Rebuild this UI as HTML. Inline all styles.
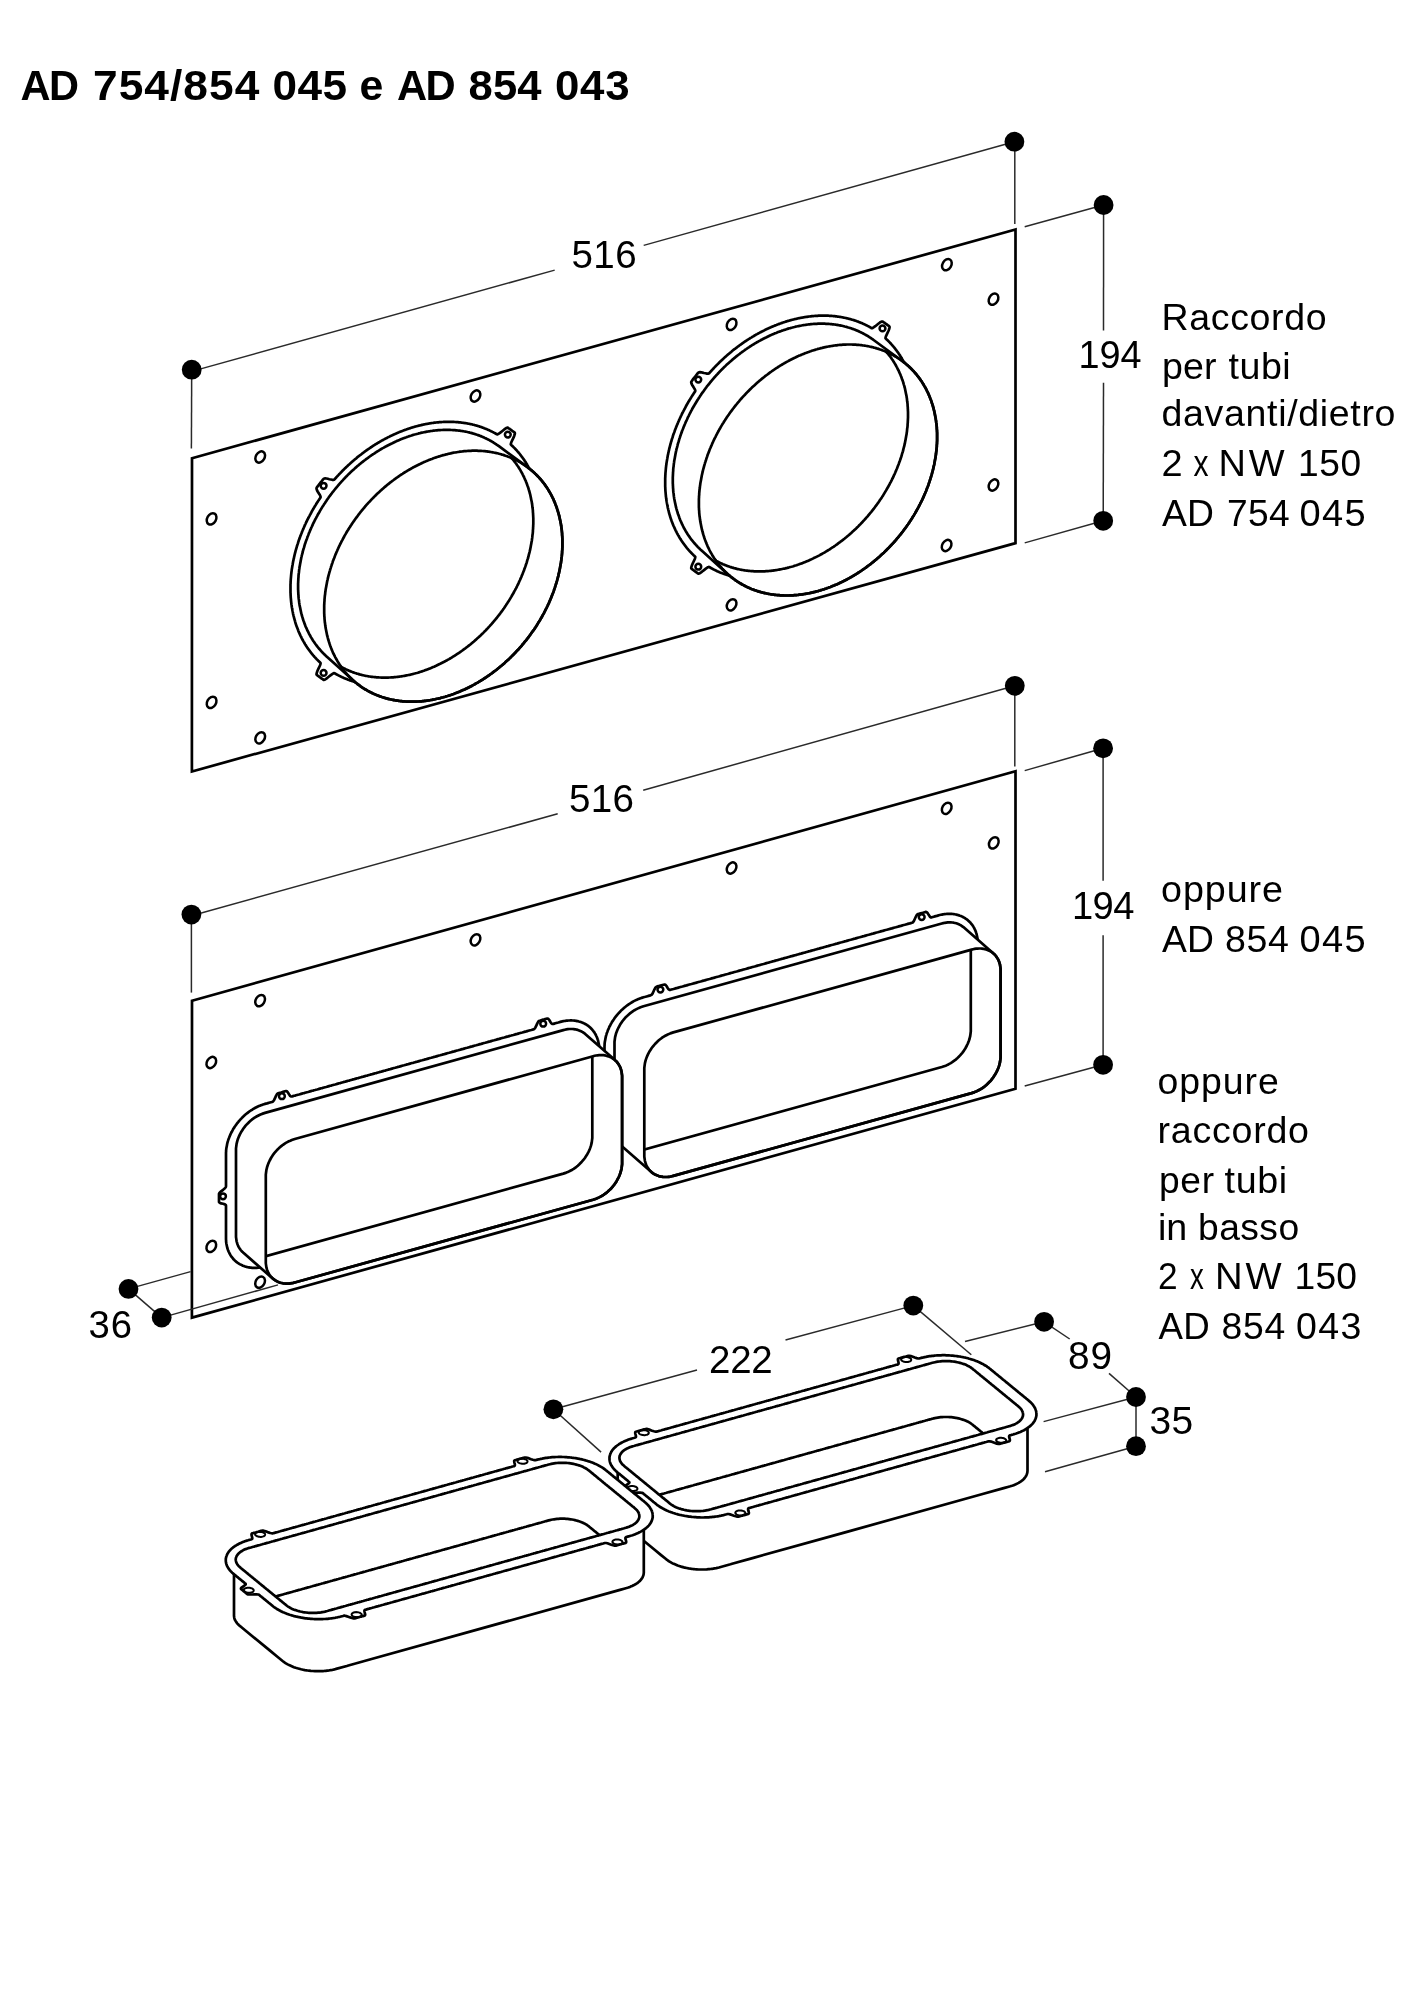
<!DOCTYPE html>
<html><head><meta charset="utf-8"><style>
html,body{margin:0;padding:0;background:#fff;}
svg{display:block;will-change:transform;}
.t{font-family:"Liberation Sans",sans-serif;fill:#000;}
</style></head><body>
<svg width="1424" height="2000" viewBox="0 0 1424 2000">
<rect width="1424" height="2000" fill="#fff"/>
<path d="M192.0,458.2 L1015.5,229.5 L1015.5,543.1 L191.9,771.5Z" fill="#fff" stroke="#000" stroke-width="2.7" stroke-linecap="round" stroke-linejoin="miter"/>
<ellipse cx="260.2" cy="457.0" rx="6.0" ry="4.4" transform="rotate(-60 260.2 457.0)" fill="none" stroke="#000" stroke-width="2.5"/>
<ellipse cx="211.6" cy="518.9" rx="6.0" ry="4.4" transform="rotate(-60 211.6 518.9)" fill="none" stroke="#000" stroke-width="2.5"/>
<ellipse cx="211.6" cy="702.4" rx="6.0" ry="4.4" transform="rotate(-60 211.6 702.4)" fill="none" stroke="#000" stroke-width="2.5"/>
<ellipse cx="260.2" cy="737.8" rx="6.0" ry="4.4" transform="rotate(-60 260.2 737.8)" fill="none" stroke="#000" stroke-width="2.5"/>
<ellipse cx="475.5" cy="396.0" rx="6.0" ry="4.4" transform="rotate(-60 475.5 396.0)" fill="none" stroke="#000" stroke-width="2.5"/>
<ellipse cx="731.6" cy="324.4" rx="6.0" ry="4.4" transform="rotate(-60 731.6 324.4)" fill="none" stroke="#000" stroke-width="2.5"/>
<ellipse cx="946.9" cy="264.7" rx="6.0" ry="4.4" transform="rotate(-60 946.9 264.7)" fill="none" stroke="#000" stroke-width="2.5"/>
<ellipse cx="993.5" cy="299.2" rx="6.0" ry="4.4" transform="rotate(-60 993.5 299.2)" fill="none" stroke="#000" stroke-width="2.5"/>
<ellipse cx="993.5" cy="485.0" rx="6.0" ry="4.4" transform="rotate(-60 993.5 485.0)" fill="none" stroke="#000" stroke-width="2.5"/>
<ellipse cx="946.6" cy="545.5" rx="6.0" ry="4.4" transform="rotate(-60 946.6 545.5)" fill="none" stroke="#000" stroke-width="2.5"/>
<ellipse cx="731.6" cy="604.8" rx="6.0" ry="4.4" transform="rotate(-60 731.6 604.8)" fill="none" stroke="#000" stroke-width="2.5"/>
<ellipse cx="475.5" cy="675.0" rx="6.0" ry="4.4" transform="rotate(-60 475.5 675.0)" fill="none" stroke="#000" stroke-width="2.5"/>
<path d="M540.9,519.0 L540.9,519.5 L540.9,520.1 L540.9,520.7 L540.9,521.3 L540.9,521.8 L540.9,522.4 L540.9,523.0 L540.9,523.6 L540.8,524.1 L540.8,524.7 L540.8,525.3 L540.8,525.9 L540.7,526.4 L540.7,527.0 L540.7,527.6 L540.6,528.2 L540.6,528.8 L540.5,529.4 L540.5,529.9 L540.4,530.5 L540.4,531.1 L540.3,531.7 L540.3,532.3 L540.2,532.9 L540.2,533.4 L540.1,534.0 L540.0,534.6 L540.0,535.2 L539.9,535.8 L539.8,536.4 L539.7,537.0 L539.7,537.5 L539.6,538.1 L539.5,538.7 L539.4,539.3 L539.3,539.9 L539.2,540.5 L539.1,541.1 L539.0,541.7 L538.9,542.3 L538.8,542.8 L538.7,543.4 L538.6,544.0 L538.5,544.6 L538.4,545.2 L538.3,545.8 L538.2,546.4 L538.0,547.0 L537.9,547.6 L537.8,548.2 L537.7,548.8 L537.5,549.3 L537.4,549.9 L537.3,550.5 L537.1,551.1 L537.0,551.7 L536.9,552.3 L536.7,552.9 L536.6,553.5 L536.4,554.1 L536.3,554.7 L536.1,555.3 L536.0,555.9 L535.8,556.4 L535.7,557.0 L535.5,557.6 L535.3,558.2 L535.2,558.8 L535.0,559.4 L534.8,560.0 L534.6,560.6 L534.5,561.2 L534.3,561.8 L534.1,562.4 L533.9,563.0 L533.7,563.5 L533.5,564.1 L533.3,564.7 L533.2,565.3 L533.0,565.9 L532.8,566.5 L532.6,567.1 L532.4,567.7 L532.1,568.3 L531.9,568.9 L531.7,569.4 L531.5,570.0 L531.3,570.6 L531.1,571.2 L530.9,571.8 L530.6,572.4 L530.4,573.0 L530.2,573.5 L530.0,574.1 L529.7,574.7 L529.5,575.3 L529.3,575.9 L529.0,576.5 L528.8,577.1 L528.5,577.6 L528.3,578.2 L528.0,578.8 L527.8,579.4 L527.5,580.0 L527.3,580.5 L527.0,581.1 L526.8,581.7 L526.5,582.3 L526.3,582.9 L526.0,583.4 L525.7,584.0 L525.5,584.6 L525.2,585.2 L524.9,585.7 L524.6,586.3 L524.4,586.9 L524.1,587.5 L523.8,588.0 L523.5,588.6 L523.2,589.2 L522.9,589.7 L522.6,590.3 L522.3,590.9 L522.0,591.4 L521.7,592.0 L521.4,592.6 L521.1,593.1 L520.8,593.7 L520.5,594.3 L520.2,594.8 L519.9,595.4 L519.6,596.0 L519.3,596.5 L519.0,597.1 L518.7,597.6 L518.3,598.2 L518.0,598.8 L517.7,599.3 L517.4,599.9 L517.0,600.4 L516.7,601.0 L516.4,601.5 L516.0,602.1 L515.7,602.6 L515.3,603.2 L515.0,603.7 L514.7,604.3 L514.3,604.8 L514.0,605.4 L513.6,605.9 L513.3,606.5 L512.9,607.0 L512.6,607.5 L512.2,608.1 L511.8,608.6 L511.5,609.2 L511.1,609.7 L510.8,610.3 L510.9,611.1 L511.3,612.1 L512.0,613.2 L512.8,614.5 L513.6,615.8 L514.3,617.0 L514.7,618.1 L514.9,619.1 L514.7,619.8 L514.3,620.3 L513.9,620.9 L513.5,621.5 L513.0,622.0 L512.6,622.6 L512.2,623.1 L511.8,623.7 L511.3,624.3 L510.9,624.8 L510.5,625.4 L510.0,625.9 L509.6,626.5 L509.2,627.0 L508.7,627.6 L508.3,628.1 L507.8,628.6 L507.2,629.0 L506.2,629.1 L505.0,629.0 L503.6,628.7 L502.1,628.3 L500.6,628.0 L499.2,627.7 L498.1,627.6 L497.3,627.8 L496.8,628.2 L496.4,628.7 L496.0,629.2 L495.5,629.6 L495.1,630.1 L494.7,630.6 L494.2,631.1 L493.8,631.6 L493.3,632.0 L492.9,632.5 L492.5,633.0 L492.0,633.5 L491.6,633.9 L491.1,634.4 L490.7,634.9 L490.2,635.3 L489.8,635.8 L489.3,636.3 L488.9,636.7 L488.4,637.2 L487.9,637.6 L487.5,638.1 L487.0,638.6 L486.6,639.0 L486.1,639.5 L485.6,639.9 L485.2,640.4 L484.7,640.8 L484.2,641.2 L483.8,641.7 L483.3,642.1 L482.8,642.6 L482.3,643.0 L481.9,643.4 L481.4,643.9 L480.9,644.3 L480.4,644.7 L479.9,645.2 L479.5,645.6 L479.0,646.0 L478.5,646.4 L478.0,646.9 L477.5,647.3 L477.0,647.7 L476.5,648.1 L476.0,648.5 L475.5,648.9 L475.0,649.3 L474.6,649.7 L474.1,650.2 L473.6,650.6 L473.1,651.0 L472.6,651.4 L472.1,651.8 L471.6,652.1 L471.1,652.5 L470.5,652.9 L470.0,653.3 L469.5,653.7 L469.0,654.1 L468.5,654.5 L468.0,654.9 L467.5,655.2 L467.0,655.6 L466.5,656.0 L466.0,656.4 L465.4,656.7 L464.9,657.1 L464.4,657.5 L463.9,657.8 L463.4,658.2 L462.8,658.6 L462.3,658.9 L461.8,659.3 L461.3,659.6 L460.8,660.0 L460.2,660.3 L459.7,660.7 L459.2,661.0 L458.7,661.4 L458.1,661.7 L457.6,662.1 L457.1,662.4 L456.5,662.7 L456.0,663.1 L455.5,663.4 L454.9,663.7 L454.4,664.0 L453.9,664.4 L453.3,664.7 L452.8,665.0 L452.3,665.3 L451.7,665.6 L451.2,666.0 L450.6,666.3 L450.1,666.6 L449.6,666.9 L449.0,667.2 L448.5,667.5 L447.9,667.8 L447.4,668.1 L446.8,668.4 L446.3,668.7 L445.8,669.0 L445.2,669.2 L444.7,669.5 L444.1,669.8 L443.6,670.1 L443.0,670.4 L442.5,670.6 L441.9,670.9 L441.4,671.2 L440.8,671.5 L440.3,671.7 L439.7,672.0 L439.2,672.2 L438.6,672.5 L438.1,672.8 L437.5,673.0 L437.0,673.3 L436.4,673.5 L435.8,673.8 L435.3,674.0 L434.7,674.3 L434.2,674.5 L433.6,674.7 L433.1,675.0 L432.5,675.2 L432.0,675.4 L431.4,675.7 L430.8,675.9 L430.3,676.1 L429.7,676.3 L429.2,676.5 L428.6,676.8 L428.0,677.0 L427.5,677.2 L426.9,677.4 L426.4,677.6 L425.8,677.8 L425.2,678.0 L424.7,678.2 L424.1,678.4 L423.6,678.6 L423.0,678.8 L422.4,679.0 L421.9,679.1 L421.3,679.3 L420.8,679.5 L420.2,679.7 L419.6,679.9 L419.1,680.0 L418.5,680.2 L417.9,680.4 L417.4,680.5 L416.8,680.7 L416.3,680.9 L415.7,681.0 L415.1,681.2 L414.6,681.3 L414.0,681.5 L413.5,681.6 L412.9,681.8 L412.3,681.9 L411.8,682.0 L411.2,682.2 L410.6,682.3 L410.1,682.4 L409.5,682.6 L409.0,682.7 L408.4,682.8 L407.8,683.0 L407.3,683.1 L406.7,683.2 L406.2,683.3 L405.6,683.4 L405.0,683.5 L404.5,683.6 L403.9,683.7 L403.4,683.8 L402.8,683.9 L402.2,684.0 L401.7,684.1 L401.1,684.2 L400.6,684.3 L400.0,684.4 L399.4,684.5 L398.9,684.5 L398.3,684.6 L397.8,684.7 L397.2,684.8 L396.7,684.8 L396.1,684.9 L395.6,685.0 L395.0,685.0 L394.4,685.1 L393.9,685.1 L393.3,685.2 L392.8,685.2 L392.2,685.3 L391.7,685.3 L391.1,685.4 L390.6,685.4 L390.0,685.4 L389.5,685.5 L388.9,685.5 L388.4,685.5 L387.8,685.6 L387.3,685.6 L386.7,685.6 L386.2,685.6 L385.6,685.6 L385.1,685.7 L384.6,685.7 L384.0,685.7 L383.5,685.7 L382.9,685.7 L382.4,685.7 L381.8,685.7 L381.3,685.7 L380.8,685.7 L380.2,685.7 L379.7,685.6 L379.1,685.6 L378.6,685.6 L378.1,685.6 L377.5,685.6 L377.0,685.5 L376.5,685.5 L375.9,685.5 L375.4,685.4 L374.9,685.4 L374.3,685.4 L373.8,685.3 L373.3,685.3 L372.7,685.2 L372.2,685.2 L371.7,685.1 L371.2,685.1 L370.6,685.0 L370.1,684.9 L369.6,684.9 L369.1,684.8 L368.6,684.7 L368.0,684.7 L367.5,684.6 L367.0,684.5 L366.5,684.4 L366.0,684.4 L365.4,684.3 L364.9,684.2 L364.4,684.1 L363.9,684.0 L363.4,683.9 L362.9,683.8 L362.4,683.7 L361.9,683.6 L361.4,683.5 L360.9,683.4 L360.3,683.3 L359.8,683.2 L359.3,683.1 L358.8,682.9 L358.3,682.8 L357.8,682.7 L357.3,682.6 L356.8,682.4 L356.4,682.3 L355.9,682.2 L355.4,682.0 L354.9,681.9 L354.4,681.7 L353.9,681.6 L353.4,681.5 L352.9,681.3 L352.4,681.2 L351.9,681.0 L351.5,680.8 L351.0,680.7 L350.5,680.5 L350.0,680.4 L349.5,680.2 L349.1,680.0 L348.6,679.8 L348.1,679.7 L347.6,679.5 L347.2,679.3 L346.7,679.1 L346.2,678.9 L345.8,678.8 L345.3,678.6 L344.8,678.4 L344.4,678.2 L343.9,678.0 L343.5,677.8 L343.0,677.6 L342.5,677.4 L342.1,677.2 L341.6,676.9 L341.2,676.7 L340.7,676.5 L340.3,676.3 L339.8,676.1 L339.4,675.9 L338.9,675.6 L338.5,675.4 L338.1,675.2 L337.6,674.9 L337.2,674.7 L336.7,674.5 L336.3,674.2 L335.9,674.0 L335.4,673.7 L335.0,673.5 L334.6,673.2 L334.1,673.1 L333.3,673.4 L332.2,674.1 L330.8,675.1 L329.3,676.3 L327.8,677.5 L326.4,678.6 L325.2,679.4 L324.2,679.8 L323.6,679.8 L323.1,679.5 L322.7,679.2 L322.2,678.9 L321.8,678.6 L321.4,678.3 L320.9,678.0 L320.5,677.7 L320.1,677.4 L319.6,677.1 L319.2,676.7 L318.8,676.4 L318.4,676.1 L317.9,675.8 L317.5,675.4 L317.1,675.1 L316.7,674.8 L316.5,674.2 L316.7,673.1 L317.1,671.8 L317.8,670.1 L318.6,668.4 L319.4,666.7 L320.1,665.2 L320.5,663.9 L320.6,663.1 L320.3,662.7 L319.9,662.3 L319.6,662.0 L319.2,661.7 L318.8,661.3 L318.5,661.0 L318.1,660.6 L317.8,660.3 L317.4,659.9 L317.1,659.6 L316.7,659.2 L316.4,658.9 L316.1,658.5 L315.7,658.2 L315.4,657.8 L315.0,657.4 L314.7,657.1 L314.4,656.7 L314.0,656.3 L313.7,655.9 L313.4,655.6 L313.1,655.2 L312.7,654.8 L312.4,654.4 L312.1,654.1 L311.8,653.7 L311.5,653.3 L311.2,652.9 L310.9,652.5 L310.6,652.1 L310.3,651.7 L310.0,651.3 L309.7,650.9 L309.4,650.5 L309.1,650.1 L308.8,649.7 L308.5,649.3 L308.2,648.9 L307.9,648.5 L307.6,648.1 L307.3,647.6 L307.0,647.2 L306.8,646.8 L306.5,646.4 L306.2,646.0 L305.9,645.5 L305.7,645.1 L305.4,644.7 L305.1,644.3 L304.9,643.8 L304.6,643.4 L304.4,643.0 L304.1,642.5 L303.9,642.1 L303.6,641.6 L303.4,641.2 L303.1,640.8 L302.9,640.3 L302.6,639.9 L302.4,639.4 L302.1,639.0 L301.9,638.5 L301.7,638.0 L301.4,637.6 L301.2,637.1 L301.0,636.7 L300.8,636.2 L300.5,635.8 L300.3,635.3 L300.1,634.8 L299.9,634.4 L299.7,633.9 L299.5,633.4 L299.3,632.9 L299.0,632.5 L298.8,632.0 L298.6,631.5 L298.4,631.0 L298.2,630.6 L298.1,630.1 L297.9,629.6 L297.7,629.1 L297.5,628.6 L297.3,628.1 L297.1,627.6 L296.9,627.1 L296.8,626.7 L296.6,626.2 L296.4,625.7 L296.2,625.2 L296.1,624.7 L295.9,624.2 L295.7,623.7 L295.6,623.2 L295.4,622.7 L295.3,622.2 L295.1,621.6 L295.0,621.1 L294.8,620.6 L294.7,620.1 L294.5,619.6 L294.4,619.1 L294.3,618.6 L294.1,618.1 L294.0,617.5 L293.9,617.0 L293.7,616.5 L293.6,616.0 L293.5,615.5 L293.4,614.9 L293.2,614.4 L293.1,613.9 L293.0,613.4 L292.9,612.8 L292.8,612.3 L292.7,611.8 L292.6,611.2 L292.5,610.7 L292.4,610.2 L292.3,609.6 L292.2,609.1 L292.1,608.6 L292.0,608.0 L291.9,607.5 L291.8,606.9 L291.7,606.4 L291.7,605.8 L291.6,605.3 L291.5,604.8 L291.4,604.2 L291.4,603.7 L291.3,603.1 L291.2,602.6 L291.2,602.0 L291.1,601.5 L291.1,600.9 L291.0,600.4 L291.0,599.8 L290.9,599.2 L290.9,598.7 L290.8,598.1 L290.8,597.6 L290.7,597.0 L290.7,596.5 L290.7,595.9 L290.6,595.3 L290.6,594.8 L290.6,594.2 L290.6,593.6 L290.5,593.1 L290.5,592.5 L290.5,591.9 L290.5,591.4 L290.5,590.8 L290.5,590.2 L290.5,589.7 L290.5,589.1 L290.5,588.5 L290.5,588.0 L290.5,587.4 L290.5,586.8 L290.5,586.2 L290.5,585.7 L290.5,585.1 L290.5,584.5 L290.5,583.9 L290.6,583.4 L290.6,582.8 L290.6,582.2 L290.6,581.6 L290.7,581.1 L290.7,580.5 L290.7,579.9 L290.8,579.3 L290.8,578.7 L290.9,578.1 L290.9,577.6 L291.0,577.0 L291.0,576.4 L291.1,575.8 L291.1,575.2 L291.2,574.6 L291.2,574.1 L291.3,573.5 L291.4,572.9 L291.4,572.3 L291.5,571.7 L291.6,571.1 L291.7,570.5 L291.7,570.0 L291.8,569.4 L291.9,568.8 L292.0,568.2 L292.1,567.6 L292.2,567.0 L292.3,566.4 L292.4,565.8 L292.5,565.2 L292.6,564.7 L292.7,564.1 L292.8,563.5 L292.9,562.9 L293.0,562.3 L293.1,561.7 L293.2,561.1 L293.4,560.5 L293.5,559.9 L293.6,559.3 L293.7,558.7 L293.9,558.2 L294.0,557.6 L294.1,557.0 L294.3,556.4 L294.4,555.8 L294.5,555.2 L294.7,554.6 L294.8,554.0 L295.0,553.4 L295.1,552.8 L295.3,552.2 L295.4,551.6 L295.6,551.1 L295.7,550.5 L295.9,549.9 L296.1,549.3 L296.2,548.7 L296.4,548.1 L296.6,547.5 L296.8,546.9 L296.9,546.3 L297.1,545.7 L297.3,545.1 L297.5,544.5 L297.7,544.0 L297.9,543.4 L298.1,542.8 L298.2,542.2 L298.4,541.6 L298.6,541.0 L298.8,540.4 L299.0,539.8 L299.3,539.2 L299.5,538.6 L299.7,538.1 L299.9,537.5 L300.1,536.9 L300.3,536.3 L300.5,535.7 L300.8,535.1 L301.0,534.5 L301.2,534.0 L301.4,533.4 L301.7,532.8 L301.9,532.2 L302.1,531.6 L302.4,531.0 L302.6,530.4 L302.9,529.9 L303.1,529.3 L303.4,528.7 L303.6,528.1 L303.9,527.5 L304.1,527.0 L304.4,526.4 L304.6,525.8 L304.9,525.2 L305.1,524.6 L305.4,524.1 L305.7,523.5 L305.9,522.9 L306.2,522.3 L306.5,521.8 L306.8,521.2 L307.0,520.6 L307.3,520.0 L307.6,519.5 L307.9,518.9 L308.2,518.3 L308.5,517.8 L308.8,517.2 L309.1,516.6 L309.4,516.1 L309.7,515.5 L310.0,514.9 L310.3,514.4 L310.6,513.8 L310.9,513.2 L311.2,512.7 L311.5,512.1 L311.8,511.5 L312.1,511.0 L312.4,510.4 L312.7,509.9 L313.1,509.3 L313.4,508.7 L313.7,508.2 L314.0,507.6 L314.4,507.1 L314.7,506.5 L315.0,506.0 L315.4,505.4 L315.7,504.9 L316.1,504.3 L316.4,503.8 L316.7,503.2 L317.1,502.7 L317.4,502.1 L317.8,501.6 L318.1,501.0 L318.5,500.5 L318.8,500.0 L319.2,499.4 L319.6,498.9 L319.9,498.3 L320.3,497.8 L320.6,497.2 L320.5,496.4 L320.1,495.4 L319.4,494.3 L318.6,493.0 L317.8,491.7 L317.1,490.5 L316.7,489.4 L316.5,488.4 L316.7,487.7 L317.1,487.2 L317.5,486.6 L317.9,486.0 L318.4,485.5 L318.8,484.9 L319.2,484.4 L319.6,483.8 L320.1,483.2 L320.5,482.7 L320.9,482.1 L321.4,481.6 L321.8,481.0 L322.2,480.5 L322.7,479.9 L323.1,479.4 L323.6,478.9 L324.2,478.5 L325.2,478.4 L326.4,478.5 L327.8,478.8 L329.3,479.2 L330.8,479.5 L332.2,479.8 L333.3,479.9 L334.1,479.7 L334.6,479.3 L335.0,478.8 L335.4,478.3 L335.9,477.9 L336.3,477.4 L336.7,476.9 L337.2,476.4 L337.6,475.9 L338.1,475.5 L338.5,475.0 L338.9,474.5 L339.4,474.0 L339.8,473.6 L340.3,473.1 L340.7,472.6 L341.2,472.2 L341.6,471.7 L342.1,471.2 L342.5,470.8 L343.0,470.3 L343.5,469.9 L343.9,469.4 L344.4,468.9 L344.8,468.5 L345.3,468.0 L345.8,467.6 L346.2,467.1 L346.7,466.7 L347.2,466.3 L347.6,465.8 L348.1,465.4 L348.6,464.9 L349.1,464.5 L349.5,464.1 L350.0,463.6 L350.5,463.2 L351.0,462.8 L351.5,462.3 L351.9,461.9 L352.4,461.5 L352.9,461.1 L353.4,460.6 L353.9,460.2 L354.4,459.8 L354.9,459.4 L355.4,459.0 L355.9,458.6 L356.4,458.2 L356.8,457.8 L357.3,457.3 L357.8,456.9 L358.3,456.5 L358.8,456.1 L359.3,455.7 L359.8,455.4 L360.3,455.0 L360.9,454.6 L361.4,454.2 L361.9,453.8 L362.4,453.4 L362.9,453.0 L363.4,452.6 L363.9,452.3 L364.4,451.9 L364.9,451.5 L365.4,451.1 L366.0,450.8 L366.5,450.4 L367.0,450.0 L367.5,449.7 L368.0,449.3 L368.6,448.9 L369.1,448.6 L369.6,448.2 L370.1,447.9 L370.6,447.5 L371.2,447.2 L371.7,446.8 L372.2,446.5 L372.7,446.1 L373.3,445.8 L373.8,445.4 L374.3,445.1 L374.9,444.8 L375.4,444.4 L375.9,444.1 L376.5,443.8 L377.0,443.5 L377.5,443.1 L378.1,442.8 L378.6,442.5 L379.1,442.2 L379.7,441.9 L380.2,441.5 L380.8,441.2 L381.3,440.9 L381.8,440.6 L382.4,440.3 L382.9,440.0 L383.5,439.7 L384.0,439.4 L384.6,439.1 L385.1,438.8 L385.6,438.5 L386.2,438.3 L386.7,438.0 L387.3,437.7 L387.8,437.4 L388.4,437.1 L388.9,436.9 L389.5,436.6 L390.0,436.3 L390.6,436.0 L391.1,435.8 L391.7,435.5 L392.2,435.3 L392.8,435.0 L393.3,434.7 L393.9,434.5 L394.4,434.2 L395.0,434.0 L395.6,433.7 L396.1,433.5 L396.7,433.2 L397.2,433.0 L397.8,432.8 L398.3,432.5 L398.9,432.3 L399.4,432.1 L400.0,431.8 L400.6,431.6 L401.1,431.4 L401.7,431.2 L402.2,431.0 L402.8,430.7 L403.4,430.5 L403.9,430.3 L404.5,430.1 L405.0,429.9 L405.6,429.7 L406.2,429.5 L406.7,429.3 L407.3,429.1 L407.8,428.9 L408.4,428.7 L409.0,428.5 L409.5,428.4 L410.1,428.2 L410.6,428.0 L411.2,427.8 L411.8,427.6 L412.3,427.5 L412.9,427.3 L413.5,427.1 L414.0,427.0 L414.6,426.8 L415.1,426.6 L415.7,426.5 L416.3,426.3 L416.8,426.2 L417.4,426.0 L417.9,425.9 L418.5,425.7 L419.1,425.6 L419.6,425.5 L420.2,425.3 L420.8,425.2 L421.3,425.1 L421.9,424.9 L422.4,424.8 L423.0,424.7 L423.6,424.5 L424.1,424.4 L424.7,424.3 L425.2,424.2 L425.8,424.1 L426.4,424.0 L426.9,423.9 L427.5,423.8 L428.0,423.7 L428.6,423.6 L429.2,423.5 L429.7,423.4 L430.3,423.3 L430.8,423.2 L431.4,423.1 L432.0,423.0 L432.5,423.0 L433.1,422.9 L433.6,422.8 L434.2,422.7 L434.7,422.7 L435.3,422.6 L435.8,422.5 L436.4,422.5 L437.0,422.4 L437.5,422.4 L438.1,422.3 L438.6,422.3 L439.2,422.2 L439.7,422.2 L440.3,422.1 L440.8,422.1 L441.4,422.1 L441.9,422.0 L442.5,422.0 L443.0,422.0 L443.6,421.9 L444.1,421.9 L444.7,421.9 L445.2,421.9 L445.8,421.9 L446.3,421.8 L446.8,421.8 L447.4,421.8 L447.9,421.8 L448.5,421.8 L449.0,421.8 L449.6,421.8 L450.1,421.8 L450.6,421.8 L451.2,421.8 L451.7,421.9 L452.3,421.9 L452.8,421.9 L453.3,421.9 L453.9,421.9 L454.4,422.0 L454.9,422.0 L455.5,422.0 L456.0,422.1 L456.5,422.1 L457.1,422.1 L457.6,422.2 L458.1,422.2 L458.7,422.3 L459.2,422.3 L459.7,422.4 L460.2,422.4 L460.8,422.5 L461.3,422.6 L461.8,422.6 L462.3,422.7 L462.8,422.8 L463.4,422.8 L463.9,422.9 L464.4,423.0 L464.9,423.1 L465.4,423.1 L466.0,423.2 L466.5,423.3 L467.0,423.4 L467.5,423.5 L468.0,423.6 L468.5,423.7 L469.0,423.8 L469.5,423.9 L470.0,424.0 L470.5,424.1 L471.1,424.2 L471.6,424.3 L472.1,424.4 L472.6,424.6 L473.1,424.7 L473.6,424.8 L474.1,424.9 L474.6,425.1 L475.0,425.2 L475.5,425.3 L476.0,425.5 L476.5,425.6 L477.0,425.8 L477.5,425.9 L478.0,426.0 L478.5,426.2 L479.0,426.3 L479.5,426.5 L479.9,426.7 L480.4,426.8 L480.9,427.0 L481.4,427.1 L481.9,427.3 L482.3,427.5 L482.8,427.7 L483.3,427.8 L483.8,428.0 L484.2,428.2 L484.7,428.4 L485.2,428.6 L485.6,428.7 L486.1,428.9 L486.6,429.1 L487.0,429.3 L487.5,429.5 L487.9,429.7 L488.4,429.9 L488.9,430.1 L489.3,430.3 L489.8,430.6 L490.2,430.8 L490.7,431.0 L491.1,431.2 L491.6,431.4 L492.0,431.6 L492.5,431.9 L492.9,432.1 L493.3,432.3 L493.8,432.6 L494.2,432.8 L494.7,433.0 L495.1,433.3 L495.5,433.5 L496.0,433.8 L496.4,434.0 L496.8,434.3 L497.3,434.4 L498.1,434.1 L499.2,433.4 L500.6,432.4 L502.1,431.2 L503.6,430.0 L505.0,428.9 L506.2,428.1 L507.2,427.7 L507.8,427.7 L508.3,428.0 L508.7,428.3 L509.2,428.6 L509.6,428.9 L510.0,429.2 L510.5,429.5 L510.9,429.8 L511.3,430.1 L511.8,430.4 L512.2,430.8 L512.6,431.1 L513.0,431.4 L513.5,431.7 L513.9,432.1 L514.3,432.4 L514.7,432.7 L514.9,433.3 L514.7,434.4 L514.3,435.7 L513.6,437.4 L512.8,439.1 L512.0,440.8 L511.3,442.3 L510.9,443.6 L510.8,444.4 L511.1,444.8 L511.5,445.2 L511.8,445.5 L512.2,445.8 L512.6,446.2 L512.9,446.5 L513.3,446.9 L513.6,447.2 L514.0,447.6 L514.3,447.9 L514.7,448.3 L515.0,448.6 L515.3,449.0 L515.7,449.3 L516.0,449.7 L516.4,450.1 L516.7,450.4 L517.0,450.8 L517.4,451.2 L517.7,451.6 L518.0,451.9 L518.3,452.3 L518.7,452.7 L519.0,453.1 L519.3,453.4 L519.6,453.8 L519.9,454.2 L520.2,454.6 L520.5,455.0 L520.8,455.4 L521.1,455.8 L521.4,456.2 L521.7,456.6 L522.0,457.0 L522.3,457.4 L522.6,457.8 L522.9,458.2 L523.2,458.6 L523.5,459.0 L523.8,459.4 L524.1,459.9 L524.4,460.3 L524.6,460.7 L524.9,461.1 L525.2,461.5 L525.5,462.0 L525.7,462.4 L526.0,462.8 L526.3,463.2 L526.5,463.7 L526.8,464.1 L527.0,464.5 L527.3,465.0 L527.5,465.4 L527.8,465.9 L528.0,466.3 L528.3,466.7 L528.5,467.2 L528.8,467.6 L529.0,468.1 L529.3,468.5 L529.5,469.0 L529.7,469.5 L530.0,469.9 L530.2,470.4 L530.4,470.8 L530.6,471.3 L530.9,471.7 L531.1,472.2 L531.3,472.7 L531.5,473.1 L531.7,473.6 L531.9,474.1 L532.1,474.6 L532.4,475.0 L532.6,475.5 L532.8,476.0 L533.0,476.5 L533.2,476.9 L533.3,477.4 L533.5,477.9 L533.7,478.4 L533.9,478.9 L534.1,479.4 L534.3,479.9 L534.5,480.4 L534.6,480.8 L534.8,481.3 L535.0,481.8 L535.2,482.3 L535.3,482.8 L535.5,483.3 L535.7,483.8 L535.8,484.3 L536.0,484.8 L536.1,485.3 L536.3,485.9 L536.4,486.4 L536.6,486.9 L536.7,487.4 L536.9,487.9 L537.0,488.4 L537.1,488.9 L537.3,489.4 L537.4,490.0 L537.5,490.5 L537.7,491.0 L537.8,491.5 L537.9,492.0 L538.0,492.6 L538.2,493.1 L538.3,493.6 L538.4,494.1 L538.5,494.7 L538.6,495.2 L538.7,495.7 L538.8,496.3 L538.9,496.8 L539.0,497.3 L539.1,497.9 L539.2,498.4 L539.3,498.9 L539.4,499.5 L539.5,500.0 L539.6,500.6 L539.7,501.1 L539.7,501.7 L539.8,502.2 L539.9,502.7 L540.0,503.3 L540.0,503.8 L540.1,504.4 L540.2,504.9 L540.2,505.5 L540.3,506.0 L540.3,506.6 L540.4,507.1 L540.4,507.7 L540.5,508.3 L540.5,508.8 L540.6,509.4 L540.6,509.9 L540.7,510.5 L540.7,511.0 L540.7,511.6 L540.8,512.2 L540.8,512.7 L540.8,513.3 L540.8,513.9 L540.9,514.4 L540.9,515.0 L540.9,515.6 L540.9,516.1 L540.9,516.7 L540.9,517.3 L540.9,517.8 L540.9,518.4Z" fill="#fff" stroke="#000" stroke-width="2.7" stroke-linejoin="round" stroke-linecap="round" />
<circle cx="323.6" cy="485.8" r="2.9" fill="none" stroke="#000" stroke-width="2.5"/>
<circle cx="507.8" cy="434.6" r="2.9" fill="none" stroke="#000" stroke-width="2.5"/>
<circle cx="323.6" cy="672.9" r="2.9" fill="none" stroke="#000" stroke-width="2.5"/>
<circle cx="507.8" cy="621.7" r="2.9" fill="none" stroke="#000" stroke-width="2.5"/>
<path d="M298.1,586.4 L298.1,585.4 L298.1,584.3 L298.1,583.3 L298.2,582.2 L298.2,581.2 L298.3,580.1 L298.3,579.1 L298.4,578.0 L298.5,576.9 L298.5,575.9 L298.6,574.8 L298.7,573.7 L298.9,572.7 L299.0,571.6 L299.1,570.5 L299.2,569.5 L299.4,568.4 L299.5,567.3 L299.7,566.2 L299.9,565.2 L300.1,564.1 L300.3,563.0 L300.5,561.9 L300.7,560.8 L300.9,559.8 L301.1,558.7 L301.3,557.6 L301.6,556.5 L301.8,555.4 L302.1,554.4 L302.4,553.3 L302.7,552.2 L302.9,551.1 L303.2,550.0 L303.5,549.0 L303.9,547.9 L304.2,546.8 L304.5,545.7 L304.8,544.6 L305.2,543.6 L305.5,542.5 L305.9,541.4 L306.3,540.3 L306.7,539.3 L307.1,538.2 L307.4,537.1 L307.9,536.0 L308.3,535.0 L308.7,533.9 L309.1,532.8 L309.6,531.8 L310.0,530.7 L310.5,529.7 L310.9,528.6 L311.4,527.5 L311.9,526.5 L312.4,525.4 L312.8,524.4 L313.3,523.3 L313.9,522.3 L314.4,521.2 L314.9,520.2 L315.4,519.2 L316.0,518.1 L316.5,517.1 L317.1,516.1 L317.6,515.0 L318.2,514.0 L318.8,513.0 L319.4,512.0 L320.0,510.9 L320.6,509.9 L321.2,508.9 L321.8,507.9 L322.4,506.9 L323.0,505.9 L323.7,504.9 L324.3,503.9 L325.0,502.9 L325.6,502.0 L326.3,501.0 L326.9,500.0 L327.6,499.0 L328.3,498.1 L329.0,497.1 L329.7,496.1 L330.4,495.2 L331.1,494.2 L331.8,493.3 L332.5,492.3 L333.3,491.4 L334.0,490.5 L334.8,489.5 L335.5,488.6 L336.3,487.7 L337.0,486.8 L337.8,485.9 L338.5,485.0 L339.3,484.1 L340.1,483.2 L340.9,482.3 L341.7,481.4 L342.5,480.6 L343.3,479.7 L344.1,478.8 L344.9,478.0 L345.7,477.1 L346.6,476.3 L347.4,475.4 L348.2,474.6 L349.1,473.8 L349.9,472.9 L350.8,472.1 L351.6,471.3 L352.5,470.5 L353.4,469.7 L354.3,468.9 L355.1,468.1 L356.0,467.4 L356.9,466.6 L357.8,465.8 L358.7,465.1 L359.6,464.3 L360.5,463.6 L361.4,462.8 L362.3,462.1 L363.2,461.4 L364.1,460.7 L365.1,460.0 L366.0,459.2 L366.9,458.6 L367.9,457.9 L368.8,457.2 L369.8,456.5 L370.7,455.8 L371.6,455.2 L372.6,454.5 L373.6,453.9 L374.5,453.3 L375.5,452.6 L376.4,452.0 L377.4,451.4 L378.4,450.8 L379.4,450.2 L380.3,449.6 L381.3,449.0 L382.3,448.4 L383.3,447.9 L384.3,447.3 L385.3,446.8 L386.3,446.2 L387.2,445.7 L388.2,445.2 L389.2,444.7 L390.2,444.2 L391.2,443.7 L392.3,443.2 L393.3,442.7 L394.3,442.2 L395.3,441.7 L396.3,441.3 L397.3,440.8 L398.3,440.4 L399.3,440.0 L400.4,439.5 L401.4,439.1 L402.4,438.7 L403.4,438.3 L404.4,437.9 L405.4,437.6 L406.5,437.2 L407.5,436.8 L408.5,436.5 L409.5,436.1 L410.6,435.8 L411.6,435.5 L412.6,435.1 L413.6,434.8 L414.7,434.5 L415.7,434.3 L416.7,434.0 L417.8,433.7 L418.8,433.4 L419.8,433.2 L420.8,432.9 L421.9,432.7 L422.9,432.5 L423.9,432.3 L424.9,432.1 L425.9,431.9 L427.0,431.7 L428.0,431.5 L429.0,431.3 L430.0,431.2 L431.1,431.0 L432.1,430.9 L433.1,430.7 L434.1,430.6 L435.1,430.5 L436.1,430.4 L437.1,430.3 L438.1,430.2 L439.1,430.1 L440.1,430.1 L441.2,430.0 L442.2,430.0 L443.2,429.9 L444.1,429.9 L445.1,429.9 L446.1,429.9 L447.1,429.9 L448.1,429.9 L449.1,429.9 L450.1,429.9 L451.1,430.0 L452.0,430.0 L453.0,430.1 L454.0,430.1 L455.0,430.2 L455.9,430.3 L456.9,430.4 L457.8,430.5 L458.8,430.6 L459.8,430.7 L460.7,430.8 L461.6,431.0 L462.6,431.1 L463.5,431.3 L464.5,431.5 L465.4,431.6 L466.3,431.8 L467.3,432.0 L468.2,432.2 L469.1,432.4 L470.0,432.7 L470.9,432.9 L471.8,433.1 L472.7,433.4 L473.6,433.7 L474.5,433.9 L475.4,434.2 L476.3,434.5 L477.1,434.8 L478.0,435.1 L478.9,435.4 L479.8,435.7 L480.6,436.1 L481.5,436.4 L482.3,436.8 L483.2,437.1 L484.0,437.5 L484.8,437.9 L485.7,438.3 L486.5,438.7 L487.3,439.1 L488.1,439.5 L488.9,439.9 L489.7,440.3 L490.5,440.8 L491.3,441.2 L492.1,441.7 L492.9,442.1 L493.6,442.6 L494.4,443.1 L495.1,443.6 L495.9,444.1 L496.6,444.6 L497.4,445.1 L498.1,445.6 L498.9,446.2 L527.5,467.2 L528.3,467.8 L529.0,468.3 L529.7,468.9 L530.4,469.4 L531.1,470.0 L531.8,470.6 L532.5,471.2 L533.2,471.8 L533.9,472.4 L534.6,473.0 L535.2,473.7 L535.9,474.3 L536.5,475.0 L537.2,475.6 L537.8,476.3 L538.4,476.9 L539.1,477.6 L539.7,478.3 L540.3,479.0 L540.9,479.7 L541.5,480.4 L542.1,481.1 L542.6,481.8 L543.2,482.5 L543.8,483.3 L544.3,484.0 L544.9,484.7 L545.4,485.5 L545.9,486.3 L546.5,487.0 L547.0,487.8 L547.5,488.6 L548.0,489.4 L548.5,490.2 L549.0,491.0 L549.4,491.8 L549.9,492.6 L550.4,493.4 L550.8,494.2 L551.3,495.1 L551.7,495.9 L552.1,496.7 L552.5,497.6 L553.0,498.4 L553.4,499.3 L553.8,500.2 L554.1,501.1 L554.5,501.9 L554.9,502.8 L555.2,503.7 L555.6,504.6 L555.9,505.5 L556.3,506.4 L556.6,507.3 L556.9,508.2 L557.2,509.2 L557.5,510.1 L557.8,511.0 L558.1,512.0 L558.4,512.9 L558.6,513.9 L558.9,514.8 L559.1,515.8 L559.4,516.7 L559.6,517.7 L559.8,518.7 L560.0,519.6 L560.2,520.6 L560.4,521.6 L560.6,522.6 L560.8,523.6 L561.0,524.6 L561.1,525.6 L561.3,526.6 L561.4,527.6 L561.5,528.6 L561.7,529.6 L561.8,530.6 L561.9,531.7 L562.0,532.7 L562.1,533.7 L562.1,534.8 L562.2,535.8 L562.3,536.8 L562.3,537.9 L562.4,538.9 L562.4,540.0 L562.4,541.0 L562.4,542.1 L562.4,543.1 L562.4,544.2 L562.4,545.2 L562.4,546.3 L562.4,547.4 L562.3,548.4 L562.3,549.5 L562.2,550.6 L562.1,551.6 L562.1,552.7 L562.0,553.8 L561.9,554.9 L561.8,556.0 L561.7,557.0 L561.5,558.1 L561.4,559.2 L561.3,560.3 L561.1,561.4 L561.0,562.5 L560.8,563.6 L560.6,564.6 L560.4,565.7 L560.2,566.8 L560.0,567.9 L559.8,569.0 L559.6,570.1 L559.4,571.2 L559.1,572.3 L558.9,573.4 L558.6,574.5 L558.4,575.6 L558.1,576.7 L557.8,577.8 L557.5,578.9 L557.2,580.0 L556.9,581.1 L556.6,582.1 L556.3,583.2 L555.9,584.3 L555.6,585.4 L555.2,586.5 L554.9,587.6 L554.5,588.7 L554.1,589.8 L553.8,590.9 L553.4,592.0 L553.0,593.0 L552.5,594.1 L552.1,595.2 L551.7,596.3 L551.3,597.4 L550.8,598.5 L550.4,599.5 L549.9,600.6 L549.4,601.7 L549.0,602.8 L548.5,603.8 L548.0,604.9 L547.5,606.0 L547.0,607.0 L546.5,608.1 L545.9,609.1 L545.4,610.2 L544.9,611.2 L544.3,612.3 L543.8,613.3 L543.2,614.4 L542.6,615.4 L542.1,616.5 L541.5,617.5 L540.9,618.5 L540.3,619.6 L539.7,620.6 L539.1,621.6 L538.4,622.6 L537.8,623.6 L537.2,624.7 L536.5,625.7 L535.9,626.7 L535.2,627.7 L534.6,628.7 L533.9,629.7 L533.2,630.7 L532.5,631.6 L531.8,632.6 L531.1,633.6 L530.4,634.6 L529.7,635.5 L529.0,636.5 L528.3,637.5 L527.5,638.4 L526.8,639.4 L526.1,640.3 L525.3,641.2 L524.5,642.2 L523.8,643.1 L523.0,644.0 L522.2,644.9 L521.5,645.9 L520.7,646.8 L519.9,647.7 L519.1,648.6 L518.3,649.5 L517.5,650.3 L516.6,651.2 L515.8,652.1 L515.0,653.0 L514.2,653.8 L513.3,654.7 L512.5,655.5 L511.6,656.4 L510.8,657.2 L509.9,658.1 L509.1,658.9 L508.2,659.7 L507.3,660.5 L506.4,661.3 L505.5,662.1 L504.7,662.9 L503.8,663.7 L502.9,664.5 L502.0,665.3 L501.1,666.0 L500.1,666.8 L499.2,667.6 L498.3,668.3 L497.4,669.0 L496.5,669.8 L495.5,670.5 L494.6,671.2 L493.6,671.9 L492.7,672.6 L491.8,673.3 L490.8,674.0 L489.8,674.7 L488.9,675.4 L487.9,676.0 L487.0,676.7 L486.0,677.4 L485.0,678.0 L484.0,678.6 L483.1,679.3 L482.1,679.9 L481.1,680.5 L480.1,681.1 L479.1,681.7 L478.1,682.3 L477.1,682.9 L476.1,683.4 L475.1,684.0 L474.1,684.6 L473.1,685.1 L472.1,685.7 L471.1,686.2 L470.1,686.7 L469.1,687.2 L468.1,687.7 L467.1,688.2 L466.0,688.7 L465.0,689.2 L464.0,689.7 L463.0,690.1 L461.9,690.6 L460.9,691.0 L459.9,691.5 L458.8,691.9 L457.8,692.3 L456.8,692.7 L455.8,693.1 L454.7,693.5 L453.7,693.9 L452.6,694.3 L451.6,694.7 L450.6,695.0 L449.5,695.4 L448.5,695.7 L447.5,696.0 L446.4,696.3 L445.4,696.7 L444.3,697.0 L443.3,697.3 L442.3,697.5 L441.2,697.8 L440.2,698.1 L439.1,698.3 L438.1,698.6 L437.1,698.8 L436.0,699.0 L435.0,699.3 L434.0,699.5 L432.9,699.7 L431.9,699.9 L430.8,700.0 L429.8,700.2 L428.8,700.4 L427.8,700.5 L426.7,700.7 L425.7,700.8 L424.7,700.9 L423.6,701.1 L422.6,701.2 L421.6,701.3 L420.6,701.3 L419.6,701.4 L418.5,701.5 L417.5,701.5 L416.5,701.6 L415.5,701.6 L414.5,701.7 L413.5,701.7 L412.5,701.7 L411.5,701.7 L410.5,701.7 L409.5,701.7 L408.5,701.6 L407.5,701.6 L406.5,701.6 L405.5,701.5 L404.5,701.4 L403.5,701.4 L402.6,701.3 L401.6,701.2 L400.6,701.1 L399.6,701.0 L398.7,700.8 L397.7,700.7 L396.8,700.6 L395.8,700.4 L394.8,700.2 L393.9,700.1 L393.0,699.9 L392.0,699.7 L391.1,699.5 L390.1,699.3 L389.2,699.1 L388.3,698.9 L387.4,698.6 L386.5,698.4 L385.5,698.1 L384.6,697.9 L383.7,697.6 L382.8,697.3 L381.9,697.0 L381.1,696.7 L380.2,696.4 L379.3,696.1 L378.4,695.7 L377.5,695.4 L376.7,695.1 L375.8,694.7 L375.0,694.3 L374.1,694.0 L373.3,693.6 L372.4,693.2 L371.6,692.8 L370.8,692.4 L370.0,692.0 L369.1,691.5 L368.3,691.1 L367.5,690.7 L366.7,690.2 L365.9,689.7 L365.1,689.3 L364.4,688.8 L363.6,688.3 L362.8,687.8 L362.1,687.3 L361.3,686.8 L360.5,686.3 L359.8,685.7 L359.1,685.2 L358.3,684.6 L357.6,684.1 L356.9,683.5 L356.2,683.0 L355.5,682.4 L354.8,681.8 L354.1,681.2 L353.4,680.6 L326.9,656.8 L326.3,656.2 L325.6,655.6 L325.0,655.0 L324.3,654.3 L323.7,653.7 L323.0,653.1 L322.4,652.4 L321.8,651.7 L321.2,651.1 L320.6,650.4 L320.0,649.7 L319.4,649.0 L318.8,648.3 L318.2,647.6 L317.6,646.9 L317.1,646.2 L316.5,645.5 L316.0,644.8 L315.4,644.0 L314.9,643.3 L314.4,642.5 L313.9,641.8 L313.3,641.0 L312.8,640.2 L312.4,639.5 L311.9,638.7 L311.4,637.9 L310.9,637.1 L310.5,636.3 L310.0,635.5 L309.6,634.7 L309.1,633.9 L308.7,633.0 L308.3,632.2 L307.9,631.3 L307.4,630.5 L307.1,629.7 L306.7,628.8 L306.3,627.9 L305.9,627.1 L305.5,626.2 L305.2,625.3 L304.8,624.4 L304.5,623.5 L304.2,622.6 L303.9,621.7 L303.5,620.8 L303.2,619.9 L302.9,619.0 L302.7,618.1 L302.4,617.2 L302.1,616.2 L301.8,615.3 L301.6,614.3 L301.3,613.4 L301.1,612.5 L300.9,611.5 L300.7,610.5 L300.5,609.6 L300.3,608.6 L300.1,607.6 L299.9,606.7 L299.7,605.7 L299.5,604.7 L299.4,603.7 L299.2,602.7 L299.1,601.7 L299.0,600.7 L298.9,599.7 L298.7,598.7 L298.6,597.7 L298.5,596.7 L298.5,595.7 L298.4,594.7 L298.3,593.6 L298.3,592.6 L298.2,591.6 L298.2,590.6 L298.1,589.5 L298.1,588.5 L298.1,587.4Z" fill="#fff" stroke="#000" stroke-width="2.7" stroke-linejoin="round" stroke-linecap="round" />
<clipPath id="c1"><path d="M562.4,543.1 L562.4,544.2 L562.4,545.2 L562.4,546.3 L562.4,547.4 L562.3,548.4 L562.3,549.5 L562.2,550.6 L562.1,551.6 L562.1,552.7 L562.0,553.8 L561.9,554.9 L561.8,556.0 L561.7,557.0 L561.5,558.1 L561.4,559.2 L561.3,560.3 L561.1,561.4 L561.0,562.5 L560.8,563.6 L560.6,564.6 L560.4,565.7 L560.2,566.8 L560.0,567.9 L559.8,569.0 L559.6,570.1 L559.4,571.2 L559.1,572.3 L558.9,573.4 L558.6,574.5 L558.4,575.6 L558.1,576.7 L557.8,577.8 L557.5,578.9 L557.2,580.0 L556.9,581.1 L556.6,582.1 L556.3,583.2 L555.9,584.3 L555.6,585.4 L555.2,586.5 L554.9,587.6 L554.5,588.7 L554.1,589.8 L553.8,590.9 L553.4,592.0 L553.0,593.0 L552.5,594.1 L552.1,595.2 L551.7,596.3 L551.3,597.4 L550.8,598.5 L550.4,599.5 L549.9,600.6 L549.4,601.7 L549.0,602.8 L548.5,603.8 L548.0,604.9 L547.5,606.0 L547.0,607.0 L546.5,608.1 L545.9,609.1 L545.4,610.2 L544.9,611.2 L544.3,612.3 L543.8,613.3 L543.2,614.4 L542.6,615.4 L542.1,616.5 L541.5,617.5 L540.9,618.5 L540.3,619.6 L539.7,620.6 L539.1,621.6 L538.4,622.6 L537.8,623.6 L537.2,624.7 L536.5,625.7 L535.9,626.7 L535.2,627.7 L534.6,628.7 L533.9,629.7 L533.2,630.7 L532.5,631.6 L531.8,632.6 L531.1,633.6 L530.4,634.6 L529.7,635.5 L529.0,636.5 L528.3,637.5 L527.5,638.4 L526.8,639.4 L526.1,640.3 L525.3,641.2 L524.5,642.2 L523.8,643.1 L523.0,644.0 L522.2,644.9 L521.5,645.9 L520.7,646.8 L519.9,647.7 L519.1,648.6 L518.3,649.5 L517.5,650.3 L516.6,651.2 L515.8,652.1 L515.0,653.0 L514.2,653.8 L513.3,654.7 L512.5,655.5 L511.6,656.4 L510.8,657.2 L509.9,658.1 L509.1,658.9 L508.2,659.7 L507.3,660.5 L506.4,661.3 L505.5,662.1 L504.7,662.9 L503.8,663.7 L502.9,664.5 L502.0,665.3 L501.1,666.0 L500.1,666.8 L499.2,667.6 L498.3,668.3 L497.4,669.0 L496.5,669.8 L495.5,670.5 L494.6,671.2 L493.6,671.9 L492.7,672.6 L491.8,673.3 L490.8,674.0 L489.8,674.7 L488.9,675.4 L487.9,676.0 L487.0,676.7 L486.0,677.4 L485.0,678.0 L484.0,678.6 L483.1,679.3 L482.1,679.9 L481.1,680.5 L480.1,681.1 L479.1,681.7 L478.1,682.3 L477.1,682.9 L476.1,683.4 L475.1,684.0 L474.1,684.6 L473.1,685.1 L472.1,685.7 L471.1,686.2 L470.1,686.7 L469.1,687.2 L468.1,687.7 L467.1,688.2 L466.0,688.7 L465.0,689.2 L464.0,689.7 L463.0,690.1 L461.9,690.6 L460.9,691.0 L459.9,691.5 L458.8,691.9 L457.8,692.3 L456.8,692.7 L455.8,693.1 L454.7,693.5 L453.7,693.9 L452.6,694.3 L451.6,694.7 L450.6,695.0 L449.5,695.4 L448.5,695.7 L447.5,696.0 L446.4,696.3 L445.4,696.7 L444.3,697.0 L443.3,697.3 L442.3,697.5 L441.2,697.8 L440.2,698.1 L439.1,698.3 L438.1,698.6 L437.1,698.8 L436.0,699.0 L435.0,699.3 L434.0,699.5 L432.9,699.7 L431.9,699.9 L430.8,700.0 L429.8,700.2 L428.8,700.4 L427.8,700.5 L426.7,700.7 L425.7,700.8 L424.7,700.9 L423.6,701.1 L422.6,701.2 L421.6,701.3 L420.6,701.3 L419.5,701.4 L418.5,701.5 L417.5,701.5 L416.5,701.6 L415.5,701.6 L414.5,701.7 L413.5,701.7 L412.5,701.7 L411.5,701.7 L410.5,701.7 L409.5,701.7 L408.5,701.6 L407.5,701.6 L406.5,701.6 L405.5,701.5 L404.5,701.4 L403.5,701.4 L402.6,701.3 L401.6,701.2 L400.6,701.1 L399.6,701.0 L398.7,700.8 L397.7,700.7 L396.8,700.6 L395.8,700.4 L394.8,700.2 L393.9,700.1 L393.0,699.9 L392.0,699.7 L391.1,699.5 L390.1,699.3 L389.2,699.1 L388.3,698.9 L387.4,698.6 L386.5,698.4 L385.5,698.1 L384.6,697.8 L383.7,697.6 L382.8,697.3 L381.9,697.0 L381.1,696.7 L380.2,696.4 L379.3,696.1 L378.4,695.7 L377.5,695.4 L376.7,695.1 L375.8,694.7 L375.0,694.3 L374.1,694.0 L373.3,693.6 L372.4,693.2 L371.6,692.8 L370.8,692.4 L370.0,692.0 L369.1,691.5 L368.3,691.1 L367.5,690.7 L366.7,690.2 L365.9,689.7 L365.1,689.3 L364.4,688.8 L363.6,688.3 L362.8,687.8 L362.1,687.3 L361.3,686.8 L360.5,686.3 L359.8,685.7 L359.1,685.2 L358.3,684.6 L357.6,684.1 L356.9,683.5 L356.2,683.0 L355.5,682.4 L354.8,681.8 L354.1,681.2 L353.4,680.6 L352.7,680.0 L352.0,679.4 L351.4,678.7 L350.7,678.1 L350.1,677.4 L349.4,676.8 L348.8,676.1 L348.2,675.5 L347.5,674.8 L346.9,674.1 L346.3,673.4 L345.7,672.7 L345.1,672.0 L344.5,671.3 L344.0,670.6 L343.4,669.9 L342.8,669.1 L342.3,668.4 L341.7,667.7 L341.2,666.9 L340.7,666.1 L340.1,665.4 L339.6,664.6 L339.1,663.8 L338.6,663.0 L338.1,662.2 L337.6,661.4 L337.2,660.6 L336.7,659.8 L336.2,659.0 L335.8,658.2 L335.3,657.3 L334.9,656.5 L334.5,655.7 L334.1,654.8 L333.6,654.0 L333.2,653.1 L332.8,652.2 L332.5,651.3 L332.1,650.5 L331.7,649.6 L331.4,648.7 L331.0,647.8 L330.7,646.9 L330.3,646.0 L330.0,645.1 L329.7,644.2 L329.4,643.2 L329.1,642.3 L328.8,641.4 L328.5,640.4 L328.2,639.5 L328.0,638.5 L327.7,637.6 L327.5,636.6 L327.2,635.7 L327.0,634.7 L326.8,633.7 L326.6,632.8 L326.4,631.8 L326.2,630.8 L326.0,629.8 L325.8,628.8 L325.6,627.8 L325.5,626.8 L325.3,625.8 L325.2,624.8 L325.1,623.8 L324.9,622.8 L324.8,621.8 L324.7,620.7 L324.6,619.7 L324.5,618.7 L324.5,617.6 L324.4,616.6 L324.3,615.6 L324.3,614.5 L324.2,613.5 L324.2,612.4 L324.2,611.4 L324.2,610.3 L324.2,609.3 L324.2,608.2 L324.2,607.2 L324.2,606.1 L324.2,605.0 L324.3,604.0 L324.3,602.9 L324.4,601.8 L324.5,600.8 L324.5,599.7 L324.6,598.6 L324.7,597.5 L324.8,596.4 L324.9,595.4 L325.1,594.3 L325.2,593.2 L325.3,592.1 L325.5,591.0 L325.6,589.9 L325.8,588.8 L326.0,587.8 L326.2,586.7 L326.4,585.6 L326.6,584.5 L326.8,583.4 L327.0,582.3 L327.2,581.2 L327.5,580.1 L327.7,579.0 L328.0,577.9 L328.2,576.8 L328.5,575.7 L328.8,574.6 L329.1,573.5 L329.4,572.4 L329.7,571.3 L330.0,570.3 L330.3,569.2 L330.7,568.1 L331.0,567.0 L331.4,565.9 L331.7,564.8 L332.1,563.7 L332.5,562.6 L332.8,561.5 L333.2,560.4 L333.6,559.4 L334.1,558.3 L334.5,557.2 L334.9,556.1 L335.3,555.0 L335.8,553.9 L336.2,552.9 L336.7,551.8 L337.2,550.7 L337.6,549.6 L338.1,548.6 L338.6,547.5 L339.1,546.4 L339.6,545.4 L340.1,544.3 L340.7,543.3 L341.2,542.2 L341.7,541.2 L342.3,540.1 L342.8,539.1 L343.4,538.0 L344.0,537.0 L344.5,535.9 L345.1,534.9 L345.7,533.9 L346.3,532.8 L346.9,531.8 L347.5,530.8 L348.2,529.8 L348.8,528.8 L349.4,527.7 L350.1,526.7 L350.7,525.7 L351.4,524.7 L352.0,523.7 L352.7,522.7 L353.4,521.7 L354.1,520.8 L354.8,519.8 L355.5,518.8 L356.2,517.8 L356.9,516.9 L357.6,515.9 L358.3,514.9 L359.1,514.0 L359.8,513.0 L360.5,512.1 L361.3,511.2 L362.1,510.2 L362.8,509.3 L363.6,508.4 L364.4,507.5 L365.1,506.5 L365.9,505.6 L366.7,504.7 L367.5,503.8 L368.3,502.9 L369.1,502.1 L370.0,501.2 L370.8,500.3 L371.6,499.4 L372.4,498.6 L373.3,497.7 L374.1,496.9 L375.0,496.0 L375.8,495.2 L376.7,494.3 L377.5,493.5 L378.4,492.7 L379.3,491.9 L380.2,491.1 L381.1,490.3 L381.9,489.5 L382.8,488.7 L383.7,487.9 L384.6,487.1 L385.5,486.4 L386.5,485.6 L387.4,484.8 L388.3,484.1 L389.2,483.4 L390.1,482.6 L391.1,481.9 L392.0,481.2 L393.0,480.5 L393.9,479.8 L394.8,479.1 L395.8,478.4 L396.8,477.7 L397.7,477.0 L398.7,476.4 L399.6,475.7 L400.6,475.0 L401.6,474.4 L402.6,473.8 L403.5,473.1 L404.5,472.5 L405.5,471.9 L406.5,471.3 L407.5,470.7 L408.5,470.1 L409.5,469.5 L410.5,469.0 L411.5,468.4 L412.5,467.8 L413.5,467.3 L414.5,466.7 L415.5,466.2 L416.5,465.7 L417.5,465.2 L418.5,464.7 L419.5,464.2 L420.6,463.7 L421.6,463.2 L422.6,462.7 L423.6,462.3 L424.7,461.8 L425.7,461.4 L426.7,460.9 L427.8,460.5 L428.8,460.1 L429.8,459.7 L430.8,459.3 L431.9,458.9 L432.9,458.5 L434.0,458.1 L435.0,457.7 L436.0,457.4 L437.1,457.0 L438.1,456.7 L439.1,456.4 L440.2,456.1 L441.2,455.7 L442.3,455.4 L443.3,455.1 L444.3,454.9 L445.4,454.6 L446.4,454.3 L447.5,454.1 L448.5,453.8 L449.5,453.6 L450.6,453.4 L451.6,453.1 L452.6,452.9 L453.7,452.7 L454.7,452.5 L455.8,452.4 L456.8,452.2 L457.8,452.0 L458.8,451.9 L459.9,451.7 L460.9,451.6 L461.9,451.5 L463.0,451.3 L464.0,451.2 L465.0,451.1 L466.0,451.1 L467.1,451.0 L468.1,450.9 L469.1,450.9 L470.1,450.8 L471.1,450.8 L472.1,450.7 L473.1,450.7 L474.1,450.7 L475.1,450.7 L476.1,450.7 L477.1,450.7 L478.1,450.8 L479.1,450.8 L480.1,450.8 L481.1,450.9 L482.1,451.0 L483.1,451.0 L484.0,451.1 L485.0,451.2 L486.0,451.3 L487.0,451.4 L487.9,451.6 L488.9,451.7 L489.8,451.8 L490.8,452.0 L491.8,452.2 L492.7,452.3 L493.6,452.5 L494.6,452.7 L495.5,452.9 L496.5,453.1 L497.4,453.3 L498.3,453.5 L499.2,453.8 L500.1,454.0 L501.1,454.3 L502.0,454.6 L502.9,454.8 L503.8,455.1 L504.7,455.4 L505.5,455.7 L506.4,456.0 L507.3,456.3 L508.2,456.7 L509.1,457.0 L509.9,457.3 L510.8,457.7 L511.6,458.1 L512.5,458.4 L513.3,458.8 L514.2,459.2 L515.0,459.6 L515.8,460.0 L516.6,460.4 L517.5,460.9 L518.3,461.3 L519.1,461.7 L519.9,462.2 L520.7,462.7 L521.5,463.1 L522.2,463.6 L523.0,464.1 L523.8,464.6 L524.5,465.1 L525.3,465.6 L526.1,466.1 L526.8,466.7 L527.5,467.2 L528.3,467.8 L529.0,468.3 L529.7,468.9 L530.4,469.4 L531.1,470.0 L531.8,470.6 L532.5,471.2 L533.2,471.8 L533.9,472.4 L534.6,473.0 L535.2,473.7 L535.9,474.3 L536.5,475.0 L537.2,475.6 L537.8,476.3 L538.4,476.9 L539.1,477.6 L539.7,478.3 L540.3,479.0 L540.9,479.7 L541.5,480.4 L542.1,481.1 L542.6,481.8 L543.2,482.5 L543.8,483.3 L544.3,484.0 L544.9,484.7 L545.4,485.5 L545.9,486.3 L546.5,487.0 L547.0,487.8 L547.5,488.6 L548.0,489.4 L548.5,490.2 L549.0,491.0 L549.4,491.8 L549.9,492.6 L550.4,493.4 L550.8,494.2 L551.3,495.1 L551.7,495.9 L552.1,496.7 L552.5,497.6 L553.0,498.4 L553.4,499.3 L553.8,500.2 L554.1,501.1 L554.5,501.9 L554.9,502.8 L555.2,503.7 L555.6,504.6 L555.9,505.5 L556.3,506.4 L556.6,507.3 L556.9,508.2 L557.2,509.2 L557.5,510.1 L557.8,511.0 L558.1,512.0 L558.4,512.9 L558.6,513.9 L558.9,514.8 L559.1,515.8 L559.4,516.7 L559.6,517.7 L559.8,518.7 L560.0,519.6 L560.2,520.6 L560.4,521.6 L560.6,522.6 L560.8,523.6 L561.0,524.6 L561.1,525.6 L561.3,526.6 L561.4,527.6 L561.5,528.6 L561.7,529.6 L561.8,530.6 L561.9,531.7 L562.0,532.7 L562.1,533.7 L562.1,534.8 L562.2,535.8 L562.3,536.8 L562.3,537.9 L562.4,538.9 L562.4,540.0 L562.4,541.0 L562.4,542.1Z"/></clipPath>
<g clip-path="url(#c1)">
<path d="M533.3,521.1 L533.3,522.1 L533.3,523.2 L533.3,524.2 L533.2,525.3 L533.2,526.3 L533.1,527.4 L533.1,528.4 L533.0,529.5 L532.9,530.6 L532.9,531.6 L532.8,532.7 L532.7,533.8 L532.5,534.8 L532.4,535.9 L532.3,537.0 L532.2,538.0 L532.0,539.1 L531.9,540.2 L531.7,541.3 L531.5,542.3 L531.3,543.4 L531.1,544.5 L530.9,545.6 L530.7,546.7 L530.5,547.7 L530.3,548.8 L530.1,549.9 L529.8,551.0 L529.6,552.1 L529.3,553.1 L529.0,554.2 L528.7,555.3 L528.5,556.4 L528.2,557.5 L527.9,558.5 L527.5,559.6 L527.2,560.7 L526.9,561.8 L526.6,562.9 L526.2,563.9 L525.9,565.0 L525.5,566.1 L525.1,567.2 L524.7,568.2 L524.3,569.3 L524.0,570.4 L523.5,571.5 L523.1,572.5 L522.7,573.6 L522.3,574.7 L521.8,575.7 L521.4,576.8 L520.9,577.8 L520.5,578.9 L520.0,580.0 L519.5,581.0 L519.0,582.1 L518.6,583.1 L518.1,584.2 L517.5,585.2 L517.0,586.3 L516.5,587.3 L516.0,588.3 L515.4,589.4 L514.9,590.4 L514.3,591.4 L513.8,592.5 L513.2,593.5 L512.6,594.5 L512.0,595.5 L511.4,596.6 L510.8,597.6 L510.2,598.6 L509.6,599.6 L509.0,600.6 L508.4,601.6 L507.7,602.6 L507.1,603.6 L506.4,604.6 L505.8,605.5 L505.1,606.5 L504.5,607.5 L503.8,608.5 L503.1,609.4 L502.4,610.4 L501.7,611.4 L501.0,612.3 L500.3,613.3 L499.6,614.2 L498.9,615.2 L498.1,616.1 L497.4,617.0 L496.7,618.0 L495.9,618.9 L495.1,619.8 L494.4,620.7 L493.6,621.6 L492.9,622.5 L492.1,623.4 L491.3,624.3 L490.5,625.2 L489.7,626.1 L488.9,626.9 L488.1,627.8 L487.3,628.7 L486.5,629.5 L485.7,630.4 L484.8,631.2 L484.0,632.1 L483.2,632.9 L482.3,633.7 L481.5,634.6 L480.6,635.4 L479.7,636.2 L478.9,637.0 L478.0,637.8 L477.1,638.6 L476.3,639.4 L475.4,640.1 L474.5,640.9 L473.6,641.7 L472.7,642.4 L471.8,643.2 L470.9,643.9 L470.0,644.7 L469.1,645.4 L468.2,646.1 L467.3,646.8 L466.3,647.5 L465.4,648.3 L464.5,648.9 L463.5,649.6 L462.6,650.3 L461.6,651.0 L460.7,651.7 L459.8,652.3 L458.8,653.0 L457.8,653.6 L456.9,654.2 L455.9,654.9 L455.0,655.5 L454.0,656.1 L453.0,656.7 L452.0,657.3 L451.1,657.9 L450.1,658.5 L449.1,659.1 L448.1,659.6 L447.1,660.2 L446.1,660.7 L445.1,661.3 L444.2,661.8 L443.2,662.3 L442.2,662.8 L441.2,663.3 L440.2,663.8 L439.1,664.3 L438.1,664.8 L437.1,665.3 L436.1,665.8 L435.1,666.2 L434.1,666.7 L433.1,667.1 L432.1,667.5 L431.0,668.0 L430.0,668.4 L429.0,668.8 L428.0,669.2 L427.0,669.6 L425.9,669.9 L424.9,670.3 L423.9,670.7 L422.9,671.0 L421.9,671.4 L420.8,671.7 L419.8,672.0 L418.8,672.4 L417.8,672.7 L416.7,673.0 L415.7,673.2 L414.7,673.5 L413.6,673.8 L412.6,674.1 L411.6,674.3 L410.6,674.6 L409.5,674.8 L408.5,675.0 L407.5,675.2 L406.5,675.4 L405.5,675.6 L404.4,675.8 L403.4,676.0 L402.4,676.2 L401.4,676.3 L400.4,676.5 L399.3,676.6 L398.3,676.8 L397.3,676.9 L396.3,677.0 L395.3,677.1 L394.3,677.2 L393.3,677.3 L392.3,677.4 L391.2,677.4 L390.2,677.5 L389.2,677.5 L388.2,677.6 L387.2,677.6 L386.3,677.6 L385.3,677.6 L384.3,677.6 L383.3,677.6 L382.3,677.6 L381.3,677.6 L380.3,677.5 L379.4,677.5 L378.4,677.4 L377.4,677.4 L376.4,677.3 L375.5,677.2 L374.5,677.1 L373.6,677.0 L372.6,676.9 L371.6,676.8 L370.7,676.7 L369.8,676.5 L368.8,676.4 L367.9,676.2 L366.9,676.0 L366.0,675.9 L365.1,675.7 L364.1,675.5 L363.2,675.3 L362.3,675.1 L361.4,674.8 L360.5,674.6 L359.6,674.4 L358.7,674.1 L357.8,673.8 L356.9,673.6 L356.0,673.3 L355.1,673.0 L354.3,672.7 L353.4,672.4 L352.5,672.1 L351.7,671.8 L350.8,671.4 L349.9,671.1 L349.1,670.7 L348.2,670.4 L347.4,670.0 L346.6,669.6 L345.7,669.2 L344.9,668.8 L344.1,668.4 L343.3,668.0 L342.5,667.6 L341.7,667.2 L340.9,666.7 L340.1,666.3 L339.3,665.8 L338.5,665.4 L337.8,664.9 L337.0,664.4 L336.3,663.9 L335.5,663.4 L334.7,662.9 L334.0,662.4 L333.3,661.9 L332.5,661.3 L331.8,660.8 L331.1,660.3 L330.4,659.7 L329.7,659.1 L329.0,658.6 L328.3,658.0 L327.6,657.4 L326.9,656.8 L326.3,656.2 L325.6,655.6 L325.0,655.0 L324.3,654.3 L323.7,653.7 L323.0,653.1 L322.4,652.4 L321.8,651.7 L321.2,651.1 L320.6,650.4 L320.0,649.7 L319.4,649.0 L318.8,648.3 L318.2,647.6 L317.6,646.9 L317.1,646.2 L316.5,645.5 L316.0,644.8 L315.4,644.0 L314.9,643.3 L314.4,642.5 L313.9,641.8 L313.3,641.0 L312.8,640.2 L312.4,639.5 L311.9,638.7 L311.4,637.9 L310.9,637.1 L310.5,636.3 L310.0,635.5 L309.6,634.7 L309.1,633.9 L308.7,633.0 L308.3,632.2 L307.9,631.3 L307.4,630.5 L307.1,629.7 L306.7,628.8 L306.3,627.9 L305.9,627.1 L305.5,626.2 L305.2,625.3 L304.8,624.4 L304.5,623.5 L304.2,622.6 L303.9,621.7 L303.5,620.8 L303.2,619.9 L302.9,619.0 L302.7,618.1 L302.4,617.2 L302.1,616.2 L301.8,615.3 L301.6,614.3 L301.3,613.4 L301.1,612.5 L300.9,611.5 L300.7,610.5 L300.5,609.6 L300.3,608.6 L300.1,607.6 L299.9,606.7 L299.7,605.7 L299.5,604.7 L299.4,603.7 L299.2,602.7 L299.1,601.7 L299.0,600.7 L298.9,599.7 L298.7,598.7 L298.6,597.7 L298.5,596.7 L298.5,595.7 L298.4,594.7 L298.3,593.6 L298.3,592.6 L298.2,591.6 L298.2,590.6 L298.1,589.5 L298.1,588.5 L298.1,587.4 L298.1,586.4 L298.1,585.4 L298.1,584.3 L298.1,583.3 L298.2,582.2 L298.2,581.2 L298.3,580.1 L298.3,579.1 L298.4,578.0 L298.5,576.9 L298.5,575.9 L298.6,574.8 L298.7,573.7 L298.9,572.7 L299.0,571.6 L299.1,570.5 L299.2,569.5 L299.4,568.4 L299.5,567.3 L299.7,566.2 L299.9,565.2 L300.1,564.1 L300.3,563.0 L300.5,561.9 L300.7,560.8 L300.9,559.8 L301.1,558.7 L301.3,557.6 L301.6,556.5 L301.8,555.4 L302.1,554.4 L302.4,553.3 L302.7,552.2 L302.9,551.1 L303.2,550.0 L303.5,549.0 L303.9,547.9 L304.2,546.8 L304.5,545.7 L304.8,544.6 L305.2,543.6 L305.5,542.5 L305.9,541.4 L306.3,540.3 L306.7,539.3 L307.1,538.2 L307.4,537.1 L307.9,536.0 L308.3,535.0 L308.7,533.9 L309.1,532.8 L309.6,531.8 L310.0,530.7 L310.5,529.7 L310.9,528.6 L311.4,527.5 L311.9,526.5 L312.4,525.4 L312.8,524.4 L313.3,523.3 L313.9,522.3 L314.4,521.2 L314.9,520.2 L315.4,519.2 L316.0,518.1 L316.5,517.1 L317.1,516.1 L317.6,515.0 L318.2,514.0 L318.8,513.0 L319.4,512.0 L320.0,510.9 L320.6,509.9 L321.2,508.9 L321.8,507.9 L322.4,506.9 L323.0,505.9 L323.7,504.9 L324.3,503.9 L325.0,502.9 L325.6,502.0 L326.3,501.0 L326.9,500.0 L327.6,499.0 L328.3,498.1 L329.0,497.1 L329.7,496.1 L330.4,495.2 L331.1,494.2 L331.8,493.3 L332.5,492.3 L333.3,491.4 L334.0,490.5 L334.7,489.5 L335.5,488.6 L336.3,487.7 L337.0,486.8 L337.8,485.9 L338.5,485.0 L339.3,484.1 L340.1,483.2 L340.9,482.3 L341.7,481.4 L342.5,480.6 L343.3,479.7 L344.1,478.8 L344.9,478.0 L345.7,477.1 L346.6,476.3 L347.4,475.4 L348.2,474.6 L349.1,473.8 L349.9,472.9 L350.8,472.1 L351.7,471.3 L352.5,470.5 L353.4,469.7 L354.3,468.9 L355.1,468.1 L356.0,467.4 L356.9,466.6 L357.8,465.8 L358.7,465.1 L359.6,464.3 L360.5,463.6 L361.4,462.8 L362.3,462.1 L363.2,461.4 L364.1,460.7 L365.1,460.0 L366.0,459.2 L366.9,458.6 L367.9,457.9 L368.8,457.2 L369.8,456.5 L370.7,455.8 L371.6,455.2 L372.6,454.5 L373.6,453.9 L374.5,453.3 L375.5,452.6 L376.4,452.0 L377.4,451.4 L378.4,450.8 L379.4,450.2 L380.3,449.6 L381.3,449.0 L382.3,448.4 L383.3,447.9 L384.3,447.3 L385.3,446.8 L386.3,446.2 L387.2,445.7 L388.2,445.2 L389.2,444.7 L390.2,444.2 L391.2,443.7 L392.3,443.2 L393.3,442.7 L394.3,442.2 L395.3,441.7 L396.3,441.3 L397.3,440.8 L398.3,440.4 L399.3,440.0 L400.4,439.5 L401.4,439.1 L402.4,438.7 L403.4,438.3 L404.4,437.9 L405.5,437.6 L406.5,437.2 L407.5,436.8 L408.5,436.5 L409.5,436.1 L410.6,435.8 L411.6,435.5 L412.6,435.1 L413.6,434.8 L414.7,434.5 L415.7,434.2 L416.7,434.0 L417.8,433.7 L418.8,433.4 L419.8,433.2 L420.8,432.9 L421.9,432.7 L422.9,432.5 L423.9,432.3 L424.9,432.1 L425.9,431.9 L427.0,431.7 L428.0,431.5 L429.0,431.3 L430.0,431.2 L431.0,431.0 L432.1,430.9 L433.1,430.7 L434.1,430.6 L435.1,430.5 L436.1,430.4 L437.1,430.3 L438.1,430.2 L439.1,430.1 L440.2,430.1 L441.2,430.0 L442.2,430.0 L443.2,429.9 L444.2,429.9 L445.1,429.9 L446.1,429.9 L447.1,429.9 L448.1,429.9 L449.1,429.9 L450.1,429.9 L451.1,430.0 L452.0,430.0 L453.0,430.1 L454.0,430.1 L455.0,430.2 L455.9,430.3 L456.9,430.4 L457.8,430.5 L458.8,430.6 L459.8,430.7 L460.7,430.8 L461.6,431.0 L462.6,431.1 L463.5,431.3 L464.5,431.5 L465.4,431.6 L466.3,431.8 L467.3,432.0 L468.2,432.2 L469.1,432.4 L470.0,432.7 L470.9,432.9 L471.8,433.1 L472.7,433.4 L473.6,433.7 L474.5,433.9 L475.4,434.2 L476.3,434.5 L477.1,434.8 L478.0,435.1 L478.9,435.4 L479.7,435.7 L480.6,436.1 L481.5,436.4 L482.3,436.8 L483.2,437.1 L484.0,437.5 L484.8,437.9 L485.7,438.3 L486.5,438.7 L487.3,439.1 L488.1,439.5 L488.9,439.9 L489.7,440.3 L490.5,440.8 L491.3,441.2 L492.1,441.7 L492.9,442.1 L493.6,442.6 L494.4,443.1 L495.1,443.6 L495.9,444.1 L496.7,444.6 L497.4,445.1 L498.1,445.6 L498.9,446.2 L499.6,446.7 L500.3,447.2 L501.0,447.8 L501.7,448.4 L502.4,448.9 L503.1,449.5 L503.8,450.1 L504.5,450.7 L505.1,451.3 L505.8,451.9 L506.4,452.5 L507.1,453.2 L507.7,453.8 L508.4,454.4 L509.0,455.1 L509.6,455.8 L510.2,456.4 L510.8,457.1 L511.4,457.8 L512.0,458.5 L512.6,459.2 L513.2,459.9 L513.8,460.6 L514.3,461.3 L514.9,462.0 L515.4,462.7 L516.0,463.5 L516.5,464.2 L517.0,465.0 L517.5,465.7 L518.1,466.5 L518.6,467.3 L519.0,468.0 L519.5,468.8 L520.0,469.6 L520.5,470.4 L520.9,471.2 L521.4,472.0 L521.8,472.8 L522.3,473.6 L522.7,474.5 L523.1,475.3 L523.5,476.2 L524.0,477.0 L524.3,477.8 L524.7,478.7 L525.1,479.6 L525.5,480.4 L525.9,481.3 L526.2,482.2 L526.6,483.1 L526.9,484.0 L527.2,484.9 L527.5,485.8 L527.9,486.7 L528.2,487.6 L528.5,488.5 L528.7,489.4 L529.0,490.3 L529.3,491.3 L529.6,492.2 L529.8,493.2 L530.1,494.1 L530.3,495.0 L530.5,496.0 L530.7,497.0 L530.9,497.9 L531.1,498.9 L531.3,499.9 L531.5,500.8 L531.7,501.8 L531.9,502.8 L532.0,503.8 L532.2,504.8 L532.3,505.8 L532.4,506.8 L532.5,507.8 L532.7,508.8 L532.8,509.8 L532.9,510.8 L532.9,511.8 L533.0,512.8 L533.1,513.9 L533.1,514.9 L533.2,515.9 L533.2,516.9 L533.3,518.0 L533.3,519.0 L533.3,520.1Z" fill="none" stroke="#000" stroke-width="2.7" stroke-linejoin="round" stroke-linecap="round" />
</g>
<path d="M562.4,543.1 L562.4,544.2 L562.4,545.2 L562.4,546.3 L562.4,547.4 L562.3,548.4 L562.3,549.5 L562.2,550.6 L562.1,551.6 L562.1,552.7 L562.0,553.8 L561.9,554.9 L561.8,556.0 L561.7,557.0 L561.5,558.1 L561.4,559.2 L561.3,560.3 L561.1,561.4 L561.0,562.5 L560.8,563.6 L560.6,564.6 L560.4,565.7 L560.2,566.8 L560.0,567.9 L559.8,569.0 L559.6,570.1 L559.4,571.2 L559.1,572.3 L558.9,573.4 L558.6,574.5 L558.4,575.6 L558.1,576.7 L557.8,577.8 L557.5,578.9 L557.2,580.0 L556.9,581.1 L556.6,582.1 L556.3,583.2 L555.9,584.3 L555.6,585.4 L555.2,586.5 L554.9,587.6 L554.5,588.7 L554.1,589.8 L553.8,590.9 L553.4,592.0 L553.0,593.0 L552.5,594.1 L552.1,595.2 L551.7,596.3 L551.3,597.4 L550.8,598.5 L550.4,599.5 L549.9,600.6 L549.4,601.7 L549.0,602.8 L548.5,603.8 L548.0,604.9 L547.5,606.0 L547.0,607.0 L546.5,608.1 L545.9,609.1 L545.4,610.2 L544.9,611.2 L544.3,612.3 L543.8,613.3 L543.2,614.4 L542.6,615.4 L542.1,616.5 L541.5,617.5 L540.9,618.5 L540.3,619.6 L539.7,620.6 L539.1,621.6 L538.4,622.6 L537.8,623.6 L537.2,624.7 L536.5,625.7 L535.9,626.7 L535.2,627.7 L534.6,628.7 L533.9,629.7 L533.2,630.7 L532.5,631.6 L531.8,632.6 L531.1,633.6 L530.4,634.6 L529.7,635.5 L529.0,636.5 L528.3,637.5 L527.5,638.4 L526.8,639.4 L526.1,640.3 L525.3,641.2 L524.5,642.2 L523.8,643.1 L523.0,644.0 L522.2,644.9 L521.5,645.9 L520.7,646.8 L519.9,647.7 L519.1,648.6 L518.3,649.5 L517.5,650.3 L516.6,651.2 L515.8,652.1 L515.0,653.0 L514.2,653.8 L513.3,654.7 L512.5,655.5 L511.6,656.4 L510.8,657.2 L509.9,658.1 L509.1,658.9 L508.2,659.7 L507.3,660.5 L506.4,661.3 L505.5,662.1 L504.7,662.9 L503.8,663.7 L502.9,664.5 L502.0,665.3 L501.1,666.0 L500.1,666.8 L499.2,667.6 L498.3,668.3 L497.4,669.0 L496.5,669.8 L495.5,670.5 L494.6,671.2 L493.6,671.9 L492.7,672.6 L491.8,673.3 L490.8,674.0 L489.8,674.7 L488.9,675.4 L487.9,676.0 L487.0,676.7 L486.0,677.4 L485.0,678.0 L484.0,678.6 L483.1,679.3 L482.1,679.9 L481.1,680.5 L480.1,681.1 L479.1,681.7 L478.1,682.3 L477.1,682.9 L476.1,683.4 L475.1,684.0 L474.1,684.6 L473.1,685.1 L472.1,685.7 L471.1,686.2 L470.1,686.7 L469.1,687.2 L468.1,687.7 L467.1,688.2 L466.0,688.7 L465.0,689.2 L464.0,689.7 L463.0,690.1 L461.9,690.6 L460.9,691.0 L459.9,691.5 L458.8,691.9 L457.8,692.3 L456.8,692.7 L455.8,693.1 L454.7,693.5 L453.7,693.9 L452.6,694.3 L451.6,694.7 L450.6,695.0 L449.5,695.4 L448.5,695.7 L447.5,696.0 L446.4,696.3 L445.4,696.7 L444.3,697.0 L443.3,697.3 L442.3,697.5 L441.2,697.8 L440.2,698.1 L439.1,698.3 L438.1,698.6 L437.1,698.8 L436.0,699.0 L435.0,699.3 L434.0,699.5 L432.9,699.7 L431.9,699.9 L430.8,700.0 L429.8,700.2 L428.8,700.4 L427.8,700.5 L426.7,700.7 L425.7,700.8 L424.7,700.9 L423.6,701.1 L422.6,701.2 L421.6,701.3 L420.6,701.3 L419.5,701.4 L418.5,701.5 L417.5,701.5 L416.5,701.6 L415.5,701.6 L414.5,701.7 L413.5,701.7 L412.5,701.7 L411.5,701.7 L410.5,701.7 L409.5,701.7 L408.5,701.6 L407.5,701.6 L406.5,701.6 L405.5,701.5 L404.5,701.4 L403.5,701.4 L402.6,701.3 L401.6,701.2 L400.6,701.1 L399.6,701.0 L398.7,700.8 L397.7,700.7 L396.8,700.6 L395.8,700.4 L394.8,700.2 L393.9,700.1 L393.0,699.9 L392.0,699.7 L391.1,699.5 L390.1,699.3 L389.2,699.1 L388.3,698.9 L387.4,698.6 L386.5,698.4 L385.5,698.1 L384.6,697.8 L383.7,697.6 L382.8,697.3 L381.9,697.0 L381.1,696.7 L380.2,696.4 L379.3,696.1 L378.4,695.7 L377.5,695.4 L376.7,695.1 L375.8,694.7 L375.0,694.3 L374.1,694.0 L373.3,693.6 L372.4,693.2 L371.6,692.8 L370.8,692.4 L370.0,692.0 L369.1,691.5 L368.3,691.1 L367.5,690.7 L366.7,690.2 L365.9,689.7 L365.1,689.3 L364.4,688.8 L363.6,688.3 L362.8,687.8 L362.1,687.3 L361.3,686.8 L360.5,686.3 L359.8,685.7 L359.1,685.2 L358.3,684.6 L357.6,684.1 L356.9,683.5 L356.2,683.0 L355.5,682.4 L354.8,681.8 L354.1,681.2 L353.4,680.6 L352.7,680.0 L352.0,679.4 L351.4,678.7 L350.7,678.1 L350.1,677.4 L349.4,676.8 L348.8,676.1 L348.2,675.5 L347.5,674.8 L346.9,674.1 L346.3,673.4 L345.7,672.7 L345.1,672.0 L344.5,671.3 L344.0,670.6 L343.4,669.9 L342.8,669.1 L342.3,668.4 L341.7,667.7 L341.2,666.9 L340.7,666.1 L340.1,665.4 L339.6,664.6 L339.1,663.8 L338.6,663.0 L338.1,662.2 L337.6,661.4 L337.2,660.6 L336.7,659.8 L336.2,659.0 L335.8,658.2 L335.3,657.3 L334.9,656.5 L334.5,655.7 L334.1,654.8 L333.6,654.0 L333.2,653.1 L332.8,652.2 L332.5,651.3 L332.1,650.5 L331.7,649.6 L331.4,648.7 L331.0,647.8 L330.7,646.9 L330.3,646.0 L330.0,645.1 L329.7,644.2 L329.4,643.2 L329.1,642.3 L328.8,641.4 L328.5,640.4 L328.2,639.5 L328.0,638.5 L327.7,637.6 L327.5,636.6 L327.2,635.7 L327.0,634.7 L326.8,633.7 L326.6,632.8 L326.4,631.8 L326.2,630.8 L326.0,629.8 L325.8,628.8 L325.6,627.8 L325.5,626.8 L325.3,625.8 L325.2,624.8 L325.1,623.8 L324.9,622.8 L324.8,621.8 L324.7,620.7 L324.6,619.7 L324.5,618.7 L324.5,617.6 L324.4,616.6 L324.3,615.6 L324.3,614.5 L324.2,613.5 L324.2,612.4 L324.2,611.4 L324.2,610.3 L324.2,609.3 L324.2,608.2 L324.2,607.2 L324.2,606.1 L324.2,605.0 L324.3,604.0 L324.3,602.9 L324.4,601.8 L324.5,600.8 L324.5,599.7 L324.6,598.6 L324.7,597.5 L324.8,596.4 L324.9,595.4 L325.1,594.3 L325.2,593.2 L325.3,592.1 L325.5,591.0 L325.6,589.9 L325.8,588.8 L326.0,587.8 L326.2,586.7 L326.4,585.6 L326.6,584.5 L326.8,583.4 L327.0,582.3 L327.2,581.2 L327.5,580.1 L327.7,579.0 L328.0,577.9 L328.2,576.8 L328.5,575.7 L328.8,574.6 L329.1,573.5 L329.4,572.4 L329.7,571.3 L330.0,570.3 L330.3,569.2 L330.7,568.1 L331.0,567.0 L331.4,565.9 L331.7,564.8 L332.1,563.7 L332.5,562.6 L332.8,561.5 L333.2,560.4 L333.6,559.4 L334.1,558.3 L334.5,557.2 L334.9,556.1 L335.3,555.0 L335.8,553.9 L336.2,552.9 L336.7,551.8 L337.2,550.7 L337.6,549.6 L338.1,548.6 L338.6,547.5 L339.1,546.4 L339.6,545.4 L340.1,544.3 L340.7,543.3 L341.2,542.2 L341.7,541.2 L342.3,540.1 L342.8,539.1 L343.4,538.0 L344.0,537.0 L344.5,535.9 L345.1,534.9 L345.7,533.9 L346.3,532.8 L346.9,531.8 L347.5,530.8 L348.2,529.8 L348.8,528.8 L349.4,527.7 L350.1,526.7 L350.7,525.7 L351.4,524.7 L352.0,523.7 L352.7,522.7 L353.4,521.7 L354.1,520.8 L354.8,519.8 L355.5,518.8 L356.2,517.8 L356.9,516.9 L357.6,515.9 L358.3,514.9 L359.1,514.0 L359.8,513.0 L360.5,512.1 L361.3,511.2 L362.1,510.2 L362.8,509.3 L363.6,508.4 L364.4,507.5 L365.1,506.5 L365.9,505.6 L366.7,504.7 L367.5,503.8 L368.3,502.9 L369.1,502.1 L370.0,501.2 L370.8,500.3 L371.6,499.4 L372.4,498.6 L373.3,497.7 L374.1,496.9 L375.0,496.0 L375.8,495.2 L376.7,494.3 L377.5,493.5 L378.4,492.7 L379.3,491.9 L380.2,491.1 L381.1,490.3 L381.9,489.5 L382.8,488.7 L383.7,487.9 L384.6,487.1 L385.5,486.4 L386.5,485.6 L387.4,484.8 L388.3,484.1 L389.2,483.4 L390.1,482.6 L391.1,481.9 L392.0,481.2 L393.0,480.5 L393.9,479.8 L394.8,479.1 L395.8,478.4 L396.8,477.7 L397.7,477.0 L398.7,476.4 L399.6,475.7 L400.6,475.0 L401.6,474.4 L402.6,473.8 L403.5,473.1 L404.5,472.5 L405.5,471.9 L406.5,471.3 L407.5,470.7 L408.5,470.1 L409.5,469.5 L410.5,469.0 L411.5,468.4 L412.5,467.8 L413.5,467.3 L414.5,466.7 L415.5,466.2 L416.5,465.7 L417.5,465.2 L418.5,464.7 L419.5,464.2 L420.6,463.7 L421.6,463.2 L422.6,462.7 L423.6,462.3 L424.7,461.8 L425.7,461.4 L426.7,460.9 L427.8,460.5 L428.8,460.1 L429.8,459.7 L430.8,459.3 L431.9,458.9 L432.9,458.5 L434.0,458.1 L435.0,457.7 L436.0,457.4 L437.1,457.0 L438.1,456.7 L439.1,456.4 L440.2,456.1 L441.2,455.7 L442.3,455.4 L443.3,455.1 L444.3,454.9 L445.4,454.6 L446.4,454.3 L447.5,454.1 L448.5,453.8 L449.5,453.6 L450.6,453.4 L451.6,453.1 L452.6,452.9 L453.7,452.7 L454.7,452.5 L455.8,452.4 L456.8,452.2 L457.8,452.0 L458.8,451.9 L459.9,451.7 L460.9,451.6 L461.9,451.5 L463.0,451.3 L464.0,451.2 L465.0,451.1 L466.0,451.1 L467.1,451.0 L468.1,450.9 L469.1,450.9 L470.1,450.8 L471.1,450.8 L472.1,450.7 L473.1,450.7 L474.1,450.7 L475.1,450.7 L476.1,450.7 L477.1,450.7 L478.1,450.8 L479.1,450.8 L480.1,450.8 L481.1,450.9 L482.1,451.0 L483.1,451.0 L484.0,451.1 L485.0,451.2 L486.0,451.3 L487.0,451.4 L487.9,451.6 L488.9,451.7 L489.8,451.8 L490.8,452.0 L491.8,452.2 L492.7,452.3 L493.6,452.5 L494.6,452.7 L495.5,452.9 L496.5,453.1 L497.4,453.3 L498.3,453.5 L499.2,453.8 L500.1,454.0 L501.1,454.3 L502.0,454.6 L502.9,454.8 L503.8,455.1 L504.7,455.4 L505.5,455.7 L506.4,456.0 L507.3,456.3 L508.2,456.7 L509.1,457.0 L509.9,457.3 L510.8,457.7 L511.6,458.1 L512.5,458.4 L513.3,458.8 L514.2,459.2 L515.0,459.6 L515.8,460.0 L516.6,460.4 L517.5,460.9 L518.3,461.3 L519.1,461.7 L519.9,462.2 L520.7,462.7 L521.5,463.1 L522.2,463.6 L523.0,464.1 L523.8,464.6 L524.5,465.1 L525.3,465.6 L526.1,466.1 L526.8,466.7 L527.5,467.2 L528.3,467.8 L529.0,468.3 L529.7,468.9 L530.4,469.4 L531.1,470.0 L531.8,470.6 L532.5,471.2 L533.2,471.8 L533.9,472.4 L534.6,473.0 L535.2,473.7 L535.9,474.3 L536.5,475.0 L537.2,475.6 L537.8,476.3 L538.4,476.9 L539.1,477.6 L539.7,478.3 L540.3,479.0 L540.9,479.7 L541.5,480.4 L542.1,481.1 L542.6,481.8 L543.2,482.5 L543.8,483.3 L544.3,484.0 L544.9,484.7 L545.4,485.5 L545.9,486.3 L546.5,487.0 L547.0,487.8 L547.5,488.6 L548.0,489.4 L548.5,490.2 L549.0,491.0 L549.4,491.8 L549.9,492.6 L550.4,493.4 L550.8,494.2 L551.3,495.1 L551.7,495.9 L552.1,496.7 L552.5,497.6 L553.0,498.4 L553.4,499.3 L553.8,500.2 L554.1,501.1 L554.5,501.9 L554.9,502.8 L555.2,503.7 L555.6,504.6 L555.9,505.5 L556.3,506.4 L556.6,507.3 L556.9,508.2 L557.2,509.2 L557.5,510.1 L557.8,511.0 L558.1,512.0 L558.4,512.9 L558.6,513.9 L558.9,514.8 L559.1,515.8 L559.4,516.7 L559.6,517.7 L559.8,518.7 L560.0,519.6 L560.2,520.6 L560.4,521.6 L560.6,522.6 L560.8,523.6 L561.0,524.6 L561.1,525.6 L561.3,526.6 L561.4,527.6 L561.5,528.6 L561.7,529.6 L561.8,530.6 L561.9,531.7 L562.0,532.7 L562.1,533.7 L562.1,534.8 L562.2,535.8 L562.3,536.8 L562.3,537.9 L562.4,538.9 L562.4,540.0 L562.4,541.0 L562.4,542.1Z" fill="none" stroke="#000" stroke-width="2.7" stroke-linejoin="round" stroke-linecap="round" />
<path d="M915.6,412.8 L915.6,413.3 L915.6,413.9 L915.6,414.5 L915.6,415.1 L915.6,415.6 L915.6,416.2 L915.6,416.8 L915.6,417.4 L915.5,417.9 L915.5,418.5 L915.5,419.1 L915.5,419.7 L915.4,420.2 L915.4,420.8 L915.4,421.4 L915.3,422.0 L915.3,422.6 L915.2,423.2 L915.2,423.7 L915.1,424.3 L915.1,424.9 L915.0,425.5 L915.0,426.1 L914.9,426.7 L914.9,427.2 L914.8,427.8 L914.7,428.4 L914.7,429.0 L914.6,429.6 L914.5,430.2 L914.4,430.8 L914.4,431.3 L914.3,431.9 L914.2,432.5 L914.1,433.1 L914.0,433.7 L913.9,434.3 L913.8,434.9 L913.7,435.5 L913.6,436.1 L913.5,436.6 L913.4,437.2 L913.3,437.8 L913.2,438.4 L913.1,439.0 L913.0,439.6 L912.9,440.2 L912.7,440.8 L912.6,441.4 L912.5,442.0 L912.4,442.6 L912.2,443.1 L912.1,443.7 L912.0,444.3 L911.8,444.9 L911.7,445.5 L911.6,446.1 L911.4,446.7 L911.3,447.3 L911.1,447.9 L911.0,448.5 L910.8,449.1 L910.7,449.7 L910.5,450.2 L910.4,450.8 L910.2,451.4 L910.0,452.0 L909.9,452.6 L909.7,453.2 L909.5,453.8 L909.3,454.4 L909.2,455.0 L909.0,455.6 L908.8,456.2 L908.6,456.8 L908.4,457.3 L908.2,457.9 L908.0,458.5 L907.9,459.1 L907.7,459.7 L907.5,460.3 L907.3,460.9 L907.1,461.5 L906.8,462.1 L906.6,462.7 L906.4,463.2 L906.2,463.8 L906.0,464.4 L905.8,465.0 L905.6,465.6 L905.3,466.2 L905.1,466.8 L904.9,467.3 L904.7,467.9 L904.4,468.5 L904.2,469.1 L904.0,469.7 L903.7,470.3 L903.5,470.9 L903.2,471.4 L903.0,472.0 L902.7,472.6 L902.5,473.2 L902.2,473.8 L902.0,474.3 L901.7,474.9 L901.5,475.5 L901.2,476.1 L901.0,476.7 L900.7,477.2 L900.4,477.8 L900.2,478.4 L899.9,479.0 L899.6,479.5 L899.3,480.1 L899.1,480.7 L898.8,481.3 L898.5,481.8 L898.2,482.4 L897.9,483.0 L897.6,483.5 L897.3,484.1 L897.0,484.7 L896.7,485.2 L896.4,485.8 L896.1,486.4 L895.8,486.9 L895.5,487.5 L895.2,488.1 L894.9,488.6 L894.6,489.2 L894.3,489.8 L894.0,490.3 L893.7,490.9 L893.4,491.4 L893.0,492.0 L892.7,492.6 L892.4,493.1 L892.1,493.7 L891.7,494.2 L891.4,494.8 L891.1,495.3 L890.7,495.9 L890.4,496.4 L890.0,497.0 L889.7,497.5 L889.4,498.1 L889.0,498.6 L888.7,499.2 L888.3,499.7 L888.0,500.3 L887.6,500.8 L887.3,501.3 L886.9,501.9 L886.5,502.4 L886.2,503.0 L885.8,503.5 L885.5,504.1 L885.6,504.9 L886.0,505.9 L886.7,507.0 L887.5,508.3 L888.3,509.6 L889.0,510.8 L889.4,511.9 L889.6,512.9 L889.4,513.6 L889.0,514.1 L888.6,514.7 L888.2,515.3 L887.7,515.8 L887.3,516.4 L886.9,516.9 L886.5,517.5 L886.0,518.1 L885.6,518.6 L885.2,519.2 L884.7,519.7 L884.3,520.3 L883.9,520.8 L883.4,521.4 L883.0,521.9 L882.5,522.4 L881.9,522.8 L880.9,522.9 L879.7,522.8 L878.3,522.5 L876.8,522.1 L875.3,521.8 L873.9,521.5 L872.8,521.4 L872.0,521.6 L871.5,522.0 L871.1,522.5 L870.7,523.0 L870.2,523.4 L869.8,523.9 L869.4,524.4 L868.9,524.9 L868.5,525.4 L868.0,525.8 L867.6,526.3 L867.2,526.8 L866.7,527.3 L866.3,527.7 L865.8,528.2 L865.4,528.7 L864.9,529.1 L864.5,529.6 L864.0,530.1 L863.6,530.5 L863.1,531.0 L862.6,531.4 L862.2,531.9 L861.7,532.4 L861.3,532.8 L860.8,533.3 L860.3,533.7 L859.9,534.2 L859.4,534.6 L858.9,535.0 L858.5,535.5 L858.0,535.9 L857.5,536.4 L857.0,536.8 L856.6,537.2 L856.1,537.7 L855.6,538.1 L855.1,538.5 L854.6,539.0 L854.2,539.4 L853.7,539.8 L853.2,540.2 L852.7,540.7 L852.2,541.1 L851.7,541.5 L851.2,541.9 L850.7,542.3 L850.2,542.7 L849.7,543.1 L849.3,543.5 L848.8,544.0 L848.3,544.4 L847.8,544.8 L847.3,545.2 L846.8,545.6 L846.3,545.9 L845.8,546.3 L845.2,546.7 L844.7,547.1 L844.2,547.5 L843.7,547.9 L843.2,548.3 L842.7,548.7 L842.2,549.0 L841.7,549.4 L841.2,549.8 L840.7,550.2 L840.1,550.5 L839.6,550.9 L839.1,551.3 L838.6,551.6 L838.1,552.0 L837.5,552.4 L837.0,552.7 L836.5,553.1 L836.0,553.4 L835.5,553.8 L834.9,554.1 L834.4,554.5 L833.9,554.8 L833.4,555.2 L832.8,555.5 L832.3,555.9 L831.8,556.2 L831.2,556.5 L830.7,556.9 L830.2,557.2 L829.6,557.5 L829.1,557.8 L828.6,558.2 L828.0,558.5 L827.5,558.8 L827.0,559.1 L826.4,559.4 L825.9,559.8 L825.3,560.1 L824.8,560.4 L824.3,560.7 L823.7,561.0 L823.2,561.3 L822.6,561.6 L822.1,561.9 L821.5,562.2 L821.0,562.5 L820.5,562.8 L819.9,563.0 L819.4,563.3 L818.8,563.6 L818.3,563.9 L817.7,564.2 L817.2,564.4 L816.6,564.7 L816.1,565.0 L815.5,565.3 L815.0,565.5 L814.4,565.8 L813.9,566.0 L813.3,566.3 L812.8,566.6 L812.2,566.8 L811.7,567.1 L811.1,567.3 L810.5,567.6 L810.0,567.8 L809.4,568.1 L808.9,568.3 L808.3,568.5 L807.8,568.8 L807.2,569.0 L806.7,569.2 L806.1,569.5 L805.5,569.7 L805.0,569.9 L804.4,570.1 L803.9,570.3 L803.3,570.6 L802.7,570.8 L802.2,571.0 L801.6,571.2 L801.1,571.4 L800.5,571.6 L799.9,571.8 L799.4,572.0 L798.8,572.2 L798.3,572.4 L797.7,572.6 L797.1,572.8 L796.6,572.9 L796.0,573.1 L795.5,573.3 L794.9,573.5 L794.3,573.7 L793.8,573.8 L793.2,574.0 L792.6,574.2 L792.1,574.3 L791.5,574.5 L791.0,574.7 L790.4,574.8 L789.8,575.0 L789.3,575.1 L788.7,575.3 L788.2,575.4 L787.6,575.6 L787.0,575.7 L786.5,575.8 L785.9,576.0 L785.3,576.1 L784.8,576.2 L784.2,576.4 L783.7,576.5 L783.1,576.6 L782.5,576.8 L782.0,576.9 L781.4,577.0 L780.9,577.1 L780.3,577.2 L779.7,577.3 L779.2,577.4 L778.6,577.5 L778.1,577.6 L777.5,577.7 L776.9,577.8 L776.4,577.9 L775.8,578.0 L775.3,578.1 L774.7,578.2 L774.1,578.3 L773.6,578.3 L773.0,578.4 L772.5,578.5 L771.9,578.6 L771.4,578.6 L770.8,578.7 L770.3,578.8 L769.7,578.8 L769.1,578.9 L768.6,578.9 L768.0,579.0 L767.5,579.0 L766.9,579.1 L766.4,579.1 L765.8,579.2 L765.3,579.2 L764.7,579.2 L764.2,579.3 L763.6,579.3 L763.1,579.3 L762.5,579.4 L762.0,579.4 L761.4,579.4 L760.9,579.4 L760.3,579.4 L759.8,579.5 L759.3,579.5 L758.7,579.5 L758.2,579.5 L757.6,579.5 L757.1,579.5 L756.5,579.5 L756.0,579.5 L755.5,579.5 L754.9,579.5 L754.4,579.4 L753.8,579.4 L753.3,579.4 L752.8,579.4 L752.2,579.4 L751.7,579.3 L751.2,579.3 L750.6,579.3 L750.1,579.2 L749.6,579.2 L749.0,579.2 L748.5,579.1 L748.0,579.1 L747.4,579.0 L746.9,579.0 L746.4,578.9 L745.9,578.9 L745.3,578.8 L744.8,578.7 L744.3,578.7 L743.8,578.6 L743.3,578.5 L742.7,578.5 L742.2,578.4 L741.7,578.3 L741.2,578.2 L740.7,578.2 L740.1,578.1 L739.6,578.0 L739.1,577.9 L738.6,577.8 L738.1,577.7 L737.6,577.6 L737.1,577.5 L736.6,577.4 L736.1,577.3 L735.6,577.2 L735.0,577.1 L734.5,577.0 L734.0,576.9 L733.5,576.7 L733.0,576.6 L732.5,576.5 L732.0,576.4 L731.5,576.2 L731.1,576.1 L730.6,576.0 L730.1,575.8 L729.6,575.7 L729.1,575.5 L728.6,575.4 L728.1,575.3 L727.6,575.1 L727.1,575.0 L726.6,574.8 L726.2,574.6 L725.7,574.5 L725.2,574.3 L724.7,574.2 L724.2,574.0 L723.8,573.8 L723.3,573.6 L722.8,573.5 L722.3,573.3 L721.9,573.1 L721.4,572.9 L720.9,572.7 L720.5,572.6 L720.0,572.4 L719.5,572.2 L719.1,572.0 L718.6,571.8 L718.2,571.6 L717.7,571.4 L717.2,571.2 L716.8,571.0 L716.3,570.7 L715.9,570.5 L715.4,570.3 L715.0,570.1 L714.5,569.9 L714.1,569.7 L713.6,569.4 L713.2,569.2 L712.8,569.0 L712.3,568.7 L711.9,568.5 L711.4,568.3 L711.0,568.0 L710.6,567.8 L710.1,567.5 L709.7,567.3 L709.3,567.0 L708.8,566.9 L708.0,567.2 L706.9,567.9 L705.5,568.9 L704.0,570.1 L702.5,571.3 L701.1,572.4 L699.9,573.2 L698.9,573.6 L698.3,573.6 L697.8,573.3 L697.4,573.0 L696.9,572.7 L696.5,572.4 L696.1,572.1 L695.6,571.8 L695.2,571.5 L694.8,571.2 L694.3,570.9 L693.9,570.5 L693.5,570.2 L693.1,569.9 L692.6,569.6 L692.2,569.2 L691.8,568.9 L691.4,568.6 L691.2,568.0 L691.4,566.9 L691.8,565.6 L692.5,563.9 L693.3,562.2 L694.1,560.5 L694.8,559.0 L695.2,557.7 L695.3,556.9 L695.0,556.5 L694.6,556.1 L694.3,555.8 L693.9,555.5 L693.5,555.1 L693.2,554.8 L692.8,554.4 L692.5,554.1 L692.1,553.7 L691.8,553.4 L691.4,553.0 L691.1,552.7 L690.8,552.3 L690.4,552.0 L690.1,551.6 L689.7,551.2 L689.4,550.9 L689.1,550.5 L688.7,550.1 L688.4,549.7 L688.1,549.4 L687.8,549.0 L687.4,548.6 L687.1,548.2 L686.8,547.9 L686.5,547.5 L686.2,547.1 L685.9,546.7 L685.6,546.3 L685.3,545.9 L685.0,545.5 L684.7,545.1 L684.4,544.7 L684.1,544.3 L683.8,543.9 L683.5,543.5 L683.2,543.1 L682.9,542.7 L682.6,542.3 L682.3,541.9 L682.0,541.4 L681.7,541.0 L681.5,540.6 L681.2,540.2 L680.9,539.8 L680.6,539.3 L680.4,538.9 L680.1,538.5 L679.8,538.1 L679.6,537.6 L679.3,537.2 L679.1,536.8 L678.8,536.3 L678.6,535.9 L678.3,535.4 L678.1,535.0 L677.8,534.6 L677.6,534.1 L677.3,533.7 L677.1,533.2 L676.8,532.8 L676.6,532.3 L676.4,531.8 L676.1,531.4 L675.9,530.9 L675.7,530.5 L675.5,530.0 L675.2,529.6 L675.0,529.1 L674.8,528.6 L674.6,528.2 L674.4,527.7 L674.2,527.2 L674.0,526.7 L673.7,526.3 L673.5,525.8 L673.3,525.3 L673.1,524.8 L672.9,524.4 L672.8,523.9 L672.6,523.4 L672.4,522.9 L672.2,522.4 L672.0,521.9 L671.8,521.4 L671.6,520.9 L671.5,520.5 L671.3,520.0 L671.1,519.5 L670.9,519.0 L670.8,518.5 L670.6,518.0 L670.4,517.5 L670.3,517.0 L670.1,516.5 L670.0,516.0 L669.8,515.4 L669.7,514.9 L669.5,514.4 L669.4,513.9 L669.2,513.4 L669.1,512.9 L669.0,512.4 L668.8,511.9 L668.7,511.3 L668.6,510.8 L668.4,510.3 L668.3,509.8 L668.2,509.3 L668.1,508.7 L667.9,508.2 L667.8,507.7 L667.7,507.2 L667.6,506.6 L667.5,506.1 L667.4,505.6 L667.3,505.0 L667.2,504.5 L667.1,504.0 L667.0,503.4 L666.9,502.9 L666.8,502.4 L666.7,501.8 L666.6,501.3 L666.5,500.7 L666.4,500.2 L666.4,499.6 L666.3,499.1 L666.2,498.6 L666.1,498.0 L666.1,497.5 L666.0,496.9 L665.9,496.4 L665.9,495.8 L665.8,495.3 L665.8,494.7 L665.7,494.2 L665.7,493.6 L665.6,493.0 L665.6,492.5 L665.5,491.9 L665.5,491.4 L665.4,490.8 L665.4,490.3 L665.4,489.7 L665.3,489.1 L665.3,488.6 L665.3,488.0 L665.3,487.4 L665.2,486.9 L665.2,486.3 L665.2,485.7 L665.2,485.2 L665.2,484.6 L665.2,484.0 L665.2,483.5 L665.2,482.9 L665.2,482.3 L665.2,481.8 L665.2,481.2 L665.2,480.6 L665.2,480.0 L665.2,479.5 L665.2,478.9 L665.2,478.3 L665.2,477.7 L665.3,477.2 L665.3,476.6 L665.3,476.0 L665.3,475.4 L665.4,474.9 L665.4,474.3 L665.4,473.7 L665.5,473.1 L665.5,472.5 L665.6,471.9 L665.6,471.4 L665.7,470.8 L665.7,470.2 L665.8,469.6 L665.8,469.0 L665.9,468.4 L665.9,467.9 L666.0,467.3 L666.1,466.7 L666.1,466.1 L666.2,465.5 L666.3,464.9 L666.4,464.3 L666.4,463.8 L666.5,463.2 L666.6,462.6 L666.7,462.0 L666.8,461.4 L666.9,460.8 L667.0,460.2 L667.1,459.6 L667.2,459.0 L667.3,458.5 L667.4,457.9 L667.5,457.3 L667.6,456.7 L667.7,456.1 L667.8,455.5 L667.9,454.9 L668.1,454.3 L668.2,453.7 L668.3,453.1 L668.4,452.5 L668.6,452.0 L668.7,451.4 L668.8,450.8 L669.0,450.2 L669.1,449.6 L669.2,449.0 L669.4,448.4 L669.5,447.8 L669.7,447.2 L669.8,446.6 L670.0,446.0 L670.1,445.4 L670.3,444.9 L670.4,444.3 L670.6,443.7 L670.8,443.1 L670.9,442.5 L671.1,441.9 L671.3,441.3 L671.5,440.7 L671.6,440.1 L671.8,439.5 L672.0,438.9 L672.2,438.3 L672.4,437.8 L672.6,437.2 L672.8,436.6 L672.9,436.0 L673.1,435.4 L673.3,434.8 L673.5,434.2 L673.7,433.6 L674.0,433.0 L674.2,432.4 L674.4,431.9 L674.6,431.3 L674.8,430.7 L675.0,430.1 L675.2,429.5 L675.5,428.9 L675.7,428.3 L675.9,427.8 L676.1,427.2 L676.4,426.6 L676.6,426.0 L676.8,425.4 L677.1,424.8 L677.3,424.2 L677.6,423.7 L677.8,423.1 L678.1,422.5 L678.3,421.9 L678.6,421.3 L678.8,420.8 L679.1,420.2 L679.3,419.6 L679.6,419.0 L679.8,418.4 L680.1,417.9 L680.4,417.3 L680.6,416.7 L680.9,416.1 L681.2,415.6 L681.5,415.0 L681.7,414.4 L682.0,413.8 L682.3,413.3 L682.6,412.7 L682.9,412.1 L683.2,411.6 L683.5,411.0 L683.8,410.4 L684.1,409.9 L684.4,409.3 L684.7,408.7 L685.0,408.2 L685.3,407.6 L685.6,407.0 L685.9,406.5 L686.2,405.9 L686.5,405.3 L686.8,404.8 L687.1,404.2 L687.4,403.7 L687.8,403.1 L688.1,402.5 L688.4,402.0 L688.7,401.4 L689.1,400.9 L689.4,400.3 L689.7,399.8 L690.1,399.2 L690.4,398.7 L690.8,398.1 L691.1,397.6 L691.4,397.0 L691.8,396.5 L692.1,395.9 L692.5,395.4 L692.8,394.8 L693.2,394.3 L693.5,393.8 L693.9,393.2 L694.3,392.7 L694.6,392.1 L695.0,391.6 L695.3,391.0 L695.2,390.2 L694.8,389.2 L694.1,388.1 L693.3,386.8 L692.5,385.5 L691.8,384.3 L691.4,383.2 L691.2,382.2 L691.4,381.5 L691.8,381.0 L692.2,380.4 L692.6,379.8 L693.1,379.3 L693.5,378.7 L693.9,378.2 L694.3,377.6 L694.8,377.0 L695.2,376.5 L695.6,375.9 L696.1,375.4 L696.5,374.8 L696.9,374.3 L697.4,373.7 L697.8,373.2 L698.3,372.7 L698.9,372.3 L699.9,372.2 L701.1,372.3 L702.5,372.6 L704.0,373.0 L705.5,373.3 L706.9,373.6 L708.0,373.7 L708.8,373.5 L709.3,373.1 L709.7,372.6 L710.1,372.1 L710.6,371.7 L711.0,371.2 L711.4,370.7 L711.9,370.2 L712.3,369.7 L712.8,369.3 L713.2,368.8 L713.6,368.3 L714.1,367.8 L714.5,367.4 L715.0,366.9 L715.4,366.4 L715.9,366.0 L716.3,365.5 L716.8,365.0 L717.2,364.6 L717.7,364.1 L718.2,363.7 L718.6,363.2 L719.1,362.7 L719.5,362.3 L720.0,361.8 L720.5,361.4 L720.9,360.9 L721.4,360.5 L721.9,360.1 L722.3,359.6 L722.8,359.2 L723.3,358.7 L723.8,358.3 L724.2,357.9 L724.7,357.4 L725.2,357.0 L725.7,356.6 L726.2,356.1 L726.6,355.7 L727.1,355.3 L727.6,354.9 L728.1,354.4 L728.6,354.0 L729.1,353.6 L729.6,353.2 L730.1,352.8 L730.6,352.4 L731.1,352.0 L731.5,351.6 L732.0,351.1 L732.5,350.7 L733.0,350.3 L733.5,349.9 L734.0,349.5 L734.5,349.2 L735.0,348.8 L735.6,348.4 L736.1,348.0 L736.6,347.6 L737.1,347.2 L737.6,346.8 L738.1,346.4 L738.6,346.1 L739.1,345.7 L739.6,345.3 L740.1,344.9 L740.7,344.6 L741.2,344.2 L741.7,343.8 L742.2,343.5 L742.7,343.1 L743.3,342.7 L743.8,342.4 L744.3,342.0 L744.8,341.7 L745.3,341.3 L745.9,341.0 L746.4,340.6 L746.9,340.3 L747.4,339.9 L748.0,339.6 L748.5,339.2 L749.0,338.9 L749.6,338.6 L750.1,338.2 L750.6,337.9 L751.2,337.6 L751.7,337.3 L752.2,336.9 L752.8,336.6 L753.3,336.3 L753.8,336.0 L754.4,335.7 L754.9,335.3 L755.5,335.0 L756.0,334.7 L756.5,334.4 L757.1,334.1 L757.6,333.8 L758.2,333.5 L758.7,333.2 L759.3,332.9 L759.8,332.6 L760.3,332.3 L760.9,332.1 L761.4,331.8 L762.0,331.5 L762.5,331.2 L763.1,330.9 L763.6,330.7 L764.2,330.4 L764.7,330.1 L765.3,329.8 L765.8,329.6 L766.4,329.3 L766.9,329.1 L767.5,328.8 L768.0,328.5 L768.6,328.3 L769.1,328.0 L769.7,327.8 L770.3,327.5 L770.8,327.3 L771.4,327.0 L771.9,326.8 L772.5,326.6 L773.0,326.3 L773.6,326.1 L774.1,325.9 L774.7,325.6 L775.3,325.4 L775.8,325.2 L776.4,325.0 L776.9,324.8 L777.5,324.5 L778.1,324.3 L778.6,324.1 L779.2,323.9 L779.7,323.7 L780.3,323.5 L780.9,323.3 L781.4,323.1 L782.0,322.9 L782.5,322.7 L783.1,322.5 L783.7,322.3 L784.2,322.2 L784.8,322.0 L785.3,321.8 L785.9,321.6 L786.5,321.4 L787.0,321.3 L787.6,321.1 L788.2,320.9 L788.7,320.8 L789.3,320.6 L789.8,320.4 L790.4,320.3 L791.0,320.1 L791.5,320.0 L792.1,319.8 L792.6,319.7 L793.2,319.5 L793.8,319.4 L794.3,319.3 L794.9,319.1 L795.5,319.0 L796.0,318.9 L796.6,318.7 L797.1,318.6 L797.7,318.5 L798.3,318.3 L798.8,318.2 L799.4,318.1 L799.9,318.0 L800.5,317.9 L801.1,317.8 L801.6,317.7 L802.2,317.6 L802.7,317.5 L803.3,317.4 L803.9,317.3 L804.4,317.2 L805.0,317.1 L805.5,317.0 L806.1,316.9 L806.7,316.8 L807.2,316.8 L807.8,316.7 L808.3,316.6 L808.9,316.5 L809.4,316.5 L810.0,316.4 L810.5,316.3 L811.1,316.3 L811.7,316.2 L812.2,316.2 L812.8,316.1 L813.3,316.1 L813.9,316.0 L814.4,316.0 L815.0,315.9 L815.5,315.9 L816.1,315.9 L816.6,315.8 L817.2,315.8 L817.7,315.8 L818.3,315.7 L818.8,315.7 L819.4,315.7 L819.9,315.7 L820.5,315.7 L821.0,315.6 L821.5,315.6 L822.1,315.6 L822.6,315.6 L823.2,315.6 L823.7,315.6 L824.3,315.6 L824.8,315.6 L825.3,315.6 L825.9,315.6 L826.4,315.7 L827.0,315.7 L827.5,315.7 L828.0,315.7 L828.6,315.7 L829.1,315.8 L829.6,315.8 L830.2,315.8 L830.7,315.9 L831.2,315.9 L831.8,315.9 L832.3,316.0 L832.8,316.0 L833.4,316.1 L833.9,316.1 L834.4,316.2 L834.9,316.2 L835.5,316.3 L836.0,316.4 L836.5,316.4 L837.0,316.5 L837.5,316.6 L838.1,316.6 L838.6,316.7 L839.1,316.8 L839.6,316.9 L840.1,316.9 L840.7,317.0 L841.2,317.1 L841.7,317.2 L842.2,317.3 L842.7,317.4 L843.2,317.5 L843.7,317.6 L844.2,317.7 L844.7,317.8 L845.2,317.9 L845.8,318.0 L846.3,318.1 L846.8,318.2 L847.3,318.4 L847.8,318.5 L848.3,318.6 L848.8,318.7 L849.3,318.9 L849.7,319.0 L850.2,319.1 L850.7,319.3 L851.2,319.4 L851.7,319.6 L852.2,319.7 L852.7,319.8 L853.2,320.0 L853.7,320.1 L854.2,320.3 L854.6,320.5 L855.1,320.6 L855.6,320.8 L856.1,320.9 L856.6,321.1 L857.0,321.3 L857.5,321.5 L858.0,321.6 L858.5,321.8 L858.9,322.0 L859.4,322.2 L859.9,322.4 L860.3,322.5 L860.8,322.7 L861.3,322.9 L861.7,323.1 L862.2,323.3 L862.6,323.5 L863.1,323.7 L863.6,323.9 L864.0,324.1 L864.5,324.4 L864.9,324.6 L865.4,324.8 L865.8,325.0 L866.3,325.2 L866.7,325.4 L867.2,325.7 L867.6,325.9 L868.0,326.1 L868.5,326.4 L868.9,326.6 L869.4,326.8 L869.8,327.1 L870.2,327.3 L870.7,327.6 L871.1,327.8 L871.5,328.1 L872.0,328.2 L872.8,327.9 L873.9,327.2 L875.3,326.2 L876.8,325.0 L878.3,323.8 L879.7,322.7 L880.9,321.9 L881.9,321.5 L882.5,321.5 L883.0,321.8 L883.4,322.1 L883.9,322.4 L884.3,322.7 L884.7,323.0 L885.2,323.3 L885.6,323.6 L886.0,323.9 L886.5,324.2 L886.9,324.6 L887.3,324.9 L887.7,325.2 L888.2,325.5 L888.6,325.9 L889.0,326.2 L889.4,326.5 L889.6,327.1 L889.4,328.2 L889.0,329.5 L888.3,331.2 L887.5,332.9 L886.7,334.6 L886.0,336.1 L885.6,337.4 L885.5,338.2 L885.8,338.6 L886.2,339.0 L886.5,339.3 L886.9,339.6 L887.3,340.0 L887.6,340.3 L888.0,340.7 L888.3,341.0 L888.7,341.4 L889.0,341.7 L889.4,342.1 L889.7,342.4 L890.0,342.8 L890.4,343.1 L890.7,343.5 L891.1,343.9 L891.4,344.2 L891.7,344.6 L892.1,345.0 L892.4,345.4 L892.7,345.7 L893.0,346.1 L893.4,346.5 L893.7,346.9 L894.0,347.2 L894.3,347.6 L894.6,348.0 L894.9,348.4 L895.2,348.8 L895.5,349.2 L895.8,349.6 L896.1,350.0 L896.4,350.4 L896.7,350.8 L897.0,351.2 L897.3,351.6 L897.6,352.0 L897.9,352.4 L898.2,352.8 L898.5,353.2 L898.8,353.7 L899.1,354.1 L899.3,354.5 L899.6,354.9 L899.9,355.3 L900.2,355.8 L900.4,356.2 L900.7,356.6 L901.0,357.0 L901.2,357.5 L901.5,357.9 L901.7,358.3 L902.0,358.8 L902.2,359.2 L902.5,359.7 L902.7,360.1 L903.0,360.5 L903.2,361.0 L903.5,361.4 L903.7,361.9 L904.0,362.3 L904.2,362.8 L904.4,363.3 L904.7,363.7 L904.9,364.2 L905.1,364.6 L905.3,365.1 L905.6,365.5 L905.8,366.0 L906.0,366.5 L906.2,366.9 L906.4,367.4 L906.6,367.9 L906.8,368.4 L907.1,368.8 L907.3,369.3 L907.5,369.8 L907.7,370.3 L907.9,370.7 L908.0,371.2 L908.2,371.7 L908.4,372.2 L908.6,372.7 L908.8,373.2 L909.0,373.7 L909.2,374.2 L909.3,374.6 L909.5,375.1 L909.7,375.6 L909.9,376.1 L910.0,376.6 L910.2,377.1 L910.4,377.6 L910.5,378.1 L910.7,378.6 L910.8,379.1 L911.0,379.7 L911.1,380.2 L911.3,380.7 L911.4,381.2 L911.6,381.7 L911.7,382.2 L911.8,382.7 L912.0,383.2 L912.1,383.8 L912.2,384.3 L912.4,384.8 L912.5,385.3 L912.6,385.8 L912.7,386.4 L912.9,386.9 L913.0,387.4 L913.1,387.9 L913.2,388.5 L913.3,389.0 L913.4,389.5 L913.5,390.1 L913.6,390.6 L913.7,391.1 L913.8,391.7 L913.9,392.2 L914.0,392.7 L914.1,393.3 L914.2,393.8 L914.3,394.4 L914.4,394.9 L914.4,395.5 L914.5,396.0 L914.6,396.5 L914.7,397.1 L914.7,397.6 L914.8,398.2 L914.9,398.7 L914.9,399.3 L915.0,399.8 L915.0,400.4 L915.1,400.9 L915.1,401.5 L915.2,402.1 L915.2,402.6 L915.3,403.2 L915.3,403.7 L915.4,404.3 L915.4,404.8 L915.4,405.4 L915.5,406.0 L915.5,406.5 L915.5,407.1 L915.5,407.7 L915.6,408.2 L915.6,408.8 L915.6,409.4 L915.6,409.9 L915.6,410.5 L915.6,411.1 L915.6,411.6 L915.6,412.2Z" fill="#fff" stroke="#000" stroke-width="2.7" stroke-linejoin="round" stroke-linecap="round" />
<circle cx="698.3" cy="379.6" r="2.9" fill="none" stroke="#000" stroke-width="2.5"/>
<circle cx="882.5" cy="328.4" r="2.9" fill="none" stroke="#000" stroke-width="2.5"/>
<circle cx="698.3" cy="566.7" r="2.9" fill="none" stroke="#000" stroke-width="2.5"/>
<circle cx="882.5" cy="515.5" r="2.9" fill="none" stroke="#000" stroke-width="2.5"/>
<path d="M672.8,480.2 L672.8,479.2 L672.8,478.1 L672.8,477.1 L672.9,476.0 L672.9,475.0 L673.0,473.9 L673.0,472.9 L673.1,471.8 L673.2,470.7 L673.2,469.7 L673.3,468.6 L673.4,467.5 L673.6,466.5 L673.7,465.4 L673.8,464.3 L673.9,463.3 L674.1,462.2 L674.2,461.1 L674.4,460.0 L674.6,459.0 L674.8,457.9 L675.0,456.8 L675.2,455.7 L675.4,454.6 L675.6,453.6 L675.8,452.5 L676.0,451.4 L676.3,450.3 L676.5,449.2 L676.8,448.2 L677.1,447.1 L677.4,446.0 L677.6,444.9 L677.9,443.8 L678.2,442.8 L678.6,441.7 L678.9,440.6 L679.2,439.5 L679.5,438.4 L679.9,437.4 L680.2,436.3 L680.6,435.2 L681.0,434.1 L681.4,433.1 L681.8,432.0 L682.1,430.9 L682.6,429.8 L683.0,428.8 L683.4,427.7 L683.8,426.6 L684.3,425.6 L684.7,424.5 L685.2,423.5 L685.6,422.4 L686.1,421.3 L686.6,420.3 L687.1,419.2 L687.5,418.2 L688.0,417.1 L688.6,416.1 L689.1,415.0 L689.6,414.0 L690.1,413.0 L690.7,411.9 L691.2,410.9 L691.8,409.9 L692.3,408.8 L692.9,407.8 L693.5,406.8 L694.1,405.8 L694.7,404.7 L695.3,403.7 L695.9,402.7 L696.5,401.7 L697.1,400.7 L697.7,399.7 L698.4,398.7 L699.0,397.7 L699.7,396.7 L700.3,395.8 L701.0,394.8 L701.6,393.8 L702.3,392.8 L703.0,391.9 L703.7,390.9 L704.4,389.9 L705.1,389.0 L705.8,388.0 L706.5,387.1 L707.2,386.1 L708.0,385.2 L708.7,384.3 L709.5,383.3 L710.2,382.4 L711.0,381.5 L711.7,380.6 L712.5,379.7 L713.2,378.8 L714.0,377.9 L714.8,377.0 L715.6,376.1 L716.4,375.2 L717.2,374.4 L718.0,373.5 L718.8,372.6 L719.6,371.8 L720.4,370.9 L721.3,370.1 L722.1,369.2 L722.9,368.4 L723.8,367.6 L724.6,366.7 L725.5,365.9 L726.3,365.1 L727.2,364.3 L728.1,363.5 L729.0,362.7 L729.8,361.9 L730.7,361.2 L731.6,360.4 L732.5,359.6 L733.4,358.9 L734.3,358.1 L735.2,357.4 L736.1,356.6 L737.0,355.9 L737.9,355.2 L738.8,354.5 L739.8,353.8 L740.7,353.0 L741.6,352.4 L742.6,351.7 L743.5,351.0 L744.5,350.3 L745.4,349.6 L746.3,349.0 L747.3,348.3 L748.3,347.7 L749.2,347.1 L750.2,346.4 L751.1,345.8 L752.1,345.2 L753.1,344.6 L754.1,344.0 L755.0,343.4 L756.0,342.8 L757.0,342.2 L758.0,341.7 L759.0,341.1 L760.0,340.6 L761.0,340.0 L762.0,339.5 L762.9,339.0 L763.9,338.5 L764.9,338.0 L766.0,337.5 L767.0,337.0 L768.0,336.5 L769.0,336.0 L770.0,335.5 L771.0,335.1 L772.0,334.6 L773.0,334.2 L774.0,333.8 L775.0,333.3 L776.1,332.9 L777.1,332.5 L778.1,332.1 L779.1,331.7 L780.1,331.4 L781.2,331.0 L782.2,330.6 L783.2,330.3 L784.2,329.9 L785.3,329.6 L786.3,329.3 L787.3,328.9 L788.3,328.6 L789.4,328.3 L790.4,328.1 L791.4,327.8 L792.5,327.5 L793.5,327.2 L794.5,327.0 L795.5,326.7 L796.6,326.5 L797.6,326.3 L798.6,326.1 L799.6,325.9 L800.6,325.7 L801.7,325.5 L802.7,325.3 L803.7,325.1 L804.7,325.0 L805.8,324.8 L806.8,324.7 L807.8,324.5 L808.8,324.4 L809.8,324.3 L810.8,324.2 L811.8,324.1 L812.8,324.0 L813.8,323.9 L814.8,323.9 L815.9,323.8 L816.9,323.8 L817.9,323.7 L818.8,323.7 L819.8,323.7 L820.8,323.7 L821.8,323.7 L822.8,323.7 L823.8,323.7 L824.8,323.7 L825.8,323.8 L826.7,323.8 L827.7,323.9 L828.7,323.9 L829.7,324.0 L830.6,324.1 L831.6,324.2 L832.5,324.3 L833.5,324.4 L834.5,324.5 L835.4,324.6 L836.3,324.8 L837.3,324.9 L838.2,325.1 L839.2,325.3 L840.1,325.4 L841.0,325.6 L842.0,325.8 L842.9,326.0 L843.8,326.2 L844.7,326.5 L845.6,326.7 L846.5,326.9 L847.4,327.2 L848.3,327.5 L849.2,327.7 L850.1,328.0 L851.0,328.3 L851.8,328.6 L852.7,328.9 L853.6,329.2 L854.5,329.5 L855.3,329.9 L856.2,330.2 L857.0,330.6 L857.9,330.9 L858.7,331.3 L859.5,331.7 L860.4,332.1 L861.2,332.5 L862.0,332.9 L862.8,333.3 L863.6,333.7 L864.4,334.1 L865.2,334.6 L866.0,335.0 L866.8,335.5 L867.6,335.9 L868.3,336.4 L869.1,336.9 L869.8,337.4 L870.6,337.9 L871.3,338.4 L872.1,338.9 L872.8,339.4 L873.6,340.0 L902.2,361.0 L903.0,361.6 L903.7,362.1 L904.4,362.7 L905.1,363.2 L905.8,363.8 L906.5,364.4 L907.2,365.0 L907.9,365.6 L908.6,366.2 L909.3,366.8 L909.9,367.5 L910.6,368.1 L911.2,368.8 L911.9,369.4 L912.5,370.1 L913.1,370.7 L913.8,371.4 L914.4,372.1 L915.0,372.8 L915.6,373.5 L916.2,374.2 L916.8,374.9 L917.3,375.6 L917.9,376.3 L918.5,377.1 L919.0,377.8 L919.6,378.5 L920.1,379.3 L920.6,380.1 L921.2,380.8 L921.7,381.6 L922.2,382.4 L922.7,383.2 L923.2,384.0 L923.7,384.8 L924.1,385.6 L924.6,386.4 L925.1,387.2 L925.5,388.0 L926.0,388.9 L926.4,389.7 L926.8,390.5 L927.2,391.4 L927.7,392.2 L928.1,393.1 L928.5,394.0 L928.8,394.9 L929.2,395.7 L929.6,396.6 L929.9,397.5 L930.3,398.4 L930.6,399.3 L931.0,400.2 L931.3,401.1 L931.6,402.0 L931.9,403.0 L932.2,403.9 L932.5,404.8 L932.8,405.8 L933.1,406.7 L933.3,407.7 L933.6,408.6 L933.8,409.6 L934.1,410.5 L934.3,411.5 L934.5,412.5 L934.7,413.4 L934.9,414.4 L935.1,415.4 L935.3,416.4 L935.5,417.4 L935.7,418.4 L935.8,419.4 L936.0,420.4 L936.1,421.4 L936.2,422.4 L936.4,423.4 L936.5,424.4 L936.6,425.5 L936.7,426.5 L936.8,427.5 L936.8,428.6 L936.9,429.6 L937.0,430.6 L937.0,431.7 L937.1,432.7 L937.1,433.8 L937.1,434.8 L937.1,435.9 L937.1,436.9 L937.1,438.0 L937.1,439.0 L937.1,440.1 L937.1,441.2 L937.0,442.2 L937.0,443.3 L936.9,444.4 L936.8,445.4 L936.8,446.5 L936.7,447.6 L936.6,448.7 L936.5,449.8 L936.4,450.8 L936.2,451.9 L936.1,453.0 L936.0,454.1 L935.8,455.2 L935.7,456.3 L935.5,457.4 L935.3,458.4 L935.1,459.5 L934.9,460.6 L934.7,461.7 L934.5,462.8 L934.3,463.9 L934.1,465.0 L933.8,466.1 L933.6,467.2 L933.3,468.3 L933.1,469.4 L932.8,470.5 L932.5,471.6 L932.2,472.7 L931.9,473.8 L931.6,474.9 L931.3,475.9 L931.0,477.0 L930.6,478.1 L930.3,479.2 L929.9,480.3 L929.6,481.4 L929.2,482.5 L928.8,483.6 L928.5,484.7 L928.1,485.8 L927.7,486.8 L927.2,487.9 L926.8,489.0 L926.4,490.1 L926.0,491.2 L925.5,492.3 L925.1,493.3 L924.6,494.4 L924.1,495.5 L923.7,496.6 L923.2,497.6 L922.7,498.7 L922.2,499.8 L921.7,500.8 L921.2,501.9 L920.6,502.9 L920.1,504.0 L919.6,505.0 L919.0,506.1 L918.5,507.1 L917.9,508.2 L917.3,509.2 L916.8,510.3 L916.2,511.3 L915.6,512.3 L915.0,513.4 L914.4,514.4 L913.8,515.4 L913.1,516.4 L912.5,517.4 L911.9,518.5 L911.2,519.5 L910.6,520.5 L909.9,521.5 L909.3,522.5 L908.6,523.5 L907.9,524.5 L907.2,525.4 L906.5,526.4 L905.8,527.4 L905.1,528.4 L904.4,529.3 L903.7,530.3 L903.0,531.3 L902.2,532.2 L901.5,533.2 L900.8,534.1 L900.0,535.0 L899.2,536.0 L898.5,536.9 L897.7,537.8 L896.9,538.7 L896.2,539.7 L895.4,540.6 L894.6,541.5 L893.8,542.4 L893.0,543.3 L892.2,544.1 L891.3,545.0 L890.5,545.9 L889.7,546.8 L888.9,547.6 L888.0,548.5 L887.2,549.3 L886.3,550.2 L885.5,551.0 L884.6,551.9 L883.8,552.7 L882.9,553.5 L882.0,554.3 L881.1,555.1 L880.2,555.9 L879.4,556.7 L878.5,557.5 L877.6,558.3 L876.7,559.1 L875.8,559.8 L874.8,560.6 L873.9,561.4 L873.0,562.1 L872.1,562.8 L871.2,563.6 L870.2,564.3 L869.3,565.0 L868.3,565.7 L867.4,566.4 L866.5,567.1 L865.5,567.8 L864.5,568.5 L863.6,569.2 L862.6,569.8 L861.7,570.5 L860.7,571.2 L859.7,571.8 L858.7,572.4 L857.8,573.1 L856.8,573.7 L855.8,574.3 L854.8,574.9 L853.8,575.5 L852.8,576.1 L851.8,576.7 L850.8,577.2 L849.8,577.8 L848.8,578.4 L847.8,578.9 L846.8,579.5 L845.8,580.0 L844.8,580.5 L843.8,581.0 L842.8,581.5 L841.8,582.0 L840.7,582.5 L839.7,583.0 L838.7,583.5 L837.7,583.9 L836.6,584.4 L835.6,584.8 L834.6,585.3 L833.5,585.7 L832.5,586.1 L831.5,586.5 L830.5,586.9 L829.4,587.3 L828.4,587.7 L827.3,588.1 L826.3,588.5 L825.3,588.8 L824.2,589.2 L823.2,589.5 L822.2,589.8 L821.1,590.1 L820.1,590.5 L819.0,590.8 L818.0,591.1 L817.0,591.3 L815.9,591.6 L814.9,591.9 L813.8,592.1 L812.8,592.4 L811.8,592.6 L810.7,592.8 L809.7,593.1 L808.7,593.3 L807.6,593.5 L806.6,593.7 L805.5,593.8 L804.5,594.0 L803.5,594.2 L802.5,594.3 L801.4,594.5 L800.4,594.6 L799.4,594.7 L798.3,594.9 L797.3,595.0 L796.3,595.1 L795.3,595.1 L794.2,595.2 L793.2,595.3 L792.2,595.3 L791.2,595.4 L790.2,595.4 L789.2,595.5 L788.2,595.5 L787.2,595.5 L786.2,595.5 L785.2,595.5 L784.2,595.5 L783.2,595.4 L782.2,595.4 L781.2,595.4 L780.2,595.3 L779.2,595.2 L778.2,595.2 L777.3,595.1 L776.3,595.0 L775.3,594.9 L774.3,594.8 L773.4,594.6 L772.4,594.5 L771.5,594.4 L770.5,594.2 L769.5,594.0 L768.6,593.9 L767.7,593.7 L766.7,593.5 L765.8,593.3 L764.8,593.1 L763.9,592.9 L763.0,592.7 L762.1,592.4 L761.2,592.2 L760.2,591.9 L759.3,591.7 L758.4,591.4 L757.5,591.1 L756.6,590.8 L755.8,590.5 L754.9,590.2 L754.0,589.9 L753.1,589.5 L752.2,589.2 L751.4,588.9 L750.5,588.5 L749.7,588.1 L748.8,587.8 L748.0,587.4 L747.1,587.0 L746.3,586.6 L745.5,586.2 L744.7,585.8 L743.8,585.3 L743.0,584.9 L742.2,584.5 L741.4,584.0 L740.6,583.5 L739.8,583.1 L739.1,582.6 L738.3,582.1 L737.5,581.6 L736.8,581.1 L736.0,580.6 L735.2,580.1 L734.5,579.5 L733.8,579.0 L733.0,578.4 L732.3,577.9 L731.6,577.3 L730.9,576.8 L730.2,576.2 L729.5,575.6 L728.8,575.0 L728.1,574.4 L701.6,550.6 L701.0,550.0 L700.3,549.4 L699.7,548.8 L699.0,548.1 L698.4,547.5 L697.7,546.9 L697.1,546.2 L696.5,545.5 L695.9,544.9 L695.3,544.2 L694.7,543.5 L694.1,542.8 L693.5,542.1 L692.9,541.4 L692.3,540.7 L691.8,540.0 L691.2,539.3 L690.7,538.6 L690.1,537.8 L689.6,537.1 L689.1,536.3 L688.6,535.6 L688.0,534.8 L687.5,534.0 L687.1,533.3 L686.6,532.5 L686.1,531.7 L685.6,530.9 L685.2,530.1 L684.7,529.3 L684.3,528.5 L683.8,527.7 L683.4,526.8 L683.0,526.0 L682.6,525.1 L682.1,524.3 L681.8,523.5 L681.4,522.6 L681.0,521.7 L680.6,520.9 L680.2,520.0 L679.9,519.1 L679.5,518.2 L679.2,517.3 L678.9,516.4 L678.6,515.5 L678.2,514.6 L677.9,513.7 L677.6,512.8 L677.4,511.9 L677.1,511.0 L676.8,510.0 L676.5,509.1 L676.3,508.1 L676.0,507.2 L675.8,506.3 L675.6,505.3 L675.4,504.3 L675.2,503.4 L675.0,502.4 L674.8,501.4 L674.6,500.5 L674.4,499.5 L674.2,498.5 L674.1,497.5 L673.9,496.5 L673.8,495.5 L673.7,494.5 L673.6,493.5 L673.4,492.5 L673.3,491.5 L673.2,490.5 L673.2,489.5 L673.1,488.5 L673.0,487.4 L673.0,486.4 L672.9,485.4 L672.9,484.4 L672.8,483.3 L672.8,482.3 L672.8,481.2Z" fill="#fff" stroke="#000" stroke-width="2.7" stroke-linejoin="round" stroke-linecap="round" />
<clipPath id="c2"><path d="M937.1,436.9 L937.1,438.0 L937.1,439.0 L937.1,440.1 L937.1,441.2 L937.0,442.2 L937.0,443.3 L936.9,444.4 L936.8,445.4 L936.8,446.5 L936.7,447.6 L936.6,448.7 L936.5,449.8 L936.4,450.8 L936.2,451.9 L936.1,453.0 L936.0,454.1 L935.8,455.2 L935.7,456.3 L935.5,457.4 L935.3,458.4 L935.1,459.5 L934.9,460.6 L934.7,461.7 L934.5,462.8 L934.3,463.9 L934.1,465.0 L933.8,466.1 L933.6,467.2 L933.3,468.3 L933.1,469.4 L932.8,470.5 L932.5,471.6 L932.2,472.7 L931.9,473.8 L931.6,474.9 L931.3,475.9 L931.0,477.0 L930.6,478.1 L930.3,479.2 L929.9,480.3 L929.6,481.4 L929.2,482.5 L928.8,483.6 L928.5,484.7 L928.1,485.8 L927.7,486.8 L927.2,487.9 L926.8,489.0 L926.4,490.1 L926.0,491.2 L925.5,492.3 L925.1,493.3 L924.6,494.4 L924.1,495.5 L923.7,496.6 L923.2,497.6 L922.7,498.7 L922.2,499.8 L921.7,500.8 L921.2,501.9 L920.6,502.9 L920.1,504.0 L919.6,505.0 L919.0,506.1 L918.5,507.1 L917.9,508.2 L917.3,509.2 L916.8,510.3 L916.2,511.3 L915.6,512.3 L915.0,513.4 L914.4,514.4 L913.8,515.4 L913.1,516.4 L912.5,517.4 L911.9,518.5 L911.2,519.5 L910.6,520.5 L909.9,521.5 L909.3,522.5 L908.6,523.5 L907.9,524.5 L907.2,525.4 L906.5,526.4 L905.8,527.4 L905.1,528.4 L904.4,529.3 L903.7,530.3 L903.0,531.3 L902.2,532.2 L901.5,533.2 L900.8,534.1 L900.0,535.0 L899.2,536.0 L898.5,536.9 L897.7,537.8 L896.9,538.7 L896.2,539.7 L895.4,540.6 L894.6,541.5 L893.8,542.4 L893.0,543.3 L892.2,544.1 L891.3,545.0 L890.5,545.9 L889.7,546.8 L888.9,547.6 L888.0,548.5 L887.2,549.3 L886.3,550.2 L885.5,551.0 L884.6,551.9 L883.8,552.7 L882.9,553.5 L882.0,554.3 L881.1,555.1 L880.2,555.9 L879.4,556.7 L878.5,557.5 L877.6,558.3 L876.7,559.1 L875.8,559.8 L874.8,560.6 L873.9,561.4 L873.0,562.1 L872.1,562.8 L871.2,563.6 L870.2,564.3 L869.3,565.0 L868.3,565.7 L867.4,566.4 L866.5,567.1 L865.5,567.8 L864.5,568.5 L863.6,569.2 L862.6,569.8 L861.7,570.5 L860.7,571.2 L859.7,571.8 L858.7,572.4 L857.8,573.1 L856.8,573.7 L855.8,574.3 L854.8,574.9 L853.8,575.5 L852.8,576.1 L851.8,576.7 L850.8,577.2 L849.8,577.8 L848.8,578.4 L847.8,578.9 L846.8,579.5 L845.8,580.0 L844.8,580.5 L843.8,581.0 L842.8,581.5 L841.8,582.0 L840.7,582.5 L839.7,583.0 L838.7,583.5 L837.7,583.9 L836.6,584.4 L835.6,584.8 L834.6,585.3 L833.5,585.7 L832.5,586.1 L831.5,586.5 L830.5,586.9 L829.4,587.3 L828.4,587.7 L827.3,588.1 L826.3,588.5 L825.3,588.8 L824.2,589.2 L823.2,589.5 L822.2,589.8 L821.1,590.1 L820.1,590.5 L819.0,590.8 L818.0,591.1 L817.0,591.3 L815.9,591.6 L814.9,591.9 L813.8,592.1 L812.8,592.4 L811.8,592.6 L810.7,592.8 L809.7,593.1 L808.7,593.3 L807.6,593.5 L806.6,593.7 L805.5,593.8 L804.5,594.0 L803.5,594.2 L802.5,594.3 L801.4,594.5 L800.4,594.6 L799.4,594.7 L798.3,594.9 L797.3,595.0 L796.3,595.1 L795.3,595.1 L794.2,595.2 L793.2,595.3 L792.2,595.3 L791.2,595.4 L790.2,595.4 L789.2,595.5 L788.2,595.5 L787.2,595.5 L786.2,595.5 L785.2,595.5 L784.2,595.5 L783.2,595.4 L782.2,595.4 L781.2,595.4 L780.2,595.3 L779.2,595.2 L778.2,595.2 L777.3,595.1 L776.3,595.0 L775.3,594.9 L774.3,594.8 L773.4,594.6 L772.4,594.5 L771.5,594.4 L770.5,594.2 L769.5,594.0 L768.6,593.9 L767.7,593.7 L766.7,593.5 L765.8,593.3 L764.8,593.1 L763.9,592.9 L763.0,592.7 L762.1,592.4 L761.2,592.2 L760.2,591.9 L759.3,591.6 L758.4,591.4 L757.5,591.1 L756.6,590.8 L755.8,590.5 L754.9,590.2 L754.0,589.9 L753.1,589.5 L752.2,589.2 L751.4,588.9 L750.5,588.5 L749.7,588.1 L748.8,587.8 L748.0,587.4 L747.1,587.0 L746.3,586.6 L745.5,586.2 L744.7,585.8 L743.8,585.3 L743.0,584.9 L742.2,584.5 L741.4,584.0 L740.6,583.5 L739.8,583.1 L739.1,582.6 L738.3,582.1 L737.5,581.6 L736.8,581.1 L736.0,580.6 L735.2,580.1 L734.5,579.5 L733.8,579.0 L733.0,578.4 L732.3,577.9 L731.6,577.3 L730.9,576.8 L730.2,576.2 L729.5,575.6 L728.8,575.0 L728.1,574.4 L727.4,573.8 L726.7,573.2 L726.1,572.5 L725.4,571.9 L724.8,571.2 L724.1,570.6 L723.5,569.9 L722.9,569.3 L722.2,568.6 L721.6,567.9 L721.0,567.2 L720.4,566.5 L719.8,565.8 L719.2,565.1 L718.7,564.4 L718.1,563.7 L717.5,562.9 L717.0,562.2 L716.4,561.5 L715.9,560.7 L715.4,559.9 L714.8,559.2 L714.3,558.4 L713.8,557.6 L713.3,556.8 L712.8,556.0 L712.3,555.2 L711.9,554.4 L711.4,553.6 L710.9,552.8 L710.5,552.0 L710.0,551.1 L709.6,550.3 L709.2,549.5 L708.8,548.6 L708.3,547.8 L707.9,546.9 L707.5,546.0 L707.2,545.1 L706.8,544.3 L706.4,543.4 L706.1,542.5 L705.7,541.6 L705.4,540.7 L705.0,539.8 L704.7,538.9 L704.4,538.0 L704.1,537.0 L703.8,536.1 L703.5,535.2 L703.2,534.2 L702.9,533.3 L702.7,532.3 L702.4,531.4 L702.2,530.4 L701.9,529.5 L701.7,528.5 L701.5,527.5 L701.3,526.6 L701.1,525.6 L700.9,524.6 L700.7,523.6 L700.5,522.6 L700.3,521.6 L700.2,520.6 L700.0,519.6 L699.9,518.6 L699.8,517.6 L699.6,516.6 L699.5,515.6 L699.4,514.5 L699.3,513.5 L699.2,512.5 L699.2,511.4 L699.1,510.4 L699.0,509.4 L699.0,508.3 L698.9,507.3 L698.9,506.2 L698.9,505.2 L698.9,504.1 L698.9,503.1 L698.9,502.0 L698.9,501.0 L698.9,499.9 L698.9,498.8 L699.0,497.8 L699.0,496.7 L699.1,495.6 L699.2,494.6 L699.2,493.5 L699.3,492.4 L699.4,491.3 L699.5,490.2 L699.6,489.2 L699.8,488.1 L699.9,487.0 L700.0,485.9 L700.2,484.8 L700.3,483.7 L700.5,482.6 L700.7,481.6 L700.9,480.5 L701.1,479.4 L701.3,478.3 L701.5,477.2 L701.7,476.1 L701.9,475.0 L702.2,473.9 L702.4,472.8 L702.7,471.7 L702.9,470.6 L703.2,469.5 L703.5,468.4 L703.8,467.3 L704.1,466.2 L704.4,465.1 L704.7,464.1 L705.0,463.0 L705.4,461.9 L705.7,460.8 L706.1,459.7 L706.4,458.6 L706.8,457.5 L707.2,456.4 L707.5,455.3 L707.9,454.2 L708.3,453.2 L708.8,452.1 L709.2,451.0 L709.6,449.9 L710.0,448.8 L710.5,447.7 L710.9,446.7 L711.4,445.6 L711.9,444.5 L712.3,443.4 L712.8,442.4 L713.3,441.3 L713.8,440.2 L714.3,439.2 L714.8,438.1 L715.4,437.1 L715.9,436.0 L716.4,435.0 L717.0,433.9 L717.5,432.9 L718.1,431.8 L718.7,430.8 L719.2,429.7 L719.8,428.7 L720.4,427.7 L721.0,426.6 L721.6,425.6 L722.2,424.6 L722.9,423.6 L723.5,422.6 L724.1,421.5 L724.8,420.5 L725.4,419.5 L726.1,418.5 L726.7,417.5 L727.4,416.5 L728.1,415.5 L728.8,414.6 L729.5,413.6 L730.2,412.6 L730.9,411.6 L731.6,410.7 L732.3,409.7 L733.0,408.7 L733.8,407.8 L734.5,406.8 L735.2,405.9 L736.0,405.0 L736.8,404.0 L737.5,403.1 L738.3,402.2 L739.1,401.3 L739.8,400.3 L740.6,399.4 L741.4,398.5 L742.2,397.6 L743.0,396.7 L743.8,395.9 L744.7,395.0 L745.5,394.1 L746.3,393.2 L747.1,392.4 L748.0,391.5 L748.8,390.7 L749.7,389.8 L750.5,389.0 L751.4,388.1 L752.2,387.3 L753.1,386.5 L754.0,385.7 L754.9,384.9 L755.8,384.1 L756.6,383.3 L757.5,382.5 L758.4,381.7 L759.3,380.9 L760.2,380.2 L761.2,379.4 L762.1,378.6 L763.0,377.9 L763.9,377.2 L764.8,376.4 L765.8,375.7 L766.7,375.0 L767.7,374.3 L768.6,373.6 L769.5,372.9 L770.5,372.2 L771.5,371.5 L772.4,370.8 L773.4,370.2 L774.3,369.5 L775.3,368.8 L776.3,368.2 L777.3,367.6 L778.2,366.9 L779.2,366.3 L780.2,365.7 L781.2,365.1 L782.2,364.5 L783.2,363.9 L784.2,363.3 L785.2,362.8 L786.2,362.2 L787.2,361.6 L788.2,361.1 L789.2,360.5 L790.2,360.0 L791.2,359.5 L792.2,359.0 L793.2,358.5 L794.2,358.0 L795.3,357.5 L796.3,357.0 L797.3,356.5 L798.3,356.1 L799.4,355.6 L800.4,355.2 L801.4,354.7 L802.5,354.3 L803.5,353.9 L804.5,353.5 L805.5,353.1 L806.6,352.7 L807.6,352.3 L808.7,351.9 L809.7,351.5 L810.7,351.2 L811.8,350.8 L812.8,350.5 L813.8,350.2 L814.9,349.9 L815.9,349.5 L817.0,349.2 L818.0,348.9 L819.0,348.7 L820.1,348.4 L821.1,348.1 L822.2,347.9 L823.2,347.6 L824.2,347.4 L825.3,347.2 L826.3,346.9 L827.3,346.7 L828.4,346.5 L829.4,346.3 L830.5,346.2 L831.5,346.0 L832.5,345.8 L833.5,345.7 L834.6,345.5 L835.6,345.4 L836.6,345.3 L837.7,345.1 L838.7,345.0 L839.7,344.9 L840.7,344.9 L841.8,344.8 L842.8,344.7 L843.8,344.7 L844.8,344.6 L845.8,344.6 L846.8,344.5 L847.8,344.5 L848.8,344.5 L849.8,344.5 L850.8,344.5 L851.8,344.5 L852.8,344.6 L853.8,344.6 L854.8,344.6 L855.8,344.7 L856.8,344.8 L857.8,344.8 L858.7,344.9 L859.7,345.0 L860.7,345.1 L861.7,345.2 L862.6,345.4 L863.6,345.5 L864.5,345.6 L865.5,345.8 L866.5,346.0 L867.4,346.1 L868.3,346.3 L869.3,346.5 L870.2,346.7 L871.2,346.9 L872.1,347.1 L873.0,347.3 L873.9,347.6 L874.8,347.8 L875.8,348.1 L876.7,348.4 L877.6,348.6 L878.5,348.9 L879.4,349.2 L880.2,349.5 L881.1,349.8 L882.0,350.1 L882.9,350.5 L883.8,350.8 L884.6,351.1 L885.5,351.5 L886.3,351.9 L887.2,352.2 L888.0,352.6 L888.9,353.0 L889.7,353.4 L890.5,353.8 L891.3,354.2 L892.2,354.7 L893.0,355.1 L893.8,355.5 L894.6,356.0 L895.4,356.5 L896.2,356.9 L896.9,357.4 L897.7,357.9 L898.5,358.4 L899.2,358.9 L900.0,359.4 L900.8,359.9 L901.5,360.5 L902.2,361.0 L903.0,361.6 L903.7,362.1 L904.4,362.7 L905.1,363.2 L905.8,363.8 L906.5,364.4 L907.2,365.0 L907.9,365.6 L908.6,366.2 L909.3,366.8 L909.9,367.5 L910.6,368.1 L911.2,368.8 L911.9,369.4 L912.5,370.1 L913.1,370.7 L913.8,371.4 L914.4,372.1 L915.0,372.8 L915.6,373.5 L916.2,374.2 L916.8,374.9 L917.3,375.6 L917.9,376.3 L918.5,377.1 L919.0,377.8 L919.6,378.5 L920.1,379.3 L920.6,380.1 L921.2,380.8 L921.7,381.6 L922.2,382.4 L922.7,383.2 L923.2,384.0 L923.7,384.8 L924.1,385.6 L924.6,386.4 L925.1,387.2 L925.5,388.0 L926.0,388.9 L926.4,389.7 L926.8,390.5 L927.2,391.4 L927.7,392.2 L928.1,393.1 L928.5,394.0 L928.8,394.9 L929.2,395.7 L929.6,396.6 L929.9,397.5 L930.3,398.4 L930.6,399.3 L931.0,400.2 L931.3,401.1 L931.6,402.0 L931.9,403.0 L932.2,403.9 L932.5,404.8 L932.8,405.8 L933.1,406.7 L933.3,407.7 L933.6,408.6 L933.8,409.6 L934.1,410.5 L934.3,411.5 L934.5,412.5 L934.7,413.4 L934.9,414.4 L935.1,415.4 L935.3,416.4 L935.5,417.4 L935.7,418.4 L935.8,419.4 L936.0,420.4 L936.1,421.4 L936.2,422.4 L936.4,423.4 L936.5,424.4 L936.6,425.5 L936.7,426.5 L936.8,427.5 L936.8,428.6 L936.9,429.6 L937.0,430.6 L937.0,431.7 L937.1,432.7 L937.1,433.8 L937.1,434.8 L937.1,435.9Z"/></clipPath>
<g clip-path="url(#c2)">
<path d="M908.0,414.9 L908.0,415.9 L908.0,417.0 L908.0,418.0 L907.9,419.1 L907.9,420.1 L907.8,421.2 L907.8,422.2 L907.7,423.3 L907.6,424.4 L907.6,425.4 L907.5,426.5 L907.4,427.6 L907.2,428.6 L907.1,429.7 L907.0,430.8 L906.9,431.8 L906.7,432.9 L906.6,434.0 L906.4,435.1 L906.2,436.1 L906.0,437.2 L905.8,438.3 L905.6,439.4 L905.4,440.5 L905.2,441.5 L905.0,442.6 L904.8,443.7 L904.5,444.8 L904.3,445.9 L904.0,446.9 L903.7,448.0 L903.4,449.1 L903.2,450.2 L902.9,451.3 L902.6,452.3 L902.2,453.4 L901.9,454.5 L901.6,455.6 L901.3,456.7 L900.9,457.7 L900.6,458.8 L900.2,459.9 L899.8,461.0 L899.4,462.0 L899.0,463.1 L898.7,464.2 L898.2,465.3 L897.8,466.3 L897.4,467.4 L897.0,468.5 L896.5,469.5 L896.1,470.6 L895.6,471.6 L895.2,472.7 L894.7,473.8 L894.2,474.8 L893.7,475.9 L893.3,476.9 L892.8,478.0 L892.2,479.0 L891.7,480.1 L891.2,481.1 L890.7,482.1 L890.1,483.2 L889.6,484.2 L889.0,485.2 L888.5,486.3 L887.9,487.3 L887.3,488.3 L886.7,489.3 L886.1,490.4 L885.5,491.4 L884.9,492.4 L884.3,493.4 L883.7,494.4 L883.1,495.4 L882.4,496.4 L881.8,497.4 L881.1,498.4 L880.5,499.3 L879.8,500.3 L879.2,501.3 L878.5,502.3 L877.8,503.2 L877.1,504.2 L876.4,505.2 L875.7,506.1 L875.0,507.1 L874.3,508.0 L873.6,509.0 L872.8,509.9 L872.1,510.8 L871.4,511.8 L870.6,512.7 L869.8,513.6 L869.1,514.5 L868.3,515.4 L867.6,516.3 L866.8,517.2 L866.0,518.1 L865.2,519.0 L864.4,519.9 L863.6,520.7 L862.8,521.6 L862.0,522.5 L861.2,523.3 L860.4,524.2 L859.5,525.0 L858.7,525.9 L857.9,526.7 L857.0,527.5 L856.2,528.4 L855.3,529.2 L854.4,530.0 L853.6,530.8 L852.7,531.6 L851.8,532.4 L851.0,533.2 L850.1,533.9 L849.2,534.7 L848.3,535.5 L847.4,536.2 L846.5,537.0 L845.6,537.7 L844.7,538.5 L843.8,539.2 L842.9,539.9 L842.0,540.6 L841.0,541.3 L840.1,542.1 L839.2,542.7 L838.2,543.4 L837.3,544.1 L836.3,544.8 L835.4,545.5 L834.5,546.1 L833.5,546.8 L832.5,547.4 L831.6,548.0 L830.6,548.7 L829.7,549.3 L828.7,549.9 L827.7,550.5 L826.7,551.1 L825.8,551.7 L824.8,552.3 L823.8,552.9 L822.8,553.4 L821.8,554.0 L820.8,554.5 L819.8,555.1 L818.9,555.6 L817.9,556.1 L816.9,556.6 L815.9,557.1 L814.9,557.6 L813.8,558.1 L812.8,558.6 L811.8,559.1 L810.8,559.6 L809.8,560.0 L808.8,560.5 L807.8,560.9 L806.8,561.3 L805.7,561.8 L804.7,562.2 L803.7,562.6 L802.7,563.0 L801.7,563.4 L800.6,563.7 L799.6,564.1 L798.6,564.5 L797.6,564.8 L796.6,565.2 L795.5,565.5 L794.5,565.8 L793.5,566.2 L792.5,566.5 L791.4,566.8 L790.4,567.0 L789.4,567.3 L788.3,567.6 L787.3,567.9 L786.3,568.1 L785.3,568.4 L784.2,568.6 L783.2,568.8 L782.2,569.0 L781.2,569.2 L780.2,569.4 L779.1,569.6 L778.1,569.8 L777.1,570.0 L776.1,570.1 L775.1,570.3 L774.0,570.4 L773.0,570.6 L772.0,570.7 L771.0,570.8 L770.0,570.9 L769.0,571.0 L768.0,571.1 L767.0,571.2 L765.9,571.2 L764.9,571.3 L763.9,571.3 L762.9,571.4 L761.9,571.4 L761.0,571.4 L760.0,571.4 L759.0,571.4 L758.0,571.4 L757.0,571.4 L756.0,571.4 L755.0,571.3 L754.1,571.3 L753.1,571.2 L752.1,571.2 L751.1,571.1 L750.2,571.0 L749.2,570.9 L748.3,570.8 L747.3,570.7 L746.3,570.6 L745.4,570.5 L744.5,570.3 L743.5,570.2 L742.6,570.0 L741.6,569.8 L740.7,569.7 L739.8,569.5 L738.8,569.3 L737.9,569.1 L737.0,568.9 L736.1,568.6 L735.2,568.4 L734.3,568.2 L733.4,567.9 L732.5,567.6 L731.6,567.4 L730.7,567.1 L729.8,566.8 L729.0,566.5 L728.1,566.2 L727.2,565.9 L726.4,565.6 L725.5,565.2 L724.6,564.9 L723.8,564.5 L722.9,564.2 L722.1,563.8 L721.3,563.4 L720.4,563.0 L719.6,562.6 L718.8,562.2 L718.0,561.8 L717.2,561.4 L716.4,561.0 L715.6,560.5 L714.8,560.1 L714.0,559.6 L713.2,559.2 L712.5,558.7 L711.7,558.2 L711.0,557.7 L710.2,557.2 L709.4,556.7 L708.7,556.2 L708.0,555.7 L707.2,555.1 L706.5,554.6 L705.8,554.1 L705.1,553.5 L704.4,552.9 L703.7,552.4 L703.0,551.8 L702.3,551.2 L701.6,550.6 L701.0,550.0 L700.3,549.4 L699.7,548.8 L699.0,548.1 L698.4,547.5 L697.7,546.9 L697.1,546.2 L696.5,545.5 L695.9,544.9 L695.3,544.2 L694.7,543.5 L694.1,542.8 L693.5,542.1 L692.9,541.4 L692.3,540.7 L691.8,540.0 L691.2,539.3 L690.7,538.6 L690.1,537.8 L689.6,537.1 L689.1,536.3 L688.6,535.6 L688.0,534.8 L687.5,534.0 L687.1,533.3 L686.6,532.5 L686.1,531.7 L685.6,530.9 L685.2,530.1 L684.7,529.3 L684.3,528.5 L683.8,527.7 L683.4,526.8 L683.0,526.0 L682.6,525.1 L682.1,524.3 L681.8,523.5 L681.4,522.6 L681.0,521.7 L680.6,520.9 L680.2,520.0 L679.9,519.1 L679.5,518.2 L679.2,517.3 L678.9,516.4 L678.6,515.5 L678.2,514.6 L677.9,513.7 L677.6,512.8 L677.4,511.9 L677.1,511.0 L676.8,510.0 L676.5,509.1 L676.3,508.1 L676.0,507.2 L675.8,506.3 L675.6,505.3 L675.4,504.3 L675.2,503.4 L675.0,502.4 L674.8,501.4 L674.6,500.5 L674.4,499.5 L674.2,498.5 L674.1,497.5 L673.9,496.5 L673.8,495.5 L673.7,494.5 L673.6,493.5 L673.4,492.5 L673.3,491.5 L673.2,490.5 L673.2,489.5 L673.1,488.5 L673.0,487.4 L673.0,486.4 L672.9,485.4 L672.9,484.4 L672.8,483.3 L672.8,482.3 L672.8,481.2 L672.8,480.2 L672.8,479.2 L672.8,478.1 L672.8,477.1 L672.9,476.0 L672.9,475.0 L673.0,473.9 L673.0,472.9 L673.1,471.8 L673.2,470.7 L673.2,469.7 L673.3,468.6 L673.4,467.5 L673.6,466.5 L673.7,465.4 L673.8,464.3 L673.9,463.3 L674.1,462.2 L674.2,461.1 L674.4,460.0 L674.6,459.0 L674.8,457.9 L675.0,456.8 L675.2,455.7 L675.4,454.6 L675.6,453.6 L675.8,452.5 L676.0,451.4 L676.3,450.3 L676.5,449.2 L676.8,448.2 L677.1,447.1 L677.4,446.0 L677.6,444.9 L677.9,443.8 L678.2,442.8 L678.6,441.7 L678.9,440.6 L679.2,439.5 L679.5,438.4 L679.9,437.4 L680.2,436.3 L680.6,435.2 L681.0,434.1 L681.4,433.1 L681.8,432.0 L682.1,430.9 L682.6,429.8 L683.0,428.8 L683.4,427.7 L683.8,426.6 L684.3,425.6 L684.7,424.5 L685.2,423.5 L685.6,422.4 L686.1,421.3 L686.6,420.3 L687.1,419.2 L687.5,418.2 L688.0,417.1 L688.6,416.1 L689.1,415.0 L689.6,414.0 L690.1,413.0 L690.7,411.9 L691.2,410.9 L691.8,409.9 L692.3,408.8 L692.9,407.8 L693.5,406.8 L694.1,405.8 L694.7,404.7 L695.3,403.7 L695.9,402.7 L696.5,401.7 L697.1,400.7 L697.7,399.7 L698.4,398.7 L699.0,397.7 L699.7,396.7 L700.3,395.8 L701.0,394.8 L701.6,393.8 L702.3,392.8 L703.0,391.9 L703.7,390.9 L704.4,389.9 L705.1,389.0 L705.8,388.0 L706.5,387.1 L707.2,386.1 L708.0,385.2 L708.7,384.3 L709.4,383.3 L710.2,382.4 L711.0,381.5 L711.7,380.6 L712.5,379.7 L713.2,378.8 L714.0,377.9 L714.8,377.0 L715.6,376.1 L716.4,375.2 L717.2,374.4 L718.0,373.5 L718.8,372.6 L719.6,371.8 L720.4,370.9 L721.3,370.1 L722.1,369.2 L722.9,368.4 L723.8,367.6 L724.6,366.7 L725.5,365.9 L726.4,365.1 L727.2,364.3 L728.1,363.5 L729.0,362.7 L729.8,361.9 L730.7,361.2 L731.6,360.4 L732.5,359.6 L733.4,358.9 L734.3,358.1 L735.2,357.4 L736.1,356.6 L737.0,355.9 L737.9,355.2 L738.8,354.5 L739.8,353.8 L740.7,353.0 L741.6,352.4 L742.6,351.7 L743.5,351.0 L744.5,350.3 L745.4,349.6 L746.3,349.0 L747.3,348.3 L748.3,347.7 L749.2,347.1 L750.2,346.4 L751.1,345.8 L752.1,345.2 L753.1,344.6 L754.1,344.0 L755.0,343.4 L756.0,342.8 L757.0,342.2 L758.0,341.7 L759.0,341.1 L760.0,340.6 L761.0,340.0 L761.9,339.5 L762.9,339.0 L763.9,338.5 L764.9,338.0 L765.9,337.5 L767.0,337.0 L768.0,336.5 L769.0,336.0 L770.0,335.5 L771.0,335.1 L772.0,334.6 L773.0,334.2 L774.0,333.8 L775.1,333.3 L776.1,332.9 L777.1,332.5 L778.1,332.1 L779.1,331.7 L780.2,331.4 L781.2,331.0 L782.2,330.6 L783.2,330.3 L784.2,329.9 L785.3,329.6 L786.3,329.3 L787.3,328.9 L788.3,328.6 L789.4,328.3 L790.4,328.1 L791.4,327.8 L792.5,327.5 L793.5,327.2 L794.5,327.0 L795.5,326.7 L796.6,326.5 L797.6,326.3 L798.6,326.1 L799.6,325.9 L800.6,325.7 L801.7,325.5 L802.7,325.3 L803.7,325.1 L804.7,325.0 L805.7,324.8 L806.8,324.7 L807.8,324.5 L808.8,324.4 L809.8,324.3 L810.8,324.2 L811.8,324.1 L812.8,324.0 L813.8,323.9 L814.9,323.9 L815.9,323.8 L816.9,323.8 L817.9,323.7 L818.9,323.7 L819.8,323.7 L820.8,323.7 L821.8,323.7 L822.8,323.7 L823.8,323.7 L824.8,323.7 L825.8,323.8 L826.7,323.8 L827.7,323.9 L828.7,323.9 L829.7,324.0 L830.6,324.1 L831.6,324.2 L832.5,324.3 L833.5,324.4 L834.5,324.5 L835.4,324.6 L836.3,324.8 L837.3,324.9 L838.2,325.1 L839.2,325.3 L840.1,325.4 L841.0,325.6 L842.0,325.8 L842.9,326.0 L843.8,326.2 L844.7,326.5 L845.6,326.7 L846.5,326.9 L847.4,327.2 L848.3,327.5 L849.2,327.7 L850.1,328.0 L851.0,328.3 L851.8,328.6 L852.7,328.9 L853.6,329.2 L854.4,329.5 L855.3,329.9 L856.2,330.2 L857.0,330.6 L857.9,330.9 L858.7,331.3 L859.5,331.7 L860.4,332.1 L861.2,332.5 L862.0,332.9 L862.8,333.3 L863.6,333.7 L864.4,334.1 L865.2,334.6 L866.0,335.0 L866.8,335.5 L867.6,335.9 L868.3,336.4 L869.1,336.9 L869.8,337.4 L870.6,337.9 L871.4,338.4 L872.1,338.9 L872.8,339.4 L873.6,340.0 L874.3,340.5 L875.0,341.0 L875.7,341.6 L876.4,342.2 L877.1,342.7 L877.8,343.3 L878.5,343.9 L879.2,344.5 L879.8,345.1 L880.5,345.7 L881.1,346.3 L881.8,347.0 L882.4,347.6 L883.1,348.2 L883.7,348.9 L884.3,349.6 L884.9,350.2 L885.5,350.9 L886.1,351.6 L886.7,352.3 L887.3,353.0 L887.9,353.7 L888.5,354.4 L889.0,355.1 L889.6,355.8 L890.1,356.5 L890.7,357.3 L891.2,358.0 L891.7,358.8 L892.2,359.5 L892.8,360.3 L893.3,361.1 L893.7,361.8 L894.2,362.6 L894.7,363.4 L895.2,364.2 L895.6,365.0 L896.1,365.8 L896.5,366.6 L897.0,367.4 L897.4,368.3 L897.8,369.1 L898.2,370.0 L898.7,370.8 L899.0,371.6 L899.4,372.5 L899.8,373.4 L900.2,374.2 L900.6,375.1 L900.9,376.0 L901.3,376.9 L901.6,377.8 L901.9,378.7 L902.2,379.6 L902.6,380.5 L902.9,381.4 L903.2,382.3 L903.4,383.2 L903.7,384.1 L904.0,385.1 L904.3,386.0 L904.5,387.0 L904.8,387.9 L905.0,388.8 L905.2,389.8 L905.4,390.8 L905.6,391.7 L905.8,392.7 L906.0,393.7 L906.2,394.6 L906.4,395.6 L906.6,396.6 L906.7,397.6 L906.9,398.6 L907.0,399.6 L907.1,400.6 L907.2,401.6 L907.4,402.6 L907.5,403.6 L907.6,404.6 L907.6,405.6 L907.7,406.6 L907.8,407.7 L907.8,408.7 L907.9,409.7 L907.9,410.7 L908.0,411.8 L908.0,412.8 L908.0,413.9Z" fill="none" stroke="#000" stroke-width="2.7" stroke-linejoin="round" stroke-linecap="round" />
</g>
<path d="M937.1,436.9 L937.1,438.0 L937.1,439.0 L937.1,440.1 L937.1,441.2 L937.0,442.2 L937.0,443.3 L936.9,444.4 L936.8,445.4 L936.8,446.5 L936.7,447.6 L936.6,448.7 L936.5,449.8 L936.4,450.8 L936.2,451.9 L936.1,453.0 L936.0,454.1 L935.8,455.2 L935.7,456.3 L935.5,457.4 L935.3,458.4 L935.1,459.5 L934.9,460.6 L934.7,461.7 L934.5,462.8 L934.3,463.9 L934.1,465.0 L933.8,466.1 L933.6,467.2 L933.3,468.3 L933.1,469.4 L932.8,470.5 L932.5,471.6 L932.2,472.7 L931.9,473.8 L931.6,474.9 L931.3,475.9 L931.0,477.0 L930.6,478.1 L930.3,479.2 L929.9,480.3 L929.6,481.4 L929.2,482.5 L928.8,483.6 L928.5,484.7 L928.1,485.8 L927.7,486.8 L927.2,487.9 L926.8,489.0 L926.4,490.1 L926.0,491.2 L925.5,492.3 L925.1,493.3 L924.6,494.4 L924.1,495.5 L923.7,496.6 L923.2,497.6 L922.7,498.7 L922.2,499.8 L921.7,500.8 L921.2,501.9 L920.6,502.9 L920.1,504.0 L919.6,505.0 L919.0,506.1 L918.5,507.1 L917.9,508.2 L917.3,509.2 L916.8,510.3 L916.2,511.3 L915.6,512.3 L915.0,513.4 L914.4,514.4 L913.8,515.4 L913.1,516.4 L912.5,517.4 L911.9,518.5 L911.2,519.5 L910.6,520.5 L909.9,521.5 L909.3,522.5 L908.6,523.5 L907.9,524.5 L907.2,525.4 L906.5,526.4 L905.8,527.4 L905.1,528.4 L904.4,529.3 L903.7,530.3 L903.0,531.3 L902.2,532.2 L901.5,533.2 L900.8,534.1 L900.0,535.0 L899.2,536.0 L898.5,536.9 L897.7,537.8 L896.9,538.7 L896.2,539.7 L895.4,540.6 L894.6,541.5 L893.8,542.4 L893.0,543.3 L892.2,544.1 L891.3,545.0 L890.5,545.9 L889.7,546.8 L888.9,547.6 L888.0,548.5 L887.2,549.3 L886.3,550.2 L885.5,551.0 L884.6,551.9 L883.8,552.7 L882.9,553.5 L882.0,554.3 L881.1,555.1 L880.2,555.9 L879.4,556.7 L878.5,557.5 L877.6,558.3 L876.7,559.1 L875.8,559.8 L874.8,560.6 L873.9,561.4 L873.0,562.1 L872.1,562.8 L871.2,563.6 L870.2,564.3 L869.3,565.0 L868.3,565.7 L867.4,566.4 L866.5,567.1 L865.5,567.8 L864.5,568.5 L863.6,569.2 L862.6,569.8 L861.7,570.5 L860.7,571.2 L859.7,571.8 L858.7,572.4 L857.8,573.1 L856.8,573.7 L855.8,574.3 L854.8,574.9 L853.8,575.5 L852.8,576.1 L851.8,576.7 L850.8,577.2 L849.8,577.8 L848.8,578.4 L847.8,578.9 L846.8,579.5 L845.8,580.0 L844.8,580.5 L843.8,581.0 L842.8,581.5 L841.8,582.0 L840.7,582.5 L839.7,583.0 L838.7,583.5 L837.7,583.9 L836.6,584.4 L835.6,584.8 L834.6,585.3 L833.5,585.7 L832.5,586.1 L831.5,586.5 L830.5,586.9 L829.4,587.3 L828.4,587.7 L827.3,588.1 L826.3,588.5 L825.3,588.8 L824.2,589.2 L823.2,589.5 L822.2,589.8 L821.1,590.1 L820.1,590.5 L819.0,590.8 L818.0,591.1 L817.0,591.3 L815.9,591.6 L814.9,591.9 L813.8,592.1 L812.8,592.4 L811.8,592.6 L810.7,592.8 L809.7,593.1 L808.7,593.3 L807.6,593.5 L806.6,593.7 L805.5,593.8 L804.5,594.0 L803.5,594.2 L802.5,594.3 L801.4,594.5 L800.4,594.6 L799.4,594.7 L798.3,594.9 L797.3,595.0 L796.3,595.1 L795.3,595.1 L794.2,595.2 L793.2,595.3 L792.2,595.3 L791.2,595.4 L790.2,595.4 L789.2,595.5 L788.2,595.5 L787.2,595.5 L786.2,595.5 L785.2,595.5 L784.2,595.5 L783.2,595.4 L782.2,595.4 L781.2,595.4 L780.2,595.3 L779.2,595.2 L778.2,595.2 L777.3,595.1 L776.3,595.0 L775.3,594.9 L774.3,594.8 L773.4,594.6 L772.4,594.5 L771.5,594.4 L770.5,594.2 L769.5,594.0 L768.6,593.9 L767.7,593.7 L766.7,593.5 L765.8,593.3 L764.8,593.1 L763.9,592.9 L763.0,592.7 L762.1,592.4 L761.2,592.2 L760.2,591.9 L759.3,591.6 L758.4,591.4 L757.5,591.1 L756.6,590.8 L755.8,590.5 L754.9,590.2 L754.0,589.9 L753.1,589.5 L752.2,589.2 L751.4,588.9 L750.5,588.5 L749.7,588.1 L748.8,587.8 L748.0,587.4 L747.1,587.0 L746.3,586.6 L745.5,586.2 L744.7,585.8 L743.8,585.3 L743.0,584.9 L742.2,584.5 L741.4,584.0 L740.6,583.5 L739.8,583.1 L739.1,582.6 L738.3,582.1 L737.5,581.6 L736.8,581.1 L736.0,580.6 L735.2,580.1 L734.5,579.5 L733.8,579.0 L733.0,578.4 L732.3,577.9 L731.6,577.3 L730.9,576.8 L730.2,576.2 L729.5,575.6 L728.8,575.0 L728.1,574.4 L727.4,573.8 L726.7,573.2 L726.1,572.5 L725.4,571.9 L724.8,571.2 L724.1,570.6 L723.5,569.9 L722.9,569.3 L722.2,568.6 L721.6,567.9 L721.0,567.2 L720.4,566.5 L719.8,565.8 L719.2,565.1 L718.7,564.4 L718.1,563.7 L717.5,562.9 L717.0,562.2 L716.4,561.5 L715.9,560.7 L715.4,559.9 L714.8,559.2 L714.3,558.4 L713.8,557.6 L713.3,556.8 L712.8,556.0 L712.3,555.2 L711.9,554.4 L711.4,553.6 L710.9,552.8 L710.5,552.0 L710.0,551.1 L709.6,550.3 L709.2,549.5 L708.8,548.6 L708.3,547.8 L707.9,546.9 L707.5,546.0 L707.2,545.1 L706.8,544.3 L706.4,543.4 L706.1,542.5 L705.7,541.6 L705.4,540.7 L705.0,539.8 L704.7,538.9 L704.4,538.0 L704.1,537.0 L703.8,536.1 L703.5,535.2 L703.2,534.2 L702.9,533.3 L702.7,532.3 L702.4,531.4 L702.2,530.4 L701.9,529.5 L701.7,528.5 L701.5,527.5 L701.3,526.6 L701.1,525.6 L700.9,524.6 L700.7,523.6 L700.5,522.6 L700.3,521.6 L700.2,520.6 L700.0,519.6 L699.9,518.6 L699.8,517.6 L699.6,516.6 L699.5,515.6 L699.4,514.5 L699.3,513.5 L699.2,512.5 L699.2,511.4 L699.1,510.4 L699.0,509.4 L699.0,508.3 L698.9,507.3 L698.9,506.2 L698.9,505.2 L698.9,504.1 L698.9,503.1 L698.9,502.0 L698.9,501.0 L698.9,499.9 L698.9,498.8 L699.0,497.8 L699.0,496.7 L699.1,495.6 L699.2,494.6 L699.2,493.5 L699.3,492.4 L699.4,491.3 L699.5,490.2 L699.6,489.2 L699.8,488.1 L699.9,487.0 L700.0,485.9 L700.2,484.8 L700.3,483.7 L700.5,482.6 L700.7,481.6 L700.9,480.5 L701.1,479.4 L701.3,478.3 L701.5,477.2 L701.7,476.1 L701.9,475.0 L702.2,473.9 L702.4,472.8 L702.7,471.7 L702.9,470.6 L703.2,469.5 L703.5,468.4 L703.8,467.3 L704.1,466.2 L704.4,465.1 L704.7,464.1 L705.0,463.0 L705.4,461.9 L705.7,460.8 L706.1,459.7 L706.4,458.6 L706.8,457.5 L707.2,456.4 L707.5,455.3 L707.9,454.2 L708.3,453.2 L708.8,452.1 L709.2,451.0 L709.6,449.9 L710.0,448.8 L710.5,447.7 L710.9,446.7 L711.4,445.6 L711.9,444.5 L712.3,443.4 L712.8,442.4 L713.3,441.3 L713.8,440.2 L714.3,439.2 L714.8,438.1 L715.4,437.1 L715.9,436.0 L716.4,435.0 L717.0,433.9 L717.5,432.9 L718.1,431.8 L718.7,430.8 L719.2,429.7 L719.8,428.7 L720.4,427.7 L721.0,426.6 L721.6,425.6 L722.2,424.6 L722.9,423.6 L723.5,422.6 L724.1,421.5 L724.8,420.5 L725.4,419.5 L726.1,418.5 L726.7,417.5 L727.4,416.5 L728.1,415.5 L728.8,414.6 L729.5,413.6 L730.2,412.6 L730.9,411.6 L731.6,410.7 L732.3,409.7 L733.0,408.7 L733.8,407.8 L734.5,406.8 L735.2,405.9 L736.0,405.0 L736.8,404.0 L737.5,403.1 L738.3,402.2 L739.1,401.3 L739.8,400.3 L740.6,399.4 L741.4,398.5 L742.2,397.6 L743.0,396.7 L743.8,395.9 L744.7,395.0 L745.5,394.1 L746.3,393.2 L747.1,392.4 L748.0,391.5 L748.8,390.7 L749.7,389.8 L750.5,389.0 L751.4,388.1 L752.2,387.3 L753.1,386.5 L754.0,385.7 L754.9,384.9 L755.8,384.1 L756.6,383.3 L757.5,382.5 L758.4,381.7 L759.3,380.9 L760.2,380.2 L761.2,379.4 L762.1,378.6 L763.0,377.9 L763.9,377.2 L764.8,376.4 L765.8,375.7 L766.7,375.0 L767.7,374.3 L768.6,373.6 L769.5,372.9 L770.5,372.2 L771.5,371.5 L772.4,370.8 L773.4,370.2 L774.3,369.5 L775.3,368.8 L776.3,368.2 L777.3,367.6 L778.2,366.9 L779.2,366.3 L780.2,365.7 L781.2,365.1 L782.2,364.5 L783.2,363.9 L784.2,363.3 L785.2,362.8 L786.2,362.2 L787.2,361.6 L788.2,361.1 L789.2,360.5 L790.2,360.0 L791.2,359.5 L792.2,359.0 L793.2,358.5 L794.2,358.0 L795.3,357.5 L796.3,357.0 L797.3,356.5 L798.3,356.1 L799.4,355.6 L800.4,355.2 L801.4,354.7 L802.5,354.3 L803.5,353.9 L804.5,353.5 L805.5,353.1 L806.6,352.7 L807.6,352.3 L808.7,351.9 L809.7,351.5 L810.7,351.2 L811.8,350.8 L812.8,350.5 L813.8,350.2 L814.9,349.9 L815.9,349.5 L817.0,349.2 L818.0,348.9 L819.0,348.7 L820.1,348.4 L821.1,348.1 L822.2,347.9 L823.2,347.6 L824.2,347.4 L825.3,347.2 L826.3,346.9 L827.3,346.7 L828.4,346.5 L829.4,346.3 L830.5,346.2 L831.5,346.0 L832.5,345.8 L833.5,345.7 L834.6,345.5 L835.6,345.4 L836.6,345.3 L837.7,345.1 L838.7,345.0 L839.7,344.9 L840.7,344.9 L841.8,344.8 L842.8,344.7 L843.8,344.7 L844.8,344.6 L845.8,344.6 L846.8,344.5 L847.8,344.5 L848.8,344.5 L849.8,344.5 L850.8,344.5 L851.8,344.5 L852.8,344.6 L853.8,344.6 L854.8,344.6 L855.8,344.7 L856.8,344.8 L857.8,344.8 L858.7,344.9 L859.7,345.0 L860.7,345.1 L861.7,345.2 L862.6,345.4 L863.6,345.5 L864.5,345.6 L865.5,345.8 L866.5,346.0 L867.4,346.1 L868.3,346.3 L869.3,346.5 L870.2,346.7 L871.2,346.9 L872.1,347.1 L873.0,347.3 L873.9,347.6 L874.8,347.8 L875.8,348.1 L876.7,348.4 L877.6,348.6 L878.5,348.9 L879.4,349.2 L880.2,349.5 L881.1,349.8 L882.0,350.1 L882.9,350.5 L883.8,350.8 L884.6,351.1 L885.5,351.5 L886.3,351.9 L887.2,352.2 L888.0,352.6 L888.9,353.0 L889.7,353.4 L890.5,353.8 L891.3,354.2 L892.2,354.7 L893.0,355.1 L893.8,355.5 L894.6,356.0 L895.4,356.5 L896.2,356.9 L896.9,357.4 L897.7,357.9 L898.5,358.4 L899.2,358.9 L900.0,359.4 L900.8,359.9 L901.5,360.5 L902.2,361.0 L903.0,361.6 L903.7,362.1 L904.4,362.7 L905.1,363.2 L905.8,363.8 L906.5,364.4 L907.2,365.0 L907.9,365.6 L908.6,366.2 L909.3,366.8 L909.9,367.5 L910.6,368.1 L911.2,368.8 L911.9,369.4 L912.5,370.1 L913.1,370.7 L913.8,371.4 L914.4,372.1 L915.0,372.8 L915.6,373.5 L916.2,374.2 L916.8,374.9 L917.3,375.6 L917.9,376.3 L918.5,377.1 L919.0,377.8 L919.6,378.5 L920.1,379.3 L920.6,380.1 L921.2,380.8 L921.7,381.6 L922.2,382.4 L922.7,383.2 L923.2,384.0 L923.7,384.8 L924.1,385.6 L924.6,386.4 L925.1,387.2 L925.5,388.0 L926.0,388.9 L926.4,389.7 L926.8,390.5 L927.2,391.4 L927.7,392.2 L928.1,393.1 L928.5,394.0 L928.8,394.9 L929.2,395.7 L929.6,396.6 L929.9,397.5 L930.3,398.4 L930.6,399.3 L931.0,400.2 L931.3,401.1 L931.6,402.0 L931.9,403.0 L932.2,403.9 L932.5,404.8 L932.8,405.8 L933.1,406.7 L933.3,407.7 L933.6,408.6 L933.8,409.6 L934.1,410.5 L934.3,411.5 L934.5,412.5 L934.7,413.4 L934.9,414.4 L935.1,415.4 L935.3,416.4 L935.5,417.4 L935.7,418.4 L935.8,419.4 L936.0,420.4 L936.1,421.4 L936.2,422.4 L936.4,423.4 L936.5,424.4 L936.6,425.5 L936.7,426.5 L936.8,427.5 L936.8,428.6 L936.9,429.6 L937.0,430.6 L937.0,431.7 L937.1,432.7 L937.1,433.8 L937.1,434.8 L937.1,435.9Z" fill="none" stroke="#000" stroke-width="2.7" stroke-linejoin="round" stroke-linecap="round" />
<path d="M192.0,1000.7 L1015.5,771.2 L1015.5,1088.8 L191.9,1317.6Z" fill="#fff" stroke="#000" stroke-width="2.7" stroke-linecap="round" stroke-linejoin="miter"/>
<ellipse cx="260.1" cy="1000.6" rx="6.0" ry="4.4" transform="rotate(-60 260.1 1000.6)" fill="none" stroke="#000" stroke-width="2.5"/>
<ellipse cx="211.3" cy="1062.5" rx="6.0" ry="4.4" transform="rotate(-60 211.3 1062.5)" fill="none" stroke="#000" stroke-width="2.5"/>
<ellipse cx="211.3" cy="1246.4" rx="6.0" ry="4.4" transform="rotate(-60 211.3 1246.4)" fill="none" stroke="#000" stroke-width="2.5"/>
<ellipse cx="260.1" cy="1282.2" rx="6.0" ry="4.4" transform="rotate(-60 260.1 1282.2)" fill="none" stroke="#000" stroke-width="2.5"/>
<ellipse cx="475.5" cy="939.8" rx="6.0" ry="4.4" transform="rotate(-60 475.5 939.8)" fill="none" stroke="#000" stroke-width="2.5"/>
<ellipse cx="731.6" cy="868.0" rx="6.0" ry="4.4" transform="rotate(-60 731.6 868.0)" fill="none" stroke="#000" stroke-width="2.5"/>
<ellipse cx="946.7" cy="808.3" rx="6.0" ry="4.4" transform="rotate(-60 946.7 808.3)" fill="none" stroke="#000" stroke-width="2.5"/>
<ellipse cx="993.8" cy="842.9" rx="6.0" ry="4.4" transform="rotate(-60 993.8 842.9)" fill="none" stroke="#000" stroke-width="2.5"/>
<clipPath id="fc"><path clip-rule="evenodd" d="M0,0 H1424 V2000 H0 Z M612,1120 L665,1120 L665,1185 L612,1185 Z"/></clipPath><g clip-path="url(#fc)">
<path d="M604.5,1047.1 L604.5,1046.1 L604.6,1045.1 L604.6,1044.0 L604.7,1043.0 L604.8,1042.0 L605.0,1040.9 L605.2,1039.9 L605.4,1038.8 L605.6,1037.7 L605.8,1036.7 L606.1,1035.6 L606.4,1034.6 L606.7,1033.5 L607.1,1032.4 L607.5,1031.4 L607.9,1030.3 L608.3,1029.3 L608.8,1028.3 L609.2,1027.2 L609.7,1026.2 L610.3,1025.2 L610.8,1024.2 L611.4,1023.1 L611.9,1022.1 L612.6,1021.2 L613.2,1020.2 L613.9,1019.2 L614.5,1018.3 L615.2,1017.3 L615.9,1016.4 L616.7,1015.5 L617.4,1014.6 L618.2,1013.7 L619.0,1012.8 L619.8,1012.0 L620.6,1011.1 L621.4,1010.3 L622.3,1009.5 L623.1,1008.7 L624.0,1007.9 L624.9,1007.2 L625.8,1006.5 L626.7,1005.8 L627.6,1005.1 L628.6,1004.4 L629.5,1003.8 L630.5,1003.2 L631.4,1002.6 L632.4,1002.0 L633.4,1001.4 L634.4,1000.9 L635.4,1000.4 L636.4,999.9 L637.4,999.5 L638.4,999.1 L639.4,998.7 L640.4,998.3 L641.5,997.9 L642.5,997.6 L643.5,997.3 L644.5,997.0 L645.5,996.8 L646.5,996.5 L647.5,996.2 L648.5,995.9 L649.5,995.6 L650.5,995.4 L651.5,994.9 L652.5,993.6 L653.5,991.5 L654.5,989.3 L655.5,987.5 L656.5,986.7 L657.5,986.4 L658.5,986.1 L659.5,985.9 L660.5,985.6 L661.5,985.3 L662.5,985.0 L663.5,984.7 L664.5,984.5 L665.5,984.8 L666.5,986.0 L667.5,987.7 L668.5,989.2 L669.5,989.9 L670.5,989.8 L671.5,989.5 L672.5,989.2 L673.5,989.0 L674.5,988.7 L675.5,988.4 L676.5,988.1 L677.5,987.9 L678.5,987.6 L679.5,987.3 L680.5,987.0 L681.5,986.7 L682.5,986.5 L683.5,986.2 L684.5,985.9 L685.5,985.6 L686.5,985.4 L687.5,985.1 L688.5,984.8 L689.5,984.5 L690.5,984.2 L691.5,984.0 L692.5,983.7 L693.6,983.4 L694.6,983.1 L695.6,982.9 L696.6,982.6 L697.6,982.3 L698.6,982.0 L699.6,981.7 L700.6,981.5 L701.6,981.2 L702.6,980.9 L703.6,980.6 L704.6,980.4 L705.6,980.1 L706.6,979.8 L707.6,979.5 L708.6,979.2 L709.6,979.0 L710.6,978.7 L711.6,978.4 L712.6,978.1 L713.6,977.9 L714.6,977.6 L715.6,977.3 L716.6,977.0 L717.6,976.7 L718.6,976.5 L719.6,976.2 L720.6,975.9 L721.6,975.6 L722.6,975.3 L723.6,975.1 L724.6,974.8 L725.6,974.5 L726.6,974.2 L727.6,974.0 L728.6,973.7 L729.6,973.4 L730.6,973.1 L731.6,972.8 L732.6,972.6 L733.6,972.3 L734.6,972.0 L735.6,971.7 L736.6,971.5 L737.6,971.2 L738.6,970.9 L739.6,970.6 L740.6,970.3 L741.6,970.1 L742.6,969.8 L743.6,969.5 L744.6,969.2 L745.6,969.0 L746.6,968.7 L747.6,968.4 L748.6,968.1 L749.6,967.8 L750.6,967.6 L751.6,967.3 L752.6,967.0 L753.6,966.7 L754.6,966.5 L755.6,966.2 L756.6,965.9 L757.6,965.6 L758.6,965.3 L759.6,965.1 L760.6,964.8 L761.6,964.5 L762.6,964.2 L763.6,964.0 L764.6,963.7 L765.6,963.4 L766.6,963.1 L767.6,962.8 L768.6,962.6 L769.6,962.3 L770.6,962.0 L771.6,961.7 L772.6,961.4 L773.6,961.2 L774.6,960.9 L775.6,960.6 L776.6,960.3 L777.6,960.1 L778.6,959.8 L779.6,959.5 L780.6,959.2 L781.6,958.9 L782.6,958.7 L783.6,958.4 L784.6,958.1 L785.6,957.8 L786.6,957.6 L787.6,957.3 L788.6,957.0 L789.6,956.7 L790.6,956.4 L791.7,956.2 L792.7,955.9 L793.7,955.6 L794.7,955.3 L795.7,955.1 L796.7,954.8 L797.7,954.5 L798.7,954.2 L799.7,953.9 L800.7,953.7 L801.7,953.4 L802.7,953.1 L803.7,952.8 L804.7,952.6 L805.7,952.3 L806.7,952.0 L807.7,951.7 L808.7,951.4 L809.7,951.2 L810.7,950.9 L811.7,950.6 L812.7,950.3 L813.7,950.1 L814.7,949.8 L815.7,949.5 L816.7,949.2 L817.7,948.9 L818.7,948.7 L819.7,948.4 L820.7,948.1 L821.7,947.8 L822.7,947.6 L823.7,947.3 L824.7,947.0 L825.7,946.7 L826.7,946.4 L827.7,946.2 L828.7,945.9 L829.7,945.6 L830.7,945.3 L831.7,945.0 L832.7,944.8 L833.7,944.5 L834.7,944.2 L835.7,943.9 L836.7,943.7 L837.7,943.4 L838.7,943.1 L839.7,942.8 L840.7,942.5 L841.7,942.3 L842.7,942.0 L843.7,941.7 L844.7,941.4 L845.7,941.2 L846.7,940.9 L847.7,940.6 L848.7,940.3 L849.7,940.0 L850.7,939.8 L851.7,939.5 L852.7,939.2 L853.7,938.9 L854.7,938.7 L855.7,938.4 L856.7,938.1 L857.7,937.8 L858.7,937.5 L859.7,937.3 L860.7,937.0 L861.7,936.7 L862.7,936.4 L863.7,936.2 L864.7,935.9 L865.7,935.6 L866.7,935.3 L867.7,935.0 L868.7,934.8 L869.7,934.5 L870.7,934.2 L871.7,933.9 L872.7,933.7 L873.7,933.4 L874.7,933.1 L875.7,932.8 L876.7,932.5 L877.7,932.3 L878.7,932.0 L879.7,931.7 L880.7,931.4 L881.7,931.1 L882.7,930.9 L883.7,930.6 L884.7,930.3 L885.7,930.0 L886.7,929.8 L887.7,929.5 L888.7,929.2 L889.8,928.9 L890.8,928.6 L891.8,928.4 L892.8,928.1 L893.8,927.8 L894.8,927.5 L895.8,927.3 L896.8,927.0 L897.8,926.7 L898.8,926.4 L899.8,926.1 L900.8,925.9 L901.8,925.6 L902.8,925.3 L903.8,925.0 L904.8,924.8 L905.8,924.5 L906.8,924.2 L907.8,923.9 L908.8,923.6 L909.8,923.4 L910.8,923.1 L911.8,922.8 L912.8,922.4 L913.8,921.1 L914.8,919.0 L915.8,916.8 L916.8,915.0 L917.8,914.1 L918.8,913.9 L919.8,913.6 L920.8,913.3 L921.8,913.0 L922.8,912.8 L923.8,912.5 L924.8,912.2 L925.8,911.9 L926.8,912.2 L927.8,913.4 L928.8,915.1 L929.8,916.6 L930.8,917.4 L931.8,917.3 L932.8,917.0 L933.8,916.7 L934.8,916.4 L935.8,916.1 L936.8,915.9 L937.8,915.6 L938.8,915.3 L939.8,915.0 L940.8,914.8 L941.9,914.6 L942.9,914.4 L943.9,914.2 L944.9,914.1 L945.9,914.0 L946.9,913.9 L947.9,913.9 L948.9,913.8 L949.9,913.8 L950.9,913.9 L951.8,913.9 L952.8,914.0 L953.7,914.1 L954.7,914.3 L955.6,914.5 L956.5,914.6 L957.4,914.9 L958.3,915.1 L959.2,915.4 L960.0,915.7 L960.9,916.0 L961.7,916.4 L962.5,916.8 L963.3,917.2 L964.1,917.6 L964.9,918.1 L965.6,918.6 L966.4,919.1 L967.1,919.6 L967.8,920.2 L968.4,920.8 L969.1,921.3 L969.7,922.0 L970.4,922.6 L970.9,923.3 L971.5,924.0 L972.0,924.7 L972.6,925.4 L973.1,926.2 L973.5,926.9 L974.0,927.7 L974.4,928.5 L974.8,929.4 L975.2,930.2 L975.6,931.1 L975.9,932.0 L976.2,932.9 L976.5,933.7 L976.7,934.7 L976.9,935.6 L977.1,936.6 L977.3,937.5 L977.5,938.5 L977.6,939.5 L977.7,940.5 L977.7,941.4 L977.8,942.5 L977.8,943.5 L977.8,944.5 L977.8,945.5 L977.8,946.5 L977.8,947.5 L977.8,948.5 L977.8,949.5 L977.8,950.5 L977.8,951.5 L977.8,952.5 L977.8,953.5 L977.8,954.5 L977.8,955.5 L977.8,956.6 L977.8,957.6 L977.8,958.6 L977.8,959.6 L977.8,960.6 L977.8,961.6 L977.8,962.6 L977.8,963.6 L977.8,964.6 L977.8,965.6 L977.8,966.6 L977.8,967.6 L977.8,968.6 L977.8,969.6 L977.8,970.6 L977.8,971.6 L977.8,972.6 L977.8,973.7 L977.8,974.7 L977.8,975.7 L977.9,976.6 L978.9,977.4 L980.7,977.9 L982.7,978.3 L984.2,978.9 L984.8,979.8 L984.8,980.8 L984.8,981.8 L984.8,982.8 L984.8,983.8 L984.8,984.8 L984.8,985.8 L984.8,986.8 L984.8,987.8 L984.2,989.0 L982.7,990.4 L980.7,992.0 L978.9,993.5 L977.9,994.7 L977.8,995.8 L977.8,996.8 L977.8,997.8 L977.8,998.8 L977.8,999.8 L977.8,1000.8 L977.8,1001.8 L977.8,1002.8 L977.8,1003.8 L977.8,1004.8 L977.8,1005.8 L977.8,1006.8 L977.8,1007.9 L977.8,1008.9 L977.8,1009.9 L977.8,1010.9 L977.8,1011.9 L977.8,1012.9 L977.8,1013.9 L977.8,1014.9 L977.8,1015.9 L977.8,1016.9 L977.8,1017.9 L977.8,1018.9 L977.8,1019.9 L977.8,1020.9 L977.8,1021.9 L977.8,1022.9 L977.8,1024.0 L977.8,1025.0 L977.8,1026.0 L977.8,1027.0 L977.8,1028.0 L977.8,1029.0 L977.7,1030.0 L977.7,1031.1 L977.6,1032.1 L977.5,1033.2 L977.3,1034.2 L977.1,1035.3 L976.9,1036.3 L976.7,1037.4 L976.5,1038.4 L976.2,1039.5 L975.9,1040.6 L975.6,1041.6 L975.2,1042.7 L974.8,1043.7 L974.4,1044.8 L974.0,1045.8 L973.5,1046.9 L973.1,1047.9 L972.6,1048.9 L972.0,1049.9 L971.5,1051.0 L970.9,1052.0 L970.4,1053.0 L969.7,1053.9 L969.1,1054.9 L968.4,1055.9 L967.8,1056.9 L967.1,1057.8 L966.4,1058.7 L965.6,1059.6 L964.9,1060.5 L964.1,1061.4 L963.3,1062.3 L962.5,1063.1 L961.7,1064.0 L960.9,1064.8 L960.0,1065.6 L959.2,1066.4 L958.3,1067.2 L957.4,1067.9 L956.5,1068.6 L955.6,1069.3 L954.7,1070.0 L953.7,1070.7 L952.8,1071.3 L951.8,1071.9 L950.9,1072.5 L949.9,1073.1 L948.9,1073.7 L947.9,1074.2 L946.9,1074.7 L945.9,1075.2 L944.9,1075.6 L943.9,1076.0 L942.9,1076.5 L941.9,1076.8 L940.8,1077.2 L939.8,1077.5 L938.8,1077.8 L937.8,1078.1 L936.8,1078.4 L935.8,1078.6 L934.8,1078.9 L933.8,1079.2 L932.8,1079.5 L931.8,1079.8 L930.8,1080.2 L929.8,1081.5 L928.8,1083.6 L927.8,1085.8 L926.8,1087.6 L925.8,1088.4 L924.8,1088.7 L923.8,1089.0 L922.8,1089.3 L921.8,1089.5 L920.8,1089.8 L919.8,1090.1 L918.8,1090.4 L917.8,1090.6 L916.8,1090.4 L915.8,1089.1 L914.8,1087.5 L913.8,1085.9 L912.8,1085.2 L911.8,1085.3 L910.8,1085.6 L909.8,1085.9 L908.8,1086.1 L907.8,1086.4 L906.8,1086.7 L905.8,1087.0 L904.8,1087.3 L903.8,1087.5 L902.8,1087.8 L901.8,1088.1 L900.8,1088.4 L899.8,1088.6 L898.8,1088.9 L897.8,1089.2 L896.8,1089.5 L895.8,1089.8 L894.8,1090.0 L893.8,1090.3 L892.8,1090.6 L891.8,1090.9 L890.8,1091.1 L889.8,1091.4 L888.7,1091.7 L887.7,1092.0 L886.7,1092.3 L885.7,1092.5 L884.7,1092.8 L883.7,1093.1 L882.7,1093.4 L881.7,1093.6 L880.7,1093.9 L879.7,1094.2 L878.7,1094.5 L877.7,1094.8 L876.7,1095.0 L875.7,1095.3 L874.7,1095.6 L873.7,1095.9 L872.7,1096.2 L871.7,1096.4 L870.7,1096.7 L869.7,1097.0 L868.7,1097.3 L867.7,1097.5 L866.7,1097.8 L865.7,1098.1 L864.7,1098.4 L863.7,1098.7 L862.7,1098.9 L861.7,1099.2 L860.7,1099.5 L859.7,1099.8 L858.7,1100.0 L857.7,1100.3 L856.7,1100.6 L855.7,1100.9 L854.7,1101.2 L853.7,1101.4 L852.7,1101.7 L851.7,1102.0 L850.7,1102.3 L849.7,1102.5 L848.7,1102.8 L847.7,1103.1 L846.7,1103.4 L845.7,1103.7 L844.7,1103.9 L843.7,1104.2 L842.7,1104.5 L841.7,1104.8 L840.7,1105.0 L839.7,1105.3 L838.7,1105.6 L837.7,1105.9 L836.7,1106.2 L835.7,1106.4 L834.7,1106.7 L833.7,1107.0 L832.7,1107.3 L831.7,1107.5 L830.7,1107.8 L829.7,1108.1 L828.7,1108.4 L827.7,1108.7 L826.7,1108.9 L825.7,1109.2 L824.7,1109.5 L823.7,1109.8 L822.7,1110.1 L821.7,1110.3 L820.7,1110.6 L819.7,1110.9 L818.7,1111.2 L817.7,1111.4 L816.7,1111.7 L815.7,1112.0 L814.7,1112.3 L813.7,1112.6 L812.7,1112.8 L811.7,1113.1 L810.7,1113.4 L809.7,1113.7 L808.7,1113.9 L807.7,1114.2 L806.7,1114.5 L805.7,1114.8 L804.7,1115.1 L803.7,1115.3 L802.7,1115.6 L801.7,1115.9 L800.7,1116.2 L799.7,1116.4 L798.7,1116.7 L797.7,1117.0 L796.7,1117.3 L795.7,1117.6 L794.7,1117.8 L793.7,1118.1 L792.7,1118.4 L791.7,1118.7 L790.6,1118.9 L789.6,1119.2 L788.6,1119.5 L787.6,1119.8 L786.6,1120.1 L785.6,1120.3 L784.6,1120.6 L783.6,1120.9 L782.6,1121.2 L781.6,1121.4 L780.6,1121.7 L779.6,1122.0 L778.6,1122.3 L777.6,1122.6 L776.6,1122.8 L775.6,1123.1 L774.6,1123.4 L773.6,1123.7 L772.6,1123.9 L771.6,1124.2 L770.6,1124.5 L769.6,1124.8 L768.6,1125.1 L767.6,1125.3 L766.6,1125.6 L765.6,1125.9 L764.6,1126.2 L763.6,1126.5 L762.6,1126.7 L761.6,1127.0 L760.6,1127.3 L759.6,1127.6 L758.6,1127.8 L757.6,1128.1 L756.6,1128.4 L755.6,1128.7 L754.6,1129.0 L753.6,1129.2 L752.6,1129.5 L751.6,1129.8 L750.6,1130.1 L749.6,1130.3 L748.6,1130.6 L747.6,1130.9 L746.6,1131.2 L745.6,1131.5 L744.6,1131.7 L743.6,1132.0 L742.6,1132.3 L741.6,1132.6 L740.6,1132.8 L739.6,1133.1 L738.6,1133.4 L737.6,1133.7 L736.6,1134.0 L735.6,1134.2 L734.6,1134.5 L733.6,1134.8 L732.6,1135.1 L731.6,1135.3 L730.6,1135.6 L729.6,1135.9 L728.6,1136.2 L727.6,1136.5 L726.6,1136.7 L725.6,1137.0 L724.6,1137.3 L723.6,1137.6 L722.6,1137.8 L721.6,1138.1 L720.6,1138.4 L719.6,1138.7 L718.6,1139.0 L717.6,1139.2 L716.6,1139.5 L715.6,1139.8 L714.6,1140.1 L713.6,1140.4 L712.6,1140.6 L711.6,1140.9 L710.6,1141.2 L709.6,1141.5 L708.6,1141.7 L707.6,1142.0 L706.6,1142.3 L705.6,1142.6 L704.6,1142.9 L703.6,1143.1 L702.6,1143.4 L701.6,1143.7 L700.6,1144.0 L699.6,1144.2 L698.6,1144.5 L697.6,1144.8 L696.6,1145.1 L695.6,1145.4 L694.6,1145.6 L693.6,1145.9 L692.5,1146.2 L691.5,1146.5 L690.5,1146.7 L689.5,1147.0 L688.5,1147.3 L687.5,1147.6 L686.5,1147.9 L685.5,1148.1 L684.5,1148.4 L683.5,1148.7 L682.5,1149.0 L681.5,1149.2 L680.5,1149.5 L679.5,1149.8 L678.5,1150.1 L677.5,1150.4 L676.5,1150.6 L675.5,1150.9 L674.5,1151.2 L673.5,1151.5 L672.5,1151.7 L671.5,1152.0 L670.5,1152.3 L669.5,1152.7 L668.5,1154.1 L667.5,1156.1 L666.5,1158.4 L665.5,1160.1 L664.5,1161.0 L663.5,1161.2 L662.5,1161.5 L661.5,1161.8 L660.5,1162.1 L659.5,1162.4 L658.5,1162.6 L657.5,1162.9 L656.5,1163.2 L655.5,1162.9 L654.5,1161.7 L653.5,1160.0 L652.5,1158.5 L651.5,1157.7 L650.5,1157.9 L649.5,1158.1 L648.5,1158.4 L647.5,1158.7 L646.5,1159.0 L645.5,1159.3 L644.5,1159.5 L643.5,1159.8 L642.5,1160.1 L641.5,1160.3 L640.4,1160.5 L639.4,1160.7 L638.4,1160.9 L637.4,1161.0 L636.4,1161.1 L635.4,1161.2 L634.4,1161.2 L633.4,1161.3 L632.4,1161.3 L631.4,1161.2 L630.5,1161.2 L629.5,1161.1 L628.6,1161.0 L627.6,1160.8 L626.7,1160.7 L625.8,1160.5 L624.9,1160.2 L624.0,1160.0 L623.1,1159.7 L622.3,1159.4 L621.4,1159.1 L620.6,1158.7 L619.8,1158.3 L619.0,1157.9 L618.2,1157.5 L617.4,1157.0 L616.7,1156.5 L615.9,1156.0 L615.2,1155.5 L614.5,1155.0 L613.9,1154.4 L613.2,1153.8 L612.6,1153.1 L611.9,1152.5 L611.4,1151.8 L610.8,1151.1 L610.3,1150.4 L609.7,1149.7 L609.2,1148.9 L608.8,1148.2 L608.3,1147.4 L607.9,1146.6 L607.5,1145.7 L607.1,1144.9 L606.7,1144.0 L606.4,1143.2 L606.1,1142.3 L605.8,1141.4 L605.6,1140.4 L605.4,1139.5 L605.2,1138.6 L605.0,1137.6 L604.8,1136.6 L604.7,1135.7 L604.6,1134.7 L604.6,1133.7 L604.5,1132.7 L604.5,1131.6 L604.5,1130.6 L604.5,1129.6 L604.5,1128.6 L604.5,1127.6 L604.5,1126.6 L604.5,1125.6 L604.5,1124.6 L604.5,1123.6 L604.5,1122.6 L604.5,1121.6 L604.5,1120.6 L604.5,1119.6 L604.5,1118.6 L604.5,1117.6 L604.5,1116.6 L604.5,1115.5 L604.5,1114.5 L604.5,1113.5 L604.5,1112.5 L604.5,1111.5 L604.5,1110.5 L604.5,1109.5 L604.5,1108.5 L604.5,1107.5 L604.5,1106.5 L604.5,1105.5 L604.5,1104.5 L604.5,1103.5 L604.5,1102.5 L604.5,1101.5 L604.5,1100.5 L604.5,1099.4 L604.4,1098.5 L603.4,1097.8 L601.6,1097.2 L599.6,1096.8 L598.1,1096.2 L597.5,1095.4 L597.5,1094.4 L597.5,1093.3 L597.5,1092.3 L597.5,1091.3 L597.5,1090.3 L597.5,1089.3 L597.5,1088.3 L597.5,1087.3 L598.1,1086.1 L599.6,1084.7 L601.6,1083.2 L603.4,1081.7 L604.4,1080.4 L604.5,1079.3 L604.5,1078.3 L604.5,1077.3 L604.5,1076.3 L604.5,1075.3 L604.5,1074.3 L604.5,1073.3 L604.5,1072.3 L604.5,1071.3 L604.5,1070.3 L604.5,1069.3 L604.5,1068.3 L604.5,1067.3 L604.5,1066.3 L604.5,1065.2 L604.5,1064.2 L604.5,1063.2 L604.5,1062.2 L604.5,1061.2 L604.5,1060.2 L604.5,1059.2 L604.5,1058.2 L604.5,1057.2 L604.5,1056.2 L604.5,1055.2 L604.5,1054.2 L604.5,1053.2 L604.5,1052.2 L604.5,1051.2 L604.5,1050.2 L604.5,1049.2 L604.5,1048.1Z" fill="#fff" stroke="#000" stroke-width="2.7" stroke-linejoin="round" stroke-linecap="round" />
</g>
<circle cx="660.4" cy="989.6" r="2.9" fill="none" stroke="#000" stroke-width="2.5"/>
<circle cx="921.7" cy="917.1" r="2.9" fill="none" stroke="#000" stroke-width="2.5"/>
<circle cx="601.5" cy="1089.7" r="2.9" fill="none" stroke="#000" stroke-width="2.5"/>
<circle cx="980.8" cy="984.4" r="2.9" fill="none" stroke="#000" stroke-width="2.5"/>
<circle cx="660.4" cy="1158.1" r="2.9" fill="none" stroke="#000" stroke-width="2.5"/>
<circle cx="921.7" cy="1085.6" r="2.9" fill="none" stroke="#000" stroke-width="2.5"/>
<path d="M614.5,1043.4 L614.5,1041.8 L614.7,1040.3 L614.9,1038.7 L615.1,1037.2 L615.5,1035.6 L615.9,1034.0 L616.4,1032.4 L617.0,1030.9 L617.7,1029.3 L618.4,1027.8 L619.2,1026.3 L620.0,1024.8 L621.0,1023.3 L621.9,1021.9 L623.0,1020.5 L624.1,1019.1 L625.2,1017.8 L626.5,1016.6 L627.7,1015.4 L629.0,1014.2 L630.3,1013.1 L631.7,1012.1 L633.1,1011.1 L634.5,1010.2 L636.0,1009.4 L637.5,1008.6 L639.0,1007.9 L640.5,1007.3 L642.0,1006.8 L643.5,1006.3 L941.8,923.5 L943.3,923.1 L944.8,922.8 L946.3,922.6 L947.8,922.4 L949.3,922.4 L950.8,922.4 L952.2,922.5 L953.6,922.7 L955.0,923.0 L956.3,923.3 L957.6,923.8 L958.8,924.3 L960.0,924.9 L961.2,925.5 L962.3,926.3 L963.4,927.1 L993.2,953.2 L994.1,954.1 L995.1,955.0 L995.9,956.0 L996.7,957.1 L997.4,958.3 L998.1,959.4 L998.7,960.7 L999.2,962.0 L999.6,963.3 L1000.0,964.7 L1000.2,966.1 L1000.4,967.6 L1000.6,969.0 L1000.6,970.5 L1000.6,1056.0 L1000.6,1057.6 L1000.4,1059.1 L1000.2,1060.7 L1000.0,1062.2 L999.6,1063.8 L999.2,1065.4 L998.7,1067.0 L998.1,1068.5 L997.4,1070.1 L996.7,1071.6 L995.9,1073.1 L995.1,1074.6 L994.1,1076.1 L993.2,1077.5 L992.1,1078.9 L991.0,1080.3 L989.9,1081.6 L988.6,1082.8 L987.4,1084.0 L986.1,1085.2 L984.8,1086.3 L983.4,1087.3 L982.0,1088.3 L980.6,1089.2 L979.1,1090.0 L977.6,1090.8 L976.1,1091.5 L974.6,1092.1 L973.1,1092.6 L971.6,1093.1 L673.3,1175.9 L671.8,1176.3 L670.3,1176.6 L668.8,1176.8 L667.3,1177.0 L665.8,1177.0 L664.3,1177.0 L662.9,1176.9 L661.5,1176.7 L660.1,1176.4 L658.8,1176.1 L657.5,1175.6 L656.3,1175.1 L655.0,1174.5 L653.9,1173.9 L652.8,1173.1 L651.7,1172.3 L621.9,1146.2 L621.0,1145.3 L620.0,1144.4 L619.2,1143.4 L618.4,1142.3 L617.7,1141.2 L617.0,1140.0 L616.4,1138.7 L615.9,1137.4 L615.5,1136.1 L615.1,1134.7 L614.9,1133.3 L614.7,1131.8 L614.5,1130.4 L614.5,1128.9Z" fill="#fff" stroke="#000" stroke-width="2.7" stroke-linejoin="round" stroke-linecap="round" />
<clipPath id="c3"><path d="M644.3,1069.5 L644.3,1068.0 L644.5,1066.4 L644.7,1064.9 L644.9,1063.3 L645.3,1061.7 L645.7,1060.1 L646.2,1058.6 L646.8,1057.0 L647.5,1055.4 L648.2,1053.9 L649.0,1052.4 L649.8,1050.9 L650.8,1049.4 L651.7,1048.0 L652.8,1046.6 L653.9,1045.3 L655.0,1044.0 L656.3,1042.7 L657.5,1041.5 L658.8,1040.3 L660.1,1039.3 L661.5,1038.2 L662.9,1037.2 L664.3,1036.3 L665.8,1035.5 L667.3,1034.7 L668.8,1034.1 L670.3,1033.4 L671.8,1032.9 L673.3,1032.4 L971.6,949.6 L973.1,949.2 L974.6,948.9 L976.1,948.7 L977.6,948.6 L979.1,948.5 L980.6,948.5 L982.0,948.6 L983.4,948.8 L984.8,949.1 L986.1,949.5 L987.4,949.9 L988.6,950.4 L989.9,951.0 L991.0,951.7 L992.1,952.4 L993.2,953.2 L994.1,954.1 L995.1,955.0 L995.9,956.0 L996.7,957.1 L997.4,958.3 L998.1,959.4 L998.7,960.7 L999.2,962.0 L999.6,963.3 L1000.0,964.7 L1000.2,966.1 L1000.4,967.6 L1000.6,969.0 L1000.6,970.5 L1000.6,1056.0 L1000.6,1057.6 L1000.4,1059.1 L1000.2,1060.7 L1000.0,1062.2 L999.6,1063.8 L999.2,1065.4 L998.7,1067.0 L998.1,1068.5 L997.4,1070.1 L996.7,1071.6 L995.9,1073.1 L995.1,1074.6 L994.1,1076.1 L993.2,1077.5 L992.1,1078.9 L991.0,1080.3 L989.9,1081.6 L988.6,1082.8 L987.4,1084.0 L986.1,1085.2 L984.8,1086.3 L983.4,1087.3 L982.0,1088.3 L980.6,1089.2 L979.1,1090.0 L977.6,1090.8 L976.1,1091.5 L974.6,1092.1 L973.1,1092.6 L971.6,1093.1 L673.3,1175.9 L671.8,1176.3 L670.3,1176.6 L668.8,1176.8 L667.3,1177.0 L665.8,1177.0 L664.3,1177.0 L662.9,1176.9 L661.5,1176.7 L660.1,1176.4 L658.8,1176.1 L657.5,1175.6 L656.3,1175.1 L655.0,1174.5 L653.9,1173.9 L652.8,1173.1 L651.7,1172.3 L650.8,1171.4 L649.8,1170.5 L649.0,1169.5 L648.2,1168.4 L647.5,1167.3 L646.8,1166.1 L646.2,1164.8 L645.7,1163.6 L645.3,1162.2 L644.9,1160.8 L644.7,1159.4 L644.5,1158.0 L644.3,1156.5 L644.3,1155.0Z"/></clipPath>
<g clip-path="url(#c3)">
<path d="M614.5,1043.4 L614.5,1041.8 L614.7,1040.3 L614.9,1038.7 L615.1,1037.2 L615.5,1035.6 L615.9,1034.0 L616.4,1032.4 L617.0,1030.9 L617.7,1029.3 L618.4,1027.8 L619.2,1026.3 L620.0,1024.8 L621.0,1023.3 L621.9,1021.9 L623.0,1020.5 L624.1,1019.1 L625.2,1017.8 L626.5,1016.6 L627.7,1015.4 L629.0,1014.2 L630.3,1013.1 L631.7,1012.1 L633.1,1011.1 L634.5,1010.2 L636.0,1009.4 L637.5,1008.6 L639.0,1007.9 L640.5,1007.3 L642.0,1006.8 L643.5,1006.3 L941.8,923.5 L943.3,923.1 L944.8,922.8 L946.3,922.6 L947.8,922.4 L949.3,922.4 L950.8,922.4 L952.2,922.5 L953.6,922.7 L955.0,923.0 L956.3,923.3 L957.6,923.8 L958.8,924.3 L960.1,924.9 L961.2,925.5 L962.3,926.3 L963.4,927.1 L964.3,928.0 L965.3,928.9 L966.1,929.9 L966.9,931.0 L967.6,932.1 L968.3,933.3 L968.9,934.6 L969.4,935.9 L969.8,937.2 L970.2,938.6 L970.4,940.0 L970.6,941.4 L970.8,942.9 L970.8,944.4 L970.8,1029.9 L970.8,1031.4 L970.6,1033.0 L970.4,1034.6 L970.2,1036.1 L969.8,1037.7 L969.4,1039.3 L968.9,1040.8 L968.3,1042.4 L967.6,1044.0 L966.9,1045.5 L966.1,1047.0 L965.3,1048.5 L964.3,1050.0 L963.4,1051.4 L962.3,1052.8 L961.2,1054.1 L960.1,1055.4 L958.8,1056.7 L957.6,1057.9 L956.3,1059.1 L955.0,1060.2 L953.6,1061.2 L952.2,1062.2 L950.8,1063.1 L949.3,1063.9 L947.8,1064.7 L946.3,1065.4 L944.8,1066.0 L943.3,1066.5 L941.8,1067.0 L643.5,1149.8 L642.0,1150.2 L640.5,1150.5 L639.0,1150.7 L637.5,1150.9 L636.0,1150.9 L634.5,1150.9 L633.1,1150.8 L631.7,1150.6 L630.3,1150.3 L629.0,1150.0 L627.7,1149.5 L626.5,1149.0 L625.2,1148.4 L624.1,1147.7 L623.0,1147.0 L621.9,1146.2 L621.0,1145.3 L620.0,1144.4 L619.2,1143.4 L618.4,1142.3 L617.7,1141.2 L617.0,1140.0 L616.4,1138.7 L615.9,1137.4 L615.5,1136.1 L615.1,1134.7 L614.9,1133.3 L614.7,1131.9 L614.5,1130.4 L614.5,1128.9Z" fill="none" stroke="#000" stroke-width="2.7" stroke-linejoin="round" stroke-linecap="round" />
</g>
<path d="M644.3,1069.5 L644.3,1068.0 L644.5,1066.4 L644.7,1064.9 L644.9,1063.3 L645.3,1061.7 L645.7,1060.1 L646.2,1058.6 L646.8,1057.0 L647.5,1055.4 L648.2,1053.9 L649.0,1052.4 L649.8,1050.9 L650.8,1049.4 L651.7,1048.0 L652.8,1046.6 L653.9,1045.3 L655.0,1044.0 L656.3,1042.7 L657.5,1041.5 L658.8,1040.3 L660.1,1039.3 L661.5,1038.2 L662.9,1037.2 L664.3,1036.3 L665.8,1035.5 L667.3,1034.7 L668.8,1034.1 L670.3,1033.4 L671.8,1032.9 L673.3,1032.4 L971.6,949.6 L973.1,949.2 L974.6,948.9 L976.1,948.7 L977.6,948.6 L979.1,948.5 L980.6,948.5 L982.0,948.6 L983.4,948.8 L984.8,949.1 L986.1,949.5 L987.4,949.9 L988.6,950.4 L989.9,951.0 L991.0,951.7 L992.1,952.4 L993.2,953.2 L994.1,954.1 L995.1,955.0 L995.9,956.0 L996.7,957.1 L997.4,958.3 L998.1,959.4 L998.7,960.7 L999.2,962.0 L999.6,963.3 L1000.0,964.7 L1000.2,966.1 L1000.4,967.6 L1000.6,969.0 L1000.6,970.5 L1000.6,1056.0 L1000.6,1057.6 L1000.4,1059.1 L1000.2,1060.7 L1000.0,1062.2 L999.6,1063.8 L999.2,1065.4 L998.7,1067.0 L998.1,1068.5 L997.4,1070.1 L996.7,1071.6 L995.9,1073.1 L995.1,1074.6 L994.1,1076.1 L993.2,1077.5 L992.1,1078.9 L991.0,1080.3 L989.9,1081.6 L988.6,1082.8 L987.4,1084.0 L986.1,1085.2 L984.8,1086.3 L983.4,1087.3 L982.0,1088.3 L980.6,1089.2 L979.1,1090.0 L977.6,1090.8 L976.1,1091.5 L974.6,1092.1 L973.1,1092.6 L971.6,1093.1 L673.3,1175.9 L671.8,1176.3 L670.3,1176.6 L668.8,1176.8 L667.3,1177.0 L665.8,1177.0 L664.3,1177.0 L662.9,1176.9 L661.5,1176.7 L660.1,1176.4 L658.8,1176.1 L657.5,1175.6 L656.3,1175.1 L655.0,1174.5 L653.9,1173.9 L652.8,1173.1 L651.7,1172.3 L650.8,1171.4 L649.8,1170.5 L649.0,1169.5 L648.2,1168.4 L647.5,1167.3 L646.8,1166.1 L646.2,1164.8 L645.7,1163.6 L645.3,1162.2 L644.9,1160.8 L644.7,1159.4 L644.5,1158.0 L644.3,1156.5 L644.3,1155.0Z" fill="none" stroke="#000" stroke-width="2.7" stroke-linejoin="round" stroke-linecap="round" />
<path d="M226.0,1153.7 L226.0,1152.7 L226.1,1151.7 L226.1,1150.6 L226.2,1149.6 L226.3,1148.6 L226.5,1147.5 L226.7,1146.5 L226.9,1145.4 L227.1,1144.3 L227.3,1143.3 L227.6,1142.2 L227.9,1141.2 L228.2,1140.1 L228.6,1139.0 L229.0,1138.0 L229.4,1136.9 L229.8,1135.9 L230.3,1134.9 L230.7,1133.8 L231.2,1132.8 L231.8,1131.8 L232.3,1130.8 L232.9,1129.7 L233.4,1128.7 L234.1,1127.8 L234.7,1126.8 L235.4,1125.8 L236.0,1124.9 L236.7,1123.9 L237.4,1123.0 L238.2,1122.1 L238.9,1121.2 L239.7,1120.3 L240.5,1119.4 L241.3,1118.6 L242.1,1117.7 L242.9,1116.9 L243.8,1116.1 L244.6,1115.3 L245.5,1114.5 L246.4,1113.8 L247.3,1113.1 L248.2,1112.4 L249.1,1111.7 L250.1,1111.0 L251.0,1110.4 L252.0,1109.8 L252.9,1109.2 L253.9,1108.6 L254.9,1108.0 L255.9,1107.5 L256.9,1107.0 L257.9,1106.5 L258.9,1106.1 L259.9,1105.7 L260.9,1105.3 L261.9,1104.9 L263.0,1104.5 L264.0,1104.2 L265.0,1103.9 L266.0,1103.6 L267.0,1103.4 L268.0,1103.1 L269.0,1102.8 L270.0,1102.5 L271.0,1102.2 L272.0,1102.0 L273.0,1101.5 L274.0,1100.2 L275.0,1098.1 L276.0,1095.9 L277.0,1094.1 L278.0,1093.3 L279.0,1093.0 L280.0,1092.7 L281.0,1092.5 L282.0,1092.2 L283.0,1091.9 L284.0,1091.6 L285.0,1091.3 L286.0,1091.1 L287.0,1091.4 L288.0,1092.6 L289.0,1094.3 L290.0,1095.8 L291.0,1096.5 L292.0,1096.4 L293.0,1096.1 L294.0,1095.8 L295.0,1095.6 L296.0,1095.3 L297.0,1095.0 L298.0,1094.7 L299.0,1094.5 L300.0,1094.2 L301.0,1093.9 L302.0,1093.6 L303.0,1093.3 L304.0,1093.1 L305.0,1092.8 L306.0,1092.5 L307.0,1092.2 L308.0,1092.0 L309.0,1091.7 L310.0,1091.4 L311.0,1091.1 L312.0,1090.8 L313.0,1090.6 L314.0,1090.3 L315.1,1090.0 L316.1,1089.7 L317.1,1089.5 L318.1,1089.2 L319.1,1088.9 L320.1,1088.6 L321.1,1088.3 L322.1,1088.1 L323.1,1087.8 L324.1,1087.5 L325.1,1087.2 L326.1,1087.0 L327.1,1086.7 L328.1,1086.4 L329.1,1086.1 L330.1,1085.8 L331.1,1085.6 L332.1,1085.3 L333.1,1085.0 L334.1,1084.7 L335.1,1084.5 L336.1,1084.2 L337.1,1083.9 L338.1,1083.6 L339.1,1083.3 L340.1,1083.1 L341.1,1082.8 L342.1,1082.5 L343.1,1082.2 L344.1,1081.9 L345.1,1081.7 L346.1,1081.4 L347.1,1081.1 L348.1,1080.8 L349.1,1080.6 L350.1,1080.3 L351.1,1080.0 L352.1,1079.7 L353.1,1079.4 L354.1,1079.2 L355.1,1078.9 L356.1,1078.6 L357.1,1078.3 L358.1,1078.1 L359.1,1077.8 L360.1,1077.5 L361.1,1077.2 L362.1,1076.9 L363.1,1076.7 L364.1,1076.4 L365.1,1076.1 L366.1,1075.8 L367.1,1075.6 L368.1,1075.3 L369.1,1075.0 L370.1,1074.7 L371.1,1074.4 L372.1,1074.2 L373.1,1073.9 L374.1,1073.6 L375.1,1073.3 L376.1,1073.1 L377.1,1072.8 L378.1,1072.5 L379.1,1072.2 L380.1,1071.9 L381.1,1071.7 L382.1,1071.4 L383.1,1071.1 L384.1,1070.8 L385.1,1070.6 L386.1,1070.3 L387.1,1070.0 L388.1,1069.7 L389.1,1069.4 L390.1,1069.2 L391.1,1068.9 L392.1,1068.6 L393.1,1068.3 L394.1,1068.0 L395.1,1067.8 L396.1,1067.5 L397.1,1067.2 L398.1,1066.9 L399.1,1066.7 L400.1,1066.4 L401.1,1066.1 L402.1,1065.8 L403.1,1065.5 L404.1,1065.3 L405.1,1065.0 L406.1,1064.7 L407.1,1064.4 L408.1,1064.2 L409.1,1063.9 L410.1,1063.6 L411.1,1063.3 L412.1,1063.0 L413.2,1062.8 L414.2,1062.5 L415.2,1062.2 L416.2,1061.9 L417.2,1061.7 L418.2,1061.4 L419.2,1061.1 L420.2,1060.8 L421.2,1060.5 L422.2,1060.3 L423.2,1060.0 L424.2,1059.7 L425.2,1059.4 L426.2,1059.2 L427.2,1058.9 L428.2,1058.6 L429.2,1058.3 L430.2,1058.0 L431.2,1057.8 L432.2,1057.5 L433.2,1057.2 L434.2,1056.9 L435.2,1056.7 L436.2,1056.4 L437.2,1056.1 L438.2,1055.8 L439.2,1055.5 L440.2,1055.3 L441.2,1055.0 L442.2,1054.7 L443.2,1054.4 L444.2,1054.2 L445.2,1053.9 L446.2,1053.6 L447.2,1053.3 L448.2,1053.0 L449.2,1052.8 L450.2,1052.5 L451.2,1052.2 L452.2,1051.9 L453.2,1051.6 L454.2,1051.4 L455.2,1051.1 L456.2,1050.8 L457.2,1050.5 L458.2,1050.3 L459.2,1050.0 L460.2,1049.7 L461.2,1049.4 L462.2,1049.1 L463.2,1048.9 L464.2,1048.6 L465.2,1048.3 L466.2,1048.0 L467.2,1047.8 L468.2,1047.5 L469.2,1047.2 L470.2,1046.9 L471.2,1046.6 L472.2,1046.4 L473.2,1046.1 L474.2,1045.8 L475.2,1045.5 L476.2,1045.3 L477.2,1045.0 L478.2,1044.7 L479.2,1044.4 L480.2,1044.1 L481.2,1043.9 L482.2,1043.6 L483.2,1043.3 L484.2,1043.0 L485.2,1042.8 L486.2,1042.5 L487.2,1042.2 L488.2,1041.9 L489.2,1041.6 L490.2,1041.4 L491.2,1041.1 L492.2,1040.8 L493.2,1040.5 L494.2,1040.3 L495.2,1040.0 L496.2,1039.7 L497.2,1039.4 L498.2,1039.1 L499.2,1038.9 L500.2,1038.6 L501.2,1038.3 L502.2,1038.0 L503.2,1037.7 L504.2,1037.5 L505.2,1037.2 L506.2,1036.9 L507.2,1036.6 L508.2,1036.4 L509.2,1036.1 L510.2,1035.8 L511.3,1035.5 L512.3,1035.2 L513.3,1035.0 L514.3,1034.7 L515.3,1034.4 L516.3,1034.1 L517.3,1033.9 L518.3,1033.6 L519.3,1033.3 L520.3,1033.0 L521.3,1032.7 L522.3,1032.5 L523.3,1032.2 L524.3,1031.9 L525.3,1031.6 L526.3,1031.4 L527.3,1031.1 L528.3,1030.8 L529.3,1030.5 L530.3,1030.2 L531.3,1030.0 L532.3,1029.7 L533.3,1029.4 L534.3,1029.0 L535.3,1027.7 L536.3,1025.6 L537.3,1023.4 L538.3,1021.6 L539.3,1020.7 L540.3,1020.5 L541.3,1020.2 L542.3,1019.9 L543.3,1019.6 L544.3,1019.4 L545.3,1019.1 L546.3,1018.8 L547.3,1018.5 L548.3,1018.8 L549.3,1020.0 L550.3,1021.7 L551.3,1023.2 L552.3,1024.0 L553.3,1023.9 L554.3,1023.6 L555.3,1023.3 L556.3,1023.0 L557.3,1022.7 L558.3,1022.5 L559.3,1022.2 L560.3,1021.9 L561.3,1021.6 L562.3,1021.4 L563.4,1021.2 L564.4,1021.0 L565.4,1020.8 L566.4,1020.7 L567.4,1020.6 L568.4,1020.5 L569.4,1020.5 L570.4,1020.4 L571.4,1020.4 L572.4,1020.5 L573.3,1020.5 L574.3,1020.6 L575.2,1020.7 L576.2,1020.9 L577.1,1021.1 L578.0,1021.2 L578.9,1021.5 L579.8,1021.7 L580.7,1022.0 L581.5,1022.3 L582.4,1022.6 L583.2,1023.0 L584.0,1023.4 L584.8,1023.8 L585.6,1024.2 L586.4,1024.7 L587.1,1025.2 L587.9,1025.7 L588.6,1026.2 L589.3,1026.8 L589.9,1027.4 L590.6,1027.9 L591.2,1028.6 L591.9,1029.2 L592.4,1029.9 L593.0,1030.6 L593.5,1031.3 L594.1,1032.0 L594.6,1032.8 L595.0,1033.5 L595.5,1034.3 L595.9,1035.1 L596.3,1036.0 L596.7,1036.8 L597.1,1037.7 L597.4,1038.6 L597.7,1039.5 L598.0,1040.3 L598.2,1041.3 L598.4,1042.2 L598.6,1043.2 L598.8,1044.1 L599.0,1045.1 L599.1,1046.1 L599.2,1047.1 L599.2,1048.0 L599.3,1049.1 L599.3,1050.1 L599.3,1051.1 L599.3,1052.1 L599.3,1053.1 L599.3,1054.1 L599.3,1055.1 L599.3,1056.1 L599.3,1057.1 L599.3,1058.1 L599.3,1059.1 L599.3,1060.1 L599.3,1061.1 L599.3,1062.1 L599.3,1063.2 L599.3,1064.2 L599.3,1065.2 L599.3,1066.2 L599.3,1067.2 L599.3,1068.2 L599.3,1069.2 L599.3,1070.2 L599.3,1071.2 L599.3,1072.2 L599.3,1073.2 L599.3,1074.2 L599.3,1075.2 L599.3,1076.2 L599.3,1077.2 L599.3,1078.2 L599.3,1079.2 L599.3,1080.3 L599.3,1081.3 L599.3,1082.3 L599.4,1083.2 L600.4,1084.0 L602.2,1084.5 L604.2,1084.9 L605.7,1085.5 L606.3,1086.4 L606.3,1087.4 L606.3,1088.4 L606.3,1089.4 L606.3,1090.4 L606.3,1091.4 L606.3,1092.4 L606.3,1093.4 L606.3,1094.4 L605.7,1095.6 L604.2,1097.0 L602.2,1098.6 L600.4,1100.1 L599.4,1101.3 L599.3,1102.4 L599.3,1103.4 L599.3,1104.4 L599.3,1105.4 L599.3,1106.4 L599.3,1107.4 L599.3,1108.4 L599.3,1109.4 L599.3,1110.4 L599.3,1111.4 L599.3,1112.4 L599.3,1113.4 L599.3,1114.5 L599.3,1115.5 L599.3,1116.5 L599.3,1117.5 L599.3,1118.5 L599.3,1119.5 L599.3,1120.5 L599.3,1121.5 L599.3,1122.5 L599.3,1123.5 L599.3,1124.5 L599.3,1125.5 L599.3,1126.5 L599.3,1127.5 L599.3,1128.5 L599.3,1129.5 L599.3,1130.6 L599.3,1131.6 L599.3,1132.6 L599.3,1133.6 L599.3,1134.6 L599.3,1135.6 L599.2,1136.6 L599.2,1137.7 L599.1,1138.7 L599.0,1139.8 L598.8,1140.8 L598.6,1141.9 L598.4,1142.9 L598.2,1144.0 L598.0,1145.0 L597.7,1146.1 L597.4,1147.2 L597.1,1148.2 L596.7,1149.3 L596.3,1150.3 L595.9,1151.4 L595.5,1152.4 L595.0,1153.5 L594.6,1154.5 L594.1,1155.5 L593.5,1156.5 L593.0,1157.6 L592.4,1158.6 L591.9,1159.6 L591.2,1160.5 L590.6,1161.5 L589.9,1162.5 L589.3,1163.5 L588.6,1164.4 L587.9,1165.3 L587.1,1166.2 L586.4,1167.1 L585.6,1168.0 L584.8,1168.9 L584.0,1169.7 L583.2,1170.6 L582.4,1171.4 L581.5,1172.2 L580.7,1173.0 L579.8,1173.8 L578.9,1174.5 L578.0,1175.2 L577.1,1175.9 L576.2,1176.6 L575.2,1177.3 L574.3,1177.9 L573.3,1178.5 L572.4,1179.1 L571.4,1179.7 L570.4,1180.3 L569.4,1180.8 L568.4,1181.3 L567.4,1181.8 L566.4,1182.2 L565.4,1182.6 L564.4,1183.1 L563.4,1183.4 L562.3,1183.8 L561.3,1184.1 L560.3,1184.4 L559.3,1184.7 L558.3,1185.0 L557.3,1185.2 L556.3,1185.5 L555.3,1185.8 L554.3,1186.1 L553.3,1186.4 L552.3,1186.8 L551.3,1188.1 L550.3,1190.2 L549.3,1192.4 L548.3,1194.2 L547.3,1195.0 L546.3,1195.3 L545.3,1195.6 L544.3,1195.9 L543.3,1196.1 L542.3,1196.4 L541.3,1196.7 L540.3,1197.0 L539.3,1197.2 L538.3,1197.0 L537.3,1195.7 L536.3,1194.1 L535.3,1192.5 L534.3,1191.8 L533.3,1191.9 L532.3,1192.2 L531.3,1192.5 L530.3,1192.7 L529.3,1193.0 L528.3,1193.3 L527.3,1193.6 L526.3,1193.9 L525.3,1194.1 L524.3,1194.4 L523.3,1194.7 L522.3,1195.0 L521.3,1195.2 L520.3,1195.5 L519.3,1195.8 L518.3,1196.1 L517.3,1196.4 L516.3,1196.6 L515.3,1196.9 L514.3,1197.2 L513.3,1197.5 L512.3,1197.7 L511.3,1198.0 L510.2,1198.3 L509.2,1198.6 L508.2,1198.9 L507.2,1199.1 L506.2,1199.4 L505.2,1199.7 L504.2,1200.0 L503.2,1200.2 L502.2,1200.5 L501.2,1200.8 L500.2,1201.1 L499.2,1201.4 L498.2,1201.6 L497.2,1201.9 L496.2,1202.2 L495.2,1202.5 L494.2,1202.8 L493.2,1203.0 L492.2,1203.3 L491.2,1203.6 L490.2,1203.9 L489.2,1204.1 L488.2,1204.4 L487.2,1204.7 L486.2,1205.0 L485.2,1205.3 L484.2,1205.5 L483.2,1205.8 L482.2,1206.1 L481.2,1206.4 L480.2,1206.6 L479.2,1206.9 L478.2,1207.2 L477.2,1207.5 L476.2,1207.8 L475.2,1208.0 L474.2,1208.3 L473.2,1208.6 L472.2,1208.9 L471.2,1209.1 L470.2,1209.4 L469.2,1209.7 L468.2,1210.0 L467.2,1210.3 L466.2,1210.5 L465.2,1210.8 L464.2,1211.1 L463.2,1211.4 L462.2,1211.6 L461.2,1211.9 L460.2,1212.2 L459.2,1212.5 L458.2,1212.8 L457.2,1213.0 L456.2,1213.3 L455.2,1213.6 L454.2,1213.9 L453.2,1214.1 L452.2,1214.4 L451.2,1214.7 L450.2,1215.0 L449.2,1215.3 L448.2,1215.5 L447.2,1215.8 L446.2,1216.1 L445.2,1216.4 L444.2,1216.7 L443.2,1216.9 L442.2,1217.2 L441.2,1217.5 L440.2,1217.8 L439.2,1218.0 L438.2,1218.3 L437.2,1218.6 L436.2,1218.9 L435.2,1219.2 L434.2,1219.4 L433.2,1219.7 L432.2,1220.0 L431.2,1220.3 L430.2,1220.5 L429.2,1220.8 L428.2,1221.1 L427.2,1221.4 L426.2,1221.7 L425.2,1221.9 L424.2,1222.2 L423.2,1222.5 L422.2,1222.8 L421.2,1223.0 L420.2,1223.3 L419.2,1223.6 L418.2,1223.9 L417.2,1224.2 L416.2,1224.4 L415.2,1224.7 L414.2,1225.0 L413.2,1225.3 L412.1,1225.5 L411.1,1225.8 L410.1,1226.1 L409.1,1226.4 L408.1,1226.7 L407.1,1226.9 L406.1,1227.2 L405.1,1227.5 L404.1,1227.8 L403.1,1228.0 L402.1,1228.3 L401.1,1228.6 L400.1,1228.9 L399.1,1229.2 L398.1,1229.4 L397.1,1229.7 L396.1,1230.0 L395.1,1230.3 L394.1,1230.5 L393.1,1230.8 L392.1,1231.1 L391.1,1231.4 L390.1,1231.7 L389.1,1231.9 L388.1,1232.2 L387.1,1232.5 L386.1,1232.8 L385.1,1233.1 L384.1,1233.3 L383.1,1233.6 L382.1,1233.9 L381.1,1234.2 L380.1,1234.4 L379.1,1234.7 L378.1,1235.0 L377.1,1235.3 L376.1,1235.6 L375.1,1235.8 L374.1,1236.1 L373.1,1236.4 L372.1,1236.7 L371.1,1236.9 L370.1,1237.2 L369.1,1237.5 L368.1,1237.8 L367.1,1238.1 L366.1,1238.3 L365.1,1238.6 L364.1,1238.9 L363.1,1239.2 L362.1,1239.4 L361.1,1239.7 L360.1,1240.0 L359.1,1240.3 L358.1,1240.6 L357.1,1240.8 L356.1,1241.1 L355.1,1241.4 L354.1,1241.7 L353.1,1241.9 L352.1,1242.2 L351.1,1242.5 L350.1,1242.8 L349.1,1243.1 L348.1,1243.3 L347.1,1243.6 L346.1,1243.9 L345.1,1244.2 L344.1,1244.4 L343.1,1244.7 L342.1,1245.0 L341.1,1245.3 L340.1,1245.6 L339.1,1245.8 L338.1,1246.1 L337.1,1246.4 L336.1,1246.7 L335.1,1247.0 L334.1,1247.2 L333.1,1247.5 L332.1,1247.8 L331.1,1248.1 L330.1,1248.3 L329.1,1248.6 L328.1,1248.9 L327.1,1249.2 L326.1,1249.5 L325.1,1249.7 L324.1,1250.0 L323.1,1250.3 L322.1,1250.6 L321.1,1250.8 L320.1,1251.1 L319.1,1251.4 L318.1,1251.7 L317.1,1252.0 L316.1,1252.2 L315.1,1252.5 L314.0,1252.8 L313.0,1253.1 L312.0,1253.3 L311.0,1253.6 L310.0,1253.9 L309.0,1254.2 L308.0,1254.5 L307.0,1254.7 L306.0,1255.0 L305.0,1255.3 L304.0,1255.6 L303.0,1255.8 L302.0,1256.1 L301.0,1256.4 L300.0,1256.7 L299.0,1257.0 L298.0,1257.2 L297.0,1257.5 L296.0,1257.8 L295.0,1258.1 L294.0,1258.3 L293.0,1258.6 L292.0,1258.9 L291.0,1259.3 L290.0,1260.7 L289.0,1262.7 L288.0,1265.0 L287.0,1266.7 L286.0,1267.6 L285.0,1267.8 L284.0,1268.1 L283.0,1268.4 L282.0,1268.7 L281.0,1269.0 L280.0,1269.2 L279.0,1269.5 L278.0,1269.8 L277.0,1269.5 L276.0,1268.3 L275.0,1266.6 L274.0,1265.1 L273.0,1264.3 L272.0,1264.5 L271.0,1264.7 L270.0,1265.0 L269.0,1265.3 L268.0,1265.6 L267.0,1265.9 L266.0,1266.1 L265.0,1266.4 L264.0,1266.7 L263.0,1266.9 L261.9,1267.1 L260.9,1267.3 L259.9,1267.5 L258.9,1267.6 L257.9,1267.7 L256.9,1267.8 L255.9,1267.8 L254.9,1267.9 L253.9,1267.9 L252.9,1267.8 L252.0,1267.8 L251.0,1267.7 L250.1,1267.6 L249.1,1267.4 L248.2,1267.3 L247.3,1267.1 L246.4,1266.8 L245.5,1266.6 L244.6,1266.3 L243.8,1266.0 L242.9,1265.7 L242.1,1265.3 L241.3,1264.9 L240.5,1264.5 L239.7,1264.1 L238.9,1263.6 L238.2,1263.1 L237.4,1262.6 L236.7,1262.1 L236.0,1261.6 L235.4,1261.0 L234.7,1260.4 L234.1,1259.7 L233.4,1259.1 L232.9,1258.4 L232.3,1257.7 L231.8,1257.0 L231.2,1256.3 L230.7,1255.5 L230.3,1254.8 L229.8,1254.0 L229.4,1253.2 L229.0,1252.3 L228.6,1251.5 L228.2,1250.6 L227.9,1249.8 L227.6,1248.9 L227.3,1248.0 L227.1,1247.0 L226.9,1246.1 L226.7,1245.2 L226.5,1244.2 L226.3,1243.2 L226.2,1242.3 L226.1,1241.3 L226.1,1240.3 L226.0,1239.3 L226.0,1238.2 L226.0,1237.2 L226.0,1236.2 L226.0,1235.2 L226.0,1234.2 L226.0,1233.2 L226.0,1232.2 L226.0,1231.2 L226.0,1230.2 L226.0,1229.2 L226.0,1228.2 L226.0,1227.2 L226.0,1226.2 L226.0,1225.2 L226.0,1224.2 L226.0,1223.2 L226.0,1222.1 L226.0,1221.1 L226.0,1220.1 L226.0,1219.1 L226.0,1218.1 L226.0,1217.1 L226.0,1216.1 L226.0,1215.1 L226.0,1214.1 L226.0,1213.1 L226.0,1212.1 L226.0,1211.1 L226.0,1210.1 L226.0,1209.1 L226.0,1208.1 L226.0,1207.1 L226.0,1206.0 L225.9,1205.1 L224.9,1204.4 L223.1,1203.8 L221.1,1203.4 L219.6,1202.8 L219.0,1202.0 L219.0,1201.0 L219.0,1199.9 L219.0,1198.9 L219.0,1197.9 L219.0,1196.9 L219.0,1195.9 L219.0,1194.9 L219.0,1193.9 L219.6,1192.7 L221.1,1191.3 L223.1,1189.8 L224.9,1188.3 L225.9,1187.0 L226.0,1185.9 L226.0,1184.9 L226.0,1183.9 L226.0,1182.9 L226.0,1181.9 L226.0,1180.9 L226.0,1179.9 L226.0,1178.9 L226.0,1177.9 L226.0,1176.9 L226.0,1175.9 L226.0,1174.9 L226.0,1173.9 L226.0,1172.9 L226.0,1171.8 L226.0,1170.8 L226.0,1169.8 L226.0,1168.8 L226.0,1167.8 L226.0,1166.8 L226.0,1165.8 L226.0,1164.8 L226.0,1163.8 L226.0,1162.8 L226.0,1161.8 L226.0,1160.8 L226.0,1159.8 L226.0,1158.8 L226.0,1157.8 L226.0,1156.8 L226.0,1155.8 L226.0,1154.7Z" fill="#fff" stroke="#000" stroke-width="2.7" stroke-linejoin="round" stroke-linecap="round" />
<circle cx="281.9" cy="1096.2" r="2.9" fill="none" stroke="#000" stroke-width="2.5"/>
<circle cx="543.2" cy="1023.7" r="2.9" fill="none" stroke="#000" stroke-width="2.5"/>
<circle cx="223.0" cy="1196.3" r="2.9" fill="none" stroke="#000" stroke-width="2.5"/>
<circle cx="602.3" cy="1091.0" r="2.9" fill="none" stroke="#000" stroke-width="2.5"/>
<circle cx="281.9" cy="1264.7" r="2.9" fill="none" stroke="#000" stroke-width="2.5"/>
<circle cx="543.2" cy="1192.2" r="2.9" fill="none" stroke="#000" stroke-width="2.5"/>
<path d="M236.0,1150.0 L236.0,1148.4 L236.2,1146.9 L236.4,1145.3 L236.6,1143.8 L237.0,1142.2 L237.4,1140.6 L237.9,1139.0 L238.5,1137.5 L239.2,1135.9 L239.9,1134.4 L240.7,1132.9 L241.5,1131.4 L242.5,1129.9 L243.4,1128.5 L244.5,1127.1 L245.6,1125.7 L246.8,1124.4 L248.0,1123.2 L249.2,1122.0 L250.5,1120.8 L251.8,1119.7 L253.2,1118.7 L254.6,1117.7 L256.0,1116.8 L257.5,1116.0 L259.0,1115.2 L260.5,1114.5 L262.0,1113.9 L263.5,1113.4 L265.0,1112.9 L563.3,1030.1 L564.8,1029.7 L566.3,1029.4 L567.8,1029.2 L569.3,1029.0 L570.8,1029.0 L572.3,1029.0 L573.7,1029.1 L575.1,1029.3 L576.5,1029.6 L577.8,1029.9 L579.1,1030.4 L580.3,1030.9 L581.5,1031.5 L582.7,1032.1 L583.8,1032.9 L584.9,1033.7 L614.7,1059.8 L615.6,1060.7 L616.6,1061.6 L617.4,1062.6 L618.2,1063.7 L618.9,1064.9 L619.6,1066.0 L620.2,1067.3 L620.7,1068.6 L621.1,1069.9 L621.5,1071.3 L621.7,1072.7 L621.9,1074.2 L622.1,1075.6 L622.1,1077.1 L622.1,1162.6 L622.1,1164.2 L621.9,1165.7 L621.7,1167.3 L621.5,1168.8 L621.1,1170.4 L620.7,1172.0 L620.2,1173.6 L619.6,1175.1 L618.9,1176.7 L618.2,1178.2 L617.4,1179.7 L616.6,1181.2 L615.6,1182.7 L614.7,1184.1 L613.6,1185.5 L612.5,1186.9 L611.4,1188.2 L610.1,1189.4 L608.9,1190.6 L607.6,1191.8 L606.3,1192.9 L604.9,1193.9 L603.5,1194.9 L602.1,1195.8 L600.6,1196.6 L599.1,1197.4 L597.6,1198.1 L596.1,1198.7 L594.6,1199.2 L593.1,1199.7 L294.8,1282.5 L293.3,1282.9 L291.8,1283.2 L290.3,1283.4 L288.8,1283.6 L287.3,1283.6 L285.8,1283.6 L284.4,1283.5 L283.0,1283.3 L281.6,1283.0 L280.3,1282.7 L279.0,1282.2 L277.8,1281.7 L276.6,1281.1 L275.4,1280.5 L274.3,1279.7 L273.2,1278.9 L243.4,1252.8 L242.5,1251.9 L241.5,1251.0 L240.7,1250.0 L239.9,1248.9 L239.2,1247.8 L238.5,1246.6 L237.9,1245.3 L237.4,1244.0 L237.0,1242.7 L236.6,1241.3 L236.4,1239.9 L236.2,1238.4 L236.0,1237.0 L236.0,1235.5Z" fill="#fff" stroke="#000" stroke-width="2.7" stroke-linejoin="round" stroke-linecap="round" />
<clipPath id="c4"><path d="M265.8,1176.1 L265.8,1174.6 L266.0,1173.0 L266.2,1171.5 L266.4,1169.9 L266.8,1168.3 L267.2,1166.7 L267.7,1165.2 L268.3,1163.6 L269.0,1162.0 L269.7,1160.5 L270.5,1159.0 L271.3,1157.5 L272.3,1156.0 L273.2,1154.6 L274.3,1153.2 L275.4,1151.9 L276.5,1150.6 L277.8,1149.3 L279.0,1148.1 L280.3,1146.9 L281.6,1145.9 L283.0,1144.8 L284.4,1143.8 L285.8,1142.9 L287.3,1142.1 L288.8,1141.3 L290.3,1140.7 L291.8,1140.0 L293.3,1139.5 L294.8,1139.0 L593.1,1056.2 L594.6,1055.8 L596.1,1055.5 L597.6,1055.3 L599.1,1055.2 L600.6,1055.1 L602.1,1055.1 L603.5,1055.2 L604.9,1055.4 L606.3,1055.7 L607.6,1056.1 L608.9,1056.5 L610.1,1057.0 L611.4,1057.6 L612.5,1058.3 L613.6,1059.0 L614.7,1059.8 L615.6,1060.7 L616.6,1061.6 L617.4,1062.6 L618.2,1063.7 L618.9,1064.9 L619.6,1066.0 L620.2,1067.3 L620.7,1068.6 L621.1,1069.9 L621.5,1071.3 L621.7,1072.7 L621.9,1074.2 L622.1,1075.6 L622.1,1077.1 L622.1,1162.6 L622.1,1164.2 L621.9,1165.7 L621.7,1167.3 L621.5,1168.8 L621.1,1170.4 L620.7,1172.0 L620.2,1173.6 L619.6,1175.1 L618.9,1176.7 L618.2,1178.2 L617.4,1179.7 L616.6,1181.2 L615.6,1182.7 L614.7,1184.1 L613.6,1185.5 L612.5,1186.9 L611.4,1188.2 L610.1,1189.4 L608.9,1190.6 L607.6,1191.8 L606.3,1192.9 L604.9,1193.9 L603.5,1194.9 L602.1,1195.8 L600.6,1196.6 L599.1,1197.4 L597.6,1198.1 L596.1,1198.7 L594.6,1199.2 L593.1,1199.7 L294.8,1282.5 L293.3,1282.9 L291.8,1283.2 L290.3,1283.4 L288.8,1283.6 L287.3,1283.6 L285.8,1283.6 L284.4,1283.5 L283.0,1283.3 L281.6,1283.0 L280.3,1282.7 L279.0,1282.2 L277.8,1281.7 L276.5,1281.1 L275.4,1280.5 L274.3,1279.7 L273.2,1278.9 L272.3,1278.0 L271.3,1277.1 L270.5,1276.1 L269.7,1275.0 L269.0,1273.9 L268.3,1272.7 L267.7,1271.4 L267.2,1270.2 L266.8,1268.8 L266.4,1267.4 L266.2,1266.0 L266.0,1264.6 L265.8,1263.1 L265.8,1261.6Z"/></clipPath>
<g clip-path="url(#c4)">
<path d="M236.0,1150.0 L236.0,1148.4 L236.2,1146.9 L236.4,1145.3 L236.6,1143.8 L237.0,1142.2 L237.4,1140.6 L237.9,1139.0 L238.5,1137.5 L239.2,1135.9 L239.9,1134.4 L240.7,1132.9 L241.5,1131.4 L242.5,1129.9 L243.4,1128.5 L244.5,1127.1 L245.6,1125.7 L246.7,1124.4 L248.0,1123.2 L249.2,1122.0 L250.5,1120.8 L251.8,1119.7 L253.2,1118.7 L254.6,1117.7 L256.0,1116.8 L257.5,1116.0 L259.0,1115.2 L260.5,1114.5 L262.0,1113.9 L263.5,1113.4 L265.0,1112.9 L563.3,1030.1 L564.8,1029.7 L566.3,1029.4 L567.8,1029.2 L569.3,1029.0 L570.8,1029.0 L572.3,1029.0 L573.7,1029.1 L575.1,1029.3 L576.5,1029.6 L577.8,1029.9 L579.1,1030.4 L580.3,1030.9 L581.6,1031.5 L582.7,1032.1 L583.8,1032.9 L584.9,1033.7 L585.8,1034.6 L586.8,1035.5 L587.6,1036.5 L588.4,1037.6 L589.1,1038.7 L589.8,1039.9 L590.4,1041.2 L590.9,1042.5 L591.3,1043.8 L591.7,1045.2 L591.9,1046.6 L592.1,1048.0 L592.3,1049.5 L592.3,1051.0 L592.3,1136.5 L592.3,1138.0 L592.1,1139.6 L591.9,1141.2 L591.7,1142.7 L591.3,1144.3 L590.9,1145.9 L590.4,1147.4 L589.8,1149.0 L589.1,1150.6 L588.4,1152.1 L587.6,1153.6 L586.8,1155.1 L585.8,1156.6 L584.9,1158.0 L583.8,1159.4 L582.7,1160.7 L581.6,1162.0 L580.3,1163.3 L579.1,1164.5 L577.8,1165.7 L576.5,1166.8 L575.1,1167.8 L573.7,1168.8 L572.3,1169.7 L570.8,1170.5 L569.3,1171.3 L567.8,1172.0 L566.3,1172.6 L564.8,1173.1 L563.3,1173.6 L265.0,1256.4 L263.5,1256.8 L262.0,1257.1 L260.5,1257.3 L259.0,1257.5 L257.5,1257.5 L256.0,1257.5 L254.6,1257.4 L253.2,1257.2 L251.8,1256.9 L250.5,1256.6 L249.2,1256.1 L248.0,1255.6 L246.7,1255.0 L245.6,1254.3 L244.5,1253.6 L243.4,1252.8 L242.5,1251.9 L241.5,1251.0 L240.7,1250.0 L239.9,1248.9 L239.2,1247.8 L238.5,1246.6 L237.9,1245.3 L237.4,1244.0 L237.0,1242.7 L236.6,1241.3 L236.4,1239.9 L236.2,1238.5 L236.0,1237.0 L236.0,1235.5Z" fill="none" stroke="#000" stroke-width="2.7" stroke-linejoin="round" stroke-linecap="round" />
</g>
<path d="M265.8,1176.1 L265.8,1174.6 L266.0,1173.0 L266.2,1171.5 L266.4,1169.9 L266.8,1168.3 L267.2,1166.7 L267.7,1165.2 L268.3,1163.6 L269.0,1162.0 L269.7,1160.5 L270.5,1159.0 L271.3,1157.5 L272.3,1156.0 L273.2,1154.6 L274.3,1153.2 L275.4,1151.9 L276.5,1150.6 L277.8,1149.3 L279.0,1148.1 L280.3,1146.9 L281.6,1145.9 L283.0,1144.8 L284.4,1143.8 L285.8,1142.9 L287.3,1142.1 L288.8,1141.3 L290.3,1140.7 L291.8,1140.0 L293.3,1139.5 L294.8,1139.0 L593.1,1056.2 L594.6,1055.8 L596.1,1055.5 L597.6,1055.3 L599.1,1055.2 L600.6,1055.1 L602.1,1055.1 L603.5,1055.2 L604.9,1055.4 L606.3,1055.7 L607.6,1056.1 L608.9,1056.5 L610.1,1057.0 L611.4,1057.6 L612.5,1058.3 L613.6,1059.0 L614.7,1059.8 L615.6,1060.7 L616.6,1061.6 L617.4,1062.6 L618.2,1063.7 L618.9,1064.9 L619.6,1066.0 L620.2,1067.3 L620.7,1068.6 L621.1,1069.9 L621.5,1071.3 L621.7,1072.7 L621.9,1074.2 L622.1,1075.6 L622.1,1077.1 L622.1,1162.6 L622.1,1164.2 L621.9,1165.7 L621.7,1167.3 L621.5,1168.8 L621.1,1170.4 L620.7,1172.0 L620.2,1173.6 L619.6,1175.1 L618.9,1176.7 L618.2,1178.2 L617.4,1179.7 L616.6,1181.2 L615.6,1182.7 L614.7,1184.1 L613.6,1185.5 L612.5,1186.9 L611.4,1188.2 L610.1,1189.4 L608.9,1190.6 L607.6,1191.8 L606.3,1192.9 L604.9,1193.9 L603.5,1194.9 L602.1,1195.8 L600.6,1196.6 L599.1,1197.4 L597.6,1198.1 L596.1,1198.7 L594.6,1199.2 L593.1,1199.7 L294.8,1282.5 L293.3,1282.9 L291.8,1283.2 L290.3,1283.4 L288.8,1283.6 L287.3,1283.6 L285.8,1283.6 L284.4,1283.5 L283.0,1283.3 L281.6,1283.0 L280.3,1282.7 L279.0,1282.2 L277.8,1281.7 L276.5,1281.1 L275.4,1280.5 L274.3,1279.7 L273.2,1278.9 L272.3,1278.0 L271.3,1277.1 L270.5,1276.1 L269.7,1275.0 L269.0,1273.9 L268.3,1272.7 L267.7,1271.4 L267.2,1270.2 L266.8,1268.8 L266.4,1267.4 L266.2,1266.0 L266.0,1264.6 L265.8,1263.1 L265.8,1261.6Z" fill="none" stroke="#000" stroke-width="2.7" stroke-linejoin="round" stroke-linecap="round" />
<path d="M617.7,1457.8 L617.8,1457.3 L617.8,1456.8 L617.9,1456.3 L618.0,1455.8 L618.1,1455.3 L618.3,1454.8 L618.7,1453.8 L618.9,1453.3 L619.2,1452.8 L619.8,1451.9 L620.5,1451.0 L621.2,1450.1 L622.1,1449.2 L622.6,1448.8 L623.1,1448.4 L624.2,1447.5 L625.4,1446.8 L626.6,1446.0 L628.0,1445.3 L629.4,1444.6 L630.9,1444.0 L631.6,1443.7 L632.4,1443.4 L634.0,1442.9 L635.7,1442.4 L637.4,1441.9 L643.9,1440.1 L781.4,1401.8 L895.9,1369.9 L916.4,1364.2 L918.0,1363.7 L925.4,1361.7 L926.2,1361.4 L927.1,1361.2 L928.0,1361.0 L928.9,1360.8 L930.8,1360.5 L931.7,1360.3 L932.6,1360.1 L933.6,1360.0 L934.6,1359.9 L935.5,1359.8 L936.5,1359.7 L938.5,1359.5 L939.5,1359.5 L940.5,1359.4 L941.5,1359.4 L942.5,1359.4 L944.5,1359.4 L945.5,1359.4 L946.5,1359.5 L948.6,1359.6 L950.6,1359.7 L952.6,1359.9 L953.6,1360.1 L954.6,1360.2 L955.6,1360.4 L956.6,1360.5 L958.5,1360.9 L960.4,1361.3 L962.3,1361.8 L964.1,1362.3 L965.9,1362.8 L967.6,1363.4 L969.2,1364.1 L970.0,1364.4 L970.8,1364.8 L971.6,1365.1 L972.4,1365.5 L973.1,1365.9 L973.8,1366.2 L975.2,1367.0 L976.5,1367.8 L977.1,1368.3 L977.7,1368.7 L978.9,1369.6 L980.9,1371.3 L986.1,1375.5 L1014.7,1399.0 L1020.9,1404.1 L1021.4,1404.5 L1022.5,1405.4 L1023.4,1406.3 L1024.3,1407.3 L1025.0,1408.2 L1025.4,1408.7 L1025.7,1409.2 L1026.0,1409.7 L1026.3,1410.2 L1026.5,1410.7 L1026.7,1411.2 L1026.9,1411.7 L1027.1,1412.2 L1027.3,1413.2 L1027.4,1414.2 L1027.5,1414.7 L1027.5,1415.2 L1027.5,1471.1 L1027.4,1471.6 L1027.4,1472.1 L1027.3,1472.6 L1027.2,1473.1 L1027.1,1473.6 L1026.9,1474.1 L1026.5,1475.1 L1026.0,1476.1 L1025.4,1477.0 L1024.7,1477.9 L1024.0,1478.8 L1023.5,1479.3 L1023.1,1479.7 L1022.6,1480.1 L1022.1,1480.5 L1021.0,1481.4 L1019.8,1482.1 L1018.6,1482.9 L1017.2,1483.6 L1015.8,1484.3 L1014.3,1484.9 L1013.6,1485.2 L1012.8,1485.5 L1012.0,1485.8 L1011.2,1486.0 L1010.3,1486.3 L1009.5,1486.5 L1007.8,1487.0 L1004.6,1487.9 L981.7,1494.3 L844.2,1532.6 L752.5,1558.1 L732.1,1563.8 L730.5,1564.3 L719.8,1567.2 L719.0,1567.5 L718.1,1567.7 L717.2,1567.9 L716.3,1568.1 L714.4,1568.4 L713.5,1568.6 L712.6,1568.8 L711.6,1568.9 L710.6,1569.0 L709.7,1569.1 L708.7,1569.2 L706.7,1569.4 L704.7,1569.5 L703.7,1569.5 L702.7,1569.5 L700.7,1569.5 L699.7,1569.5 L698.6,1569.5 L696.6,1569.3 L694.6,1569.2 L693.6,1569.1 L692.6,1569.0 L691.6,1568.8 L690.6,1568.7 L688.6,1568.4 L686.7,1568.0 L684.8,1567.6 L683.9,1567.4 L682.9,1567.1 L681.1,1566.6 L680.2,1566.3 L679.3,1566.1 L678.5,1565.8 L677.6,1565.5 L676.0,1564.8 L674.4,1564.1 L672.8,1563.4 L671.4,1562.7 L670.0,1561.9 L669.3,1561.5 L668.7,1561.1 L668.1,1560.6 L667.5,1560.2 L666.3,1559.3 L661.1,1555.1 L653.4,1548.7 L630.0,1529.5 L624.3,1524.8 L623.8,1524.4 L622.7,1523.5 L621.8,1522.6 L620.9,1521.6 L620.2,1520.7 L619.8,1520.2 L619.5,1519.7 L618.9,1518.7 L618.7,1518.2 L618.5,1517.7 L618.3,1517.2 L618.1,1516.7 L617.9,1515.7 L617.8,1514.7 L617.7,1514.2 L617.7,1513.7Z" fill="#fff" stroke="#000" stroke-width="2.7" stroke-linejoin="round" stroke-linecap="round" />
<path d="M617.3,1472.2 L616.6,1471.6 L615.9,1471.0 L615.3,1470.4 L614.7,1469.8 L614.1,1469.2 L613.6,1468.6 L613.1,1468.0 L612.6,1467.4 L612.2,1466.7 L611.8,1466.1 L611.4,1465.4 L611.0,1464.8 L610.7,1464.1 L610.4,1463.5 L610.2,1462.8 L610.0,1462.2 L609.8,1461.5 L609.7,1460.9 L609.6,1460.2 L609.5,1459.6 L609.5,1458.9 L609.5,1458.2 L609.5,1457.6 L609.5,1456.9 L609.7,1456.3 L609.8,1455.6 L610.0,1455.0 L610.2,1454.4 L610.4,1453.7 L610.7,1453.1 L611.0,1452.5 L611.3,1451.8 L611.7,1451.2 L612.1,1450.6 L612.5,1450.0 L613.0,1449.4 L613.5,1448.8 L614.0,1448.3 L614.6,1447.7 L615.2,1447.1 L615.8,1446.6 L616.5,1446.0 L617.2,1445.5 L617.9,1445.0 L618.6,1444.5 L619.4,1443.9 L620.2,1443.5 L621.0,1443.0 L621.9,1442.5 L622.7,1442.1 L623.7,1441.6 L624.6,1441.2 L625.5,1440.8 L626.5,1440.4 L627.5,1440.0 L628.5,1439.6 L629.6,1439.2 L630.6,1438.9 L631.7,1438.6 L632.8,1438.2 L633.7,1438.0 L634.5,1437.8 L635.3,1437.5 L635.9,1437.1 L636.0,1436.3 L635.7,1435.2 L635.4,1434.0 L635.2,1433.0 L635.3,1432.1 L635.8,1431.7 L636.6,1431.5 L637.5,1431.2 L638.3,1431.0 L639.1,1430.8 L639.9,1430.6 L640.7,1430.3 L641.6,1430.1 L642.4,1429.9 L643.2,1429.6 L644.0,1429.4 L644.8,1429.2 L645.6,1429.0 L646.7,1428.9 L648.3,1429.3 L650.1,1429.9 L652.1,1430.7 L654.0,1431.3 L655.5,1431.6 L656.6,1431.6 L657.4,1431.4 L658.2,1431.2 L659.0,1430.9 L659.8,1430.7 L660.7,1430.5 L661.5,1430.3 L662.3,1430.0 L663.1,1429.8 L663.9,1429.6 L664.8,1429.3 L665.6,1429.1 L666.4,1428.9 L667.2,1428.7 L668.0,1428.4 L668.8,1428.2 L669.7,1428.0 L670.5,1427.7 L671.3,1427.5 L672.1,1427.3 L672.9,1427.1 L673.8,1426.8 L674.6,1426.6 L675.4,1426.4 L676.2,1426.1 L677.0,1425.9 L677.8,1425.7 L678.7,1425.5 L679.5,1425.2 L680.3,1425.0 L681.1,1424.8 L681.9,1424.6 L682.8,1424.3 L683.6,1424.1 L684.4,1423.9 L685.2,1423.6 L686.0,1423.4 L686.8,1423.2 L687.7,1423.0 L688.5,1422.7 L689.3,1422.5 L690.1,1422.3 L690.9,1422.0 L691.8,1421.8 L692.6,1421.6 L693.4,1421.4 L694.2,1421.1 L695.0,1420.9 L695.8,1420.7 L696.7,1420.4 L697.5,1420.2 L698.3,1420.0 L699.1,1419.8 L699.9,1419.5 L700.8,1419.3 L701.6,1419.1 L702.4,1418.9 L703.2,1418.6 L704.0,1418.4 L704.8,1418.2 L705.7,1417.9 L706.5,1417.7 L707.3,1417.5 L708.1,1417.3 L708.9,1417.0 L709.8,1416.8 L710.6,1416.6 L711.4,1416.3 L712.2,1416.1 L713.0,1415.9 L713.8,1415.7 L714.7,1415.4 L715.5,1415.2 L716.3,1415.0 L717.1,1414.7 L717.9,1414.5 L718.8,1414.3 L719.6,1414.1 L720.4,1413.8 L721.2,1413.6 L722.0,1413.4 L722.9,1413.2 L723.7,1412.9 L724.5,1412.7 L725.3,1412.5 L726.1,1412.2 L726.9,1412.0 L727.8,1411.8 L728.6,1411.6 L729.4,1411.3 L730.2,1411.1 L731.0,1410.9 L731.9,1410.6 L732.7,1410.4 L733.5,1410.2 L734.3,1410.0 L735.1,1409.7 L735.9,1409.5 L736.8,1409.3 L737.6,1409.0 L738.4,1408.8 L739.2,1408.6 L740.0,1408.4 L740.9,1408.1 L741.7,1407.9 L742.5,1407.7 L743.3,1407.5 L744.1,1407.2 L744.9,1407.0 L745.8,1406.8 L746.6,1406.5 L747.4,1406.3 L748.2,1406.1 L749.0,1405.9 L749.9,1405.6 L750.7,1405.4 L751.5,1405.2 L752.3,1404.9 L753.1,1404.7 L753.9,1404.5 L754.8,1404.3 L755.6,1404.0 L756.4,1403.8 L757.2,1403.6 L758.0,1403.3 L758.9,1403.1 L759.7,1402.9 L760.5,1402.7 L761.3,1402.4 L762.1,1402.2 L762.9,1402.0 L763.8,1401.8 L764.6,1401.5 L765.4,1401.3 L766.2,1401.1 L767.0,1400.8 L767.9,1400.6 L768.7,1400.4 L769.5,1400.2 L770.3,1399.9 L771.1,1399.7 L771.9,1399.5 L772.8,1399.2 L773.6,1399.0 L774.4,1398.8 L775.2,1398.6 L776.0,1398.3 L776.9,1398.1 L777.7,1397.9 L778.5,1397.6 L779.3,1397.4 L780.1,1397.2 L781.0,1397.0 L781.8,1396.7 L782.6,1396.5 L783.4,1396.3 L784.2,1396.1 L785.0,1395.8 L785.9,1395.6 L786.7,1395.4 L787.5,1395.1 L788.3,1394.9 L789.1,1394.7 L790.0,1394.5 L790.8,1394.2 L791.6,1394.0 L792.4,1393.8 L793.2,1393.5 L794.0,1393.3 L794.9,1393.1 L795.7,1392.9 L796.5,1392.6 L797.3,1392.4 L798.1,1392.2 L799.0,1391.9 L799.8,1391.7 L800.6,1391.5 L801.4,1391.3 L802.2,1391.0 L803.0,1390.8 L803.9,1390.6 L804.7,1390.4 L805.5,1390.1 L806.3,1389.9 L807.1,1389.7 L808.0,1389.4 L808.8,1389.2 L809.6,1389.0 L810.4,1388.8 L811.2,1388.5 L812.0,1388.3 L812.9,1388.1 L813.7,1387.8 L814.5,1387.6 L815.3,1387.4 L816.1,1387.2 L817.0,1386.9 L817.8,1386.7 L818.6,1386.5 L819.4,1386.2 L820.2,1386.0 L821.0,1385.8 L821.9,1385.6 L822.7,1385.3 L823.5,1385.1 L824.3,1384.9 L825.1,1384.7 L826.0,1384.4 L826.8,1384.2 L827.6,1384.0 L828.4,1383.7 L829.2,1383.5 L830.0,1383.3 L830.9,1383.1 L831.7,1382.8 L832.5,1382.6 L833.3,1382.4 L834.1,1382.1 L835.0,1381.9 L835.8,1381.7 L836.6,1381.5 L837.4,1381.2 L838.2,1381.0 L839.1,1380.8 L839.9,1380.6 L840.7,1380.3 L841.5,1380.1 L842.3,1379.9 L843.1,1379.6 L844.0,1379.4 L844.8,1379.2 L845.6,1379.0 L846.4,1378.7 L847.2,1378.5 L848.1,1378.3 L848.9,1378.0 L849.7,1377.8 L850.5,1377.6 L851.3,1377.4 L852.1,1377.1 L853.0,1376.9 L853.8,1376.7 L854.6,1376.4 L855.4,1376.2 L856.2,1376.0 L857.1,1375.8 L857.9,1375.5 L858.7,1375.3 L859.5,1375.1 L860.3,1374.9 L861.1,1374.6 L862.0,1374.4 L862.8,1374.2 L863.6,1373.9 L864.4,1373.7 L865.2,1373.5 L866.1,1373.3 L866.9,1373.0 L867.7,1372.8 L868.5,1372.6 L869.3,1372.3 L870.1,1372.1 L871.0,1371.9 L871.8,1371.7 L872.6,1371.4 L873.4,1371.2 L874.2,1371.0 L875.1,1370.7 L875.9,1370.5 L876.7,1370.3 L877.5,1370.1 L878.3,1369.8 L879.1,1369.6 L880.0,1369.4 L880.8,1369.2 L881.6,1368.9 L882.4,1368.7 L883.2,1368.5 L884.1,1368.2 L884.9,1368.0 L885.7,1367.8 L886.5,1367.6 L887.3,1367.3 L888.1,1367.1 L889.0,1366.9 L889.8,1366.6 L890.6,1366.4 L891.4,1366.2 L892.2,1366.0 L893.1,1365.7 L893.9,1365.5 L894.7,1365.3 L895.5,1365.0 L896.3,1364.8 L897.2,1364.6 L898.0,1364.4 L898.5,1363.9 L898.6,1363.1 L898.4,1362.0 L898.1,1360.9 L897.9,1359.8 L897.9,1359.0 L898.5,1358.5 L899.3,1358.3 L900.1,1358.1 L901.0,1357.8 L901.8,1357.6 L902.6,1357.4 L903.4,1357.1 L904.2,1356.9 L905.1,1356.7 L905.9,1356.5 L906.7,1356.2 L907.5,1356.0 L908.3,1355.8 L909.4,1355.8 L910.9,1356.1 L912.8,1356.7 L914.8,1357.5 L916.6,1358.1 L918.2,1358.5 L919.2,1358.4 L920.1,1358.2 L921.2,1357.9 L922.3,1357.6 L923.5,1357.4 L924.7,1357.1 L925.9,1356.9 L927.1,1356.6 L928.3,1356.4 L929.5,1356.2 L930.7,1356.1 L932.0,1355.9 L933.3,1355.8 L934.5,1355.6 L935.8,1355.5 L937.1,1355.4 L938.4,1355.4 L939.7,1355.3 L941.0,1355.3 L942.3,1355.2 L943.6,1355.2 L944.9,1355.2 L946.3,1355.3 L947.6,1355.3 L948.9,1355.4 L950.2,1355.5 L951.5,1355.6 L952.8,1355.7 L954.2,1355.8 L955.5,1356.0 L956.8,1356.1 L958.0,1356.3 L959.3,1356.5 L960.6,1356.7 L961.9,1357.0 L963.1,1357.2 L964.4,1357.5 L965.6,1357.7 L966.8,1358.0 L968.0,1358.3 L969.2,1358.7 L970.4,1359.0 L971.5,1359.4 L972.7,1359.7 L973.8,1360.1 L974.9,1360.5 L976.0,1360.9 L977.1,1361.3 L978.1,1361.8 L979.2,1362.2 L980.2,1362.7 L981.2,1363.2 L982.1,1363.7 L983.0,1364.1 L983.9,1364.7 L984.8,1365.2 L985.7,1365.7 L986.5,1366.2 L987.3,1366.8 L988.1,1367.3 L988.9,1367.9 L989.6,1368.5 L990.1,1368.9 L990.6,1369.3 L991.1,1369.8 L991.7,1370.2 L992.2,1370.6 L992.7,1371.0 L993.2,1371.5 L993.8,1371.9 L994.3,1372.3 L994.8,1372.8 L995.3,1373.2 L995.8,1373.6 L996.4,1374.0 L996.9,1374.5 L997.4,1374.9 L997.9,1375.3 L998.4,1375.7 L999.0,1376.2 L999.5,1376.6 L1000.0,1377.0 L1000.5,1377.4 L1001.0,1377.9 L1001.6,1378.3 L1002.1,1378.7 L1002.6,1379.2 L1003.1,1379.6 L1003.6,1380.0 L1004.2,1380.4 L1004.7,1380.9 L1005.2,1381.3 L1005.7,1381.7 L1006.2,1382.1 L1006.8,1382.6 L1007.3,1383.0 L1007.8,1383.4 L1008.3,1383.8 L1008.8,1384.3 L1009.4,1384.7 L1009.9,1385.1 L1010.4,1385.6 L1010.9,1386.0 L1011.4,1386.4 L1012.0,1386.8 L1012.5,1387.3 L1013.0,1387.7 L1013.5,1388.1 L1014.0,1388.5 L1014.6,1389.0 L1015.1,1389.4 L1015.6,1389.8 L1016.1,1390.2 L1016.6,1390.7 L1017.2,1391.1 L1017.7,1391.5 L1018.2,1392.0 L1018.7,1392.4 L1019.2,1392.8 L1019.8,1393.2 L1020.3,1393.7 L1020.8,1394.1 L1021.3,1394.5 L1021.8,1394.9 L1022.4,1395.4 L1022.9,1395.8 L1023.4,1396.2 L1023.9,1396.6 L1024.4,1397.1 L1025.0,1397.5 L1025.5,1397.9 L1026.0,1398.4 L1026.5,1398.8 L1027.1,1399.2 L1027.6,1399.6 L1028.1,1400.1 L1028.6,1400.5 L1029.3,1401.1 L1030.0,1401.7 L1030.6,1402.3 L1031.2,1402.9 L1031.8,1403.5 L1032.3,1404.1 L1032.8,1404.7 L1033.3,1405.3 L1033.7,1406.0 L1034.1,1406.6 L1034.5,1407.3 L1034.9,1407.9 L1035.2,1408.6 L1035.5,1409.2 L1035.7,1409.9 L1035.9,1410.5 L1036.1,1411.2 L1036.2,1411.8 L1036.3,1412.5 L1036.4,1413.1 L1036.4,1413.8 L1036.4,1414.5 L1036.4,1415.1 L1036.4,1415.8 L1036.2,1416.4 L1036.1,1417.1 L1035.9,1417.7 L1035.7,1418.3 L1035.5,1419.0 L1035.2,1419.6 L1034.9,1420.2 L1034.6,1420.9 L1034.2,1421.5 L1033.8,1422.1 L1033.4,1422.7 L1032.9,1423.3 L1032.4,1423.9 L1031.9,1424.4 L1031.3,1425.0 L1030.7,1425.6 L1030.1,1426.1 L1029.4,1426.7 L1028.7,1427.2 L1028.0,1427.7 L1027.3,1428.2 L1026.5,1428.8 L1025.7,1429.2 L1024.9,1429.7 L1024.0,1430.2 L1023.2,1430.6 L1022.2,1431.1 L1021.3,1431.5 L1020.4,1431.9 L1019.4,1432.3 L1018.4,1432.7 L1017.4,1433.1 L1016.3,1433.5 L1015.3,1433.8 L1014.2,1434.1 L1013.1,1434.5 L1012.2,1434.7 L1011.4,1434.9 L1010.6,1435.2 L1009.8,1435.4 L1009.2,1435.8 L1009.1,1436.6 L1009.3,1437.7 L1009.7,1438.9 L1009.9,1440.0 L1009.8,1440.8 L1009.3,1441.2 L1008.4,1441.5 L1007.6,1441.7 L1006.8,1441.9 L1006.0,1442.1 L1005.2,1442.4 L1004.3,1442.6 L1003.5,1442.8 L1002.7,1443.1 L1001.9,1443.3 L1001.1,1443.5 L1000.3,1443.7 L999.4,1444.0 L998.4,1444.0 L996.8,1443.6 L995.0,1443.0 L993.0,1442.3 L991.1,1441.6 L989.6,1441.3 L988.5,1441.3 L987.7,1441.5 L986.9,1441.8 L986.1,1442.0 L985.2,1442.2 L984.4,1442.4 L983.6,1442.7 L982.8,1442.9 L982.0,1443.1 L981.1,1443.4 L980.3,1443.6 L979.5,1443.8 L978.7,1444.0 L977.9,1444.3 L977.1,1444.5 L976.2,1444.7 L975.4,1445.0 L974.6,1445.2 L973.8,1445.4 L973.0,1445.6 L972.1,1445.9 L971.3,1446.1 L970.5,1446.3 L969.7,1446.6 L968.9,1446.8 L968.1,1447.0 L967.2,1447.2 L966.4,1447.5 L965.6,1447.7 L964.8,1447.9 L964.0,1448.1 L963.1,1448.4 L962.3,1448.6 L961.5,1448.8 L960.7,1449.1 L959.9,1449.3 L959.1,1449.5 L958.2,1449.7 L957.4,1450.0 L956.6,1450.2 L955.8,1450.4 L955.0,1450.7 L954.1,1450.9 L953.3,1451.1 L952.5,1451.3 L951.7,1451.6 L950.9,1451.8 L950.1,1452.0 L949.2,1452.3 L948.4,1452.5 L947.6,1452.7 L946.8,1452.9 L946.0,1453.2 L945.1,1453.4 L944.3,1453.6 L943.5,1453.8 L942.7,1454.1 L941.9,1454.3 L941.1,1454.5 L940.2,1454.8 L939.4,1455.0 L938.6,1455.2 L937.8,1455.4 L937.0,1455.7 L936.1,1455.9 L935.3,1456.1 L934.5,1456.4 L933.7,1456.6 L932.9,1456.8 L932.1,1457.0 L931.2,1457.3 L930.4,1457.5 L929.6,1457.7 L928.8,1458.0 L928.0,1458.2 L927.1,1458.4 L926.3,1458.6 L925.5,1458.9 L924.7,1459.1 L923.9,1459.3 L923.0,1459.5 L922.2,1459.8 L921.4,1460.0 L920.6,1460.2 L919.8,1460.5 L919.0,1460.7 L918.1,1460.9 L917.3,1461.1 L916.5,1461.4 L915.7,1461.6 L914.9,1461.8 L914.0,1462.1 L913.2,1462.3 L912.4,1462.5 L911.6,1462.7 L910.8,1463.0 L910.0,1463.2 L909.1,1463.4 L908.3,1463.6 L907.5,1463.9 L906.7,1464.1 L905.9,1464.3 L905.0,1464.6 L904.2,1464.8 L903.4,1465.0 L902.6,1465.2 L901.8,1465.5 L901.0,1465.7 L900.1,1465.9 L899.3,1466.2 L898.5,1466.4 L897.7,1466.6 L896.9,1466.8 L896.0,1467.1 L895.2,1467.3 L894.4,1467.5 L893.6,1467.8 L892.8,1468.0 L892.0,1468.2 L891.1,1468.4 L890.3,1468.7 L889.5,1468.9 L888.7,1469.1 L887.9,1469.3 L887.0,1469.6 L886.2,1469.8 L885.4,1470.0 L884.6,1470.3 L883.8,1470.5 L883.0,1470.7 L882.1,1470.9 L881.3,1471.2 L880.5,1471.4 L879.7,1471.6 L878.9,1471.9 L878.0,1472.1 L877.2,1472.3 L876.4,1472.5 L875.6,1472.8 L874.8,1473.0 L874.0,1473.2 L873.1,1473.5 L872.3,1473.7 L871.5,1473.9 L870.7,1474.1 L869.9,1474.4 L869.0,1474.6 L868.2,1474.8 L867.4,1475.0 L866.6,1475.3 L865.8,1475.5 L864.9,1475.7 L864.1,1476.0 L863.3,1476.2 L862.5,1476.4 L861.7,1476.6 L860.9,1476.9 L860.0,1477.1 L859.2,1477.3 L858.4,1477.6 L857.6,1477.8 L856.8,1478.0 L855.9,1478.2 L855.1,1478.5 L854.3,1478.7 L853.5,1478.9 L852.7,1479.2 L851.9,1479.4 L851.0,1479.6 L850.2,1479.8 L849.4,1480.1 L848.6,1480.3 L847.8,1480.5 L846.9,1480.7 L846.1,1481.0 L845.3,1481.2 L844.5,1481.4 L843.7,1481.7 L842.9,1481.9 L842.0,1482.1 L841.2,1482.3 L840.4,1482.6 L839.6,1482.8 L838.8,1483.0 L837.9,1483.3 L837.1,1483.5 L836.3,1483.7 L835.5,1483.9 L834.7,1484.2 L833.9,1484.4 L833.0,1484.6 L832.2,1484.9 L831.4,1485.1 L830.6,1485.3 L829.8,1485.5 L828.9,1485.8 L828.1,1486.0 L827.3,1486.2 L826.5,1486.4 L825.7,1486.7 L824.9,1486.9 L824.0,1487.1 L823.2,1487.4 L822.4,1487.6 L821.6,1487.8 L820.8,1488.0 L819.9,1488.3 L819.1,1488.5 L818.3,1488.7 L817.5,1489.0 L816.7,1489.2 L815.9,1489.4 L815.0,1489.6 L814.2,1489.9 L813.4,1490.1 L812.6,1490.3 L811.8,1490.6 L810.9,1490.8 L810.1,1491.0 L809.3,1491.2 L808.5,1491.5 L807.7,1491.7 L806.8,1491.9 L806.0,1492.1 L805.2,1492.4 L804.4,1492.6 L803.6,1492.8 L802.8,1493.1 L801.9,1493.3 L801.1,1493.5 L800.3,1493.7 L799.5,1494.0 L798.7,1494.2 L797.8,1494.4 L797.0,1494.7 L796.2,1494.9 L795.4,1495.1 L794.6,1495.3 L793.8,1495.6 L792.9,1495.8 L792.1,1496.0 L791.3,1496.3 L790.5,1496.5 L789.7,1496.7 L788.8,1496.9 L788.0,1497.2 L787.2,1497.4 L786.4,1497.6 L785.6,1497.8 L784.8,1498.1 L783.9,1498.3 L783.1,1498.5 L782.3,1498.8 L781.5,1499.0 L780.7,1499.2 L779.8,1499.4 L779.0,1499.7 L778.2,1499.9 L777.4,1500.1 L776.6,1500.4 L775.8,1500.6 L774.9,1500.8 L774.1,1501.0 L773.3,1501.3 L772.5,1501.5 L771.7,1501.7 L770.8,1502.0 L770.0,1502.2 L769.2,1502.4 L768.4,1502.6 L767.6,1502.9 L766.8,1503.1 L765.9,1503.3 L765.1,1503.5 L764.3,1503.8 L763.5,1504.0 L762.7,1504.2 L761.8,1504.5 L761.0,1504.7 L760.2,1504.9 L759.4,1505.1 L758.6,1505.4 L757.8,1505.6 L756.9,1505.8 L756.1,1506.1 L755.3,1506.3 L754.5,1506.5 L753.7,1506.7 L752.8,1507.0 L752.0,1507.2 L751.2,1507.4 L750.4,1507.7 L749.6,1507.9 L748.7,1508.1 L748.2,1508.5 L748.1,1509.4 L748.3,1510.4 L748.6,1511.6 L748.9,1512.7 L748.8,1513.5 L748.2,1514.0 L747.4,1514.2 L746.6,1514.4 L745.8,1514.6 L744.9,1514.9 L744.1,1515.1 L743.3,1515.3 L742.5,1515.6 L741.7,1515.8 L740.8,1516.0 L740.0,1516.2 L739.2,1516.5 L738.4,1516.7 L737.3,1516.7 L735.8,1516.3 L733.9,1515.7 L731.9,1515.0 L730.1,1514.4 L728.5,1514.0 L727.5,1514.0 L726.7,1514.3 L725.8,1514.5 L724.7,1514.8 L723.6,1515.1 L722.4,1515.3 L721.2,1515.6 L720.0,1515.8 L718.8,1516.1 L717.6,1516.3 L716.4,1516.5 L715.2,1516.6 L713.9,1516.8 L712.6,1516.9 L711.4,1517.1 L710.1,1517.2 L708.8,1517.3 L707.5,1517.3 L706.2,1517.4 L704.9,1517.4 L703.6,1517.5 L702.3,1517.5 L701.0,1517.5 L699.6,1517.4 L698.3,1517.4 L697.0,1517.3 L695.7,1517.2 L694.4,1517.1 L693.1,1517.0 L691.7,1516.9 L690.4,1516.7 L689.1,1516.6 L687.9,1516.4 L686.6,1516.2 L685.3,1516.0 L684.0,1515.7 L682.8,1515.5 L681.5,1515.2 L680.3,1515.0 L679.1,1514.7 L677.9,1514.4 L676.7,1514.0 L675.5,1513.7 L674.4,1513.3 L673.2,1513.0 L672.1,1512.6 L671.0,1512.2 L669.9,1511.8 L668.8,1511.4 L667.8,1510.9 L666.7,1510.5 L665.7,1510.0 L664.7,1509.5 L663.8,1509.0 L662.9,1508.6 L662.0,1508.0 L661.1,1507.5 L660.2,1507.0 L659.4,1506.5 L658.6,1505.9 L657.8,1505.4 L657.0,1504.8 L656.3,1504.2 L655.8,1503.8 L655.3,1503.4 L654.8,1502.9 L654.2,1502.5 L653.7,1502.1 L653.2,1501.7 L652.7,1501.2 L652.1,1500.8 L651.6,1500.4 L651.1,1499.9 L650.6,1499.5 L650.1,1499.1 L649.5,1498.7 L649.0,1498.2 L648.5,1497.8 L648.0,1497.4 L647.5,1497.0 L646.9,1496.5 L646.4,1496.1 L645.9,1495.7 L645.4,1495.3 L644.9,1494.8 L644.3,1494.4 L643.8,1494.0 L643.3,1493.5 L642.8,1493.1 L641.9,1492.8 L640.2,1492.7 L638.1,1492.7 L635.7,1492.8 L633.6,1492.8 L631.9,1492.7 L631.0,1492.4 L630.4,1492.0 L629.9,1491.6 L629.4,1491.1 L628.9,1490.7 L628.4,1490.3 L627.8,1489.8 L627.3,1489.4 L626.8,1489.0 L626.3,1488.6 L625.8,1488.1 L625.2,1487.7 L624.7,1487.3 L624.6,1486.7 L625.2,1486.0 L626.4,1485.1 L627.7,1484.2 L628.8,1483.3 L629.4,1482.6 L629.3,1482.0 L628.7,1481.6 L628.2,1481.2 L627.7,1480.7 L627.2,1480.3 L626.7,1479.9 L626.1,1479.5 L625.6,1479.0 L625.1,1478.6 L624.6,1478.2 L624.1,1477.8 L623.5,1477.3 L623.0,1476.9 L622.5,1476.5 L622.0,1476.1 L621.5,1475.6 L620.9,1475.2 L620.4,1474.8 L619.9,1474.3 L619.4,1473.9 L618.8,1473.5 L618.3,1473.1 L617.8,1472.6Z" fill="#fff" stroke="#000" stroke-width="2.7" stroke-linejoin="round" stroke-linecap="round" />
<path d="M648.1,1431.5 L648.4,1431.8 L648.7,1432.2 L648.8,1432.6 L648.8,1433.0 L648.7,1433.4 L648.5,1433.8 L648.1,1434.2 L647.6,1434.5 L647.0,1434.7 L646.3,1434.9 L645.6,1435.1 L644.8,1435.2 L644.0,1435.2 L643.2,1435.1 L642.4,1435.0 L641.7,1434.8 L641.0,1434.6 L640.3,1434.3 L639.8,1434.0 L639.4,1433.7 L639.0,1433.3 L638.8,1432.9 L638.8,1432.5 L638.8,1432.1 L639.0,1431.7 L639.4,1431.3 L639.8,1431.0 L640.3,1430.7 L640.9,1430.5 L641.6,1430.3 L642.4,1430.2 L643.2,1430.2 L644.0,1430.2 L644.8,1430.2 L645.6,1430.4 L646.3,1430.6 L647.0,1430.8 L647.6,1431.1 L648.1,1431.5Z" fill="none" stroke="#000" stroke-width="2.0" stroke-linejoin="round" stroke-linecap="round" />
<path d="M910.5,1358.4 L910.8,1358.7 L911.1,1359.1 L911.2,1359.5 L911.2,1359.9 L911.1,1360.3 L910.9,1360.7 L910.5,1361.0 L910.0,1361.4 L909.4,1361.6 L908.7,1361.8 L908.0,1362.0 L907.2,1362.0 L906.4,1362.1 L905.6,1362.0 L904.8,1361.9 L904.1,1361.7 L903.4,1361.5 L902.7,1361.2 L902.2,1360.9 L901.8,1360.6 L901.4,1360.2 L901.2,1359.8 L901.2,1359.4 L901.2,1359.0 L901.4,1358.6 L901.8,1358.2 L902.2,1357.9 L902.7,1357.6 L903.3,1357.4 L904.0,1357.2 L904.8,1357.1 L905.6,1357.0 L906.4,1357.1 L907.2,1357.1 L908.0,1357.3 L908.7,1357.5 L909.4,1357.7 L910.0,1358.0 L910.5,1358.4Z" fill="none" stroke="#000" stroke-width="2.0" stroke-linejoin="round" stroke-linecap="round" />
<path d="M744.6,1511.8 L745.0,1512.1 L745.3,1512.5 L745.4,1512.9 L745.4,1513.3 L745.3,1513.7 L745.0,1514.1 L744.6,1514.4 L744.2,1514.7 L743.6,1515.0 L742.9,1515.2 L742.2,1515.4 L741.4,1515.4 L740.6,1515.5 L739.8,1515.4 L739.0,1515.3 L738.2,1515.1 L737.5,1514.9 L736.9,1514.6 L736.4,1514.3 L735.9,1513.9 L735.6,1513.6 L735.4,1513.2 L735.3,1512.8 L735.4,1512.4 L735.6,1512.0 L735.9,1511.6 L736.4,1511.3 L736.9,1511.0 L737.5,1510.8 L738.2,1510.6 L739.0,1510.5 L739.8,1510.4 L740.6,1510.5 L741.4,1510.5 L742.2,1510.7 L742.9,1510.9 L743.6,1511.1 L744.1,1511.4 L744.6,1511.8Z" fill="none" stroke="#000" stroke-width="2.0" stroke-linejoin="round" stroke-linecap="round" />
<path d="M1005.4,1439.1 L1005.8,1439.5 L1006.1,1439.9 L1006.2,1440.3 L1006.2,1440.7 L1006.1,1441.1 L1005.8,1441.4 L1005.4,1441.8 L1005.0,1442.1 L1004.4,1442.3 L1003.7,1442.5 L1003.0,1442.7 L1002.2,1442.8 L1001.4,1442.8 L1000.6,1442.8 L999.8,1442.6 L999.0,1442.5 L998.3,1442.2 L997.7,1442.0 L997.2,1441.6 L996.7,1441.3 L996.4,1440.9 L996.2,1440.5 L996.1,1440.1 L996.2,1439.7 L996.4,1439.3 L996.7,1439.0 L997.2,1438.6 L997.7,1438.4 L998.3,1438.1 L999.0,1437.9 L999.8,1437.8 L1000.6,1437.8 L1001.4,1437.8 L1002.2,1437.9 L1003.0,1438.0 L1003.7,1438.2 L1004.4,1438.5 L1004.9,1438.8 L1005.4,1439.1Z" fill="none" stroke="#000" stroke-width="2.0" stroke-linejoin="round" stroke-linecap="round" />
<path d="M636.7,1487.4 L637.0,1487.7 L637.3,1488.1 L637.4,1488.5 L637.4,1488.9 L637.3,1489.3 L637.0,1489.7 L636.7,1490.0 L636.2,1490.4 L635.6,1490.6 L634.9,1490.8 L634.2,1491.0 L633.4,1491.0 L632.6,1491.1 L631.8,1491.0 L631.0,1490.9 L630.2,1490.7 L629.5,1490.5 L628.9,1490.2 L628.4,1489.9 L627.9,1489.6 L627.6,1489.2 L627.4,1488.8 L627.4,1488.4 L627.4,1488.0 L627.6,1487.6 L627.9,1487.2 L628.4,1486.9 L628.9,1486.6 L629.5,1486.4 L630.2,1486.2 L631.0,1486.1 L631.8,1486.0 L632.6,1486.1 L633.4,1486.1 L634.2,1486.3 L634.9,1486.5 L635.6,1486.7 L636.2,1487.0 L636.7,1487.4Z" fill="none" stroke="#000" stroke-width="2.0" stroke-linejoin="round" stroke-linecap="round" />
<path d="M624.0,1465.8 L623.2,1465.1 L622.5,1464.5 L621.8,1463.7 L621.3,1463.0 L620.8,1462.3 L620.4,1461.5 L620.0,1460.8 L619.8,1460.0 L619.6,1459.3 L619.5,1458.5 L619.4,1457.8 L619.5,1457.0 L619.6,1456.3 L619.9,1455.5 L620.1,1454.8 L620.5,1454.1 L621.0,1453.4 L621.5,1452.7 L622.1,1452.0 L622.8,1451.3 L623.5,1450.7 L624.3,1450.1 L625.2,1449.5 L626.1,1449.0 L627.1,1448.4 L628.2,1447.9 L629.3,1447.4 L630.5,1447.0 L631.7,1446.6 L632.9,1446.2 L633.8,1446.0 L634.6,1445.8 L635.4,1445.5 L636.2,1445.3 L637.0,1445.1 L637.8,1444.9 L638.7,1444.6 L639.5,1444.4 L640.3,1444.2 L641.1,1443.9 L641.9,1443.7 L642.8,1443.5 L643.6,1443.3 L644.4,1443.0 L645.2,1442.8 L646.0,1442.6 L646.8,1442.3 L647.7,1442.1 L648.5,1441.9 L649.3,1441.7 L650.1,1441.4 L650.9,1441.2 L651.8,1441.0 L652.6,1440.8 L653.4,1440.5 L654.2,1440.3 L655.0,1440.1 L655.8,1439.8 L656.7,1439.6 L657.5,1439.4 L658.3,1439.2 L659.1,1438.9 L659.9,1438.7 L660.8,1438.5 L661.6,1438.2 L662.4,1438.0 L663.2,1437.8 L664.0,1437.6 L664.8,1437.3 L665.7,1437.1 L666.5,1436.9 L667.3,1436.6 L668.1,1436.4 L668.9,1436.2 L669.8,1436.0 L670.6,1435.7 L671.4,1435.5 L672.2,1435.3 L673.0,1435.1 L673.8,1434.8 L674.7,1434.6 L675.5,1434.4 L676.3,1434.1 L677.1,1433.9 L677.9,1433.7 L678.8,1433.5 L679.6,1433.2 L680.4,1433.0 L681.2,1432.8 L682.0,1432.5 L682.8,1432.3 L683.7,1432.1 L684.5,1431.9 L685.3,1431.6 L686.1,1431.4 L686.9,1431.2 L687.8,1431.0 L688.6,1430.7 L689.4,1430.5 L690.2,1430.3 L691.0,1430.0 L691.8,1429.8 L692.7,1429.6 L693.5,1429.4 L694.3,1429.1 L695.1,1428.9 L695.9,1428.7 L696.8,1428.4 L697.6,1428.2 L698.4,1428.0 L699.2,1427.8 L700.0,1427.5 L700.8,1427.3 L701.7,1427.1 L702.5,1426.8 L703.3,1426.6 L704.1,1426.4 L704.9,1426.2 L705.7,1425.9 L706.6,1425.7 L707.4,1425.5 L708.2,1425.3 L709.0,1425.0 L709.8,1424.8 L710.7,1424.6 L711.5,1424.3 L712.3,1424.1 L713.1,1423.9 L713.9,1423.7 L714.7,1423.4 L715.6,1423.2 L716.4,1423.0 L717.2,1422.7 L718.0,1422.5 L718.8,1422.3 L719.7,1422.1 L720.5,1421.8 L721.3,1421.6 L722.1,1421.4 L722.9,1421.1 L723.7,1420.9 L724.6,1420.7 L725.4,1420.5 L726.2,1420.2 L727.0,1420.0 L727.8,1419.8 L728.7,1419.6 L729.5,1419.3 L730.3,1419.1 L731.1,1418.9 L731.9,1418.6 L732.7,1418.4 L733.6,1418.2 L734.4,1418.0 L735.2,1417.7 L736.0,1417.5 L736.8,1417.3 L737.7,1417.0 L738.5,1416.8 L739.3,1416.6 L740.1,1416.4 L740.9,1416.1 L741.7,1415.9 L742.6,1415.7 L743.4,1415.5 L744.2,1415.2 L745.0,1415.0 L745.8,1414.8 L746.7,1414.5 L747.5,1414.3 L748.3,1414.1 L749.1,1413.9 L749.9,1413.6 L750.7,1413.4 L751.6,1413.2 L752.4,1412.9 L753.2,1412.7 L754.0,1412.5 L754.8,1412.3 L755.7,1412.0 L756.5,1411.8 L757.3,1411.6 L758.1,1411.3 L758.9,1411.1 L759.7,1410.9 L760.6,1410.7 L761.4,1410.4 L762.2,1410.2 L763.0,1410.0 L763.8,1409.8 L764.7,1409.5 L765.5,1409.3 L766.3,1409.1 L767.1,1408.8 L767.9,1408.6 L768.7,1408.4 L769.6,1408.2 L770.4,1407.9 L771.2,1407.7 L772.0,1407.5 L772.8,1407.2 L773.7,1407.0 L774.5,1406.8 L775.3,1406.6 L776.1,1406.3 L776.9,1406.1 L777.7,1405.9 L778.6,1405.7 L779.4,1405.4 L780.2,1405.2 L781.0,1405.0 L781.8,1404.7 L782.7,1404.5 L783.5,1404.3 L784.3,1404.1 L785.1,1403.8 L785.9,1403.6 L786.7,1403.4 L787.6,1403.1 L788.4,1402.9 L789.2,1402.7 L790.0,1402.5 L790.8,1402.2 L791.6,1402.0 L792.5,1401.8 L793.3,1401.5 L794.1,1401.3 L794.9,1401.1 L795.7,1400.9 L796.6,1400.6 L797.4,1400.4 L798.2,1400.2 L799.0,1400.0 L799.8,1399.7 L800.6,1399.5 L801.5,1399.3 L802.3,1399.0 L803.1,1398.8 L803.9,1398.6 L804.7,1398.4 L805.6,1398.1 L806.4,1397.9 L807.2,1397.7 L808.0,1397.4 L808.8,1397.2 L809.6,1397.0 L810.5,1396.8 L811.3,1396.5 L812.1,1396.3 L812.9,1396.1 L813.7,1395.9 L814.6,1395.6 L815.4,1395.4 L816.2,1395.2 L817.0,1394.9 L817.8,1394.7 L818.6,1394.5 L819.5,1394.3 L820.3,1394.0 L821.1,1393.8 L821.9,1393.6 L822.7,1393.3 L823.6,1393.1 L824.4,1392.9 L825.2,1392.7 L826.0,1392.4 L826.8,1392.2 L827.6,1392.0 L828.5,1391.7 L829.3,1391.5 L830.1,1391.3 L830.9,1391.1 L831.7,1390.8 L832.6,1390.6 L833.4,1390.4 L834.2,1390.2 L835.0,1389.9 L835.8,1389.7 L836.6,1389.5 L837.5,1389.2 L838.3,1389.0 L839.1,1388.8 L839.9,1388.6 L840.7,1388.3 L841.6,1388.1 L842.4,1387.9 L843.2,1387.6 L844.0,1387.4 L844.8,1387.2 L845.6,1387.0 L846.5,1386.7 L847.3,1386.5 L848.1,1386.3 L848.9,1386.0 L849.7,1385.8 L850.6,1385.6 L851.4,1385.4 L852.2,1385.1 L853.0,1384.9 L853.8,1384.7 L854.6,1384.5 L855.5,1384.2 L856.3,1384.0 L857.1,1383.8 L857.9,1383.5 L858.7,1383.3 L859.6,1383.1 L860.4,1382.9 L861.2,1382.6 L862.0,1382.4 L862.8,1382.2 L863.6,1381.9 L864.5,1381.7 L865.3,1381.5 L866.1,1381.3 L866.9,1381.0 L867.7,1380.8 L868.5,1380.6 L869.4,1380.4 L870.2,1380.1 L871.0,1379.9 L871.8,1379.7 L872.6,1379.4 L873.5,1379.2 L874.3,1379.0 L875.1,1378.8 L875.9,1378.5 L876.7,1378.3 L877.5,1378.1 L878.4,1377.8 L879.2,1377.6 L880.0,1377.4 L880.8,1377.2 L881.6,1376.9 L882.5,1376.7 L883.3,1376.5 L884.1,1376.2 L884.9,1376.0 L885.7,1375.8 L886.5,1375.6 L887.4,1375.3 L888.2,1375.1 L889.0,1374.9 L889.8,1374.7 L890.6,1374.4 L891.5,1374.2 L892.3,1374.0 L893.1,1373.7 L893.9,1373.5 L894.7,1373.3 L895.5,1373.1 L896.4,1372.8 L897.2,1372.6 L898.0,1372.4 L898.8,1372.1 L899.6,1371.9 L900.5,1371.7 L901.3,1371.5 L902.1,1371.2 L902.9,1371.0 L903.7,1370.8 L904.5,1370.6 L905.4,1370.3 L906.2,1370.1 L907.0,1369.9 L907.8,1369.6 L908.6,1369.4 L909.5,1369.2 L910.3,1369.0 L911.1,1368.7 L911.9,1368.5 L912.7,1368.3 L913.5,1368.0 L914.4,1367.8 L915.2,1367.6 L916.0,1367.4 L916.8,1367.1 L917.6,1366.9 L918.5,1366.7 L919.3,1366.4 L920.1,1366.2 L920.9,1366.0 L921.7,1365.8 L922.5,1365.5 L923.4,1365.3 L924.2,1365.1 L925.0,1364.9 L925.8,1364.6 L926.6,1364.4 L927.5,1364.2 L928.3,1363.9 L929.1,1363.7 L929.9,1363.5 L930.7,1363.3 L931.5,1363.0 L932.4,1362.8 L933.7,1362.5 L935.0,1362.2 L936.4,1361.9 L937.8,1361.7 L939.2,1361.5 L940.7,1361.3 L942.2,1361.2 L943.7,1361.1 L945.2,1361.1 L946.7,1361.1 L948.2,1361.1 L949.8,1361.2 L951.3,1361.3 L952.8,1361.5 L954.3,1361.7 L955.7,1361.9 L957.2,1362.2 L958.6,1362.5 L960.0,1362.9 L961.4,1363.3 L962.7,1363.7 L964.0,1364.1 L965.3,1364.6 L966.5,1365.1 L967.6,1365.7 L968.7,1366.2 L969.7,1366.8 L970.7,1367.4 L971.6,1368.1 L972.5,1368.7 L973.0,1369.2 L973.5,1369.6 L974.0,1370.0 L974.6,1370.4 L975.1,1370.9 L975.6,1371.3 L976.1,1371.7 L976.7,1372.2 L977.2,1372.6 L977.7,1373.0 L978.2,1373.5 L978.8,1373.9 L979.3,1374.3 L979.8,1374.7 L980.3,1375.2 L980.8,1375.6 L981.4,1376.0 L981.9,1376.5 L982.4,1376.9 L982.9,1377.3 L983.5,1377.7 L984.0,1378.2 L984.5,1378.6 L985.0,1379.0 L985.6,1379.5 L986.1,1379.9 L986.6,1380.3 L987.1,1380.8 L987.6,1381.2 L988.2,1381.6 L988.7,1382.0 L989.2,1382.5 L989.7,1382.9 L990.3,1383.3 L990.8,1383.8 L991.3,1384.2 L991.8,1384.6 L992.4,1385.0 L992.9,1385.5 L993.4,1385.9 L993.9,1386.3 L994.5,1386.8 L995.0,1387.2 L995.5,1387.6 L996.0,1388.0 L996.5,1388.5 L997.1,1388.9 L997.6,1389.3 L998.1,1389.8 L998.6,1390.2 L999.2,1390.6 L999.7,1391.1 L1000.2,1391.5 L1000.7,1391.9 L1001.3,1392.3 L1001.8,1392.8 L1002.3,1393.2 L1002.8,1393.6 L1003.4,1394.1 L1003.9,1394.5 L1004.4,1394.9 L1004.9,1395.3 L1005.4,1395.8 L1006.0,1396.2 L1006.5,1396.6 L1007.0,1397.1 L1007.5,1397.5 L1008.1,1397.9 L1008.6,1398.3 L1009.1,1398.8 L1009.6,1399.2 L1010.2,1399.6 L1010.7,1400.1 L1011.2,1400.5 L1011.7,1400.9 L1012.2,1401.4 L1012.8,1401.8 L1013.3,1402.2 L1013.8,1402.6 L1014.3,1403.1 L1014.9,1403.5 L1015.4,1403.9 L1015.9,1404.4 L1016.4,1404.8 L1017.0,1405.2 L1017.5,1405.6 L1018.0,1406.1 L1018.5,1406.5 L1019.3,1407.2 L1020.0,1407.9 L1020.7,1408.6 L1021.2,1409.3 L1021.7,1410.0 L1022.1,1410.8 L1022.5,1411.5 L1022.7,1412.3 L1022.9,1413.0 L1023.0,1413.8 L1023.1,1414.6 L1023.0,1415.3 L1022.9,1416.1 L1022.6,1416.8 L1022.4,1417.5 L1022.0,1418.3 L1021.5,1419.0 L1021.0,1419.6 L1020.4,1420.3 L1019.7,1421.0 L1019.0,1421.6 L1018.2,1422.2 L1017.3,1422.8 L1016.4,1423.4 L1015.4,1423.9 L1014.3,1424.4 L1013.2,1424.9 L1012.0,1425.3 L1010.8,1425.7 L1009.6,1426.1 L1008.7,1426.3 L1007.9,1426.6 L1007.1,1426.8 L1006.3,1427.0 L1005.5,1427.2 L1004.7,1427.5 L1003.8,1427.7 L1003.0,1427.9 L1002.2,1428.2 L1001.4,1428.4 L1000.6,1428.6 L999.7,1428.8 L998.9,1429.1 L998.1,1429.3 L997.3,1429.5 L996.5,1429.8 L995.7,1430.0 L994.8,1430.2 L994.0,1430.4 L993.2,1430.7 L992.4,1430.9 L991.6,1431.1 L990.7,1431.3 L989.9,1431.6 L989.1,1431.8 L988.3,1432.0 L987.5,1432.3 L986.7,1432.5 L985.8,1432.7 L985.0,1432.9 L984.2,1433.2 L983.4,1433.4 L982.6,1433.6 L981.7,1433.9 L980.9,1434.1 L980.1,1434.3 L979.3,1434.5 L978.5,1434.8 L977.7,1435.0 L976.8,1435.2 L976.0,1435.5 L975.2,1435.7 L974.4,1435.9 L973.6,1436.1 L972.7,1436.4 L971.9,1436.6 L971.1,1436.8 L970.3,1437.0 L969.5,1437.3 L968.7,1437.5 L967.8,1437.7 L967.0,1438.0 L966.2,1438.2 L965.4,1438.4 L964.6,1438.6 L963.7,1438.9 L962.9,1439.1 L962.1,1439.3 L961.3,1439.6 L960.5,1439.8 L959.7,1440.0 L958.8,1440.2 L958.0,1440.5 L957.2,1440.7 L956.4,1440.9 L955.6,1441.1 L954.7,1441.4 L953.9,1441.6 L953.1,1441.8 L952.3,1442.1 L951.5,1442.3 L950.7,1442.5 L949.8,1442.7 L949.0,1443.0 L948.2,1443.2 L947.4,1443.4 L946.6,1443.7 L945.7,1443.9 L944.9,1444.1 L944.1,1444.3 L943.3,1444.6 L942.5,1444.8 L941.7,1445.0 L940.8,1445.3 L940.0,1445.5 L939.2,1445.7 L938.4,1445.9 L937.6,1446.2 L936.8,1446.4 L935.9,1446.6 L935.1,1446.8 L934.3,1447.1 L933.5,1447.3 L932.7,1447.5 L931.8,1447.8 L931.0,1448.0 L930.2,1448.2 L929.4,1448.4 L928.6,1448.7 L927.8,1448.9 L926.9,1449.1 L926.1,1449.4 L925.3,1449.6 L924.5,1449.8 L923.7,1450.0 L922.8,1450.3 L922.0,1450.5 L921.2,1450.7 L920.4,1450.9 L919.6,1451.2 L918.8,1451.4 L917.9,1451.6 L917.1,1451.9 L916.3,1452.1 L915.5,1452.3 L914.7,1452.5 L913.8,1452.8 L913.0,1453.0 L912.2,1453.2 L911.4,1453.5 L910.6,1453.7 L909.8,1453.9 L908.9,1454.1 L908.1,1454.4 L907.3,1454.6 L906.5,1454.8 L905.7,1455.1 L904.8,1455.3 L904.0,1455.5 L903.2,1455.7 L902.4,1456.0 L901.6,1456.2 L900.8,1456.4 L899.9,1456.6 L899.1,1456.9 L898.3,1457.1 L897.5,1457.3 L896.7,1457.6 L895.8,1457.8 L895.0,1458.0 L894.2,1458.2 L893.4,1458.5 L892.6,1458.7 L891.8,1458.9 L890.9,1459.2 L890.1,1459.4 L889.3,1459.6 L888.5,1459.8 L887.7,1460.1 L886.8,1460.3 L886.0,1460.5 L885.2,1460.7 L884.4,1461.0 L883.6,1461.2 L882.8,1461.4 L881.9,1461.7 L881.1,1461.9 L880.3,1462.1 L879.5,1462.3 L878.7,1462.6 L877.8,1462.8 L877.0,1463.0 L876.2,1463.3 L875.4,1463.5 L874.6,1463.7 L873.8,1463.9 L872.9,1464.2 L872.1,1464.4 L871.3,1464.6 L870.5,1464.9 L869.7,1465.1 L868.8,1465.3 L868.0,1465.5 L867.2,1465.8 L866.4,1466.0 L865.6,1466.2 L864.8,1466.4 L863.9,1466.7 L863.1,1466.9 L862.3,1467.1 L861.5,1467.4 L860.7,1467.6 L859.9,1467.8 L859.0,1468.0 L858.2,1468.3 L857.4,1468.5 L856.6,1468.7 L855.8,1469.0 L854.9,1469.2 L854.1,1469.4 L853.3,1469.6 L852.5,1469.9 L851.7,1470.1 L850.9,1470.3 L850.0,1470.6 L849.2,1470.8 L848.4,1471.0 L847.6,1471.2 L846.8,1471.5 L845.9,1471.7 L845.1,1471.9 L844.3,1472.1 L843.5,1472.4 L842.7,1472.6 L841.9,1472.8 L841.0,1473.1 L840.2,1473.3 L839.4,1473.5 L838.6,1473.7 L837.8,1474.0 L836.9,1474.2 L836.1,1474.4 L835.3,1474.7 L834.5,1474.9 L833.7,1475.1 L832.9,1475.3 L832.0,1475.6 L831.2,1475.8 L830.4,1476.0 L829.6,1476.2 L828.8,1476.5 L827.9,1476.7 L827.1,1476.9 L826.3,1477.2 L825.5,1477.4 L824.7,1477.6 L823.9,1477.8 L823.0,1478.1 L822.2,1478.3 L821.4,1478.5 L820.6,1478.8 L819.8,1479.0 L818.9,1479.2 L818.1,1479.4 L817.3,1479.7 L816.5,1479.9 L815.7,1480.1 L814.9,1480.4 L814.0,1480.6 L813.2,1480.8 L812.4,1481.0 L811.6,1481.3 L810.8,1481.5 L809.9,1481.7 L809.1,1481.9 L808.3,1482.2 L807.5,1482.4 L806.7,1482.6 L805.9,1482.9 L805.0,1483.1 L804.2,1483.3 L803.4,1483.5 L802.6,1483.8 L801.8,1484.0 L800.9,1484.2 L800.1,1484.5 L799.3,1484.7 L798.5,1484.9 L797.7,1485.1 L796.9,1485.4 L796.0,1485.6 L795.2,1485.8 L794.4,1486.0 L793.6,1486.3 L792.8,1486.5 L791.9,1486.7 L791.1,1487.0 L790.3,1487.2 L789.5,1487.4 L788.7,1487.6 L787.9,1487.9 L787.0,1488.1 L786.2,1488.3 L785.4,1488.6 L784.6,1488.8 L783.8,1489.0 L782.9,1489.2 L782.1,1489.5 L781.3,1489.7 L780.5,1489.9 L779.7,1490.2 L778.9,1490.4 L778.0,1490.6 L777.2,1490.8 L776.4,1491.1 L775.6,1491.3 L774.8,1491.5 L774.0,1491.7 L773.1,1492.0 L772.3,1492.2 L771.5,1492.4 L770.7,1492.7 L769.9,1492.9 L769.0,1493.1 L768.2,1493.3 L767.4,1493.6 L766.6,1493.8 L765.8,1494.0 L765.0,1494.3 L764.1,1494.5 L763.3,1494.7 L762.5,1494.9 L761.7,1495.2 L760.9,1495.4 L760.0,1495.6 L759.2,1495.8 L758.4,1496.1 L757.6,1496.3 L756.8,1496.5 L756.0,1496.8 L755.1,1497.0 L754.3,1497.2 L753.5,1497.4 L752.7,1497.7 L751.9,1497.9 L751.0,1498.1 L750.2,1498.4 L749.4,1498.6 L748.6,1498.8 L747.8,1499.0 L747.0,1499.3 L746.1,1499.5 L745.3,1499.7 L744.5,1500.0 L743.7,1500.2 L742.9,1500.4 L742.0,1500.6 L741.2,1500.9 L740.4,1501.1 L739.6,1501.3 L738.8,1501.5 L738.0,1501.8 L737.1,1502.0 L736.3,1502.2 L735.5,1502.5 L734.7,1502.7 L733.9,1502.9 L733.0,1503.1 L732.2,1503.4 L731.4,1503.6 L730.6,1503.8 L729.8,1504.1 L729.0,1504.3 L728.1,1504.5 L727.3,1504.7 L726.5,1505.0 L725.7,1505.2 L724.9,1505.4 L724.0,1505.7 L723.2,1505.9 L722.4,1506.1 L721.6,1506.3 L720.8,1506.6 L720.0,1506.8 L719.1,1507.0 L718.3,1507.2 L717.5,1507.5 L716.7,1507.7 L715.9,1507.9 L715.0,1508.2 L714.2,1508.4 L713.4,1508.6 L712.6,1508.8 L711.8,1509.1 L711.0,1509.3 L710.1,1509.5 L708.8,1509.9 L707.5,1510.2 L706.1,1510.4 L704.7,1510.7 L703.3,1510.9 L701.8,1511.0 L700.3,1511.1 L698.8,1511.2 L697.3,1511.2 L695.8,1511.2 L694.3,1511.2 L692.7,1511.1 L691.2,1511.0 L689.7,1510.8 L688.2,1510.6 L686.8,1510.4 L685.3,1510.1 L683.9,1509.8 L682.5,1509.4 L681.1,1509.1 L679.8,1508.6 L678.5,1508.2 L677.2,1507.7 L676.0,1507.2 L674.9,1506.7 L673.8,1506.1 L672.8,1505.5 L671.8,1504.9 L670.9,1504.3 L670.0,1503.6 L669.5,1503.2 L669.0,1502.7 L668.5,1502.3 L667.9,1501.9 L667.4,1501.4 L666.9,1501.0 L666.4,1500.6 L665.8,1500.2 L665.3,1499.7 L664.8,1499.3 L664.3,1498.9 L663.7,1498.4 L663.2,1498.0 L662.7,1497.6 L662.2,1497.2 L661.7,1496.7 L661.1,1496.3 L660.6,1495.9 L660.1,1495.4 L659.6,1495.0 L659.0,1494.6 L658.5,1494.2 L658.0,1493.7 L657.5,1493.3 L656.9,1492.9 L656.4,1492.4 L655.9,1492.0 L655.4,1491.6 L654.9,1491.1 L654.3,1490.7 L653.8,1490.3 L653.3,1489.9 L652.8,1489.4 L652.2,1489.0 L651.7,1488.6 L651.2,1488.1 L650.7,1487.7 L650.1,1487.3 L649.6,1486.9 L649.1,1486.4 L648.6,1486.0 L648.0,1485.6 L647.5,1485.1 L647.0,1484.7 L646.5,1484.3 L646.0,1483.9 L645.4,1483.4 L644.9,1483.0 L644.4,1482.6 L643.9,1482.1 L643.3,1481.7 L642.8,1481.3 L642.3,1480.8 L641.8,1480.4 L641.2,1480.0 L640.7,1479.6 L640.2,1479.1 L639.7,1478.7 L639.1,1478.3 L638.6,1477.8 L638.1,1477.4 L637.6,1477.0 L637.1,1476.6 L636.5,1476.1 L636.0,1475.7 L635.5,1475.3 L635.0,1474.8 L634.4,1474.4 L633.9,1474.0 L633.4,1473.6 L632.9,1473.1 L632.3,1472.7 L631.8,1472.3 L631.3,1471.8 L630.8,1471.4 L630.3,1471.0 L629.7,1470.5 L629.2,1470.1 L628.7,1469.7 L628.2,1469.3 L627.6,1468.8 L627.1,1468.4 L626.6,1468.0 L626.1,1467.5 L625.5,1467.1 L625.0,1466.7 L624.5,1466.3Z" fill="#fff" stroke="#000" stroke-width="2.7" stroke-linejoin="round" stroke-linecap="round" />
<clipPath id="c5"><path d="M624.0,1465.8 L623.2,1465.1 L622.5,1464.5 L621.8,1463.7 L621.3,1463.0 L620.8,1462.3 L620.4,1461.5 L620.0,1460.8 L619.8,1460.0 L619.6,1459.3 L619.5,1458.5 L619.4,1457.8 L619.5,1457.0 L619.6,1456.3 L619.9,1455.5 L620.1,1454.8 L620.5,1454.1 L621.0,1453.4 L621.5,1452.7 L622.1,1452.0 L622.8,1451.3 L623.5,1450.7 L624.3,1450.1 L625.2,1449.5 L626.1,1449.0 L627.1,1448.4 L628.2,1447.9 L629.3,1447.4 L630.5,1447.0 L631.7,1446.6 L632.9,1446.2 L633.8,1446.0 L634.6,1445.8 L635.4,1445.5 L636.2,1445.3 L637.0,1445.1 L637.8,1444.9 L638.7,1444.6 L639.5,1444.4 L640.3,1444.2 L641.1,1443.9 L641.9,1443.7 L642.8,1443.5 L643.6,1443.3 L644.4,1443.0 L645.2,1442.8 L646.0,1442.6 L646.8,1442.3 L647.7,1442.1 L648.5,1441.9 L649.3,1441.7 L650.1,1441.4 L650.9,1441.2 L651.8,1441.0 L652.6,1440.8 L653.4,1440.5 L654.2,1440.3 L655.0,1440.1 L655.8,1439.8 L656.7,1439.6 L657.5,1439.4 L658.3,1439.2 L659.1,1438.9 L659.9,1438.7 L660.8,1438.5 L661.6,1438.2 L662.4,1438.0 L663.2,1437.8 L664.0,1437.6 L664.8,1437.3 L665.7,1437.1 L666.5,1436.9 L667.3,1436.6 L668.1,1436.4 L668.9,1436.2 L669.8,1436.0 L670.6,1435.7 L671.4,1435.5 L672.2,1435.3 L673.0,1435.1 L673.8,1434.8 L674.7,1434.6 L675.5,1434.4 L676.3,1434.1 L677.1,1433.9 L677.9,1433.7 L678.8,1433.5 L679.6,1433.2 L680.4,1433.0 L681.2,1432.8 L682.0,1432.5 L682.8,1432.3 L683.7,1432.1 L684.5,1431.9 L685.3,1431.6 L686.1,1431.4 L686.9,1431.2 L687.8,1431.0 L688.6,1430.7 L689.4,1430.5 L690.2,1430.3 L691.0,1430.0 L691.8,1429.8 L692.7,1429.6 L693.5,1429.4 L694.3,1429.1 L695.1,1428.9 L695.9,1428.7 L696.8,1428.4 L697.6,1428.2 L698.4,1428.0 L699.2,1427.8 L700.0,1427.5 L700.8,1427.3 L701.7,1427.1 L702.5,1426.8 L703.3,1426.6 L704.1,1426.4 L704.9,1426.2 L705.7,1425.9 L706.6,1425.7 L707.4,1425.5 L708.2,1425.3 L709.0,1425.0 L709.8,1424.8 L710.7,1424.6 L711.5,1424.3 L712.3,1424.1 L713.1,1423.9 L713.9,1423.7 L714.7,1423.4 L715.6,1423.2 L716.4,1423.0 L717.2,1422.7 L718.0,1422.5 L718.8,1422.3 L719.7,1422.1 L720.5,1421.8 L721.3,1421.6 L722.1,1421.4 L722.9,1421.1 L723.7,1420.9 L724.6,1420.7 L725.4,1420.5 L726.2,1420.2 L727.0,1420.0 L727.8,1419.8 L728.7,1419.6 L729.5,1419.3 L730.3,1419.1 L731.1,1418.9 L731.9,1418.6 L732.7,1418.4 L733.6,1418.2 L734.4,1418.0 L735.2,1417.7 L736.0,1417.5 L736.8,1417.3 L737.7,1417.0 L738.5,1416.8 L739.3,1416.6 L740.1,1416.4 L740.9,1416.1 L741.7,1415.9 L742.6,1415.7 L743.4,1415.5 L744.2,1415.2 L745.0,1415.0 L745.8,1414.8 L746.7,1414.5 L747.5,1414.3 L748.3,1414.1 L749.1,1413.9 L749.9,1413.6 L750.7,1413.4 L751.6,1413.2 L752.4,1412.9 L753.2,1412.7 L754.0,1412.5 L754.8,1412.3 L755.7,1412.0 L756.5,1411.8 L757.3,1411.6 L758.1,1411.3 L758.9,1411.1 L759.7,1410.9 L760.6,1410.7 L761.4,1410.4 L762.2,1410.2 L763.0,1410.0 L763.8,1409.8 L764.7,1409.5 L765.5,1409.3 L766.3,1409.1 L767.1,1408.8 L767.9,1408.6 L768.7,1408.4 L769.6,1408.2 L770.4,1407.9 L771.2,1407.7 L772.0,1407.5 L772.8,1407.2 L773.7,1407.0 L774.5,1406.8 L775.3,1406.6 L776.1,1406.3 L776.9,1406.1 L777.7,1405.9 L778.6,1405.7 L779.4,1405.4 L780.2,1405.2 L781.0,1405.0 L781.8,1404.7 L782.7,1404.5 L783.5,1404.3 L784.3,1404.1 L785.1,1403.8 L785.9,1403.6 L786.7,1403.4 L787.6,1403.1 L788.4,1402.9 L789.2,1402.7 L790.0,1402.5 L790.8,1402.2 L791.6,1402.0 L792.5,1401.8 L793.3,1401.5 L794.1,1401.3 L794.9,1401.1 L795.7,1400.9 L796.6,1400.6 L797.4,1400.4 L798.2,1400.2 L799.0,1400.0 L799.8,1399.7 L800.6,1399.5 L801.5,1399.3 L802.3,1399.0 L803.1,1398.8 L803.9,1398.6 L804.7,1398.4 L805.6,1398.1 L806.4,1397.9 L807.2,1397.7 L808.0,1397.4 L808.8,1397.2 L809.6,1397.0 L810.5,1396.8 L811.3,1396.5 L812.1,1396.3 L812.9,1396.1 L813.7,1395.9 L814.6,1395.6 L815.4,1395.4 L816.2,1395.2 L817.0,1394.9 L817.8,1394.7 L818.6,1394.5 L819.5,1394.3 L820.3,1394.0 L821.1,1393.8 L821.9,1393.6 L822.7,1393.3 L823.6,1393.1 L824.4,1392.9 L825.2,1392.7 L826.0,1392.4 L826.8,1392.2 L827.6,1392.0 L828.5,1391.7 L829.3,1391.5 L830.1,1391.3 L830.9,1391.1 L831.7,1390.8 L832.6,1390.6 L833.4,1390.4 L834.2,1390.2 L835.0,1389.9 L835.8,1389.7 L836.6,1389.5 L837.5,1389.2 L838.3,1389.0 L839.1,1388.8 L839.9,1388.6 L840.7,1388.3 L841.6,1388.1 L842.4,1387.9 L843.2,1387.6 L844.0,1387.4 L844.8,1387.2 L845.6,1387.0 L846.5,1386.7 L847.3,1386.5 L848.1,1386.3 L848.9,1386.0 L849.7,1385.8 L850.6,1385.6 L851.4,1385.4 L852.2,1385.1 L853.0,1384.9 L853.8,1384.7 L854.6,1384.5 L855.5,1384.2 L856.3,1384.0 L857.1,1383.8 L857.9,1383.5 L858.7,1383.3 L859.6,1383.1 L860.4,1382.9 L861.2,1382.6 L862.0,1382.4 L862.8,1382.2 L863.6,1381.9 L864.5,1381.7 L865.3,1381.5 L866.1,1381.3 L866.9,1381.0 L867.7,1380.8 L868.5,1380.6 L869.4,1380.4 L870.2,1380.1 L871.0,1379.9 L871.8,1379.7 L872.6,1379.4 L873.5,1379.2 L874.3,1379.0 L875.1,1378.8 L875.9,1378.5 L876.7,1378.3 L877.5,1378.1 L878.4,1377.8 L879.2,1377.6 L880.0,1377.4 L880.8,1377.2 L881.6,1376.9 L882.5,1376.7 L883.3,1376.5 L884.1,1376.2 L884.9,1376.0 L885.7,1375.8 L886.5,1375.6 L887.4,1375.3 L888.2,1375.1 L889.0,1374.9 L889.8,1374.7 L890.6,1374.4 L891.5,1374.2 L892.3,1374.0 L893.1,1373.7 L893.9,1373.5 L894.7,1373.3 L895.5,1373.1 L896.4,1372.8 L897.2,1372.6 L898.0,1372.4 L898.8,1372.1 L899.6,1371.9 L900.5,1371.7 L901.3,1371.5 L902.1,1371.2 L902.9,1371.0 L903.7,1370.8 L904.5,1370.6 L905.4,1370.3 L906.2,1370.1 L907.0,1369.9 L907.8,1369.6 L908.6,1369.4 L909.5,1369.2 L910.3,1369.0 L911.1,1368.7 L911.9,1368.5 L912.7,1368.3 L913.5,1368.0 L914.4,1367.8 L915.2,1367.6 L916.0,1367.4 L916.8,1367.1 L917.6,1366.9 L918.5,1366.7 L919.3,1366.4 L920.1,1366.2 L920.9,1366.0 L921.7,1365.8 L922.5,1365.5 L923.4,1365.3 L924.2,1365.1 L925.0,1364.9 L925.8,1364.6 L926.6,1364.4 L927.5,1364.2 L928.3,1363.9 L929.1,1363.7 L929.9,1363.5 L930.7,1363.3 L931.5,1363.0 L932.4,1362.8 L933.7,1362.5 L935.0,1362.2 L936.4,1361.9 L937.8,1361.7 L939.2,1361.5 L940.7,1361.3 L942.2,1361.2 L943.7,1361.1 L945.2,1361.1 L946.7,1361.1 L948.2,1361.1 L949.8,1361.2 L951.3,1361.3 L952.8,1361.5 L954.3,1361.7 L955.7,1361.9 L957.2,1362.2 L958.6,1362.5 L960.0,1362.9 L961.4,1363.3 L962.7,1363.7 L964.0,1364.1 L965.3,1364.6 L966.5,1365.1 L967.6,1365.7 L968.7,1366.2 L969.7,1366.8 L970.7,1367.4 L971.6,1368.1 L972.5,1368.7 L973.0,1369.2 L973.5,1369.6 L974.0,1370.0 L974.6,1370.4 L975.1,1370.9 L975.6,1371.3 L976.1,1371.7 L976.7,1372.2 L977.2,1372.6 L977.7,1373.0 L978.2,1373.5 L978.8,1373.9 L979.3,1374.3 L979.8,1374.7 L980.3,1375.2 L980.8,1375.6 L981.4,1376.0 L981.9,1376.5 L982.4,1376.9 L982.9,1377.3 L983.5,1377.7 L984.0,1378.2 L984.5,1378.6 L985.0,1379.0 L985.6,1379.5 L986.1,1379.9 L986.6,1380.3 L987.1,1380.8 L987.6,1381.2 L988.2,1381.6 L988.7,1382.0 L989.2,1382.5 L989.7,1382.9 L990.3,1383.3 L990.8,1383.8 L991.3,1384.2 L991.8,1384.6 L992.4,1385.0 L992.9,1385.5 L993.4,1385.9 L993.9,1386.3 L994.5,1386.8 L995.0,1387.2 L995.5,1387.6 L996.0,1388.0 L996.5,1388.5 L997.1,1388.9 L997.6,1389.3 L998.1,1389.8 L998.6,1390.2 L999.2,1390.6 L999.7,1391.1 L1000.2,1391.5 L1000.7,1391.9 L1001.3,1392.3 L1001.8,1392.8 L1002.3,1393.2 L1002.8,1393.6 L1003.4,1394.1 L1003.9,1394.5 L1004.4,1394.9 L1004.9,1395.3 L1005.4,1395.8 L1006.0,1396.2 L1006.5,1396.6 L1007.0,1397.1 L1007.5,1397.5 L1008.1,1397.9 L1008.6,1398.3 L1009.1,1398.8 L1009.6,1399.2 L1010.2,1399.6 L1010.7,1400.1 L1011.2,1400.5 L1011.7,1400.9 L1012.2,1401.4 L1012.8,1401.8 L1013.3,1402.2 L1013.8,1402.6 L1014.3,1403.1 L1014.9,1403.5 L1015.4,1403.9 L1015.9,1404.4 L1016.4,1404.8 L1017.0,1405.2 L1017.5,1405.6 L1018.0,1406.1 L1018.5,1406.5 L1019.3,1407.2 L1020.0,1407.9 L1020.7,1408.6 L1021.2,1409.3 L1021.7,1410.0 L1022.1,1410.8 L1022.5,1411.5 L1022.7,1412.3 L1022.9,1413.0 L1023.0,1413.8 L1023.1,1414.6 L1023.0,1415.3 L1022.9,1416.1 L1022.6,1416.8 L1022.4,1417.5 L1022.0,1418.3 L1021.5,1419.0 L1021.0,1419.6 L1020.4,1420.3 L1019.7,1421.0 L1019.0,1421.6 L1018.2,1422.2 L1017.3,1422.8 L1016.4,1423.4 L1015.4,1423.9 L1014.3,1424.4 L1013.2,1424.9 L1012.0,1425.3 L1010.8,1425.7 L1009.6,1426.1 L1008.7,1426.3 L1007.9,1426.6 L1007.1,1426.8 L1006.3,1427.0 L1005.5,1427.2 L1004.7,1427.5 L1003.8,1427.7 L1003.0,1427.9 L1002.2,1428.2 L1001.4,1428.4 L1000.6,1428.6 L999.7,1428.8 L998.9,1429.1 L998.1,1429.3 L997.3,1429.5 L996.5,1429.8 L995.7,1430.0 L994.8,1430.2 L994.0,1430.4 L993.2,1430.7 L992.4,1430.9 L991.6,1431.1 L990.7,1431.3 L989.9,1431.6 L989.1,1431.8 L988.3,1432.0 L987.5,1432.3 L986.7,1432.5 L985.8,1432.7 L985.0,1432.9 L984.2,1433.2 L983.4,1433.4 L982.6,1433.6 L981.7,1433.9 L980.9,1434.1 L980.1,1434.3 L979.3,1434.5 L978.5,1434.8 L977.7,1435.0 L976.8,1435.2 L976.0,1435.5 L975.2,1435.7 L974.4,1435.9 L973.6,1436.1 L972.7,1436.4 L971.9,1436.6 L971.1,1436.8 L970.3,1437.0 L969.5,1437.3 L968.7,1437.5 L967.8,1437.7 L967.0,1438.0 L966.2,1438.2 L965.4,1438.4 L964.6,1438.6 L963.7,1438.9 L962.9,1439.1 L962.1,1439.3 L961.3,1439.6 L960.5,1439.8 L959.7,1440.0 L958.8,1440.2 L958.0,1440.5 L957.2,1440.7 L956.4,1440.9 L955.6,1441.1 L954.7,1441.4 L953.9,1441.6 L953.1,1441.8 L952.3,1442.1 L951.5,1442.3 L950.7,1442.5 L949.8,1442.7 L949.0,1443.0 L948.2,1443.2 L947.4,1443.4 L946.6,1443.7 L945.7,1443.9 L944.9,1444.1 L944.1,1444.3 L943.3,1444.6 L942.5,1444.8 L941.7,1445.0 L940.8,1445.3 L940.0,1445.5 L939.2,1445.7 L938.4,1445.9 L937.6,1446.2 L936.8,1446.4 L935.9,1446.6 L935.1,1446.8 L934.3,1447.1 L933.5,1447.3 L932.7,1447.5 L931.8,1447.8 L931.0,1448.0 L930.2,1448.2 L929.4,1448.4 L928.6,1448.7 L927.8,1448.9 L926.9,1449.1 L926.1,1449.4 L925.3,1449.6 L924.5,1449.8 L923.7,1450.0 L922.8,1450.3 L922.0,1450.5 L921.2,1450.7 L920.4,1450.9 L919.6,1451.2 L918.8,1451.4 L917.9,1451.6 L917.1,1451.9 L916.3,1452.1 L915.5,1452.3 L914.7,1452.5 L913.8,1452.8 L913.0,1453.0 L912.2,1453.2 L911.4,1453.5 L910.6,1453.7 L909.8,1453.9 L908.9,1454.1 L908.1,1454.4 L907.3,1454.6 L906.5,1454.8 L905.7,1455.1 L904.8,1455.3 L904.0,1455.5 L903.2,1455.7 L902.4,1456.0 L901.6,1456.2 L900.8,1456.4 L899.9,1456.6 L899.1,1456.9 L898.3,1457.1 L897.5,1457.3 L896.7,1457.6 L895.8,1457.8 L895.0,1458.0 L894.2,1458.2 L893.4,1458.5 L892.6,1458.7 L891.8,1458.9 L890.9,1459.2 L890.1,1459.4 L889.3,1459.6 L888.5,1459.8 L887.7,1460.1 L886.8,1460.3 L886.0,1460.5 L885.2,1460.7 L884.4,1461.0 L883.6,1461.2 L882.8,1461.4 L881.9,1461.7 L881.1,1461.9 L880.3,1462.1 L879.5,1462.3 L878.7,1462.6 L877.8,1462.8 L877.0,1463.0 L876.2,1463.3 L875.4,1463.5 L874.6,1463.7 L873.8,1463.9 L872.9,1464.2 L872.1,1464.4 L871.3,1464.6 L870.5,1464.9 L869.7,1465.1 L868.8,1465.3 L868.0,1465.5 L867.2,1465.8 L866.4,1466.0 L865.6,1466.2 L864.8,1466.4 L863.9,1466.7 L863.1,1466.9 L862.3,1467.1 L861.5,1467.4 L860.7,1467.6 L859.9,1467.8 L859.0,1468.0 L858.2,1468.3 L857.4,1468.5 L856.6,1468.7 L855.8,1469.0 L854.9,1469.2 L854.1,1469.4 L853.3,1469.6 L852.5,1469.9 L851.7,1470.1 L850.9,1470.3 L850.0,1470.6 L849.2,1470.8 L848.4,1471.0 L847.6,1471.2 L846.8,1471.5 L845.9,1471.7 L845.1,1471.9 L844.3,1472.1 L843.5,1472.4 L842.7,1472.6 L841.9,1472.8 L841.0,1473.1 L840.2,1473.3 L839.4,1473.5 L838.6,1473.7 L837.8,1474.0 L836.9,1474.2 L836.1,1474.4 L835.3,1474.7 L834.5,1474.9 L833.7,1475.1 L832.9,1475.3 L832.0,1475.6 L831.2,1475.8 L830.4,1476.0 L829.6,1476.2 L828.8,1476.5 L827.9,1476.7 L827.1,1476.9 L826.3,1477.2 L825.5,1477.4 L824.7,1477.6 L823.9,1477.8 L823.0,1478.1 L822.2,1478.3 L821.4,1478.5 L820.6,1478.8 L819.8,1479.0 L818.9,1479.2 L818.1,1479.4 L817.3,1479.7 L816.5,1479.9 L815.7,1480.1 L814.9,1480.4 L814.0,1480.6 L813.2,1480.8 L812.4,1481.0 L811.6,1481.3 L810.8,1481.5 L809.9,1481.7 L809.1,1481.9 L808.3,1482.2 L807.5,1482.4 L806.7,1482.6 L805.9,1482.9 L805.0,1483.1 L804.2,1483.3 L803.4,1483.5 L802.6,1483.8 L801.8,1484.0 L800.9,1484.2 L800.1,1484.5 L799.3,1484.7 L798.5,1484.9 L797.7,1485.1 L796.9,1485.4 L796.0,1485.6 L795.2,1485.8 L794.4,1486.0 L793.6,1486.3 L792.8,1486.5 L791.9,1486.7 L791.1,1487.0 L790.3,1487.2 L789.5,1487.4 L788.7,1487.6 L787.9,1487.9 L787.0,1488.1 L786.2,1488.3 L785.4,1488.6 L784.6,1488.8 L783.8,1489.0 L782.9,1489.2 L782.1,1489.5 L781.3,1489.7 L780.5,1489.9 L779.7,1490.2 L778.9,1490.4 L778.0,1490.6 L777.2,1490.8 L776.4,1491.1 L775.6,1491.3 L774.8,1491.5 L774.0,1491.7 L773.1,1492.0 L772.3,1492.2 L771.5,1492.4 L770.7,1492.7 L769.9,1492.9 L769.0,1493.1 L768.2,1493.3 L767.4,1493.6 L766.6,1493.8 L765.8,1494.0 L765.0,1494.3 L764.1,1494.5 L763.3,1494.7 L762.5,1494.9 L761.7,1495.2 L760.9,1495.4 L760.0,1495.6 L759.2,1495.8 L758.4,1496.1 L757.6,1496.3 L756.8,1496.5 L756.0,1496.8 L755.1,1497.0 L754.3,1497.2 L753.5,1497.4 L752.7,1497.7 L751.9,1497.9 L751.0,1498.1 L750.2,1498.4 L749.4,1498.6 L748.6,1498.8 L747.8,1499.0 L747.0,1499.3 L746.1,1499.5 L745.3,1499.7 L744.5,1500.0 L743.7,1500.2 L742.9,1500.4 L742.0,1500.6 L741.2,1500.9 L740.4,1501.1 L739.6,1501.3 L738.8,1501.5 L738.0,1501.8 L737.1,1502.0 L736.3,1502.2 L735.5,1502.5 L734.7,1502.7 L733.9,1502.9 L733.0,1503.1 L732.2,1503.4 L731.4,1503.6 L730.6,1503.8 L729.8,1504.1 L729.0,1504.3 L728.1,1504.5 L727.3,1504.7 L726.5,1505.0 L725.7,1505.2 L724.9,1505.4 L724.0,1505.7 L723.2,1505.9 L722.4,1506.1 L721.6,1506.3 L720.8,1506.6 L720.0,1506.8 L719.1,1507.0 L718.3,1507.2 L717.5,1507.5 L716.7,1507.7 L715.9,1507.9 L715.0,1508.2 L714.2,1508.4 L713.4,1508.6 L712.6,1508.8 L711.8,1509.1 L711.0,1509.3 L710.1,1509.5 L708.8,1509.9 L707.5,1510.2 L706.1,1510.4 L704.7,1510.7 L703.3,1510.9 L701.8,1511.0 L700.3,1511.1 L698.8,1511.2 L697.3,1511.2 L695.8,1511.2 L694.3,1511.2 L692.7,1511.1 L691.2,1511.0 L689.7,1510.8 L688.2,1510.6 L686.8,1510.4 L685.3,1510.1 L683.9,1509.8 L682.5,1509.4 L681.1,1509.1 L679.8,1508.6 L678.5,1508.2 L677.2,1507.7 L676.0,1507.2 L674.9,1506.7 L673.8,1506.1 L672.8,1505.5 L671.8,1504.9 L670.9,1504.3 L670.0,1503.6 L669.5,1503.2 L669.0,1502.7 L668.5,1502.3 L667.9,1501.9 L667.4,1501.4 L666.9,1501.0 L666.4,1500.6 L665.8,1500.2 L665.3,1499.7 L664.8,1499.3 L664.3,1498.9 L663.7,1498.4 L663.2,1498.0 L662.7,1497.6 L662.2,1497.2 L661.7,1496.7 L661.1,1496.3 L660.6,1495.9 L660.1,1495.4 L659.6,1495.0 L659.0,1494.6 L658.5,1494.2 L658.0,1493.7 L657.5,1493.3 L656.9,1492.9 L656.4,1492.4 L655.9,1492.0 L655.4,1491.6 L654.9,1491.1 L654.3,1490.7 L653.8,1490.3 L653.3,1489.9 L652.8,1489.4 L652.2,1489.0 L651.7,1488.6 L651.2,1488.1 L650.7,1487.7 L650.1,1487.3 L649.6,1486.9 L649.1,1486.4 L648.6,1486.0 L648.0,1485.6 L647.5,1485.1 L647.0,1484.7 L646.5,1484.3 L646.0,1483.9 L645.4,1483.4 L644.9,1483.0 L644.4,1482.6 L643.9,1482.1 L643.3,1481.7 L642.8,1481.3 L642.3,1480.8 L641.8,1480.4 L641.2,1480.0 L640.7,1479.6 L640.2,1479.1 L639.7,1478.7 L639.1,1478.3 L638.6,1477.8 L638.1,1477.4 L637.6,1477.0 L637.1,1476.6 L636.5,1476.1 L636.0,1475.7 L635.5,1475.3 L635.0,1474.8 L634.4,1474.4 L633.9,1474.0 L633.4,1473.6 L632.9,1473.1 L632.3,1472.7 L631.8,1472.3 L631.3,1471.8 L630.8,1471.4 L630.3,1471.0 L629.7,1470.5 L629.2,1470.1 L628.7,1469.7 L628.2,1469.3 L627.6,1468.8 L627.1,1468.4 L626.6,1468.0 L626.1,1467.5 L625.5,1467.1 L625.0,1466.7 L624.5,1466.3Z"/></clipPath>
<g clip-path="url(#c5)">
<path d="M624.0,1521.7 L623.2,1521.0 L622.5,1520.4 L621.8,1519.6 L621.3,1518.9 L620.8,1518.2 L620.4,1517.4 L620.0,1516.7 L619.8,1515.9 L619.6,1515.2 L619.5,1514.4 L619.4,1513.7 L619.5,1512.9 L619.6,1512.2 L619.9,1511.4 L620.1,1510.7 L620.5,1510.0 L621.0,1509.3 L621.5,1508.6 L622.1,1507.9 L622.8,1507.2 L623.5,1506.6 L624.3,1506.0 L625.2,1505.4 L626.1,1504.9 L627.1,1504.3 L628.2,1503.8 L629.3,1503.3 L630.5,1502.9 L631.7,1502.5 L632.9,1502.1 L633.8,1501.9 L634.6,1501.7 L635.4,1501.4 L636.2,1501.2 L637.0,1501.0 L637.8,1500.8 L638.7,1500.5 L639.5,1500.3 L640.3,1500.1 L641.1,1499.8 L641.9,1499.6 L642.8,1499.4 L643.6,1499.2 L644.4,1498.9 L645.2,1498.7 L646.0,1498.5 L646.8,1498.2 L647.7,1498.0 L648.5,1497.8 L649.3,1497.6 L650.1,1497.3 L650.9,1497.1 L651.8,1496.9 L652.6,1496.7 L653.4,1496.4 L654.2,1496.2 L655.0,1496.0 L655.8,1495.7 L656.7,1495.5 L657.5,1495.3 L658.3,1495.1 L659.1,1494.8 L659.9,1494.6 L660.8,1494.4 L661.6,1494.1 L662.4,1493.9 L663.2,1493.7 L664.0,1493.5 L664.8,1493.2 L665.7,1493.0 L666.5,1492.8 L667.3,1492.5 L668.1,1492.3 L668.9,1492.1 L669.8,1491.9 L670.6,1491.6 L671.4,1491.4 L672.2,1491.2 L673.0,1491.0 L673.8,1490.7 L674.7,1490.5 L675.5,1490.3 L676.3,1490.0 L677.1,1489.8 L677.9,1489.6 L678.8,1489.4 L679.6,1489.1 L680.4,1488.9 L681.2,1488.7 L682.0,1488.4 L682.8,1488.2 L683.7,1488.0 L684.5,1487.8 L685.3,1487.5 L686.1,1487.3 L686.9,1487.1 L687.8,1486.9 L688.6,1486.6 L689.4,1486.4 L690.2,1486.2 L691.0,1485.9 L691.8,1485.7 L692.7,1485.5 L693.5,1485.3 L694.3,1485.0 L695.1,1484.8 L695.9,1484.6 L696.8,1484.3 L697.6,1484.1 L698.4,1483.9 L699.2,1483.7 L700.0,1483.4 L700.8,1483.2 L701.7,1483.0 L702.5,1482.7 L703.3,1482.5 L704.1,1482.3 L704.9,1482.1 L705.7,1481.8 L706.6,1481.6 L707.4,1481.4 L708.2,1481.2 L709.0,1480.9 L709.8,1480.7 L710.7,1480.5 L711.5,1480.2 L712.3,1480.0 L713.1,1479.8 L713.9,1479.6 L714.7,1479.3 L715.6,1479.1 L716.4,1478.9 L717.2,1478.6 L718.0,1478.4 L718.8,1478.2 L719.7,1478.0 L720.5,1477.7 L721.3,1477.5 L722.1,1477.3 L722.9,1477.0 L723.7,1476.8 L724.6,1476.6 L725.4,1476.4 L726.2,1476.1 L727.0,1475.9 L727.8,1475.7 L728.7,1475.5 L729.5,1475.2 L730.3,1475.0 L731.1,1474.8 L731.9,1474.5 L732.7,1474.3 L733.6,1474.1 L734.4,1473.9 L735.2,1473.6 L736.0,1473.4 L736.8,1473.2 L737.7,1472.9 L738.5,1472.7 L739.3,1472.5 L740.1,1472.3 L740.9,1472.0 L741.7,1471.8 L742.6,1471.6 L743.4,1471.4 L744.2,1471.1 L745.0,1470.9 L745.8,1470.7 L746.7,1470.4 L747.5,1470.2 L748.3,1470.0 L749.1,1469.8 L749.9,1469.5 L750.7,1469.3 L751.6,1469.1 L752.4,1468.8 L753.2,1468.6 L754.0,1468.4 L754.8,1468.2 L755.7,1467.9 L756.5,1467.7 L757.3,1467.5 L758.1,1467.2 L758.9,1467.0 L759.7,1466.8 L760.6,1466.6 L761.4,1466.3 L762.2,1466.1 L763.0,1465.9 L763.8,1465.7 L764.7,1465.4 L765.5,1465.2 L766.3,1465.0 L767.1,1464.7 L767.9,1464.5 L768.7,1464.3 L769.6,1464.1 L770.4,1463.8 L771.2,1463.6 L772.0,1463.4 L772.8,1463.1 L773.7,1462.9 L774.5,1462.7 L775.3,1462.5 L776.1,1462.2 L776.9,1462.0 L777.7,1461.8 L778.6,1461.6 L779.4,1461.3 L780.2,1461.1 L781.0,1460.9 L781.8,1460.6 L782.7,1460.4 L783.5,1460.2 L784.3,1460.0 L785.1,1459.7 L785.9,1459.5 L786.7,1459.3 L787.6,1459.0 L788.4,1458.8 L789.2,1458.6 L790.0,1458.4 L790.8,1458.1 L791.6,1457.9 L792.5,1457.7 L793.3,1457.4 L794.1,1457.2 L794.9,1457.0 L795.7,1456.8 L796.6,1456.5 L797.4,1456.3 L798.2,1456.1 L799.0,1455.9 L799.8,1455.6 L800.6,1455.4 L801.5,1455.2 L802.3,1454.9 L803.1,1454.7 L803.9,1454.5 L804.7,1454.3 L805.6,1454.0 L806.4,1453.8 L807.2,1453.6 L808.0,1453.3 L808.8,1453.1 L809.6,1452.9 L810.5,1452.7 L811.3,1452.4 L812.1,1452.2 L812.9,1452.0 L813.7,1451.8 L814.6,1451.5 L815.4,1451.3 L816.2,1451.1 L817.0,1450.8 L817.8,1450.6 L818.6,1450.4 L819.5,1450.2 L820.3,1449.9 L821.1,1449.7 L821.9,1449.5 L822.7,1449.2 L823.6,1449.0 L824.4,1448.8 L825.2,1448.6 L826.0,1448.3 L826.8,1448.1 L827.6,1447.9 L828.5,1447.6 L829.3,1447.4 L830.1,1447.2 L830.9,1447.0 L831.7,1446.7 L832.6,1446.5 L833.4,1446.3 L834.2,1446.1 L835.0,1445.8 L835.8,1445.6 L836.6,1445.4 L837.5,1445.1 L838.3,1444.9 L839.1,1444.7 L839.9,1444.5 L840.7,1444.2 L841.6,1444.0 L842.4,1443.8 L843.2,1443.5 L844.0,1443.3 L844.8,1443.1 L845.6,1442.9 L846.5,1442.6 L847.3,1442.4 L848.1,1442.2 L848.9,1441.9 L849.7,1441.7 L850.6,1441.5 L851.4,1441.3 L852.2,1441.0 L853.0,1440.8 L853.8,1440.6 L854.6,1440.4 L855.5,1440.1 L856.3,1439.9 L857.1,1439.7 L857.9,1439.4 L858.7,1439.2 L859.6,1439.0 L860.4,1438.8 L861.2,1438.5 L862.0,1438.3 L862.8,1438.1 L863.6,1437.8 L864.5,1437.6 L865.3,1437.4 L866.1,1437.2 L866.9,1436.9 L867.7,1436.7 L868.5,1436.5 L869.4,1436.3 L870.2,1436.0 L871.0,1435.8 L871.8,1435.6 L872.6,1435.3 L873.5,1435.1 L874.3,1434.9 L875.1,1434.7 L875.9,1434.4 L876.7,1434.2 L877.5,1434.0 L878.4,1433.7 L879.2,1433.5 L880.0,1433.3 L880.8,1433.1 L881.6,1432.8 L882.5,1432.6 L883.3,1432.4 L884.1,1432.1 L884.9,1431.9 L885.7,1431.7 L886.5,1431.5 L887.4,1431.2 L888.2,1431.0 L889.0,1430.8 L889.8,1430.6 L890.6,1430.3 L891.5,1430.1 L892.3,1429.9 L893.1,1429.6 L893.9,1429.4 L894.7,1429.2 L895.5,1429.0 L896.4,1428.7 L897.2,1428.5 L898.0,1428.3 L898.8,1428.0 L899.6,1427.8 L900.5,1427.6 L901.3,1427.4 L902.1,1427.1 L902.9,1426.9 L903.7,1426.7 L904.5,1426.5 L905.4,1426.2 L906.2,1426.0 L907.0,1425.8 L907.8,1425.5 L908.6,1425.3 L909.5,1425.1 L910.3,1424.9 L911.1,1424.6 L911.9,1424.4 L912.7,1424.2 L913.5,1423.9 L914.4,1423.7 L915.2,1423.5 L916.0,1423.3 L916.8,1423.0 L917.6,1422.8 L918.5,1422.6 L919.3,1422.3 L920.1,1422.1 L920.9,1421.9 L921.7,1421.7 L922.5,1421.4 L923.4,1421.2 L924.2,1421.0 L925.0,1420.8 L925.8,1420.5 L926.6,1420.3 L927.5,1420.1 L928.3,1419.8 L929.1,1419.6 L929.9,1419.4 L930.7,1419.2 L931.5,1418.9 L932.4,1418.7 L933.7,1418.4 L935.0,1418.1 L936.4,1417.8 L937.8,1417.6 L939.2,1417.4 L940.7,1417.2 L942.2,1417.1 L943.7,1417.0 L945.2,1417.0 L946.7,1417.0 L948.2,1417.0 L949.8,1417.1 L951.3,1417.2 L952.8,1417.4 L954.3,1417.6 L955.7,1417.8 L957.2,1418.1 L958.6,1418.4 L960.0,1418.8 L961.4,1419.2 L962.7,1419.6 L964.0,1420.0 L965.3,1420.5 L966.5,1421.0 L967.6,1421.6 L968.7,1422.1 L969.7,1422.7 L970.7,1423.3 L971.6,1424.0 L972.5,1424.6 L973.0,1425.1 L973.5,1425.5 L974.0,1425.9 L974.6,1426.3 L975.1,1426.8 L975.6,1427.2 L976.1,1427.6 L976.7,1428.1 L977.2,1428.5 L977.7,1428.9 L978.2,1429.4 L978.8,1429.8 L979.3,1430.2 L979.8,1430.6 L980.3,1431.1 L980.8,1431.5 L981.4,1431.9 L981.9,1432.4 L982.4,1432.8 L982.9,1433.2 L983.5,1433.6 L984.0,1434.1 L984.5,1434.5 L985.0,1434.9 L985.6,1435.4 L986.1,1435.8 L986.6,1436.2 L987.1,1436.7 L987.6,1437.1 L988.2,1437.5 L988.7,1437.9 L989.2,1438.4 L989.7,1438.8 L990.3,1439.2 L990.8,1439.7 L991.3,1440.1 L991.8,1440.5 L992.4,1440.9 L992.9,1441.4 L993.4,1441.8 L993.9,1442.2 L994.5,1442.7 L995.0,1443.1 L995.5,1443.5 L996.0,1443.9 L996.5,1444.4 L997.1,1444.8 L997.6,1445.2 L998.1,1445.7 L998.6,1446.1 L999.2,1446.5 L999.7,1447.0 L1000.2,1447.4 L1000.7,1447.8 L1001.3,1448.2 L1001.8,1448.7 L1002.3,1449.1 L1002.8,1449.5 L1003.4,1450.0 L1003.9,1450.4 L1004.4,1450.8 L1004.9,1451.2 L1005.4,1451.7 L1006.0,1452.1 L1006.5,1452.5 L1007.0,1453.0 L1007.5,1453.4 L1008.1,1453.8 L1008.6,1454.2 L1009.1,1454.7 L1009.6,1455.1 L1010.2,1455.5 L1010.7,1456.0 L1011.2,1456.4 L1011.7,1456.8 L1012.2,1457.3 L1012.8,1457.7 L1013.3,1458.1 L1013.8,1458.5 L1014.3,1459.0 L1014.9,1459.4 L1015.4,1459.8 L1015.9,1460.3 L1016.4,1460.7 L1017.0,1461.1 L1017.5,1461.5 L1018.0,1462.0 L1018.5,1462.4 L1019.3,1463.1 L1020.0,1463.8 L1020.7,1464.5 L1021.2,1465.2 L1021.7,1465.9 L1022.1,1466.7 L1022.5,1467.4 L1022.7,1468.2 L1022.9,1468.9 L1023.0,1469.7 L1023.1,1470.5 L1023.0,1471.2 L1022.9,1472.0 L1022.6,1472.7 L1022.4,1473.4 L1022.0,1474.2 L1021.5,1474.9 L1021.0,1475.5 L1020.4,1476.2 L1019.7,1476.9 L1019.0,1477.5 L1018.2,1478.1 L1017.3,1478.7 L1016.4,1479.3 L1015.4,1479.8 L1014.3,1480.3 L1013.2,1480.8 L1012.0,1481.2 L1010.8,1481.6 L1009.6,1482.0 L1008.7,1482.2 L1007.9,1482.5 L1007.1,1482.7 L1006.3,1482.9 L1005.5,1483.1 L1004.7,1483.4 L1003.8,1483.6 L1003.0,1483.8 L1002.2,1484.1 L1001.4,1484.3 L1000.6,1484.5 L999.7,1484.7 L998.9,1485.0 L998.1,1485.2 L997.3,1485.4 L996.5,1485.7 L995.7,1485.9 L994.8,1486.1 L994.0,1486.3 L993.2,1486.6 L992.4,1486.8 L991.6,1487.0 L990.7,1487.2 L989.9,1487.5 L989.1,1487.7 L988.3,1487.9 L987.5,1488.2 L986.7,1488.4 L985.8,1488.6 L985.0,1488.8 L984.2,1489.1 L983.4,1489.3 L982.6,1489.5 L981.7,1489.8 L980.9,1490.0 L980.1,1490.2 L979.3,1490.4 L978.5,1490.7 L977.7,1490.9 L976.8,1491.1 L976.0,1491.4 L975.2,1491.6 L974.4,1491.8 L973.6,1492.0 L972.7,1492.3 L971.9,1492.5 L971.1,1492.7 L970.3,1492.9 L969.5,1493.2 L968.7,1493.4 L967.8,1493.6 L967.0,1493.9 L966.2,1494.1 L965.4,1494.3 L964.6,1494.5 L963.7,1494.8 L962.9,1495.0 L962.1,1495.2 L961.3,1495.5 L960.5,1495.7 L959.7,1495.9 L958.8,1496.1 L958.0,1496.4 L957.2,1496.6 L956.4,1496.8 L955.6,1497.0 L954.7,1497.3 L953.9,1497.5 L953.1,1497.7 L952.3,1498.0 L951.5,1498.2 L950.7,1498.4 L949.8,1498.6 L949.0,1498.9 L948.2,1499.1 L947.4,1499.3 L946.6,1499.6 L945.7,1499.8 L944.9,1500.0 L944.1,1500.2 L943.3,1500.5 L942.5,1500.7 L941.7,1500.9 L940.8,1501.2 L940.0,1501.4 L939.2,1501.6 L938.4,1501.8 L937.6,1502.1 L936.8,1502.3 L935.9,1502.5 L935.1,1502.7 L934.3,1503.0 L933.5,1503.2 L932.7,1503.4 L931.8,1503.7 L931.0,1503.9 L930.2,1504.1 L929.4,1504.3 L928.6,1504.6 L927.8,1504.8 L926.9,1505.0 L926.1,1505.3 L925.3,1505.5 L924.5,1505.7 L923.7,1505.9 L922.8,1506.2 L922.0,1506.4 L921.2,1506.6 L920.4,1506.8 L919.6,1507.1 L918.8,1507.3 L917.9,1507.5 L917.1,1507.8 L916.3,1508.0 L915.5,1508.2 L914.7,1508.4 L913.8,1508.7 L913.0,1508.9 L912.2,1509.1 L911.4,1509.4 L910.6,1509.6 L909.8,1509.8 L908.9,1510.0 L908.1,1510.3 L907.3,1510.5 L906.5,1510.7 L905.7,1511.0 L904.8,1511.2 L904.0,1511.4 L903.2,1511.6 L902.4,1511.9 L901.6,1512.1 L900.8,1512.3 L899.9,1512.5 L899.1,1512.8 L898.3,1513.0 L897.5,1513.2 L896.7,1513.5 L895.8,1513.7 L895.0,1513.9 L894.2,1514.1 L893.4,1514.4 L892.6,1514.6 L891.8,1514.8 L890.9,1515.1 L890.1,1515.3 L889.3,1515.5 L888.5,1515.7 L887.7,1516.0 L886.8,1516.2 L886.0,1516.4 L885.2,1516.6 L884.4,1516.9 L883.6,1517.1 L882.8,1517.3 L881.9,1517.6 L881.1,1517.8 L880.3,1518.0 L879.5,1518.2 L878.7,1518.5 L877.8,1518.7 L877.0,1518.9 L876.2,1519.2 L875.4,1519.4 L874.6,1519.6 L873.8,1519.8 L872.9,1520.1 L872.1,1520.3 L871.3,1520.5 L870.5,1520.8 L869.7,1521.0 L868.8,1521.2 L868.0,1521.4 L867.2,1521.7 L866.4,1521.9 L865.6,1522.1 L864.8,1522.3 L863.9,1522.6 L863.1,1522.8 L862.3,1523.0 L861.5,1523.3 L860.7,1523.5 L859.9,1523.7 L859.0,1523.9 L858.2,1524.2 L857.4,1524.4 L856.6,1524.6 L855.8,1524.9 L854.9,1525.1 L854.1,1525.3 L853.3,1525.5 L852.5,1525.8 L851.7,1526.0 L850.9,1526.2 L850.0,1526.5 L849.2,1526.7 L848.4,1526.9 L847.6,1527.1 L846.8,1527.4 L845.9,1527.6 L845.1,1527.8 L844.3,1528.0 L843.5,1528.3 L842.7,1528.5 L841.9,1528.7 L841.0,1529.0 L840.2,1529.2 L839.4,1529.4 L838.6,1529.6 L837.8,1529.9 L836.9,1530.1 L836.1,1530.3 L835.3,1530.6 L834.5,1530.8 L833.7,1531.0 L832.9,1531.2 L832.0,1531.5 L831.2,1531.7 L830.4,1531.9 L829.6,1532.1 L828.8,1532.4 L827.9,1532.6 L827.1,1532.8 L826.3,1533.1 L825.5,1533.3 L824.7,1533.5 L823.9,1533.7 L823.0,1534.0 L822.2,1534.2 L821.4,1534.4 L820.6,1534.7 L819.8,1534.9 L818.9,1535.1 L818.1,1535.3 L817.3,1535.6 L816.5,1535.8 L815.7,1536.0 L814.9,1536.3 L814.0,1536.5 L813.2,1536.7 L812.4,1536.9 L811.6,1537.2 L810.8,1537.4 L809.9,1537.6 L809.1,1537.8 L808.3,1538.1 L807.5,1538.3 L806.7,1538.5 L805.9,1538.8 L805.0,1539.0 L804.2,1539.2 L803.4,1539.4 L802.6,1539.7 L801.8,1539.9 L800.9,1540.1 L800.1,1540.4 L799.3,1540.6 L798.5,1540.8 L797.7,1541.0 L796.9,1541.3 L796.0,1541.5 L795.2,1541.7 L794.4,1541.9 L793.6,1542.2 L792.8,1542.4 L791.9,1542.6 L791.1,1542.9 L790.3,1543.1 L789.5,1543.3 L788.7,1543.5 L787.9,1543.8 L787.0,1544.0 L786.2,1544.2 L785.4,1544.5 L784.6,1544.7 L783.8,1544.9 L782.9,1545.1 L782.1,1545.4 L781.3,1545.6 L780.5,1545.8 L779.7,1546.1 L778.9,1546.3 L778.0,1546.5 L777.2,1546.7 L776.4,1547.0 L775.6,1547.2 L774.8,1547.4 L774.0,1547.6 L773.1,1547.9 L772.3,1548.1 L771.5,1548.3 L770.7,1548.6 L769.9,1548.8 L769.0,1549.0 L768.2,1549.2 L767.4,1549.5 L766.6,1549.7 L765.8,1549.9 L765.0,1550.2 L764.1,1550.4 L763.3,1550.6 L762.5,1550.8 L761.7,1551.1 L760.9,1551.3 L760.0,1551.5 L759.2,1551.7 L758.4,1552.0 L757.6,1552.2 L756.8,1552.4 L756.0,1552.7 L755.1,1552.9 L754.3,1553.1 L753.5,1553.3 L752.7,1553.6 L751.9,1553.8 L751.0,1554.0 L750.2,1554.3 L749.4,1554.5 L748.6,1554.7 L747.8,1554.9 L747.0,1555.2 L746.1,1555.4 L745.3,1555.6 L744.5,1555.9 L743.7,1556.1 L742.9,1556.3 L742.0,1556.5 L741.2,1556.8 L740.4,1557.0 L739.6,1557.2 L738.8,1557.4 L738.0,1557.7 L737.1,1557.9 L736.3,1558.1 L735.5,1558.4 L734.7,1558.6 L733.9,1558.8 L733.0,1559.0 L732.2,1559.3 L731.4,1559.5 L730.6,1559.7 L729.8,1560.0 L729.0,1560.2 L728.1,1560.4 L727.3,1560.6 L726.5,1560.9 L725.7,1561.1 L724.9,1561.3 L724.0,1561.6 L723.2,1561.8 L722.4,1562.0 L721.6,1562.2 L720.8,1562.5 L720.0,1562.7 L719.1,1562.9 L718.3,1563.1 L717.5,1563.4 L716.7,1563.6 L715.9,1563.8 L715.0,1564.1 L714.2,1564.3 L713.4,1564.5 L712.6,1564.7 L711.8,1565.0 L711.0,1565.2 L710.1,1565.4 L708.8,1565.8 L707.5,1566.1 L706.1,1566.3 L704.7,1566.6 L703.3,1566.8 L701.8,1566.9 L700.3,1567.0 L698.8,1567.1 L697.3,1567.1 L695.8,1567.1 L694.3,1567.1 L692.7,1567.0 L691.2,1566.9 L689.7,1566.7 L688.2,1566.5 L686.8,1566.3 L685.3,1566.0 L683.9,1565.7 L682.5,1565.3 L681.1,1565.0 L679.8,1564.5 L678.5,1564.1 L677.2,1563.6 L676.0,1563.1 L674.9,1562.6 L673.8,1562.0 L672.8,1561.4 L671.8,1560.8 L670.9,1560.2 L670.0,1559.5 L669.5,1559.1 L669.0,1558.6 L668.5,1558.2 L667.9,1557.8 L667.4,1557.3 L666.9,1556.9 L666.4,1556.5 L665.8,1556.1 L665.3,1555.6 L664.8,1555.2 L664.3,1554.8 L663.7,1554.3 L663.2,1553.9 L662.7,1553.5 L662.2,1553.1 L661.7,1552.6 L661.1,1552.2 L660.6,1551.8 L660.1,1551.3 L659.6,1550.9 L659.0,1550.5 L658.5,1550.1 L658.0,1549.6 L657.5,1549.2 L656.9,1548.8 L656.4,1548.3 L655.9,1547.9 L655.4,1547.5 L654.9,1547.0 L654.3,1546.6 L653.8,1546.2 L653.3,1545.8 L652.8,1545.3 L652.2,1544.9 L651.7,1544.5 L651.2,1544.0 L650.7,1543.6 L650.1,1543.2 L649.6,1542.8 L649.1,1542.3 L648.6,1541.9 L648.0,1541.5 L647.5,1541.0 L647.0,1540.6 L646.5,1540.2 L646.0,1539.8 L645.4,1539.3 L644.9,1538.9 L644.4,1538.5 L643.9,1538.0 L643.3,1537.6 L642.8,1537.2 L642.3,1536.7 L641.8,1536.3 L641.2,1535.9 L640.7,1535.5 L640.2,1535.0 L639.7,1534.6 L639.1,1534.2 L638.6,1533.7 L638.1,1533.3 L637.6,1532.9 L637.1,1532.5 L636.5,1532.0 L636.0,1531.6 L635.5,1531.2 L635.0,1530.7 L634.4,1530.3 L633.9,1529.9 L633.4,1529.5 L632.9,1529.0 L632.3,1528.6 L631.8,1528.2 L631.3,1527.7 L630.8,1527.3 L630.3,1526.9 L629.7,1526.4 L629.2,1526.0 L628.7,1525.6 L628.2,1525.2 L627.6,1524.7 L627.1,1524.3 L626.6,1523.9 L626.1,1523.4 L625.5,1523.0 L625.0,1522.6 L624.5,1522.2Z" fill="none" stroke="#000" stroke-width="2.7" stroke-linejoin="round" stroke-linecap="round" />
</g>
<path d="M234.0,1559.5 L234.1,1559.0 L234.1,1558.5 L234.2,1558.0 L234.3,1557.5 L234.6,1556.5 L235.0,1555.5 L235.5,1554.5 L236.1,1553.6 L236.8,1552.7 L237.5,1551.8 L238.4,1550.9 L238.9,1550.5 L239.4,1550.1 L240.0,1549.7 L240.5,1549.2 L241.7,1548.5 L242.9,1547.7 L244.3,1547.0 L245.7,1546.3 L247.2,1545.7 L247.9,1545.4 L248.7,1545.1 L250.3,1544.6 L251.2,1544.3 L252.0,1544.1 L253.7,1543.6 L256.9,1542.7 L260.2,1541.8 L306.0,1529.0 L420.6,1497.1 L512.2,1471.6 L532.7,1465.9 L534.3,1465.4 L541.7,1463.4 L542.5,1463.1 L543.4,1462.9 L544.3,1462.7 L545.2,1462.5 L547.1,1462.2 L548.0,1462.0 L548.9,1461.8 L549.9,1461.7 L550.9,1461.6 L551.8,1461.5 L552.8,1461.4 L554.8,1461.2 L556.8,1461.1 L557.8,1461.1 L558.8,1461.1 L559.8,1461.1 L560.8,1461.1 L561.8,1461.1 L562.9,1461.2 L564.9,1461.3 L566.9,1461.4 L567.9,1461.5 L568.9,1461.6 L569.9,1461.8 L570.9,1461.9 L571.9,1462.1 L572.9,1462.2 L574.8,1462.6 L576.7,1463.0 L577.6,1463.2 L578.6,1463.5 L580.4,1464.0 L582.2,1464.5 L583.9,1465.1 L585.5,1465.8 L586.3,1466.1 L587.1,1466.5 L587.9,1466.8 L588.7,1467.2 L589.4,1467.6 L590.1,1467.9 L591.5,1468.7 L592.8,1469.5 L593.4,1470.0 L594.0,1470.4 L595.2,1471.3 L597.2,1473.0 L602.4,1477.2 L631.0,1500.7 L637.2,1505.8 L637.7,1506.2 L638.8,1507.1 L639.7,1508.0 L640.6,1509.0 L641.3,1509.9 L641.7,1510.4 L642.0,1510.9 L642.3,1511.4 L642.6,1511.9 L643.0,1512.9 L643.2,1513.4 L643.4,1513.9 L643.6,1514.9 L643.7,1515.9 L643.8,1516.4 L643.8,1516.9 L643.8,1572.8 L643.7,1573.3 L643.7,1573.8 L643.6,1574.3 L643.5,1574.8 L643.4,1575.3 L643.2,1575.8 L642.8,1576.8 L642.6,1577.3 L642.3,1577.8 L641.7,1578.7 L641.0,1579.6 L640.3,1580.5 L639.8,1581.0 L639.4,1581.4 L638.9,1581.8 L638.4,1582.2 L637.3,1583.1 L636.1,1583.8 L634.9,1584.6 L634.2,1584.9 L633.5,1585.3 L632.1,1586.0 L630.6,1586.6 L629.9,1586.9 L629.1,1587.2 L628.3,1587.5 L627.5,1587.7 L626.6,1588.0 L625.8,1588.2 L624.1,1588.7 L620.9,1589.6 L368.9,1659.8 L348.4,1665.5 L346.8,1666.0 L336.1,1668.9 L335.2,1669.2 L334.4,1669.4 L333.5,1669.6 L332.6,1669.8 L330.7,1670.1 L329.8,1670.3 L328.9,1670.5 L327.9,1670.6 L326.9,1670.7 L326.0,1670.8 L325.0,1670.9 L324.0,1671.0 L323.0,1671.1 L322.0,1671.1 L321.0,1671.2 L320.0,1671.2 L319.0,1671.2 L317.0,1671.2 L316.0,1671.2 L314.9,1671.2 L312.9,1671.0 L310.9,1670.9 L308.9,1670.7 L307.9,1670.5 L306.9,1670.4 L304.9,1670.1 L303.0,1669.7 L301.1,1669.3 L299.2,1668.8 L297.4,1668.3 L296.5,1668.0 L295.6,1667.8 L293.9,1667.2 L292.3,1666.5 L290.7,1665.8 L289.1,1665.1 L287.7,1664.4 L286.3,1663.6 L285.6,1663.2 L285.0,1662.8 L284.4,1662.3 L283.8,1661.9 L282.6,1661.0 L277.4,1656.8 L269.7,1650.4 L246.3,1631.2 L240.6,1626.5 L240.1,1626.1 L239.0,1625.2 L238.1,1624.3 L237.2,1623.3 L236.5,1622.4 L236.1,1621.9 L235.8,1621.4 L235.2,1620.4 L235.0,1619.9 L234.8,1619.4 L234.6,1618.9 L234.4,1618.4 L234.3,1617.9 L234.2,1617.4 L234.1,1616.4 L234.0,1615.9 L234.0,1615.4Z" fill="#fff" stroke="#000" stroke-width="2.7" stroke-linejoin="round" stroke-linecap="round" />
<path d="M233.6,1573.9 L232.9,1573.3 L232.2,1572.7 L231.6,1572.1 L231.0,1571.5 L230.4,1570.9 L229.9,1570.3 L229.4,1569.7 L228.9,1569.1 L228.5,1568.4 L228.1,1567.8 L227.7,1567.1 L227.3,1566.5 L227.0,1565.8 L226.7,1565.2 L226.5,1564.5 L226.3,1563.9 L226.1,1563.2 L226.0,1562.6 L225.9,1561.9 L225.8,1561.3 L225.8,1560.6 L225.8,1559.9 L225.8,1559.3 L225.8,1558.6 L226.0,1558.0 L226.1,1557.3 L226.3,1556.7 L226.5,1556.1 L226.7,1555.4 L227.0,1554.8 L227.3,1554.2 L227.6,1553.5 L228.0,1552.9 L228.4,1552.3 L228.8,1551.7 L229.3,1551.1 L229.8,1550.5 L230.3,1550.0 L230.9,1549.4 L231.5,1548.8 L232.1,1548.3 L232.8,1547.7 L233.5,1547.2 L234.2,1546.7 L234.9,1546.2 L235.7,1545.6 L236.5,1545.2 L237.3,1544.7 L238.2,1544.2 L239.0,1543.8 L240.0,1543.3 L240.9,1542.9 L241.8,1542.5 L242.8,1542.1 L243.8,1541.7 L244.8,1541.3 L245.9,1540.9 L246.9,1540.6 L248.0,1540.3 L249.1,1539.9 L250.0,1539.7 L250.8,1539.5 L251.6,1539.2 L252.2,1538.8 L252.3,1538.0 L252.0,1536.9 L251.7,1535.7 L251.5,1534.7 L251.6,1533.8 L252.1,1533.4 L252.9,1533.2 L253.8,1532.9 L254.6,1532.7 L255.4,1532.5 L256.2,1532.3 L257.0,1532.0 L257.9,1531.8 L258.7,1531.6 L259.5,1531.3 L260.3,1531.1 L261.1,1530.9 L261.9,1530.7 L263.0,1530.6 L264.6,1531.0 L266.4,1531.6 L268.4,1532.4 L270.3,1533.0 L271.8,1533.3 L272.9,1533.3 L273.7,1533.1 L274.5,1532.9 L275.3,1532.6 L276.1,1532.4 L277.0,1532.2 L277.8,1532.0 L278.6,1531.7 L279.4,1531.5 L280.2,1531.3 L281.1,1531.0 L281.9,1530.8 L282.7,1530.6 L283.5,1530.4 L284.3,1530.1 L285.1,1529.9 L286.0,1529.7 L286.8,1529.4 L287.6,1529.2 L288.4,1529.0 L289.2,1528.8 L290.1,1528.5 L290.9,1528.3 L291.7,1528.1 L292.5,1527.8 L293.3,1527.6 L294.1,1527.4 L295.0,1527.2 L295.8,1526.9 L296.6,1526.7 L297.4,1526.5 L298.2,1526.3 L299.1,1526.0 L299.9,1525.8 L300.7,1525.6 L301.5,1525.3 L302.3,1525.1 L303.1,1524.9 L304.0,1524.7 L304.8,1524.4 L305.6,1524.2 L306.4,1524.0 L307.2,1523.7 L308.1,1523.5 L308.9,1523.3 L309.7,1523.1 L310.5,1522.8 L311.3,1522.6 L312.1,1522.4 L313.0,1522.1 L313.8,1521.9 L314.6,1521.7 L315.4,1521.5 L316.2,1521.2 L317.1,1521.0 L317.9,1520.8 L318.7,1520.6 L319.5,1520.3 L320.3,1520.1 L321.1,1519.9 L322.0,1519.6 L322.8,1519.4 L323.6,1519.2 L324.4,1519.0 L325.2,1518.7 L326.1,1518.5 L326.9,1518.3 L327.7,1518.0 L328.5,1517.8 L329.3,1517.6 L330.1,1517.4 L331.0,1517.1 L331.8,1516.9 L332.6,1516.7 L333.4,1516.4 L334.2,1516.2 L335.1,1516.0 L335.9,1515.8 L336.7,1515.5 L337.5,1515.3 L338.3,1515.1 L339.2,1514.9 L340.0,1514.6 L340.8,1514.4 L341.6,1514.2 L342.4,1513.9 L343.2,1513.7 L344.1,1513.5 L344.9,1513.3 L345.7,1513.0 L346.5,1512.8 L347.3,1512.6 L348.2,1512.3 L349.0,1512.1 L349.8,1511.9 L350.6,1511.7 L351.4,1511.4 L352.2,1511.2 L353.1,1511.0 L353.9,1510.7 L354.7,1510.5 L355.5,1510.3 L356.3,1510.1 L357.2,1509.8 L358.0,1509.6 L358.8,1509.4 L359.6,1509.2 L360.4,1508.9 L361.2,1508.7 L362.1,1508.5 L362.9,1508.2 L363.7,1508.0 L364.5,1507.8 L365.3,1507.6 L366.2,1507.3 L367.0,1507.1 L367.8,1506.9 L368.6,1506.6 L369.4,1506.4 L370.2,1506.2 L371.1,1506.0 L371.9,1505.7 L372.7,1505.5 L373.5,1505.3 L374.3,1505.0 L375.2,1504.8 L376.0,1504.6 L376.8,1504.4 L377.6,1504.1 L378.4,1503.9 L379.2,1503.7 L380.1,1503.5 L380.9,1503.2 L381.7,1503.0 L382.5,1502.8 L383.3,1502.5 L384.2,1502.3 L385.0,1502.1 L385.8,1501.9 L386.6,1501.6 L387.4,1501.4 L388.2,1501.2 L389.1,1500.9 L389.9,1500.7 L390.7,1500.5 L391.5,1500.3 L392.3,1500.0 L393.2,1499.8 L394.0,1499.6 L394.8,1499.3 L395.6,1499.1 L396.4,1498.9 L397.3,1498.7 L398.1,1498.4 L398.9,1498.2 L399.7,1498.0 L400.5,1497.8 L401.3,1497.5 L402.2,1497.3 L403.0,1497.1 L403.8,1496.8 L404.6,1496.6 L405.4,1496.4 L406.3,1496.2 L407.1,1495.9 L407.9,1495.7 L408.7,1495.5 L409.5,1495.2 L410.3,1495.0 L411.2,1494.8 L412.0,1494.6 L412.8,1494.3 L413.6,1494.1 L414.4,1493.9 L415.3,1493.6 L416.1,1493.4 L416.9,1493.2 L417.7,1493.0 L418.5,1492.7 L419.3,1492.5 L420.2,1492.3 L421.0,1492.1 L421.8,1491.8 L422.6,1491.6 L423.4,1491.4 L424.3,1491.1 L425.1,1490.9 L425.9,1490.7 L426.7,1490.5 L427.5,1490.2 L428.3,1490.0 L429.2,1489.8 L430.0,1489.5 L430.8,1489.3 L431.6,1489.1 L432.4,1488.9 L433.3,1488.6 L434.1,1488.4 L434.9,1488.2 L435.7,1487.9 L436.5,1487.7 L437.3,1487.5 L438.2,1487.3 L439.0,1487.0 L439.8,1486.8 L440.6,1486.6 L441.4,1486.4 L442.3,1486.1 L443.1,1485.9 L443.9,1485.7 L444.7,1485.4 L445.5,1485.2 L446.3,1485.0 L447.2,1484.8 L448.0,1484.5 L448.8,1484.3 L449.6,1484.1 L450.4,1483.8 L451.3,1483.6 L452.1,1483.4 L452.9,1483.2 L453.7,1482.9 L454.5,1482.7 L455.4,1482.5 L456.2,1482.3 L457.0,1482.0 L457.8,1481.8 L458.6,1481.6 L459.4,1481.3 L460.3,1481.1 L461.1,1480.9 L461.9,1480.7 L462.7,1480.4 L463.5,1480.2 L464.4,1480.0 L465.2,1479.7 L466.0,1479.5 L466.8,1479.3 L467.6,1479.1 L468.4,1478.8 L469.3,1478.6 L470.1,1478.4 L470.9,1478.1 L471.7,1477.9 L472.5,1477.7 L473.4,1477.5 L474.2,1477.2 L475.0,1477.0 L475.8,1476.8 L476.6,1476.6 L477.4,1476.3 L478.3,1476.1 L479.1,1475.9 L479.9,1475.6 L480.7,1475.4 L481.5,1475.2 L482.4,1475.0 L483.2,1474.7 L484.0,1474.5 L484.8,1474.3 L485.6,1474.0 L486.4,1473.8 L487.3,1473.6 L488.1,1473.4 L488.9,1473.1 L489.7,1472.9 L490.5,1472.7 L491.4,1472.4 L492.2,1472.2 L493.0,1472.0 L493.8,1471.8 L494.6,1471.5 L495.4,1471.3 L496.3,1471.1 L497.1,1470.9 L497.9,1470.6 L498.7,1470.4 L499.5,1470.2 L500.4,1469.9 L501.2,1469.7 L502.0,1469.5 L502.8,1469.3 L503.6,1469.0 L504.4,1468.8 L505.3,1468.6 L506.1,1468.3 L506.9,1468.1 L507.7,1467.9 L508.5,1467.7 L509.4,1467.4 L510.2,1467.2 L511.0,1467.0 L511.8,1466.7 L512.6,1466.5 L513.5,1466.3 L514.3,1466.1 L514.8,1465.6 L514.9,1464.8 L514.7,1463.7 L514.4,1462.6 L514.2,1461.5 L514.2,1460.7 L514.8,1460.2 L515.6,1460.0 L516.4,1459.8 L517.3,1459.5 L518.1,1459.3 L518.9,1459.1 L519.7,1458.8 L520.5,1458.6 L521.4,1458.4 L522.2,1458.2 L523.0,1457.9 L523.8,1457.7 L524.6,1457.5 L525.7,1457.5 L527.2,1457.8 L529.1,1458.4 L531.1,1459.2 L532.9,1459.8 L534.5,1460.2 L535.5,1460.1 L536.4,1459.9 L537.5,1459.6 L538.6,1459.3 L539.8,1459.1 L541.0,1458.8 L542.2,1458.6 L543.4,1458.3 L544.6,1458.1 L545.8,1457.9 L547.0,1457.8 L548.3,1457.6 L549.6,1457.5 L550.8,1457.3 L552.1,1457.2 L553.4,1457.1 L554.7,1457.1 L556.0,1457.0 L557.3,1457.0 L558.6,1456.9 L559.9,1456.9 L561.2,1456.9 L562.6,1457.0 L563.9,1457.0 L565.2,1457.1 L566.5,1457.2 L567.8,1457.3 L569.1,1457.4 L570.5,1457.5 L571.8,1457.7 L573.1,1457.8 L574.3,1458.0 L575.6,1458.2 L576.9,1458.4 L578.2,1458.7 L579.4,1458.9 L580.7,1459.2 L581.9,1459.4 L583.1,1459.7 L584.3,1460.0 L585.5,1460.4 L586.7,1460.7 L587.8,1461.1 L589.0,1461.4 L590.1,1461.8 L591.2,1462.2 L592.3,1462.6 L593.4,1463.0 L594.4,1463.5 L595.5,1463.9 L596.5,1464.4 L597.5,1464.9 L598.4,1465.4 L599.3,1465.8 L600.2,1466.4 L601.1,1466.9 L602.0,1467.4 L602.8,1467.9 L603.6,1468.5 L604.4,1469.0 L605.2,1469.6 L605.9,1470.2 L606.4,1470.6 L606.9,1471.0 L607.4,1471.5 L608.0,1471.9 L608.5,1472.3 L609.0,1472.7 L609.5,1473.2 L610.1,1473.6 L610.6,1474.0 L611.1,1474.5 L611.6,1474.9 L612.1,1475.3 L612.7,1475.7 L613.2,1476.2 L613.7,1476.6 L614.2,1477.0 L614.7,1477.4 L615.3,1477.9 L615.8,1478.3 L616.3,1478.7 L616.8,1479.1 L617.3,1479.6 L617.9,1480.0 L618.4,1480.4 L618.9,1480.9 L619.4,1481.3 L619.9,1481.7 L620.5,1482.1 L621.0,1482.6 L621.5,1483.0 L622.0,1483.4 L622.5,1483.8 L623.1,1484.3 L623.6,1484.7 L624.1,1485.1 L624.6,1485.5 L625.1,1486.0 L625.7,1486.4 L626.2,1486.8 L626.7,1487.3 L627.2,1487.7 L627.7,1488.1 L628.3,1488.5 L628.8,1489.0 L629.3,1489.4 L629.8,1489.8 L630.3,1490.2 L630.9,1490.7 L631.4,1491.1 L631.9,1491.5 L632.4,1491.9 L632.9,1492.4 L633.5,1492.8 L634.0,1493.2 L634.5,1493.7 L635.0,1494.1 L635.5,1494.5 L636.1,1494.9 L636.6,1495.4 L637.1,1495.8 L637.6,1496.2 L638.1,1496.6 L638.7,1497.1 L639.2,1497.5 L639.7,1497.9 L640.2,1498.3 L640.7,1498.8 L641.3,1499.2 L641.8,1499.6 L642.3,1500.1 L642.8,1500.5 L643.4,1500.9 L643.9,1501.3 L644.4,1501.8 L644.9,1502.2 L645.6,1502.8 L646.3,1503.4 L646.9,1504.0 L647.5,1504.6 L648.1,1505.2 L648.6,1505.8 L649.1,1506.4 L649.6,1507.0 L650.0,1507.7 L650.4,1508.3 L650.8,1509.0 L651.2,1509.6 L651.5,1510.3 L651.8,1510.9 L652.0,1511.6 L652.2,1512.2 L652.4,1512.9 L652.5,1513.5 L652.6,1514.2 L652.7,1514.8 L652.7,1515.5 L652.7,1516.2 L652.7,1516.8 L652.7,1517.5 L652.5,1518.1 L652.4,1518.8 L652.2,1519.4 L652.0,1520.0 L651.8,1520.7 L651.5,1521.3 L651.2,1521.9 L650.9,1522.6 L650.5,1523.2 L650.1,1523.8 L649.7,1524.4 L649.2,1525.0 L648.7,1525.6 L648.2,1526.1 L647.6,1526.7 L647.0,1527.3 L646.4,1527.8 L645.7,1528.4 L645.0,1528.9 L644.3,1529.4 L643.6,1529.9 L642.8,1530.5 L642.0,1530.9 L641.2,1531.4 L640.3,1531.9 L639.5,1532.3 L638.5,1532.8 L637.6,1533.2 L636.7,1533.6 L635.7,1534.0 L634.7,1534.4 L633.7,1534.8 L632.6,1535.2 L631.6,1535.5 L630.5,1535.8 L629.4,1536.2 L628.5,1536.4 L627.7,1536.6 L626.9,1536.9 L626.1,1537.1 L625.5,1537.5 L625.4,1538.3 L625.6,1539.4 L626.0,1540.6 L626.2,1541.7 L626.1,1542.5 L625.6,1542.9 L624.7,1543.2 L623.9,1543.4 L623.1,1543.6 L622.3,1543.8 L621.5,1544.1 L620.6,1544.3 L619.8,1544.5 L619.0,1544.8 L618.2,1545.0 L617.4,1545.2 L616.6,1545.4 L615.7,1545.7 L614.7,1545.7 L613.1,1545.3 L611.3,1544.7 L609.3,1544.0 L607.4,1543.3 L605.9,1543.0 L604.8,1543.0 L604.0,1543.2 L603.2,1543.5 L602.4,1543.7 L601.5,1543.9 L600.7,1544.1 L599.9,1544.4 L599.1,1544.6 L598.3,1544.8 L597.4,1545.1 L596.6,1545.3 L595.8,1545.5 L595.0,1545.7 L594.2,1546.0 L593.4,1546.2 L592.5,1546.4 L591.7,1546.7 L590.9,1546.9 L590.1,1547.1 L589.3,1547.3 L588.4,1547.6 L587.6,1547.8 L586.8,1548.0 L586.0,1548.3 L585.2,1548.5 L584.4,1548.7 L583.5,1548.9 L582.7,1549.2 L581.9,1549.4 L581.1,1549.6 L580.3,1549.8 L579.4,1550.1 L578.6,1550.3 L577.8,1550.5 L577.0,1550.8 L576.2,1551.0 L575.4,1551.2 L574.5,1551.4 L573.7,1551.7 L572.9,1551.9 L572.1,1552.1 L571.3,1552.4 L570.4,1552.6 L569.6,1552.8 L568.8,1553.0 L568.0,1553.3 L567.2,1553.5 L566.4,1553.7 L565.5,1554.0 L564.7,1554.2 L563.9,1554.4 L563.1,1554.6 L562.3,1554.9 L561.4,1555.1 L560.6,1555.3 L559.8,1555.5 L559.0,1555.8 L558.2,1556.0 L557.4,1556.2 L556.5,1556.5 L555.7,1556.7 L554.9,1556.9 L554.1,1557.1 L553.3,1557.4 L552.4,1557.6 L551.6,1557.8 L550.8,1558.1 L550.0,1558.3 L549.2,1558.5 L548.4,1558.7 L547.5,1559.0 L546.7,1559.2 L545.9,1559.4 L545.1,1559.7 L544.3,1559.9 L543.4,1560.1 L542.6,1560.3 L541.8,1560.6 L541.0,1560.8 L540.2,1561.0 L539.3,1561.2 L538.5,1561.5 L537.7,1561.7 L536.9,1561.9 L536.1,1562.2 L535.3,1562.4 L534.4,1562.6 L533.6,1562.8 L532.8,1563.1 L532.0,1563.3 L531.2,1563.5 L530.3,1563.8 L529.5,1564.0 L528.7,1564.2 L527.9,1564.4 L527.1,1564.7 L526.3,1564.9 L525.4,1565.1 L524.6,1565.3 L523.8,1565.6 L523.0,1565.8 L522.2,1566.0 L521.3,1566.3 L520.5,1566.5 L519.7,1566.7 L518.9,1566.9 L518.1,1567.2 L517.3,1567.4 L516.4,1567.6 L515.6,1567.9 L514.8,1568.1 L514.0,1568.3 L513.2,1568.5 L512.3,1568.8 L511.5,1569.0 L510.7,1569.2 L509.9,1569.5 L509.1,1569.7 L508.3,1569.9 L507.4,1570.1 L506.6,1570.4 L505.8,1570.6 L505.0,1570.8 L504.2,1571.0 L503.3,1571.3 L502.5,1571.5 L501.7,1571.7 L500.9,1572.0 L500.1,1572.2 L499.3,1572.4 L498.4,1572.6 L497.6,1572.9 L496.8,1573.1 L496.0,1573.3 L495.2,1573.6 L494.3,1573.8 L493.5,1574.0 L492.7,1574.2 L491.9,1574.5 L491.1,1574.7 L490.3,1574.9 L489.4,1575.2 L488.6,1575.4 L487.8,1575.6 L487.0,1575.8 L486.2,1576.1 L485.3,1576.3 L484.5,1576.5 L483.7,1576.7 L482.9,1577.0 L482.1,1577.2 L481.2,1577.4 L480.4,1577.7 L479.6,1577.9 L478.8,1578.1 L478.0,1578.3 L477.2,1578.6 L476.3,1578.8 L475.5,1579.0 L474.7,1579.3 L473.9,1579.5 L473.1,1579.7 L472.2,1579.9 L471.4,1580.2 L470.6,1580.4 L469.8,1580.6 L469.0,1580.9 L468.2,1581.1 L467.3,1581.3 L466.5,1581.5 L465.7,1581.8 L464.9,1582.0 L464.1,1582.2 L463.2,1582.4 L462.4,1582.7 L461.6,1582.9 L460.8,1583.1 L460.0,1583.4 L459.2,1583.6 L458.3,1583.8 L457.5,1584.0 L456.7,1584.3 L455.9,1584.5 L455.1,1584.7 L454.2,1585.0 L453.4,1585.2 L452.6,1585.4 L451.8,1585.6 L451.0,1585.9 L450.2,1586.1 L449.3,1586.3 L448.5,1586.6 L447.7,1586.8 L446.9,1587.0 L446.1,1587.2 L445.2,1587.5 L444.4,1587.7 L443.6,1587.9 L442.8,1588.1 L442.0,1588.4 L441.2,1588.6 L440.3,1588.8 L439.5,1589.1 L438.7,1589.3 L437.9,1589.5 L437.1,1589.7 L436.2,1590.0 L435.4,1590.2 L434.6,1590.4 L433.8,1590.7 L433.0,1590.9 L432.2,1591.1 L431.3,1591.3 L430.5,1591.6 L429.7,1591.8 L428.9,1592.0 L428.1,1592.3 L427.2,1592.5 L426.4,1592.7 L425.6,1592.9 L424.8,1593.2 L424.0,1593.4 L423.1,1593.6 L422.3,1593.8 L421.5,1594.1 L420.7,1594.3 L419.9,1594.5 L419.1,1594.8 L418.2,1595.0 L417.4,1595.2 L416.6,1595.4 L415.8,1595.7 L415.0,1595.9 L414.1,1596.1 L413.3,1596.4 L412.5,1596.6 L411.7,1596.8 L410.9,1597.0 L410.1,1597.3 L409.2,1597.5 L408.4,1597.7 L407.6,1598.0 L406.8,1598.2 L406.0,1598.4 L405.1,1598.6 L404.3,1598.9 L403.5,1599.1 L402.7,1599.3 L401.9,1599.5 L401.1,1599.8 L400.2,1600.0 L399.4,1600.2 L398.6,1600.5 L397.8,1600.7 L397.0,1600.9 L396.1,1601.1 L395.3,1601.4 L394.5,1601.6 L393.7,1601.8 L392.9,1602.1 L392.1,1602.3 L391.2,1602.5 L390.4,1602.7 L389.6,1603.0 L388.8,1603.2 L388.0,1603.4 L387.1,1603.7 L386.3,1603.9 L385.5,1604.1 L384.7,1604.3 L383.9,1604.6 L383.1,1604.8 L382.2,1605.0 L381.4,1605.2 L380.6,1605.5 L379.8,1605.7 L379.0,1605.9 L378.1,1606.2 L377.3,1606.4 L376.5,1606.6 L375.7,1606.8 L374.9,1607.1 L374.1,1607.3 L373.2,1607.5 L372.4,1607.8 L371.6,1608.0 L370.8,1608.2 L370.0,1608.4 L369.1,1608.7 L368.3,1608.9 L367.5,1609.1 L366.7,1609.4 L365.9,1609.6 L365.0,1609.8 L364.5,1610.2 L364.4,1611.1 L364.6,1612.1 L364.9,1613.3 L365.2,1614.4 L365.1,1615.2 L364.5,1615.7 L363.7,1615.9 L362.9,1616.1 L362.1,1616.3 L361.2,1616.6 L360.4,1616.8 L359.6,1617.0 L358.8,1617.3 L358.0,1617.5 L357.1,1617.7 L356.3,1617.9 L355.5,1618.2 L354.7,1618.4 L353.6,1618.4 L352.1,1618.0 L350.2,1617.4 L348.2,1616.7 L346.4,1616.1 L344.8,1615.7 L343.8,1615.7 L343.0,1616.0 L342.1,1616.2 L341.0,1616.5 L339.9,1616.8 L338.7,1617.0 L337.5,1617.3 L336.3,1617.5 L335.1,1617.8 L333.9,1618.0 L332.7,1618.2 L331.5,1618.3 L330.2,1618.5 L328.9,1618.6 L327.7,1618.8 L326.4,1618.9 L325.1,1619.0 L323.8,1619.0 L322.5,1619.1 L321.2,1619.1 L319.9,1619.2 L318.6,1619.2 L317.3,1619.2 L315.9,1619.1 L314.6,1619.1 L313.3,1619.0 L312.0,1618.9 L310.7,1618.8 L309.4,1618.7 L308.0,1618.6 L306.7,1618.4 L305.4,1618.3 L304.2,1618.1 L302.9,1617.9 L301.6,1617.7 L300.3,1617.4 L299.1,1617.2 L297.8,1616.9 L296.6,1616.7 L295.4,1616.4 L294.2,1616.1 L293.0,1615.7 L291.8,1615.4 L290.7,1615.0 L289.5,1614.7 L288.4,1614.3 L287.3,1613.9 L286.2,1613.5 L285.1,1613.1 L284.1,1612.6 L283.0,1612.2 L282.0,1611.7 L281.0,1611.2 L280.1,1610.7 L279.2,1610.3 L278.3,1609.7 L277.4,1609.2 L276.5,1608.7 L275.7,1608.2 L274.9,1607.6 L274.1,1607.1 L273.3,1606.5 L272.6,1605.9 L272.1,1605.5 L271.6,1605.1 L271.1,1604.6 L270.5,1604.2 L270.0,1603.8 L269.5,1603.4 L269.0,1602.9 L268.4,1602.5 L267.9,1602.1 L267.4,1601.6 L266.9,1601.2 L266.4,1600.8 L265.8,1600.4 L265.3,1599.9 L264.8,1599.5 L264.3,1599.1 L263.8,1598.7 L263.2,1598.2 L262.7,1597.8 L262.2,1597.4 L261.7,1597.0 L261.2,1596.5 L260.6,1596.1 L260.1,1595.7 L259.6,1595.2 L259.1,1594.8 L258.2,1594.5 L256.5,1594.4 L254.4,1594.4 L252.0,1594.5 L249.9,1594.5 L248.2,1594.4 L247.3,1594.1 L246.7,1593.7 L246.2,1593.3 L245.7,1592.8 L245.2,1592.4 L244.7,1592.0 L244.1,1591.5 L243.6,1591.1 L243.1,1590.7 L242.6,1590.3 L242.1,1589.8 L241.5,1589.4 L241.0,1589.0 L240.9,1588.4 L241.5,1587.7 L242.7,1586.8 L244.0,1585.9 L245.1,1585.0 L245.7,1584.3 L245.6,1583.7 L245.0,1583.3 L244.5,1582.9 L244.0,1582.4 L243.5,1582.0 L243.0,1581.6 L242.4,1581.2 L241.9,1580.7 L241.4,1580.3 L240.9,1579.9 L240.4,1579.5 L239.8,1579.0 L239.3,1578.6 L238.8,1578.2 L238.3,1577.8 L237.8,1577.3 L237.2,1576.9 L236.7,1576.5 L236.2,1576.0 L235.7,1575.6 L235.1,1575.2 L234.6,1574.8 L234.1,1574.3Z" fill="#fff" stroke="#000" stroke-width="2.7" stroke-linejoin="round" stroke-linecap="round" />
<path d="M264.4,1533.2 L264.7,1533.5 L265.0,1533.9 L265.1,1534.3 L265.1,1534.7 L265.0,1535.1 L264.8,1535.5 L264.4,1535.9 L263.9,1536.2 L263.3,1536.4 L262.6,1536.6 L261.9,1536.8 L261.1,1536.9 L260.3,1536.9 L259.5,1536.8 L258.7,1536.7 L258.0,1536.5 L257.3,1536.3 L256.6,1536.0 L256.1,1535.7 L255.7,1535.4 L255.3,1535.0 L255.1,1534.6 L255.1,1534.2 L255.1,1533.8 L255.3,1533.4 L255.7,1533.0 L256.1,1532.7 L256.6,1532.4 L257.2,1532.2 L257.9,1532.0 L258.7,1531.9 L259.5,1531.9 L260.3,1531.9 L261.1,1531.9 L261.9,1532.1 L262.6,1532.3 L263.3,1532.5 L263.9,1532.8 L264.4,1533.2Z" fill="none" stroke="#000" stroke-width="2.0" stroke-linejoin="round" stroke-linecap="round" />
<path d="M526.8,1460.1 L527.1,1460.4 L527.4,1460.8 L527.5,1461.2 L527.5,1461.6 L527.4,1462.0 L527.2,1462.4 L526.8,1462.7 L526.3,1463.1 L525.7,1463.3 L525.0,1463.5 L524.3,1463.7 L523.5,1463.7 L522.7,1463.8 L521.9,1463.7 L521.1,1463.6 L520.4,1463.4 L519.7,1463.2 L519.0,1462.9 L518.5,1462.6 L518.1,1462.3 L517.7,1461.9 L517.5,1461.5 L517.5,1461.1 L517.5,1460.7 L517.7,1460.3 L518.1,1459.9 L518.5,1459.6 L519.0,1459.3 L519.6,1459.1 L520.3,1458.9 L521.1,1458.8 L521.9,1458.7 L522.7,1458.8 L523.5,1458.8 L524.3,1459.0 L525.0,1459.2 L525.7,1459.4 L526.3,1459.7 L526.8,1460.1Z" fill="none" stroke="#000" stroke-width="2.0" stroke-linejoin="round" stroke-linecap="round" />
<path d="M360.9,1613.5 L361.3,1613.8 L361.6,1614.2 L361.7,1614.6 L361.7,1615.0 L361.6,1615.4 L361.3,1615.8 L360.9,1616.1 L360.5,1616.4 L359.9,1616.7 L359.2,1616.9 L358.5,1617.1 L357.7,1617.1 L356.9,1617.2 L356.1,1617.1 L355.3,1617.0 L354.5,1616.8 L353.8,1616.6 L353.2,1616.3 L352.7,1616.0 L352.2,1615.6 L351.9,1615.3 L351.7,1614.9 L351.6,1614.5 L351.7,1614.1 L351.9,1613.7 L352.2,1613.3 L352.7,1613.0 L353.2,1612.7 L353.8,1612.5 L354.5,1612.3 L355.3,1612.2 L356.1,1612.1 L356.9,1612.2 L357.7,1612.2 L358.5,1612.4 L359.2,1612.6 L359.9,1612.8 L360.4,1613.1 L360.9,1613.5Z" fill="none" stroke="#000" stroke-width="2.0" stroke-linejoin="round" stroke-linecap="round" />
<path d="M621.7,1540.8 L622.1,1541.2 L622.4,1541.6 L622.5,1542.0 L622.5,1542.4 L622.4,1542.8 L622.1,1543.1 L621.7,1543.5 L621.3,1543.8 L620.7,1544.0 L620.0,1544.2 L619.3,1544.4 L618.5,1544.5 L617.7,1544.5 L616.9,1544.5 L616.1,1544.3 L615.3,1544.2 L614.6,1543.9 L614.0,1543.7 L613.5,1543.3 L613.0,1543.0 L612.7,1542.6 L612.5,1542.2 L612.4,1541.8 L612.5,1541.4 L612.7,1541.0 L613.0,1540.7 L613.5,1540.3 L614.0,1540.1 L614.6,1539.8 L615.3,1539.6 L616.1,1539.5 L616.9,1539.5 L617.7,1539.5 L618.5,1539.6 L619.3,1539.7 L620.0,1539.9 L620.7,1540.2 L621.2,1540.5 L621.7,1540.8Z" fill="none" stroke="#000" stroke-width="2.0" stroke-linejoin="round" stroke-linecap="round" />
<path d="M253.0,1589.1 L253.3,1589.4 L253.6,1589.8 L253.7,1590.2 L253.7,1590.6 L253.6,1591.0 L253.3,1591.4 L253.0,1591.7 L252.5,1592.1 L251.9,1592.3 L251.2,1592.5 L250.5,1592.7 L249.7,1592.7 L248.9,1592.8 L248.1,1592.7 L247.3,1592.6 L246.5,1592.4 L245.8,1592.2 L245.2,1591.9 L244.7,1591.6 L244.2,1591.3 L243.9,1590.9 L243.7,1590.5 L243.7,1590.1 L243.7,1589.7 L243.9,1589.3 L244.2,1588.9 L244.7,1588.6 L245.2,1588.3 L245.8,1588.1 L246.5,1587.9 L247.3,1587.8 L248.1,1587.7 L248.9,1587.8 L249.7,1587.8 L250.5,1588.0 L251.2,1588.2 L251.9,1588.4 L252.5,1588.7 L253.0,1589.1Z" fill="none" stroke="#000" stroke-width="2.0" stroke-linejoin="round" stroke-linecap="round" />
<path d="M240.3,1567.5 L239.5,1566.8 L238.8,1566.2 L238.1,1565.4 L237.6,1564.7 L237.1,1564.0 L236.7,1563.2 L236.3,1562.5 L236.1,1561.7 L235.9,1561.0 L235.8,1560.2 L235.7,1559.5 L235.8,1558.7 L235.9,1558.0 L236.2,1557.2 L236.4,1556.5 L236.8,1555.8 L237.3,1555.1 L237.8,1554.4 L238.4,1553.7 L239.1,1553.0 L239.8,1552.4 L240.6,1551.8 L241.5,1551.2 L242.4,1550.7 L243.4,1550.1 L244.5,1549.6 L245.6,1549.1 L246.8,1548.7 L248.0,1548.3 L249.2,1547.9 L250.1,1547.7 L250.9,1547.5 L251.7,1547.2 L252.5,1547.0 L253.3,1546.8 L254.1,1546.6 L255.0,1546.3 L255.8,1546.1 L256.6,1545.9 L257.4,1545.6 L258.2,1545.4 L259.1,1545.2 L259.9,1545.0 L260.7,1544.7 L261.5,1544.5 L262.3,1544.3 L263.1,1544.0 L264.0,1543.8 L264.8,1543.6 L265.6,1543.4 L266.4,1543.1 L267.2,1542.9 L268.1,1542.7 L268.9,1542.5 L269.7,1542.2 L270.5,1542.0 L271.3,1541.8 L272.1,1541.5 L273.0,1541.3 L273.8,1541.1 L274.6,1540.9 L275.4,1540.6 L276.2,1540.4 L277.1,1540.2 L277.9,1539.9 L278.7,1539.7 L279.5,1539.5 L280.3,1539.3 L281.1,1539.0 L282.0,1538.8 L282.8,1538.6 L283.6,1538.3 L284.4,1538.1 L285.2,1537.9 L286.1,1537.7 L286.9,1537.4 L287.7,1537.2 L288.5,1537.0 L289.3,1536.8 L290.1,1536.5 L291.0,1536.3 L291.8,1536.1 L292.6,1535.8 L293.4,1535.6 L294.2,1535.4 L295.1,1535.2 L295.9,1534.9 L296.7,1534.7 L297.5,1534.5 L298.3,1534.2 L299.1,1534.0 L300.0,1533.8 L300.8,1533.6 L301.6,1533.3 L302.4,1533.1 L303.2,1532.9 L304.1,1532.7 L304.9,1532.4 L305.7,1532.2 L306.5,1532.0 L307.3,1531.7 L308.1,1531.5 L309.0,1531.3 L309.8,1531.1 L310.6,1530.8 L311.4,1530.6 L312.2,1530.4 L313.1,1530.1 L313.9,1529.9 L314.7,1529.7 L315.5,1529.5 L316.3,1529.2 L317.1,1529.0 L318.0,1528.8 L318.8,1528.5 L319.6,1528.3 L320.4,1528.1 L321.2,1527.9 L322.0,1527.6 L322.9,1527.4 L323.7,1527.2 L324.5,1527.0 L325.3,1526.7 L326.1,1526.5 L327.0,1526.3 L327.8,1526.0 L328.6,1525.8 L329.4,1525.6 L330.2,1525.4 L331.0,1525.1 L331.9,1524.9 L332.7,1524.7 L333.5,1524.4 L334.3,1524.2 L335.1,1524.0 L336.0,1523.8 L336.8,1523.5 L337.6,1523.3 L338.4,1523.1 L339.2,1522.8 L340.0,1522.6 L340.9,1522.4 L341.7,1522.2 L342.5,1521.9 L343.3,1521.7 L344.1,1521.5 L345.0,1521.3 L345.8,1521.0 L346.6,1520.8 L347.4,1520.6 L348.2,1520.3 L349.0,1520.1 L349.9,1519.9 L350.7,1519.7 L351.5,1519.4 L352.3,1519.2 L353.1,1519.0 L354.0,1518.7 L354.8,1518.5 L355.6,1518.3 L356.4,1518.1 L357.2,1517.8 L358.0,1517.6 L358.9,1517.4 L359.7,1517.2 L360.5,1516.9 L361.3,1516.7 L362.1,1516.5 L363.0,1516.2 L363.8,1516.0 L364.6,1515.8 L365.4,1515.6 L366.2,1515.3 L367.0,1515.1 L367.9,1514.9 L368.7,1514.6 L369.5,1514.4 L370.3,1514.2 L371.1,1514.0 L372.0,1513.7 L372.8,1513.5 L373.6,1513.3 L374.4,1513.0 L375.2,1512.8 L376.0,1512.6 L376.9,1512.4 L377.7,1512.1 L378.5,1511.9 L379.3,1511.7 L380.1,1511.5 L381.0,1511.2 L381.8,1511.0 L382.6,1510.8 L383.4,1510.5 L384.2,1510.3 L385.0,1510.1 L385.9,1509.9 L386.7,1509.6 L387.5,1509.4 L388.3,1509.2 L389.1,1508.9 L390.0,1508.7 L390.8,1508.5 L391.6,1508.3 L392.4,1508.0 L393.2,1507.8 L394.0,1507.6 L394.9,1507.4 L395.7,1507.1 L396.5,1506.9 L397.3,1506.7 L398.1,1506.4 L399.0,1506.2 L399.8,1506.0 L400.6,1505.8 L401.4,1505.5 L402.2,1505.3 L403.0,1505.1 L403.9,1504.8 L404.7,1504.6 L405.5,1504.4 L406.3,1504.2 L407.1,1503.9 L407.9,1503.7 L408.8,1503.5 L409.6,1503.2 L410.4,1503.0 L411.2,1502.8 L412.0,1502.6 L412.9,1502.3 L413.7,1502.1 L414.5,1501.9 L415.3,1501.7 L416.1,1501.4 L416.9,1501.2 L417.8,1501.0 L418.6,1500.7 L419.4,1500.5 L420.2,1500.3 L421.0,1500.1 L421.9,1499.8 L422.7,1499.6 L423.5,1499.4 L424.3,1499.1 L425.1,1498.9 L425.9,1498.7 L426.8,1498.5 L427.6,1498.2 L428.4,1498.0 L429.2,1497.8 L430.0,1497.6 L430.9,1497.3 L431.7,1497.1 L432.5,1496.9 L433.3,1496.6 L434.1,1496.4 L434.9,1496.2 L435.8,1496.0 L436.6,1495.7 L437.4,1495.5 L438.2,1495.3 L439.0,1495.0 L439.9,1494.8 L440.7,1494.6 L441.5,1494.4 L442.3,1494.1 L443.1,1493.9 L443.9,1493.7 L444.8,1493.4 L445.6,1493.2 L446.4,1493.0 L447.2,1492.8 L448.0,1492.5 L448.9,1492.3 L449.7,1492.1 L450.5,1491.9 L451.3,1491.6 L452.1,1491.4 L452.9,1491.2 L453.8,1490.9 L454.6,1490.7 L455.4,1490.5 L456.2,1490.3 L457.0,1490.0 L457.9,1489.8 L458.7,1489.6 L459.5,1489.3 L460.3,1489.1 L461.1,1488.9 L461.9,1488.7 L462.8,1488.4 L463.6,1488.2 L464.4,1488.0 L465.2,1487.7 L466.0,1487.5 L466.9,1487.3 L467.7,1487.1 L468.5,1486.8 L469.3,1486.6 L470.1,1486.4 L470.9,1486.2 L471.8,1485.9 L472.6,1485.7 L473.4,1485.5 L474.2,1485.2 L475.0,1485.0 L475.9,1484.8 L476.7,1484.6 L477.5,1484.3 L478.3,1484.1 L479.1,1483.9 L479.9,1483.6 L480.8,1483.4 L481.6,1483.2 L482.4,1483.0 L483.2,1482.7 L484.0,1482.5 L484.8,1482.3 L485.7,1482.1 L486.5,1481.8 L487.3,1481.6 L488.1,1481.4 L488.9,1481.1 L489.8,1480.9 L490.6,1480.7 L491.4,1480.5 L492.2,1480.2 L493.0,1480.0 L493.8,1479.8 L494.7,1479.5 L495.5,1479.3 L496.3,1479.1 L497.1,1478.9 L497.9,1478.6 L498.8,1478.4 L499.6,1478.2 L500.4,1477.9 L501.2,1477.7 L502.0,1477.5 L502.8,1477.3 L503.7,1477.0 L504.5,1476.8 L505.3,1476.6 L506.1,1476.4 L506.9,1476.1 L507.8,1475.9 L508.6,1475.7 L509.4,1475.4 L510.2,1475.2 L511.0,1475.0 L511.8,1474.8 L512.7,1474.5 L513.5,1474.3 L514.3,1474.1 L515.1,1473.8 L515.9,1473.6 L516.8,1473.4 L517.6,1473.2 L518.4,1472.9 L519.2,1472.7 L520.0,1472.5 L520.8,1472.3 L521.7,1472.0 L522.5,1471.8 L523.3,1471.6 L524.1,1471.3 L524.9,1471.1 L525.8,1470.9 L526.6,1470.7 L527.4,1470.4 L528.2,1470.2 L529.0,1470.0 L529.8,1469.7 L530.7,1469.5 L531.5,1469.3 L532.3,1469.1 L533.1,1468.8 L533.9,1468.6 L534.8,1468.4 L535.6,1468.1 L536.4,1467.9 L537.2,1467.7 L538.0,1467.5 L538.8,1467.2 L539.7,1467.0 L540.5,1466.8 L541.3,1466.6 L542.1,1466.3 L542.9,1466.1 L543.8,1465.9 L544.6,1465.6 L545.4,1465.4 L546.2,1465.2 L547.0,1465.0 L547.8,1464.7 L548.7,1464.5 L550.0,1464.2 L551.3,1463.9 L552.7,1463.6 L554.1,1463.4 L555.5,1463.2 L557.0,1463.0 L558.5,1462.9 L560.0,1462.8 L561.5,1462.8 L563.0,1462.8 L564.5,1462.8 L566.1,1462.9 L567.6,1463.0 L569.1,1463.2 L570.6,1463.4 L572.0,1463.6 L573.5,1463.9 L574.9,1464.2 L576.3,1464.6 L577.7,1465.0 L579.0,1465.4 L580.3,1465.8 L581.6,1466.3 L582.8,1466.8 L583.9,1467.4 L585.0,1467.9 L586.0,1468.5 L587.0,1469.1 L587.9,1469.8 L588.8,1470.4 L589.3,1470.9 L589.8,1471.3 L590.3,1471.7 L590.9,1472.1 L591.4,1472.6 L591.9,1473.0 L592.4,1473.4 L593.0,1473.9 L593.5,1474.3 L594.0,1474.7 L594.5,1475.2 L595.1,1475.6 L595.6,1476.0 L596.1,1476.4 L596.6,1476.9 L597.1,1477.3 L597.7,1477.7 L598.2,1478.2 L598.7,1478.6 L599.2,1479.0 L599.8,1479.4 L600.3,1479.9 L600.8,1480.3 L601.3,1480.7 L601.9,1481.2 L602.4,1481.6 L602.9,1482.0 L603.4,1482.5 L603.9,1482.9 L604.5,1483.3 L605.0,1483.7 L605.5,1484.2 L606.0,1484.6 L606.6,1485.0 L607.1,1485.5 L607.6,1485.9 L608.1,1486.3 L608.7,1486.7 L609.2,1487.2 L609.7,1487.6 L610.2,1488.0 L610.8,1488.5 L611.3,1488.9 L611.8,1489.3 L612.3,1489.7 L612.8,1490.2 L613.4,1490.6 L613.9,1491.0 L614.4,1491.5 L614.9,1491.9 L615.5,1492.3 L616.0,1492.8 L616.5,1493.2 L617.0,1493.6 L617.6,1494.0 L618.1,1494.5 L618.6,1494.9 L619.1,1495.3 L619.7,1495.8 L620.2,1496.2 L620.7,1496.6 L621.2,1497.0 L621.7,1497.5 L622.3,1497.9 L622.8,1498.3 L623.3,1498.8 L623.8,1499.2 L624.4,1499.6 L624.9,1500.0 L625.4,1500.5 L625.9,1500.9 L626.5,1501.3 L627.0,1501.8 L627.5,1502.2 L628.0,1502.6 L628.5,1503.1 L629.1,1503.5 L629.6,1503.9 L630.1,1504.3 L630.6,1504.8 L631.2,1505.2 L631.7,1505.6 L632.2,1506.1 L632.7,1506.5 L633.3,1506.9 L633.8,1507.3 L634.3,1507.8 L634.8,1508.2 L635.6,1508.9 L636.3,1509.6 L637.0,1510.3 L637.5,1511.0 L638.0,1511.7 L638.4,1512.5 L638.8,1513.2 L639.0,1514.0 L639.2,1514.7 L639.3,1515.5 L639.4,1516.3 L639.3,1517.0 L639.2,1517.8 L638.9,1518.5 L638.7,1519.2 L638.3,1520.0 L637.8,1520.7 L637.3,1521.3 L636.7,1522.0 L636.0,1522.7 L635.3,1523.3 L634.5,1523.9 L633.6,1524.5 L632.7,1525.1 L631.7,1525.6 L630.6,1526.1 L629.5,1526.6 L628.3,1527.0 L627.1,1527.4 L625.9,1527.8 L625.0,1528.0 L624.2,1528.3 L623.4,1528.5 L622.6,1528.7 L621.8,1528.9 L621.0,1529.2 L620.1,1529.4 L619.3,1529.6 L618.5,1529.9 L617.7,1530.1 L616.9,1530.3 L616.0,1530.5 L615.2,1530.8 L614.4,1531.0 L613.6,1531.2 L612.8,1531.5 L612.0,1531.7 L611.1,1531.9 L610.3,1532.1 L609.5,1532.4 L608.7,1532.6 L607.9,1532.8 L607.0,1533.0 L606.2,1533.3 L605.4,1533.5 L604.6,1533.7 L603.8,1534.0 L603.0,1534.2 L602.1,1534.4 L601.3,1534.6 L600.5,1534.9 L599.7,1535.1 L598.9,1535.3 L598.0,1535.6 L597.2,1535.8 L596.4,1536.0 L595.6,1536.2 L594.8,1536.5 L594.0,1536.7 L593.1,1536.9 L592.3,1537.2 L591.5,1537.4 L590.7,1537.6 L589.9,1537.8 L589.0,1538.1 L588.2,1538.3 L587.4,1538.5 L586.6,1538.7 L585.8,1539.0 L585.0,1539.2 L584.1,1539.4 L583.3,1539.7 L582.5,1539.9 L581.7,1540.1 L580.9,1540.3 L580.0,1540.6 L579.2,1540.8 L578.4,1541.0 L577.6,1541.3 L576.8,1541.5 L576.0,1541.7 L575.1,1541.9 L574.3,1542.2 L573.5,1542.4 L572.7,1542.6 L571.9,1542.8 L571.0,1543.1 L570.2,1543.3 L569.4,1543.5 L568.6,1543.8 L567.8,1544.0 L567.0,1544.2 L566.1,1544.4 L565.3,1544.7 L564.5,1544.9 L563.7,1545.1 L562.9,1545.4 L562.0,1545.6 L561.2,1545.8 L560.4,1546.0 L559.6,1546.3 L558.8,1546.5 L558.0,1546.7 L557.1,1547.0 L556.3,1547.2 L555.5,1547.4 L554.7,1547.6 L553.9,1547.9 L553.1,1548.1 L552.2,1548.3 L551.4,1548.5 L550.6,1548.8 L549.8,1549.0 L549.0,1549.2 L548.1,1549.5 L547.3,1549.7 L546.5,1549.9 L545.7,1550.1 L544.9,1550.4 L544.1,1550.6 L543.2,1550.8 L542.4,1551.1 L541.6,1551.3 L540.8,1551.5 L540.0,1551.7 L539.1,1552.0 L538.3,1552.2 L537.5,1552.4 L536.7,1552.6 L535.9,1552.9 L535.1,1553.1 L534.2,1553.3 L533.4,1553.6 L532.6,1553.8 L531.8,1554.0 L531.0,1554.2 L530.1,1554.5 L529.3,1554.7 L528.5,1554.9 L527.7,1555.2 L526.9,1555.4 L526.1,1555.6 L525.2,1555.8 L524.4,1556.1 L523.6,1556.3 L522.8,1556.5 L522.0,1556.8 L521.1,1557.0 L520.3,1557.2 L519.5,1557.4 L518.7,1557.7 L517.9,1557.9 L517.1,1558.1 L516.2,1558.3 L515.4,1558.6 L514.6,1558.8 L513.8,1559.0 L513.0,1559.3 L512.1,1559.5 L511.3,1559.7 L510.5,1559.9 L509.7,1560.2 L508.9,1560.4 L508.1,1560.6 L507.2,1560.9 L506.4,1561.1 L505.6,1561.3 L504.8,1561.5 L504.0,1561.8 L503.1,1562.0 L502.3,1562.2 L501.5,1562.4 L500.7,1562.7 L499.9,1562.9 L499.1,1563.1 L498.2,1563.4 L497.4,1563.6 L496.6,1563.8 L495.8,1564.0 L495.0,1564.3 L494.1,1564.5 L493.3,1564.7 L492.5,1565.0 L491.7,1565.2 L490.9,1565.4 L490.1,1565.6 L489.2,1565.9 L488.4,1566.1 L487.6,1566.3 L486.8,1566.6 L486.0,1566.8 L485.1,1567.0 L484.3,1567.2 L483.5,1567.5 L482.7,1567.7 L481.9,1567.9 L481.1,1568.1 L480.2,1568.4 L479.4,1568.6 L478.6,1568.8 L477.8,1569.1 L477.0,1569.3 L476.2,1569.5 L475.3,1569.7 L474.5,1570.0 L473.7,1570.2 L472.9,1570.4 L472.1,1570.7 L471.2,1570.9 L470.4,1571.1 L469.6,1571.3 L468.8,1571.6 L468.0,1571.8 L467.2,1572.0 L466.3,1572.3 L465.5,1572.5 L464.7,1572.7 L463.9,1572.9 L463.1,1573.2 L462.2,1573.4 L461.4,1573.6 L460.6,1573.8 L459.8,1574.1 L459.0,1574.3 L458.2,1574.5 L457.3,1574.8 L456.5,1575.0 L455.7,1575.2 L454.9,1575.4 L454.1,1575.7 L453.2,1575.9 L452.4,1576.1 L451.6,1576.4 L450.8,1576.6 L450.0,1576.8 L449.2,1577.0 L448.3,1577.3 L447.5,1577.5 L446.7,1577.7 L445.9,1577.9 L445.1,1578.2 L444.2,1578.4 L443.4,1578.6 L442.6,1578.9 L441.8,1579.1 L441.0,1579.3 L440.2,1579.5 L439.3,1579.8 L438.5,1580.0 L437.7,1580.2 L436.9,1580.5 L436.1,1580.7 L435.2,1580.9 L434.4,1581.1 L433.6,1581.4 L432.8,1581.6 L432.0,1581.8 L431.2,1582.1 L430.3,1582.3 L429.5,1582.5 L428.7,1582.7 L427.9,1583.0 L427.1,1583.2 L426.2,1583.4 L425.4,1583.6 L424.6,1583.9 L423.8,1584.1 L423.0,1584.3 L422.2,1584.6 L421.3,1584.8 L420.5,1585.0 L419.7,1585.2 L418.9,1585.5 L418.1,1585.7 L417.2,1585.9 L416.4,1586.2 L415.6,1586.4 L414.8,1586.6 L414.0,1586.8 L413.2,1587.1 L412.3,1587.3 L411.5,1587.5 L410.7,1587.7 L409.9,1588.0 L409.1,1588.2 L408.2,1588.4 L407.4,1588.7 L406.6,1588.9 L405.8,1589.1 L405.0,1589.3 L404.2,1589.6 L403.3,1589.8 L402.5,1590.0 L401.7,1590.3 L400.9,1590.5 L400.1,1590.7 L399.2,1590.9 L398.4,1591.2 L397.6,1591.4 L396.8,1591.6 L396.0,1591.9 L395.2,1592.1 L394.3,1592.3 L393.5,1592.5 L392.7,1592.8 L391.9,1593.0 L391.1,1593.2 L390.3,1593.4 L389.4,1593.7 L388.6,1593.9 L387.8,1594.1 L387.0,1594.4 L386.2,1594.6 L385.3,1594.8 L384.5,1595.0 L383.7,1595.3 L382.9,1595.5 L382.1,1595.7 L381.3,1596.0 L380.4,1596.2 L379.6,1596.4 L378.8,1596.6 L378.0,1596.9 L377.2,1597.1 L376.3,1597.3 L375.5,1597.5 L374.7,1597.8 L373.9,1598.0 L373.1,1598.2 L372.3,1598.5 L371.4,1598.7 L370.6,1598.9 L369.8,1599.1 L369.0,1599.4 L368.2,1599.6 L367.3,1599.8 L366.5,1600.1 L365.7,1600.3 L364.9,1600.5 L364.1,1600.7 L363.3,1601.0 L362.4,1601.2 L361.6,1601.4 L360.8,1601.7 L360.0,1601.9 L359.2,1602.1 L358.3,1602.3 L357.5,1602.6 L356.7,1602.8 L355.9,1603.0 L355.1,1603.2 L354.3,1603.5 L353.4,1603.7 L352.6,1603.9 L351.8,1604.2 L351.0,1604.4 L350.2,1604.6 L349.3,1604.8 L348.5,1605.1 L347.7,1605.3 L346.9,1605.5 L346.1,1605.8 L345.3,1606.0 L344.4,1606.2 L343.6,1606.4 L342.8,1606.7 L342.0,1606.9 L341.2,1607.1 L340.3,1607.4 L339.5,1607.6 L338.7,1607.8 L337.9,1608.0 L337.1,1608.3 L336.3,1608.5 L335.4,1608.7 L334.6,1608.9 L333.8,1609.2 L333.0,1609.4 L332.2,1609.6 L331.3,1609.9 L330.5,1610.1 L329.7,1610.3 L328.9,1610.5 L328.1,1610.8 L327.3,1611.0 L326.4,1611.2 L325.1,1611.6 L323.8,1611.9 L322.4,1612.1 L321.0,1612.4 L319.6,1612.6 L318.1,1612.7 L316.6,1612.8 L315.1,1612.9 L313.6,1612.9 L312.1,1612.9 L310.6,1612.9 L309.0,1612.8 L307.5,1612.7 L306.0,1612.5 L304.5,1612.3 L303.1,1612.1 L301.6,1611.8 L300.2,1611.5 L298.8,1611.1 L297.4,1610.8 L296.1,1610.3 L294.8,1609.9 L293.5,1609.4 L292.3,1608.9 L291.2,1608.4 L290.1,1607.8 L289.1,1607.2 L288.1,1606.6 L287.2,1606.0 L286.3,1605.3 L285.8,1604.9 L285.3,1604.4 L284.8,1604.0 L284.2,1603.6 L283.7,1603.1 L283.2,1602.7 L282.7,1602.3 L282.1,1601.9 L281.6,1601.4 L281.1,1601.0 L280.6,1600.6 L280.0,1600.1 L279.5,1599.7 L279.0,1599.3 L278.5,1598.9 L278.0,1598.4 L277.4,1598.0 L276.9,1597.6 L276.4,1597.1 L275.9,1596.7 L275.3,1596.3 L274.8,1595.9 L274.3,1595.4 L273.8,1595.0 L273.2,1594.6 L272.7,1594.1 L272.2,1593.7 L271.7,1593.3 L271.2,1592.8 L270.6,1592.4 L270.1,1592.0 L269.6,1591.6 L269.1,1591.1 L268.5,1590.7 L268.0,1590.3 L267.5,1589.8 L267.0,1589.4 L266.4,1589.0 L265.9,1588.6 L265.4,1588.1 L264.9,1587.7 L264.3,1587.3 L263.8,1586.8 L263.3,1586.4 L262.8,1586.0 L262.3,1585.6 L261.7,1585.1 L261.2,1584.7 L260.7,1584.3 L260.2,1583.8 L259.6,1583.4 L259.1,1583.0 L258.6,1582.5 L258.1,1582.1 L257.5,1581.7 L257.0,1581.3 L256.5,1580.8 L256.0,1580.4 L255.4,1580.0 L254.9,1579.5 L254.4,1579.1 L253.9,1578.7 L253.4,1578.3 L252.8,1577.8 L252.3,1577.4 L251.8,1577.0 L251.3,1576.5 L250.7,1576.1 L250.2,1575.7 L249.7,1575.3 L249.2,1574.8 L248.6,1574.4 L248.1,1574.0 L247.6,1573.5 L247.1,1573.1 L246.6,1572.7 L246.0,1572.2 L245.5,1571.8 L245.0,1571.4 L244.5,1571.0 L243.9,1570.5 L243.4,1570.1 L242.9,1569.7 L242.4,1569.2 L241.8,1568.8 L241.3,1568.4 L240.8,1568.0Z" fill="#fff" stroke="#000" stroke-width="2.7" stroke-linejoin="round" stroke-linecap="round" />
<clipPath id="c6"><path d="M240.3,1567.5 L239.5,1566.8 L238.8,1566.2 L238.1,1565.4 L237.6,1564.7 L237.1,1564.0 L236.7,1563.2 L236.3,1562.5 L236.1,1561.7 L235.9,1561.0 L235.8,1560.2 L235.7,1559.5 L235.8,1558.7 L235.9,1558.0 L236.2,1557.2 L236.4,1556.5 L236.8,1555.8 L237.3,1555.1 L237.8,1554.4 L238.4,1553.7 L239.1,1553.0 L239.8,1552.4 L240.6,1551.8 L241.5,1551.2 L242.4,1550.7 L243.4,1550.1 L244.5,1549.6 L245.6,1549.1 L246.8,1548.7 L248.0,1548.3 L249.2,1547.9 L250.1,1547.7 L250.9,1547.5 L251.7,1547.2 L252.5,1547.0 L253.3,1546.8 L254.1,1546.6 L255.0,1546.3 L255.8,1546.1 L256.6,1545.9 L257.4,1545.6 L258.2,1545.4 L259.1,1545.2 L259.9,1545.0 L260.7,1544.7 L261.5,1544.5 L262.3,1544.3 L263.1,1544.0 L264.0,1543.8 L264.8,1543.6 L265.6,1543.4 L266.4,1543.1 L267.2,1542.9 L268.1,1542.7 L268.9,1542.5 L269.7,1542.2 L270.5,1542.0 L271.3,1541.8 L272.1,1541.5 L273.0,1541.3 L273.8,1541.1 L274.6,1540.9 L275.4,1540.6 L276.2,1540.4 L277.1,1540.2 L277.9,1539.9 L278.7,1539.7 L279.5,1539.5 L280.3,1539.3 L281.1,1539.0 L282.0,1538.8 L282.8,1538.6 L283.6,1538.3 L284.4,1538.1 L285.2,1537.9 L286.1,1537.7 L286.9,1537.4 L287.7,1537.2 L288.5,1537.0 L289.3,1536.8 L290.1,1536.5 L291.0,1536.3 L291.8,1536.1 L292.6,1535.8 L293.4,1535.6 L294.2,1535.4 L295.1,1535.2 L295.9,1534.9 L296.7,1534.7 L297.5,1534.5 L298.3,1534.2 L299.1,1534.0 L300.0,1533.8 L300.8,1533.6 L301.6,1533.3 L302.4,1533.1 L303.2,1532.9 L304.1,1532.7 L304.9,1532.4 L305.7,1532.2 L306.5,1532.0 L307.3,1531.7 L308.1,1531.5 L309.0,1531.3 L309.8,1531.1 L310.6,1530.8 L311.4,1530.6 L312.2,1530.4 L313.1,1530.1 L313.9,1529.9 L314.7,1529.7 L315.5,1529.5 L316.3,1529.2 L317.1,1529.0 L318.0,1528.8 L318.8,1528.5 L319.6,1528.3 L320.4,1528.1 L321.2,1527.9 L322.0,1527.6 L322.9,1527.4 L323.7,1527.2 L324.5,1527.0 L325.3,1526.7 L326.1,1526.5 L327.0,1526.3 L327.8,1526.0 L328.6,1525.8 L329.4,1525.6 L330.2,1525.4 L331.0,1525.1 L331.9,1524.9 L332.7,1524.7 L333.5,1524.4 L334.3,1524.2 L335.1,1524.0 L336.0,1523.8 L336.8,1523.5 L337.6,1523.3 L338.4,1523.1 L339.2,1522.8 L340.0,1522.6 L340.9,1522.4 L341.7,1522.2 L342.5,1521.9 L343.3,1521.7 L344.1,1521.5 L345.0,1521.3 L345.8,1521.0 L346.6,1520.8 L347.4,1520.6 L348.2,1520.3 L349.0,1520.1 L349.9,1519.9 L350.7,1519.7 L351.5,1519.4 L352.3,1519.2 L353.1,1519.0 L354.0,1518.7 L354.8,1518.5 L355.6,1518.3 L356.4,1518.1 L357.2,1517.8 L358.0,1517.6 L358.9,1517.4 L359.7,1517.2 L360.5,1516.9 L361.3,1516.7 L362.1,1516.5 L363.0,1516.2 L363.8,1516.0 L364.6,1515.8 L365.4,1515.6 L366.2,1515.3 L367.0,1515.1 L367.9,1514.9 L368.7,1514.6 L369.5,1514.4 L370.3,1514.2 L371.1,1514.0 L372.0,1513.7 L372.8,1513.5 L373.6,1513.3 L374.4,1513.0 L375.2,1512.8 L376.0,1512.6 L376.9,1512.4 L377.7,1512.1 L378.5,1511.9 L379.3,1511.7 L380.1,1511.5 L381.0,1511.2 L381.8,1511.0 L382.6,1510.8 L383.4,1510.5 L384.2,1510.3 L385.0,1510.1 L385.9,1509.9 L386.7,1509.6 L387.5,1509.4 L388.3,1509.2 L389.1,1508.9 L390.0,1508.7 L390.8,1508.5 L391.6,1508.3 L392.4,1508.0 L393.2,1507.8 L394.0,1507.6 L394.9,1507.4 L395.7,1507.1 L396.5,1506.9 L397.3,1506.7 L398.1,1506.4 L399.0,1506.2 L399.8,1506.0 L400.6,1505.8 L401.4,1505.5 L402.2,1505.3 L403.0,1505.1 L403.9,1504.8 L404.7,1504.6 L405.5,1504.4 L406.3,1504.2 L407.1,1503.9 L407.9,1503.7 L408.8,1503.5 L409.6,1503.2 L410.4,1503.0 L411.2,1502.8 L412.0,1502.6 L412.9,1502.3 L413.7,1502.1 L414.5,1501.9 L415.3,1501.7 L416.1,1501.4 L416.9,1501.2 L417.8,1501.0 L418.6,1500.7 L419.4,1500.5 L420.2,1500.3 L421.0,1500.1 L421.9,1499.8 L422.7,1499.6 L423.5,1499.4 L424.3,1499.1 L425.1,1498.9 L425.9,1498.7 L426.8,1498.5 L427.6,1498.2 L428.4,1498.0 L429.2,1497.8 L430.0,1497.6 L430.9,1497.3 L431.7,1497.1 L432.5,1496.9 L433.3,1496.6 L434.1,1496.4 L434.9,1496.2 L435.8,1496.0 L436.6,1495.7 L437.4,1495.5 L438.2,1495.3 L439.0,1495.0 L439.9,1494.8 L440.7,1494.6 L441.5,1494.4 L442.3,1494.1 L443.1,1493.9 L443.9,1493.7 L444.8,1493.4 L445.6,1493.2 L446.4,1493.0 L447.2,1492.8 L448.0,1492.5 L448.9,1492.3 L449.7,1492.1 L450.5,1491.9 L451.3,1491.6 L452.1,1491.4 L452.9,1491.2 L453.8,1490.9 L454.6,1490.7 L455.4,1490.5 L456.2,1490.3 L457.0,1490.0 L457.9,1489.8 L458.7,1489.6 L459.5,1489.3 L460.3,1489.1 L461.1,1488.9 L461.9,1488.7 L462.8,1488.4 L463.6,1488.2 L464.4,1488.0 L465.2,1487.7 L466.0,1487.5 L466.9,1487.3 L467.7,1487.1 L468.5,1486.8 L469.3,1486.6 L470.1,1486.4 L470.9,1486.2 L471.8,1485.9 L472.6,1485.7 L473.4,1485.5 L474.2,1485.2 L475.0,1485.0 L475.9,1484.8 L476.7,1484.6 L477.5,1484.3 L478.3,1484.1 L479.1,1483.9 L479.9,1483.6 L480.8,1483.4 L481.6,1483.2 L482.4,1483.0 L483.2,1482.7 L484.0,1482.5 L484.8,1482.3 L485.7,1482.1 L486.5,1481.8 L487.3,1481.6 L488.1,1481.4 L488.9,1481.1 L489.8,1480.9 L490.6,1480.7 L491.4,1480.5 L492.2,1480.2 L493.0,1480.0 L493.8,1479.8 L494.7,1479.5 L495.5,1479.3 L496.3,1479.1 L497.1,1478.9 L497.9,1478.6 L498.8,1478.4 L499.6,1478.2 L500.4,1477.9 L501.2,1477.7 L502.0,1477.5 L502.8,1477.3 L503.7,1477.0 L504.5,1476.8 L505.3,1476.6 L506.1,1476.4 L506.9,1476.1 L507.8,1475.9 L508.6,1475.7 L509.4,1475.4 L510.2,1475.2 L511.0,1475.0 L511.8,1474.8 L512.7,1474.5 L513.5,1474.3 L514.3,1474.1 L515.1,1473.8 L515.9,1473.6 L516.8,1473.4 L517.6,1473.2 L518.4,1472.9 L519.2,1472.7 L520.0,1472.5 L520.8,1472.3 L521.7,1472.0 L522.5,1471.8 L523.3,1471.6 L524.1,1471.3 L524.9,1471.1 L525.8,1470.9 L526.6,1470.7 L527.4,1470.4 L528.2,1470.2 L529.0,1470.0 L529.8,1469.7 L530.7,1469.5 L531.5,1469.3 L532.3,1469.1 L533.1,1468.8 L533.9,1468.6 L534.8,1468.4 L535.6,1468.1 L536.4,1467.9 L537.2,1467.7 L538.0,1467.5 L538.8,1467.2 L539.7,1467.0 L540.5,1466.8 L541.3,1466.6 L542.1,1466.3 L542.9,1466.1 L543.8,1465.9 L544.6,1465.6 L545.4,1465.4 L546.2,1465.2 L547.0,1465.0 L547.8,1464.7 L548.7,1464.5 L550.0,1464.2 L551.3,1463.9 L552.7,1463.6 L554.1,1463.4 L555.5,1463.2 L557.0,1463.0 L558.5,1462.9 L560.0,1462.8 L561.5,1462.8 L563.0,1462.8 L564.5,1462.8 L566.1,1462.9 L567.6,1463.0 L569.1,1463.2 L570.6,1463.4 L572.0,1463.6 L573.5,1463.9 L574.9,1464.2 L576.3,1464.6 L577.7,1465.0 L579.0,1465.4 L580.3,1465.8 L581.6,1466.3 L582.8,1466.8 L583.9,1467.4 L585.0,1467.9 L586.0,1468.5 L587.0,1469.1 L587.9,1469.8 L588.8,1470.4 L589.3,1470.9 L589.8,1471.3 L590.3,1471.7 L590.9,1472.1 L591.4,1472.6 L591.9,1473.0 L592.4,1473.4 L593.0,1473.9 L593.5,1474.3 L594.0,1474.7 L594.5,1475.2 L595.1,1475.6 L595.6,1476.0 L596.1,1476.4 L596.6,1476.9 L597.1,1477.3 L597.7,1477.7 L598.2,1478.2 L598.7,1478.6 L599.2,1479.0 L599.8,1479.4 L600.3,1479.9 L600.8,1480.3 L601.3,1480.7 L601.9,1481.2 L602.4,1481.6 L602.9,1482.0 L603.4,1482.5 L603.9,1482.9 L604.5,1483.3 L605.0,1483.7 L605.5,1484.2 L606.0,1484.6 L606.6,1485.0 L607.1,1485.5 L607.6,1485.9 L608.1,1486.3 L608.7,1486.7 L609.2,1487.2 L609.7,1487.6 L610.2,1488.0 L610.8,1488.5 L611.3,1488.9 L611.8,1489.3 L612.3,1489.7 L612.8,1490.2 L613.4,1490.6 L613.9,1491.0 L614.4,1491.5 L614.9,1491.9 L615.5,1492.3 L616.0,1492.8 L616.5,1493.2 L617.0,1493.6 L617.6,1494.0 L618.1,1494.5 L618.6,1494.9 L619.1,1495.3 L619.7,1495.8 L620.2,1496.2 L620.7,1496.6 L621.2,1497.0 L621.7,1497.5 L622.3,1497.9 L622.8,1498.3 L623.3,1498.8 L623.8,1499.2 L624.4,1499.6 L624.9,1500.0 L625.4,1500.5 L625.9,1500.9 L626.5,1501.3 L627.0,1501.8 L627.5,1502.2 L628.0,1502.6 L628.5,1503.1 L629.1,1503.5 L629.6,1503.9 L630.1,1504.3 L630.6,1504.8 L631.2,1505.2 L631.7,1505.6 L632.2,1506.1 L632.7,1506.5 L633.3,1506.9 L633.8,1507.3 L634.3,1507.8 L634.8,1508.2 L635.6,1508.9 L636.3,1509.6 L637.0,1510.3 L637.5,1511.0 L638.0,1511.7 L638.4,1512.5 L638.8,1513.2 L639.0,1514.0 L639.2,1514.7 L639.3,1515.5 L639.4,1516.3 L639.3,1517.0 L639.2,1517.8 L638.9,1518.5 L638.7,1519.2 L638.3,1520.0 L637.8,1520.7 L637.3,1521.3 L636.7,1522.0 L636.0,1522.7 L635.3,1523.3 L634.5,1523.9 L633.6,1524.5 L632.7,1525.1 L631.7,1525.6 L630.6,1526.1 L629.5,1526.6 L628.3,1527.0 L627.1,1527.4 L625.9,1527.8 L625.0,1528.0 L624.2,1528.3 L623.4,1528.5 L622.6,1528.7 L621.8,1528.9 L621.0,1529.2 L620.1,1529.4 L619.3,1529.6 L618.5,1529.9 L617.7,1530.1 L616.9,1530.3 L616.0,1530.5 L615.2,1530.8 L614.4,1531.0 L613.6,1531.2 L612.8,1531.5 L612.0,1531.7 L611.1,1531.9 L610.3,1532.1 L609.5,1532.4 L608.7,1532.6 L607.9,1532.8 L607.0,1533.0 L606.2,1533.3 L605.4,1533.5 L604.6,1533.7 L603.8,1534.0 L603.0,1534.2 L602.1,1534.4 L601.3,1534.6 L600.5,1534.9 L599.7,1535.1 L598.9,1535.3 L598.0,1535.6 L597.2,1535.8 L596.4,1536.0 L595.6,1536.2 L594.8,1536.5 L594.0,1536.7 L593.1,1536.9 L592.3,1537.2 L591.5,1537.4 L590.7,1537.6 L589.9,1537.8 L589.0,1538.1 L588.2,1538.3 L587.4,1538.5 L586.6,1538.7 L585.8,1539.0 L585.0,1539.2 L584.1,1539.4 L583.3,1539.7 L582.5,1539.9 L581.7,1540.1 L580.9,1540.3 L580.0,1540.6 L579.2,1540.8 L578.4,1541.0 L577.6,1541.3 L576.8,1541.5 L576.0,1541.7 L575.1,1541.9 L574.3,1542.2 L573.5,1542.4 L572.7,1542.6 L571.9,1542.8 L571.0,1543.1 L570.2,1543.3 L569.4,1543.5 L568.6,1543.8 L567.8,1544.0 L567.0,1544.2 L566.1,1544.4 L565.3,1544.7 L564.5,1544.9 L563.7,1545.1 L562.9,1545.4 L562.0,1545.6 L561.2,1545.8 L560.4,1546.0 L559.6,1546.3 L558.8,1546.5 L558.0,1546.7 L557.1,1547.0 L556.3,1547.2 L555.5,1547.4 L554.7,1547.6 L553.9,1547.9 L553.1,1548.1 L552.2,1548.3 L551.4,1548.5 L550.6,1548.8 L549.8,1549.0 L549.0,1549.2 L548.1,1549.5 L547.3,1549.7 L546.5,1549.9 L545.7,1550.1 L544.9,1550.4 L544.1,1550.6 L543.2,1550.8 L542.4,1551.1 L541.6,1551.3 L540.8,1551.5 L540.0,1551.7 L539.1,1552.0 L538.3,1552.2 L537.5,1552.4 L536.7,1552.6 L535.9,1552.9 L535.1,1553.1 L534.2,1553.3 L533.4,1553.6 L532.6,1553.8 L531.8,1554.0 L531.0,1554.2 L530.1,1554.5 L529.3,1554.7 L528.5,1554.9 L527.7,1555.2 L526.9,1555.4 L526.1,1555.6 L525.2,1555.8 L524.4,1556.1 L523.6,1556.3 L522.8,1556.5 L522.0,1556.8 L521.1,1557.0 L520.3,1557.2 L519.5,1557.4 L518.7,1557.7 L517.9,1557.9 L517.1,1558.1 L516.2,1558.3 L515.4,1558.6 L514.6,1558.8 L513.8,1559.0 L513.0,1559.3 L512.1,1559.5 L511.3,1559.7 L510.5,1559.9 L509.7,1560.2 L508.9,1560.4 L508.1,1560.6 L507.2,1560.9 L506.4,1561.1 L505.6,1561.3 L504.8,1561.5 L504.0,1561.8 L503.1,1562.0 L502.3,1562.2 L501.5,1562.4 L500.7,1562.7 L499.9,1562.9 L499.1,1563.1 L498.2,1563.4 L497.4,1563.6 L496.6,1563.8 L495.8,1564.0 L495.0,1564.3 L494.1,1564.5 L493.3,1564.7 L492.5,1565.0 L491.7,1565.2 L490.9,1565.4 L490.1,1565.6 L489.2,1565.9 L488.4,1566.1 L487.6,1566.3 L486.8,1566.6 L486.0,1566.8 L485.1,1567.0 L484.3,1567.2 L483.5,1567.5 L482.7,1567.7 L481.9,1567.9 L481.1,1568.1 L480.2,1568.4 L479.4,1568.6 L478.6,1568.8 L477.8,1569.1 L477.0,1569.3 L476.2,1569.5 L475.3,1569.7 L474.5,1570.0 L473.7,1570.2 L472.9,1570.4 L472.1,1570.7 L471.2,1570.9 L470.4,1571.1 L469.6,1571.3 L468.8,1571.6 L468.0,1571.8 L467.2,1572.0 L466.3,1572.3 L465.5,1572.5 L464.7,1572.7 L463.9,1572.9 L463.1,1573.2 L462.2,1573.4 L461.4,1573.6 L460.6,1573.8 L459.8,1574.1 L459.0,1574.3 L458.2,1574.5 L457.3,1574.8 L456.5,1575.0 L455.7,1575.2 L454.9,1575.4 L454.1,1575.7 L453.2,1575.9 L452.4,1576.1 L451.6,1576.4 L450.8,1576.6 L450.0,1576.8 L449.2,1577.0 L448.3,1577.3 L447.5,1577.5 L446.7,1577.7 L445.9,1577.9 L445.1,1578.2 L444.2,1578.4 L443.4,1578.6 L442.6,1578.9 L441.8,1579.1 L441.0,1579.3 L440.2,1579.5 L439.3,1579.8 L438.5,1580.0 L437.7,1580.2 L436.9,1580.5 L436.1,1580.7 L435.2,1580.9 L434.4,1581.1 L433.6,1581.4 L432.8,1581.6 L432.0,1581.8 L431.2,1582.1 L430.3,1582.3 L429.5,1582.5 L428.7,1582.7 L427.9,1583.0 L427.1,1583.2 L426.2,1583.4 L425.4,1583.6 L424.6,1583.9 L423.8,1584.1 L423.0,1584.3 L422.2,1584.6 L421.3,1584.8 L420.5,1585.0 L419.7,1585.2 L418.9,1585.5 L418.1,1585.7 L417.2,1585.9 L416.4,1586.2 L415.6,1586.4 L414.8,1586.6 L414.0,1586.8 L413.2,1587.1 L412.3,1587.3 L411.5,1587.5 L410.7,1587.7 L409.9,1588.0 L409.1,1588.2 L408.2,1588.4 L407.4,1588.7 L406.6,1588.9 L405.8,1589.1 L405.0,1589.3 L404.2,1589.6 L403.3,1589.8 L402.5,1590.0 L401.7,1590.3 L400.9,1590.5 L400.1,1590.7 L399.2,1590.9 L398.4,1591.2 L397.6,1591.4 L396.8,1591.6 L396.0,1591.9 L395.2,1592.1 L394.3,1592.3 L393.5,1592.5 L392.7,1592.8 L391.9,1593.0 L391.1,1593.2 L390.3,1593.4 L389.4,1593.7 L388.6,1593.9 L387.8,1594.1 L387.0,1594.4 L386.2,1594.6 L385.3,1594.8 L384.5,1595.0 L383.7,1595.3 L382.9,1595.5 L382.1,1595.7 L381.3,1596.0 L380.4,1596.2 L379.6,1596.4 L378.8,1596.6 L378.0,1596.9 L377.2,1597.1 L376.3,1597.3 L375.5,1597.5 L374.7,1597.8 L373.9,1598.0 L373.1,1598.2 L372.3,1598.5 L371.4,1598.7 L370.6,1598.9 L369.8,1599.1 L369.0,1599.4 L368.2,1599.6 L367.3,1599.8 L366.5,1600.1 L365.7,1600.3 L364.9,1600.5 L364.1,1600.7 L363.3,1601.0 L362.4,1601.2 L361.6,1601.4 L360.8,1601.7 L360.0,1601.9 L359.2,1602.1 L358.3,1602.3 L357.5,1602.6 L356.7,1602.8 L355.9,1603.0 L355.1,1603.2 L354.3,1603.5 L353.4,1603.7 L352.6,1603.9 L351.8,1604.2 L351.0,1604.4 L350.2,1604.6 L349.3,1604.8 L348.5,1605.1 L347.7,1605.3 L346.9,1605.5 L346.1,1605.8 L345.3,1606.0 L344.4,1606.2 L343.6,1606.4 L342.8,1606.7 L342.0,1606.9 L341.2,1607.1 L340.3,1607.4 L339.5,1607.6 L338.7,1607.8 L337.9,1608.0 L337.1,1608.3 L336.3,1608.5 L335.4,1608.7 L334.6,1608.9 L333.8,1609.2 L333.0,1609.4 L332.2,1609.6 L331.3,1609.9 L330.5,1610.1 L329.7,1610.3 L328.9,1610.5 L328.1,1610.8 L327.3,1611.0 L326.4,1611.2 L325.1,1611.6 L323.8,1611.9 L322.4,1612.1 L321.0,1612.4 L319.6,1612.6 L318.1,1612.7 L316.6,1612.8 L315.1,1612.9 L313.6,1612.9 L312.1,1612.9 L310.6,1612.9 L309.0,1612.8 L307.5,1612.7 L306.0,1612.5 L304.5,1612.3 L303.1,1612.1 L301.6,1611.8 L300.2,1611.5 L298.8,1611.1 L297.4,1610.8 L296.1,1610.3 L294.8,1609.9 L293.5,1609.4 L292.3,1608.9 L291.2,1608.4 L290.1,1607.8 L289.1,1607.2 L288.1,1606.6 L287.2,1606.0 L286.3,1605.3 L285.8,1604.9 L285.3,1604.4 L284.8,1604.0 L284.2,1603.6 L283.7,1603.1 L283.2,1602.7 L282.7,1602.3 L282.1,1601.9 L281.6,1601.4 L281.1,1601.0 L280.6,1600.6 L280.0,1600.1 L279.5,1599.7 L279.0,1599.3 L278.5,1598.9 L278.0,1598.4 L277.4,1598.0 L276.9,1597.6 L276.4,1597.1 L275.9,1596.7 L275.3,1596.3 L274.8,1595.9 L274.3,1595.4 L273.8,1595.0 L273.2,1594.6 L272.7,1594.1 L272.2,1593.7 L271.7,1593.3 L271.2,1592.8 L270.6,1592.4 L270.1,1592.0 L269.6,1591.6 L269.1,1591.1 L268.5,1590.7 L268.0,1590.3 L267.5,1589.8 L267.0,1589.4 L266.4,1589.0 L265.9,1588.6 L265.4,1588.1 L264.9,1587.7 L264.3,1587.3 L263.8,1586.8 L263.3,1586.4 L262.8,1586.0 L262.3,1585.6 L261.7,1585.1 L261.2,1584.7 L260.7,1584.3 L260.2,1583.8 L259.6,1583.4 L259.1,1583.0 L258.6,1582.5 L258.1,1582.1 L257.5,1581.7 L257.0,1581.3 L256.5,1580.8 L256.0,1580.4 L255.4,1580.0 L254.9,1579.5 L254.4,1579.1 L253.9,1578.7 L253.4,1578.3 L252.8,1577.8 L252.3,1577.4 L251.8,1577.0 L251.3,1576.5 L250.7,1576.1 L250.2,1575.7 L249.7,1575.3 L249.2,1574.8 L248.6,1574.4 L248.1,1574.0 L247.6,1573.5 L247.1,1573.1 L246.6,1572.7 L246.0,1572.2 L245.5,1571.8 L245.0,1571.4 L244.5,1571.0 L243.9,1570.5 L243.4,1570.1 L242.9,1569.7 L242.4,1569.2 L241.8,1568.8 L241.3,1568.4 L240.8,1568.0Z"/></clipPath>
<g clip-path="url(#c6)">
<path d="M240.3,1623.4 L239.5,1622.7 L238.8,1622.1 L238.1,1621.3 L237.6,1620.6 L237.1,1619.9 L236.7,1619.1 L236.3,1618.4 L236.1,1617.6 L235.9,1616.9 L235.8,1616.1 L235.7,1615.4 L235.8,1614.6 L235.9,1613.9 L236.2,1613.1 L236.4,1612.4 L236.8,1611.7 L237.3,1611.0 L237.8,1610.3 L238.4,1609.6 L239.1,1608.9 L239.8,1608.3 L240.6,1607.7 L241.5,1607.1 L242.4,1606.6 L243.4,1606.0 L244.5,1605.5 L245.6,1605.0 L246.8,1604.6 L248.0,1604.2 L249.2,1603.8 L250.1,1603.6 L250.9,1603.4 L251.7,1603.1 L252.5,1602.9 L253.3,1602.7 L254.1,1602.5 L255.0,1602.2 L255.8,1602.0 L256.6,1601.8 L257.4,1601.5 L258.2,1601.3 L259.1,1601.1 L259.9,1600.9 L260.7,1600.6 L261.5,1600.4 L262.3,1600.2 L263.1,1599.9 L264.0,1599.7 L264.8,1599.5 L265.6,1599.3 L266.4,1599.0 L267.2,1598.8 L268.1,1598.6 L268.9,1598.4 L269.7,1598.1 L270.5,1597.9 L271.3,1597.7 L272.1,1597.4 L273.0,1597.2 L273.8,1597.0 L274.6,1596.8 L275.4,1596.5 L276.2,1596.3 L277.1,1596.1 L277.9,1595.8 L278.7,1595.6 L279.5,1595.4 L280.3,1595.2 L281.1,1594.9 L282.0,1594.7 L282.8,1594.5 L283.6,1594.2 L284.4,1594.0 L285.2,1593.8 L286.1,1593.6 L286.9,1593.3 L287.7,1593.1 L288.5,1592.9 L289.3,1592.7 L290.1,1592.4 L291.0,1592.2 L291.8,1592.0 L292.6,1591.7 L293.4,1591.5 L294.2,1591.3 L295.1,1591.1 L295.9,1590.8 L296.7,1590.6 L297.5,1590.4 L298.3,1590.1 L299.1,1589.9 L300.0,1589.7 L300.8,1589.5 L301.6,1589.2 L302.4,1589.0 L303.2,1588.8 L304.1,1588.6 L304.9,1588.3 L305.7,1588.1 L306.5,1587.9 L307.3,1587.6 L308.1,1587.4 L309.0,1587.2 L309.8,1587.0 L310.6,1586.7 L311.4,1586.5 L312.2,1586.3 L313.1,1586.0 L313.9,1585.8 L314.7,1585.6 L315.5,1585.4 L316.3,1585.1 L317.1,1584.9 L318.0,1584.7 L318.8,1584.4 L319.6,1584.2 L320.4,1584.0 L321.2,1583.8 L322.0,1583.5 L322.9,1583.3 L323.7,1583.1 L324.5,1582.9 L325.3,1582.6 L326.1,1582.4 L327.0,1582.2 L327.8,1581.9 L328.6,1581.7 L329.4,1581.5 L330.2,1581.3 L331.0,1581.0 L331.9,1580.8 L332.7,1580.6 L333.5,1580.3 L334.3,1580.1 L335.1,1579.9 L336.0,1579.7 L336.8,1579.4 L337.6,1579.2 L338.4,1579.0 L339.2,1578.7 L340.0,1578.5 L340.9,1578.3 L341.7,1578.1 L342.5,1577.8 L343.3,1577.6 L344.1,1577.4 L345.0,1577.2 L345.8,1576.9 L346.6,1576.7 L347.4,1576.5 L348.2,1576.2 L349.0,1576.0 L349.9,1575.8 L350.7,1575.6 L351.5,1575.3 L352.3,1575.1 L353.1,1574.9 L354.0,1574.6 L354.8,1574.4 L355.6,1574.2 L356.4,1574.0 L357.2,1573.7 L358.0,1573.5 L358.9,1573.3 L359.7,1573.1 L360.5,1572.8 L361.3,1572.6 L362.1,1572.4 L363.0,1572.1 L363.8,1571.9 L364.6,1571.7 L365.4,1571.5 L366.2,1571.2 L367.0,1571.0 L367.9,1570.8 L368.7,1570.5 L369.5,1570.3 L370.3,1570.1 L371.1,1569.9 L372.0,1569.6 L372.8,1569.4 L373.6,1569.2 L374.4,1568.9 L375.2,1568.7 L376.0,1568.5 L376.9,1568.3 L377.7,1568.0 L378.5,1567.8 L379.3,1567.6 L380.1,1567.4 L381.0,1567.1 L381.8,1566.9 L382.6,1566.7 L383.4,1566.4 L384.2,1566.2 L385.0,1566.0 L385.9,1565.8 L386.7,1565.5 L387.5,1565.3 L388.3,1565.1 L389.1,1564.8 L390.0,1564.6 L390.8,1564.4 L391.6,1564.2 L392.4,1563.9 L393.2,1563.7 L394.0,1563.5 L394.9,1563.3 L395.7,1563.0 L396.5,1562.8 L397.3,1562.6 L398.1,1562.3 L399.0,1562.1 L399.8,1561.9 L400.6,1561.7 L401.4,1561.4 L402.2,1561.2 L403.0,1561.0 L403.9,1560.7 L404.7,1560.5 L405.5,1560.3 L406.3,1560.1 L407.1,1559.8 L407.9,1559.6 L408.8,1559.4 L409.6,1559.1 L410.4,1558.9 L411.2,1558.7 L412.0,1558.5 L412.9,1558.2 L413.7,1558.0 L414.5,1557.8 L415.3,1557.6 L416.1,1557.3 L416.9,1557.1 L417.8,1556.9 L418.6,1556.6 L419.4,1556.4 L420.2,1556.2 L421.0,1556.0 L421.9,1555.7 L422.7,1555.5 L423.5,1555.3 L424.3,1555.0 L425.1,1554.8 L425.9,1554.6 L426.8,1554.4 L427.6,1554.1 L428.4,1553.9 L429.2,1553.7 L430.0,1553.5 L430.9,1553.2 L431.7,1553.0 L432.5,1552.8 L433.3,1552.5 L434.1,1552.3 L434.9,1552.1 L435.8,1551.9 L436.6,1551.6 L437.4,1551.4 L438.2,1551.2 L439.0,1550.9 L439.9,1550.7 L440.7,1550.5 L441.5,1550.3 L442.3,1550.0 L443.1,1549.8 L443.9,1549.6 L444.8,1549.3 L445.6,1549.1 L446.4,1548.9 L447.2,1548.7 L448.0,1548.4 L448.9,1548.2 L449.7,1548.0 L450.5,1547.8 L451.3,1547.5 L452.1,1547.3 L452.9,1547.1 L453.8,1546.8 L454.6,1546.6 L455.4,1546.4 L456.2,1546.2 L457.0,1545.9 L457.9,1545.7 L458.7,1545.5 L459.5,1545.2 L460.3,1545.0 L461.1,1544.8 L461.9,1544.6 L462.8,1544.3 L463.6,1544.1 L464.4,1543.9 L465.2,1543.6 L466.0,1543.4 L466.9,1543.2 L467.7,1543.0 L468.5,1542.7 L469.3,1542.5 L470.1,1542.3 L470.9,1542.1 L471.8,1541.8 L472.6,1541.6 L473.4,1541.4 L474.2,1541.1 L475.0,1540.9 L475.9,1540.7 L476.7,1540.5 L477.5,1540.2 L478.3,1540.0 L479.1,1539.8 L479.9,1539.5 L480.8,1539.3 L481.6,1539.1 L482.4,1538.9 L483.2,1538.6 L484.0,1538.4 L484.8,1538.2 L485.7,1538.0 L486.5,1537.7 L487.3,1537.5 L488.1,1537.3 L488.9,1537.0 L489.8,1536.8 L490.6,1536.6 L491.4,1536.4 L492.2,1536.1 L493.0,1535.9 L493.8,1535.7 L494.7,1535.4 L495.5,1535.2 L496.3,1535.0 L497.1,1534.8 L497.9,1534.5 L498.8,1534.3 L499.6,1534.1 L500.4,1533.8 L501.2,1533.6 L502.0,1533.4 L502.8,1533.2 L503.7,1532.9 L504.5,1532.7 L505.3,1532.5 L506.1,1532.3 L506.9,1532.0 L507.8,1531.8 L508.6,1531.6 L509.4,1531.3 L510.2,1531.1 L511.0,1530.9 L511.8,1530.7 L512.7,1530.4 L513.5,1530.2 L514.3,1530.0 L515.1,1529.7 L515.9,1529.5 L516.8,1529.3 L517.6,1529.1 L518.4,1528.8 L519.2,1528.6 L520.0,1528.4 L520.8,1528.2 L521.7,1527.9 L522.5,1527.7 L523.3,1527.5 L524.1,1527.2 L524.9,1527.0 L525.8,1526.8 L526.6,1526.6 L527.4,1526.3 L528.2,1526.1 L529.0,1525.9 L529.8,1525.6 L530.7,1525.4 L531.5,1525.2 L532.3,1525.0 L533.1,1524.7 L533.9,1524.5 L534.8,1524.3 L535.6,1524.0 L536.4,1523.8 L537.2,1523.6 L538.0,1523.4 L538.8,1523.1 L539.7,1522.9 L540.5,1522.7 L541.3,1522.5 L542.1,1522.2 L542.9,1522.0 L543.8,1521.8 L544.6,1521.5 L545.4,1521.3 L546.2,1521.1 L547.0,1520.9 L547.8,1520.6 L548.7,1520.4 L550.0,1520.1 L551.3,1519.8 L552.7,1519.5 L554.1,1519.3 L555.5,1519.1 L557.0,1518.9 L558.5,1518.8 L560.0,1518.7 L561.5,1518.7 L563.0,1518.7 L564.5,1518.7 L566.1,1518.8 L567.6,1518.9 L569.1,1519.1 L570.6,1519.3 L572.0,1519.5 L573.5,1519.8 L574.9,1520.1 L576.3,1520.5 L577.7,1520.9 L579.0,1521.3 L580.3,1521.7 L581.6,1522.2 L582.8,1522.7 L583.9,1523.3 L585.0,1523.8 L586.0,1524.4 L587.0,1525.0 L587.9,1525.7 L588.8,1526.3 L589.3,1526.8 L589.8,1527.2 L590.3,1527.6 L590.9,1528.0 L591.4,1528.5 L591.9,1528.9 L592.4,1529.3 L593.0,1529.8 L593.5,1530.2 L594.0,1530.6 L594.5,1531.1 L595.1,1531.5 L595.6,1531.9 L596.1,1532.3 L596.6,1532.8 L597.1,1533.2 L597.7,1533.6 L598.2,1534.1 L598.7,1534.5 L599.2,1534.9 L599.8,1535.3 L600.3,1535.8 L600.8,1536.2 L601.3,1536.6 L601.9,1537.1 L602.4,1537.5 L602.9,1537.9 L603.4,1538.4 L603.9,1538.8 L604.5,1539.2 L605.0,1539.6 L605.5,1540.1 L606.0,1540.5 L606.6,1540.9 L607.1,1541.4 L607.6,1541.8 L608.1,1542.2 L608.7,1542.6 L609.2,1543.1 L609.7,1543.5 L610.2,1543.9 L610.8,1544.4 L611.3,1544.8 L611.8,1545.2 L612.3,1545.6 L612.8,1546.1 L613.4,1546.5 L613.9,1546.9 L614.4,1547.4 L614.9,1547.8 L615.5,1548.2 L616.0,1548.7 L616.5,1549.1 L617.0,1549.5 L617.6,1549.9 L618.1,1550.4 L618.6,1550.8 L619.1,1551.2 L619.7,1551.7 L620.2,1552.1 L620.7,1552.5 L621.2,1552.9 L621.7,1553.4 L622.3,1553.8 L622.8,1554.2 L623.3,1554.7 L623.8,1555.1 L624.4,1555.5 L624.9,1555.9 L625.4,1556.4 L625.9,1556.8 L626.5,1557.2 L627.0,1557.7 L627.5,1558.1 L628.0,1558.5 L628.5,1559.0 L629.1,1559.4 L629.6,1559.8 L630.1,1560.2 L630.6,1560.7 L631.2,1561.1 L631.7,1561.5 L632.2,1562.0 L632.7,1562.4 L633.3,1562.8 L633.8,1563.2 L634.3,1563.7 L634.8,1564.1 L635.6,1564.8 L636.3,1565.5 L637.0,1566.2 L637.5,1566.9 L638.0,1567.6 L638.4,1568.4 L638.8,1569.1 L639.0,1569.9 L639.2,1570.6 L639.3,1571.4 L639.4,1572.2 L639.3,1572.9 L639.2,1573.7 L638.9,1574.4 L638.7,1575.1 L638.3,1575.9 L637.8,1576.6 L637.3,1577.2 L636.7,1577.9 L636.0,1578.6 L635.3,1579.2 L634.5,1579.8 L633.6,1580.4 L632.7,1581.0 L631.7,1581.5 L630.6,1582.0 L629.5,1582.5 L628.3,1582.9 L627.1,1583.3 L625.9,1583.7 L625.0,1583.9 L624.2,1584.2 L623.4,1584.4 L622.6,1584.6 L621.8,1584.8 L621.0,1585.1 L620.1,1585.3 L619.3,1585.5 L618.5,1585.8 L617.7,1586.0 L616.9,1586.2 L616.0,1586.4 L615.2,1586.7 L614.4,1586.9 L613.6,1587.1 L612.8,1587.4 L612.0,1587.6 L611.1,1587.8 L610.3,1588.0 L609.5,1588.3 L608.7,1588.5 L607.9,1588.7 L607.0,1588.9 L606.2,1589.2 L605.4,1589.4 L604.6,1589.6 L603.8,1589.9 L603.0,1590.1 L602.1,1590.3 L601.3,1590.5 L600.5,1590.8 L599.7,1591.0 L598.9,1591.2 L598.0,1591.5 L597.2,1591.7 L596.4,1591.9 L595.6,1592.1 L594.8,1592.4 L594.0,1592.6 L593.1,1592.8 L592.3,1593.1 L591.5,1593.3 L590.7,1593.5 L589.9,1593.7 L589.0,1594.0 L588.2,1594.2 L587.4,1594.4 L586.6,1594.6 L585.8,1594.9 L585.0,1595.1 L584.1,1595.3 L583.3,1595.6 L582.5,1595.8 L581.7,1596.0 L580.9,1596.2 L580.0,1596.5 L579.2,1596.7 L578.4,1596.9 L577.6,1597.2 L576.8,1597.4 L576.0,1597.6 L575.1,1597.8 L574.3,1598.1 L573.5,1598.3 L572.7,1598.5 L571.9,1598.7 L571.0,1599.0 L570.2,1599.2 L569.4,1599.4 L568.6,1599.7 L567.8,1599.9 L567.0,1600.1 L566.1,1600.3 L565.3,1600.6 L564.5,1600.8 L563.7,1601.0 L562.9,1601.3 L562.0,1601.5 L561.2,1601.7 L560.4,1601.9 L559.6,1602.2 L558.8,1602.4 L558.0,1602.6 L557.1,1602.9 L556.3,1603.1 L555.5,1603.3 L554.7,1603.5 L553.9,1603.8 L553.1,1604.0 L552.2,1604.2 L551.4,1604.4 L550.6,1604.7 L549.8,1604.9 L549.0,1605.1 L548.1,1605.4 L547.3,1605.6 L546.5,1605.8 L545.7,1606.0 L544.9,1606.3 L544.1,1606.5 L543.2,1606.7 L542.4,1607.0 L541.6,1607.2 L540.8,1607.4 L540.0,1607.6 L539.1,1607.9 L538.3,1608.1 L537.5,1608.3 L536.7,1608.5 L535.9,1608.8 L535.1,1609.0 L534.2,1609.2 L533.4,1609.5 L532.6,1609.7 L531.8,1609.9 L531.0,1610.1 L530.1,1610.4 L529.3,1610.6 L528.5,1610.8 L527.7,1611.1 L526.9,1611.3 L526.1,1611.5 L525.2,1611.7 L524.4,1612.0 L523.6,1612.2 L522.8,1612.4 L522.0,1612.7 L521.1,1612.9 L520.3,1613.1 L519.5,1613.3 L518.7,1613.6 L517.9,1613.8 L517.1,1614.0 L516.2,1614.2 L515.4,1614.5 L514.6,1614.7 L513.8,1614.9 L513.0,1615.2 L512.1,1615.4 L511.3,1615.6 L510.5,1615.8 L509.7,1616.1 L508.9,1616.3 L508.1,1616.5 L507.2,1616.8 L506.4,1617.0 L505.6,1617.2 L504.8,1617.4 L504.0,1617.7 L503.1,1617.9 L502.3,1618.1 L501.5,1618.3 L500.7,1618.6 L499.9,1618.8 L499.1,1619.0 L498.2,1619.3 L497.4,1619.5 L496.6,1619.7 L495.8,1619.9 L495.0,1620.2 L494.1,1620.4 L493.3,1620.6 L492.5,1620.9 L491.7,1621.1 L490.9,1621.3 L490.1,1621.5 L489.2,1621.8 L488.4,1622.0 L487.6,1622.2 L486.8,1622.5 L486.0,1622.7 L485.1,1622.9 L484.3,1623.1 L483.5,1623.4 L482.7,1623.6 L481.9,1623.8 L481.1,1624.0 L480.2,1624.3 L479.4,1624.5 L478.6,1624.7 L477.8,1625.0 L477.0,1625.2 L476.2,1625.4 L475.3,1625.6 L474.5,1625.9 L473.7,1626.1 L472.9,1626.3 L472.1,1626.6 L471.2,1626.8 L470.4,1627.0 L469.6,1627.2 L468.8,1627.5 L468.0,1627.7 L467.2,1627.9 L466.3,1628.2 L465.5,1628.4 L464.7,1628.6 L463.9,1628.8 L463.1,1629.1 L462.2,1629.3 L461.4,1629.5 L460.6,1629.7 L459.8,1630.0 L459.0,1630.2 L458.2,1630.4 L457.3,1630.7 L456.5,1630.9 L455.7,1631.1 L454.9,1631.3 L454.1,1631.6 L453.2,1631.8 L452.4,1632.0 L451.6,1632.3 L450.8,1632.5 L450.0,1632.7 L449.2,1632.9 L448.3,1633.2 L447.5,1633.4 L446.7,1633.6 L445.9,1633.8 L445.1,1634.1 L444.2,1634.3 L443.4,1634.5 L442.6,1634.8 L441.8,1635.0 L441.0,1635.2 L440.2,1635.4 L439.3,1635.7 L438.5,1635.9 L437.7,1636.1 L436.9,1636.4 L436.1,1636.6 L435.2,1636.8 L434.4,1637.0 L433.6,1637.3 L432.8,1637.5 L432.0,1637.7 L431.2,1638.0 L430.3,1638.2 L429.5,1638.4 L428.7,1638.6 L427.9,1638.9 L427.1,1639.1 L426.2,1639.3 L425.4,1639.5 L424.6,1639.8 L423.8,1640.0 L423.0,1640.2 L422.2,1640.5 L421.3,1640.7 L420.5,1640.9 L419.7,1641.1 L418.9,1641.4 L418.1,1641.6 L417.2,1641.8 L416.4,1642.1 L415.6,1642.3 L414.8,1642.5 L414.0,1642.7 L413.2,1643.0 L412.3,1643.2 L411.5,1643.4 L410.7,1643.6 L409.9,1643.9 L409.1,1644.1 L408.2,1644.3 L407.4,1644.6 L406.6,1644.8 L405.8,1645.0 L405.0,1645.2 L404.2,1645.5 L403.3,1645.7 L402.5,1645.9 L401.7,1646.2 L400.9,1646.4 L400.1,1646.6 L399.2,1646.8 L398.4,1647.1 L397.6,1647.3 L396.8,1647.5 L396.0,1647.8 L395.2,1648.0 L394.3,1648.2 L393.5,1648.4 L392.7,1648.7 L391.9,1648.9 L391.1,1649.1 L390.3,1649.3 L389.4,1649.6 L388.6,1649.8 L387.8,1650.0 L387.0,1650.3 L386.2,1650.5 L385.3,1650.7 L384.5,1650.9 L383.7,1651.2 L382.9,1651.4 L382.1,1651.6 L381.3,1651.9 L380.4,1652.1 L379.6,1652.3 L378.8,1652.5 L378.0,1652.8 L377.2,1653.0 L376.3,1653.2 L375.5,1653.4 L374.7,1653.7 L373.9,1653.9 L373.1,1654.1 L372.3,1654.4 L371.4,1654.6 L370.6,1654.8 L369.8,1655.0 L369.0,1655.3 L368.2,1655.5 L367.3,1655.7 L366.5,1656.0 L365.7,1656.2 L364.9,1656.4 L364.1,1656.6 L363.3,1656.9 L362.4,1657.1 L361.6,1657.3 L360.8,1657.6 L360.0,1657.8 L359.2,1658.0 L358.3,1658.2 L357.5,1658.5 L356.7,1658.7 L355.9,1658.9 L355.1,1659.1 L354.3,1659.4 L353.4,1659.6 L352.6,1659.8 L351.8,1660.1 L351.0,1660.3 L350.2,1660.5 L349.3,1660.7 L348.5,1661.0 L347.7,1661.2 L346.9,1661.4 L346.1,1661.7 L345.3,1661.9 L344.4,1662.1 L343.6,1662.3 L342.8,1662.6 L342.0,1662.8 L341.2,1663.0 L340.3,1663.3 L339.5,1663.5 L338.7,1663.7 L337.9,1663.9 L337.1,1664.2 L336.3,1664.4 L335.4,1664.6 L334.6,1664.8 L333.8,1665.1 L333.0,1665.3 L332.2,1665.5 L331.3,1665.8 L330.5,1666.0 L329.7,1666.2 L328.9,1666.4 L328.1,1666.7 L327.3,1666.9 L326.4,1667.1 L325.1,1667.5 L323.8,1667.8 L322.4,1668.0 L321.0,1668.3 L319.6,1668.5 L318.1,1668.6 L316.6,1668.7 L315.1,1668.8 L313.6,1668.8 L312.1,1668.8 L310.6,1668.8 L309.0,1668.7 L307.5,1668.6 L306.0,1668.4 L304.5,1668.2 L303.1,1668.0 L301.6,1667.7 L300.2,1667.4 L298.8,1667.0 L297.4,1666.7 L296.1,1666.2 L294.8,1665.8 L293.5,1665.3 L292.3,1664.8 L291.2,1664.3 L290.1,1663.7 L289.1,1663.1 L288.1,1662.5 L287.2,1661.9 L286.3,1661.2 L285.8,1660.8 L285.3,1660.3 L284.8,1659.9 L284.2,1659.5 L283.7,1659.0 L283.2,1658.6 L282.7,1658.2 L282.1,1657.8 L281.6,1657.3 L281.1,1656.9 L280.6,1656.5 L280.0,1656.0 L279.5,1655.6 L279.0,1655.2 L278.5,1654.8 L278.0,1654.3 L277.4,1653.9 L276.9,1653.5 L276.4,1653.0 L275.9,1652.6 L275.3,1652.2 L274.8,1651.8 L274.3,1651.3 L273.8,1650.9 L273.2,1650.5 L272.7,1650.0 L272.2,1649.6 L271.7,1649.2 L271.2,1648.7 L270.6,1648.3 L270.1,1647.9 L269.6,1647.5 L269.1,1647.0 L268.5,1646.6 L268.0,1646.2 L267.5,1645.7 L267.0,1645.3 L266.4,1644.9 L265.9,1644.5 L265.4,1644.0 L264.9,1643.6 L264.3,1643.2 L263.8,1642.7 L263.3,1642.3 L262.8,1641.9 L262.3,1641.5 L261.7,1641.0 L261.2,1640.6 L260.7,1640.2 L260.2,1639.7 L259.6,1639.3 L259.1,1638.9 L258.6,1638.4 L258.1,1638.0 L257.5,1637.6 L257.0,1637.2 L256.5,1636.7 L256.0,1636.3 L255.4,1635.9 L254.9,1635.4 L254.4,1635.0 L253.9,1634.6 L253.4,1634.2 L252.8,1633.7 L252.3,1633.3 L251.8,1632.9 L251.3,1632.4 L250.7,1632.0 L250.2,1631.6 L249.7,1631.2 L249.2,1630.7 L248.6,1630.3 L248.1,1629.9 L247.6,1629.4 L247.1,1629.0 L246.6,1628.6 L246.0,1628.1 L245.5,1627.7 L245.0,1627.3 L244.5,1626.9 L243.9,1626.4 L243.4,1626.0 L242.9,1625.6 L242.4,1625.1 L241.8,1624.7 L241.3,1624.3 L240.8,1623.9Z" fill="none" stroke="#000" stroke-width="2.7" stroke-linejoin="round" stroke-linecap="round" />
</g>
<line x1="191.7" y1="369.7" x2="191.4" y2="448.4" stroke="#2a2a2a" stroke-width="1.5"/>
<line x1="191.7" y1="371.4" x2="554.7" y2="270.1" stroke="#2a2a2a" stroke-width="1.5"/>
<line x1="643.7" y1="245.4" x2="1014.4" y2="141.7" stroke="#2a2a2a" stroke-width="1.5"/>
<line x1="1014.8" y1="141.7" x2="1014.8" y2="223.9" stroke="#2a2a2a" stroke-width="1.5"/>
<line x1="1024.7" y1="226.7" x2="1103.6" y2="205.0" stroke="#2a2a2a" stroke-width="1.5"/>
<line x1="1103.6" y1="205.0" x2="1103.5" y2="330.6" stroke="#2a2a2a" stroke-width="1.5"/>
<line x1="1103.5" y1="382.7" x2="1103.2" y2="520.8" stroke="#2a2a2a" stroke-width="1.5"/>
<line x1="1024.7" y1="542.9" x2="1103.2" y2="520.8" stroke="#2a2a2a" stroke-width="1.5"/>
<circle cx="191.7" cy="369.7" r="9.9" fill="#000"/>
<circle cx="1014.4" cy="141.7" r="9.9" fill="#000"/>
<circle cx="1103.6" cy="205.0" r="9.9" fill="#000"/>
<circle cx="1103.2" cy="520.8" r="9.9" fill="#000"/>
<line x1="191.4" y1="914.6" x2="191.4" y2="992.6" stroke="#2a2a2a" stroke-width="1.5"/>
<line x1="191.4" y1="915.7" x2="557.7" y2="813.8" stroke="#2a2a2a" stroke-width="1.5"/>
<line x1="643.2" y1="790.2" x2="1014.8" y2="685.8" stroke="#2a2a2a" stroke-width="1.5"/>
<line x1="1014.8" y1="685.8" x2="1014.8" y2="766.4" stroke="#2a2a2a" stroke-width="1.5"/>
<line x1="1024.7" y1="770.6" x2="1103.1" y2="748.3" stroke="#2a2a2a" stroke-width="1.5"/>
<line x1="1103.1" y1="748.3" x2="1103.1" y2="880.8" stroke="#2a2a2a" stroke-width="1.5"/>
<line x1="1103.1" y1="935.2" x2="1103.1" y2="1064.8" stroke="#2a2a2a" stroke-width="1.5"/>
<line x1="1024.7" y1="1086.0" x2="1103.1" y2="1064.8" stroke="#2a2a2a" stroke-width="1.5"/>
<circle cx="191.4" cy="914.6" r="9.9" fill="#000"/>
<circle cx="1014.8" cy="685.8" r="9.9" fill="#000"/>
<circle cx="1103.1" cy="748.3" r="9.9" fill="#000"/>
<circle cx="1103.1" cy="1064.8" r="9.9" fill="#000"/>
<line x1="128.5" y1="1288.9" x2="190.6" y2="1271.6" stroke="#2a2a2a" stroke-width="1.5"/>
<line x1="128.5" y1="1288.9" x2="161.7" y2="1317.6" stroke="#2a2a2a" stroke-width="1.5"/>
<line x1="161.7" y1="1317.6" x2="278.0" y2="1284.9" stroke="#2a2a2a" stroke-width="1.5"/>
<circle cx="128.5" cy="1288.9" r="9.9" fill="#000"/>
<circle cx="161.7" cy="1317.6" r="9.9" fill="#000"/>
<line x1="553.4" y1="1409.3" x2="697.0" y2="1370.0" stroke="#2a2a2a" stroke-width="1.5"/>
<line x1="785.5" y1="1340.0" x2="913.3" y2="1305.6" stroke="#2a2a2a" stroke-width="1.5"/>
<line x1="553.4" y1="1409.3" x2="601.1" y2="1452.1" stroke="#2a2a2a" stroke-width="1.5"/>
<line x1="913.3" y1="1305.6" x2="971.3" y2="1354.7" stroke="#2a2a2a" stroke-width="1.5"/>
<line x1="965.0" y1="1341.5" x2="1044.1" y2="1321.8" stroke="#2a2a2a" stroke-width="1.5"/>
<line x1="1044.1" y1="1321.8" x2="1069.7" y2="1339.0" stroke="#2a2a2a" stroke-width="1.5"/>
<line x1="1109.0" y1="1373.4" x2="1136.0" y2="1397.0" stroke="#2a2a2a" stroke-width="1.5"/>
<line x1="1136.0" y1="1397.0" x2="1136.0" y2="1446.2" stroke="#2a2a2a" stroke-width="1.5"/>
<line x1="1043.6" y1="1421.6" x2="1136.0" y2="1397.0" stroke="#2a2a2a" stroke-width="1.5"/>
<line x1="1045.0" y1="1471.7" x2="1136.0" y2="1446.2" stroke="#2a2a2a" stroke-width="1.5"/>
<circle cx="553.4" cy="1409.3" r="9.9" fill="#000"/>
<circle cx="913.3" cy="1305.6" r="9.9" fill="#000"/>
<circle cx="1044.1" cy="1321.8" r="9.9" fill="#000"/>
<circle cx="1136.0" cy="1397.0" r="9.9" fill="#000"/>
<circle cx="1136.0" cy="1446.2" r="9.9" fill="#000"/>
<text transform="translate(20.50,100.3) scale(0.9670,1)" class="t" font-size="43" font-weight="bold" letter-spacing="-1.655">AD</text>
<text transform="translate(93.00,100.3) scale(1.0301,1)" class="t" font-size="43" font-weight="bold" letter-spacing="1.003">754/854</text>
<text transform="translate(272.50,100.3) scale(1.0261,1)" class="t" font-size="43" font-weight="bold" letter-spacing="0.487">045</text>
<text transform="translate(359.50,100.3) scale(0.9955,1)" class="t" font-size="43" font-weight="bold" letter-spacing="0.000">e</text>
<text transform="translate(397.00,100.3) scale(0.9722,1)" class="t" font-size="43" font-weight="bold" letter-spacing="-1.851">AD</text>
<text transform="translate(468.50,100.3) scale(1.0135,1)" class="t" font-size="43" font-weight="bold" letter-spacing="0.197">854</text>
<text transform="translate(555.00,100.3) scale(1.0202,1)" class="t" font-size="43" font-weight="bold" letter-spacing="0.686">043</text>
<text transform="translate(571.50,268.0) scale(1.0015,1)" class="t" font-size="38.5" font-weight="normal" letter-spacing="0.399">516</text>
<text transform="translate(569.00,812.4) scale(1.0029,1)" class="t" font-size="38.5" font-weight="normal" letter-spacing="0.299">516</text>
<text transform="translate(1078.50,368.3) scale(0.9833,1)" class="t" font-size="38.5" font-weight="normal" letter-spacing="-0.102">194</text>
<text transform="translate(1072.00,919.3) scale(0.9904,1)" class="t" font-size="38.5" font-weight="normal" letter-spacing="-0.606">194</text>
<text transform="translate(88.50,1338.3) scale(0.9945,1)" class="t" font-size="38.5" font-weight="normal" letter-spacing="1.006">36</text>
<text transform="translate(709.00,1372.9) scale(0.9993,1)" class="t" font-size="38.5" font-weight="normal" letter-spacing="-0.200">222</text>
<text transform="translate(1068.00,1369.2) scale(1.0056,1)" class="t" font-size="38.5" font-weight="normal" letter-spacing="0.994">89</text>
<text transform="translate(1149.50,1433.7) scale(1.0124,1)" class="t" font-size="38.5" font-weight="normal" letter-spacing="0.395">35</text>
<text transform="translate(1161.50,330.2) scale(1.0284,1)" class="t" font-size="36.5" font-weight="normal" letter-spacing="0.611">Raccordo</text>
<text transform="translate(1162.00,379.4) scale(1.0279,1)" class="t" font-size="36.5" font-weight="normal" letter-spacing="0.195">per</text>
<text transform="translate(1228.50,379.4) scale(1.0308,1)" class="t" font-size="36.5" font-weight="normal" letter-spacing="0.517">tubi</text>
<text transform="translate(1161.50,426.2) scale(1.0288,1)" class="t" font-size="36.5" font-weight="normal" letter-spacing="0.643">davanti/dietro</text>
<text transform="translate(1161.50,476.0) scale(1.0412,1)" class="t" font-size="36.5" font-weight="normal" letter-spacing="0.000">2</text>
<text transform="translate(1193.50,476.0) scale(0.8235,1)" class="t" font-size="36.5" font-weight="normal" letter-spacing="0.000">x</text>
<text transform="translate(1218.50,476.0) scale(1.0397,1)" class="t" font-size="36.5" font-weight="normal" letter-spacing="2.693">NW</text>
<text transform="translate(1298.00,476.0) scale(1.0178,1)" class="t" font-size="36.5" font-weight="normal" letter-spacing="0.589">150</text>
<text transform="translate(1162.00,525.6) scale(1.0211,1)" class="t" font-size="36.5" font-weight="normal" letter-spacing="0.196">AD</text>
<text transform="translate(1227.00,525.6) scale(1.0186,1)" class="t" font-size="36.5" font-weight="normal" letter-spacing="0.295">754</text>
<text transform="translate(1299.50,525.6) scale(1.0419,1)" class="t" font-size="36.5" font-weight="normal" letter-spacing="1.248">045</text>
<text transform="translate(1161.00,902.0) scale(1.0312,1)" class="t" font-size="36.5" font-weight="normal" letter-spacing="0.931">oppure</text>
<text transform="translate(1162.00,951.6) scale(1.0211,1)" class="t" font-size="36.5" font-weight="normal" letter-spacing="0.196">AD</text>
<text transform="translate(1225.00,951.6) scale(1.0275,1)" class="t" font-size="36.5" font-weight="normal" letter-spacing="0.681">854</text>
<text transform="translate(1299.50,951.6) scale(1.0419,1)" class="t" font-size="36.5" font-weight="normal" letter-spacing="1.248">045</text>
<text transform="translate(1157.50,1094.2) scale(1.0249,1)" class="t" font-size="36.5" font-weight="normal" letter-spacing="0.937">oppure</text>
<text transform="translate(1157.50,1142.6) scale(1.0301,1)" class="t" font-size="36.5" font-weight="normal" letter-spacing="0.721">raccordo</text>
<text transform="translate(1159.00,1193.0) scale(1.0185,1)" class="t" font-size="36.5" font-weight="normal" letter-spacing="0.687">per</text>
<text transform="translate(1224.50,1193.0) scale(1.0316,1)" class="t" font-size="36.5" font-weight="normal" letter-spacing="0.646">tubi</text>
<text transform="translate(1158.00,1240.0) scale(1.0319,1)" class="t" font-size="36.5" font-weight="normal" letter-spacing="-0.194">in</text>
<text transform="translate(1198.00,1240.0) scale(1.0201,1)" class="t" font-size="36.5" font-weight="normal" letter-spacing="0.441">basso</text>
<text transform="translate(1158.00,1289.1) scale(0.9667,1)" class="t" font-size="36.5" font-weight="normal" letter-spacing="0.000">2</text>
<text transform="translate(1190.00,1289.1) scale(0.7556,1)" class="t" font-size="36.5" font-weight="normal" letter-spacing="0.000">x</text>
<text transform="translate(1215.00,1289.1) scale(1.0481,1)" class="t" font-size="36.5" font-weight="normal" letter-spacing="2.671">NW</text>
<text transform="translate(1294.50,1289.1) scale(1.0205,1)" class="t" font-size="36.5" font-weight="normal" letter-spacing="0.196">150</text>
<text transform="translate(1158.50,1339.1) scale(1.0054,1)" class="t" font-size="36.5" font-weight="normal" letter-spacing="0.398">AD</text>
<text transform="translate(1221.50,1339.1) scale(1.0221,1)" class="t" font-size="36.5" font-weight="normal" letter-spacing="0.783">854</text>
<text transform="translate(1296.00,1339.1) scale(1.0282,1)" class="t" font-size="36.5" font-weight="normal" letter-spacing="1.362">043</text>
</svg>
</body></html>
